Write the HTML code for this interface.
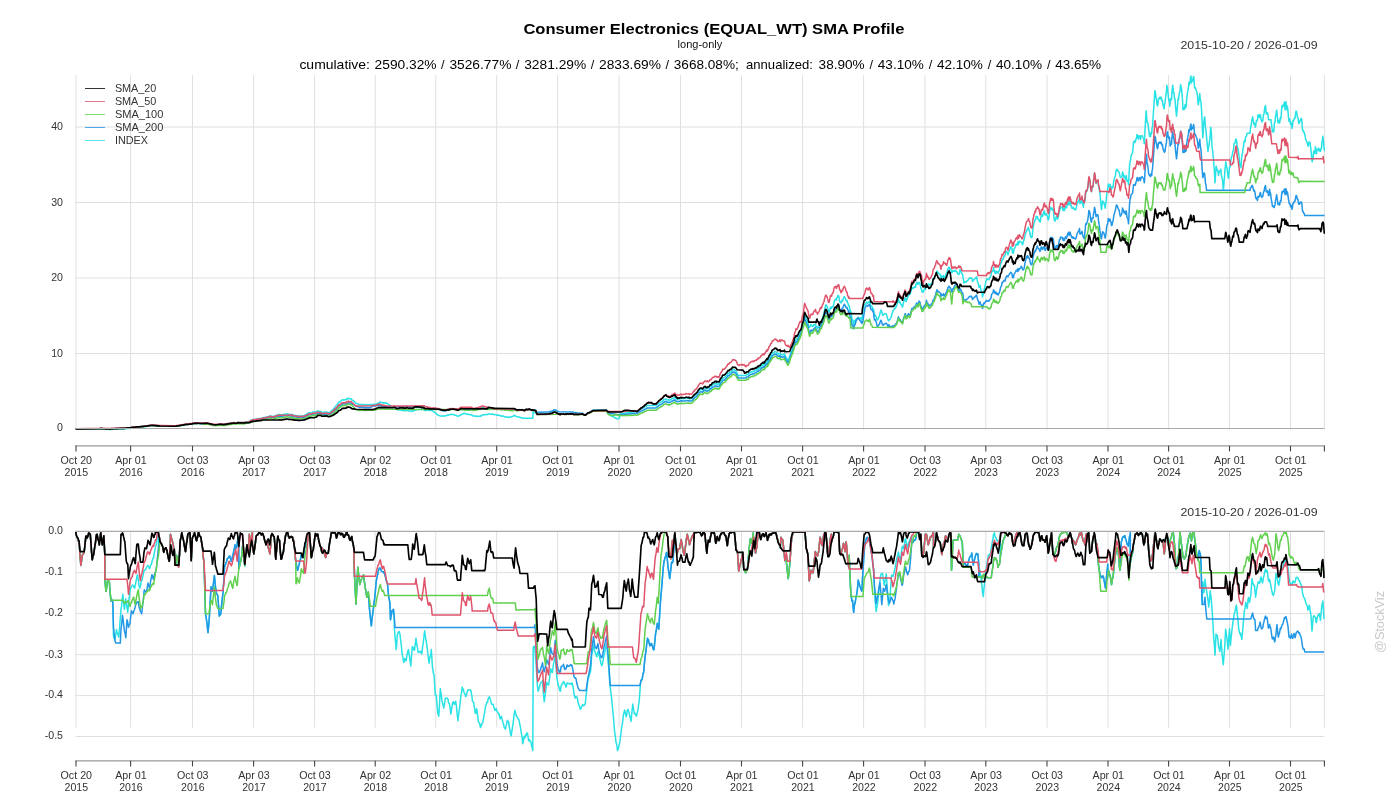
<!DOCTYPE html><html><head><meta charset="utf-8"><title>SMA Profile</title><style>html,body{margin:0;padding:0;background:#fff}svg{display:block;will-change:transform}text{font-family:"Liberation Sans",sans-serif}</style></head><body>
<svg width="1400" height="800" viewBox="0 0 1400 800">
<rect width="1400" height="800" fill="#fff"/>
<g stroke="#dfdfdf" stroke-width="1" fill="none">
<line x1="76.0" y1="75.2" x2="76.0" y2="429.6"/>
<line x1="130.6" y1="75.2" x2="130.6" y2="429.6"/>
<line x1="192.5" y1="75.2" x2="192.5" y2="429.6"/>
<line x1="253.6" y1="75.2" x2="253.6" y2="429.6"/>
<line x1="314.6" y1="75.2" x2="314.6" y2="429.6"/>
<line x1="375.2" y1="75.2" x2="375.2" y2="429.6"/>
<line x1="435.8" y1="75.2" x2="435.8" y2="429.6"/>
<line x1="496.7" y1="75.2" x2="496.7" y2="429.6"/>
<line x1="557.6" y1="75.2" x2="557.6" y2="429.6"/>
<line x1="619.0" y1="75.2" x2="619.0" y2="429.6"/>
<line x1="680.5" y1="75.2" x2="680.5" y2="429.6"/>
<line x1="741.5" y1="75.2" x2="741.5" y2="429.6"/>
<line x1="802.6" y1="75.2" x2="802.6" y2="429.6"/>
<line x1="863.6" y1="75.2" x2="863.6" y2="429.6"/>
<line x1="925.0" y1="75.2" x2="925.0" y2="429.6"/>
<line x1="985.8" y1="75.2" x2="985.8" y2="429.6"/>
<line x1="1047.0" y1="75.2" x2="1047.0" y2="429.6"/>
<line x1="1108.0" y1="75.2" x2="1108.0" y2="429.6"/>
<line x1="1168.6" y1="75.2" x2="1168.6" y2="429.6"/>
<line x1="1229.5" y1="75.2" x2="1229.5" y2="429.6"/>
<line x1="1290.5" y1="75.2" x2="1290.5" y2="429.6"/>
<line x1="1324.4" y1="75.2" x2="1324.4" y2="429.6"/>
<line x1="75.6" y1="127.0" x2="1324.4" y2="127.0"/>
<line x1="75.6" y1="202.5" x2="1324.4" y2="202.5"/>
<line x1="75.6" y1="278.0" x2="1324.4" y2="278.0"/>
<line x1="75.6" y1="353.5" x2="1324.4" y2="353.5"/>
</g>
<g stroke="#dfdfdf" stroke-width="1" fill="none">
<line x1="76.0" y1="531.5" x2="76.0" y2="727.6"/>
<line x1="130.6" y1="531.5" x2="130.6" y2="727.6"/>
<line x1="192.5" y1="531.5" x2="192.5" y2="727.6"/>
<line x1="253.6" y1="531.5" x2="253.6" y2="727.6"/>
<line x1="314.6" y1="531.5" x2="314.6" y2="727.6"/>
<line x1="375.2" y1="531.5" x2="375.2" y2="727.6"/>
<line x1="435.8" y1="531.5" x2="435.8" y2="727.6"/>
<line x1="496.7" y1="531.5" x2="496.7" y2="727.6"/>
<line x1="557.6" y1="531.5" x2="557.6" y2="727.6"/>
<line x1="619.0" y1="531.5" x2="619.0" y2="727.6"/>
<line x1="680.5" y1="531.5" x2="680.5" y2="727.6"/>
<line x1="741.5" y1="531.5" x2="741.5" y2="727.6"/>
<line x1="802.6" y1="531.5" x2="802.6" y2="727.6"/>
<line x1="863.6" y1="531.5" x2="863.6" y2="727.6"/>
<line x1="925.0" y1="531.5" x2="925.0" y2="727.6"/>
<line x1="985.8" y1="531.5" x2="985.8" y2="727.6"/>
<line x1="1047.0" y1="531.5" x2="1047.0" y2="727.6"/>
<line x1="1108.0" y1="531.5" x2="1108.0" y2="727.6"/>
<line x1="1168.6" y1="531.5" x2="1168.6" y2="727.6"/>
<line x1="1229.5" y1="531.5" x2="1229.5" y2="727.6"/>
<line x1="1290.5" y1="531.5" x2="1290.5" y2="727.6"/>
<line x1="1324.4" y1="531.5" x2="1324.4" y2="727.6"/>
<line x1="75.6" y1="572.6" x2="1324.4" y2="572.6"/>
<line x1="75.6" y1="613.6" x2="1324.4" y2="613.6"/>
<line x1="75.6" y1="654.7" x2="1324.4" y2="654.7"/>
<line x1="75.6" y1="695.6" x2="1324.4" y2="695.6"/>
<line x1="75.6" y1="736.5" x2="1324.4" y2="736.5"/>
</g>
<line x1="75.1" y1="445.8" x2="1324.9" y2="445.8" stroke="#999999" stroke-width="1.3"/>
<g stroke="#444444" stroke-width="1.1">
<line x1="76.0" y1="445.8" x2="76.0" y2="451.4"/>
<line x1="130.6" y1="445.8" x2="130.6" y2="451.4"/>
<line x1="192.5" y1="445.8" x2="192.5" y2="451.4"/>
<line x1="253.6" y1="445.8" x2="253.6" y2="451.4"/>
<line x1="314.6" y1="445.8" x2="314.6" y2="451.4"/>
<line x1="375.2" y1="445.8" x2="375.2" y2="451.4"/>
<line x1="435.8" y1="445.8" x2="435.8" y2="451.4"/>
<line x1="496.7" y1="445.8" x2="496.7" y2="451.4"/>
<line x1="557.6" y1="445.8" x2="557.6" y2="451.4"/>
<line x1="619.0" y1="445.8" x2="619.0" y2="451.4"/>
<line x1="680.5" y1="445.8" x2="680.5" y2="451.4"/>
<line x1="741.5" y1="445.8" x2="741.5" y2="451.4"/>
<line x1="802.6" y1="445.8" x2="802.6" y2="451.4"/>
<line x1="863.6" y1="445.8" x2="863.6" y2="451.4"/>
<line x1="925.0" y1="445.8" x2="925.0" y2="451.4"/>
<line x1="985.8" y1="445.8" x2="985.8" y2="451.4"/>
<line x1="1047.0" y1="445.8" x2="1047.0" y2="451.4"/>
<line x1="1108.0" y1="445.8" x2="1108.0" y2="451.4"/>
<line x1="1168.6" y1="445.8" x2="1168.6" y2="451.4"/>
<line x1="1229.5" y1="445.8" x2="1229.5" y2="451.4"/>
<line x1="1290.5" y1="445.8" x2="1290.5" y2="451.4"/>
<line x1="1324.4" y1="445.8" x2="1324.4" y2="451.4"/>
</g>
<g font-size="10.6" fill="#333333" text-anchor="middle">
<text x="76.3" y="464.2" textLength="31.5" lengthAdjust="spacingAndGlyphs">Oct 20</text>
<text x="76.3" y="475.8" textLength="23.5" lengthAdjust="spacingAndGlyphs">2015</text>
<text x="130.9" y="464.2" textLength="31.5" lengthAdjust="spacingAndGlyphs">Apr 01</text>
<text x="130.9" y="475.8" textLength="23.5" lengthAdjust="spacingAndGlyphs">2016</text>
<text x="192.8" y="464.2" textLength="31.5" lengthAdjust="spacingAndGlyphs">Oct 03</text>
<text x="192.8" y="475.8" textLength="23.5" lengthAdjust="spacingAndGlyphs">2016</text>
<text x="253.9" y="464.2" textLength="31.5" lengthAdjust="spacingAndGlyphs">Apr 03</text>
<text x="253.9" y="475.8" textLength="23.5" lengthAdjust="spacingAndGlyphs">2017</text>
<text x="314.9" y="464.2" textLength="31.5" lengthAdjust="spacingAndGlyphs">Oct 03</text>
<text x="314.9" y="475.8" textLength="23.5" lengthAdjust="spacingAndGlyphs">2017</text>
<text x="375.5" y="464.2" textLength="31.5" lengthAdjust="spacingAndGlyphs">Apr 02</text>
<text x="375.5" y="475.8" textLength="23.5" lengthAdjust="spacingAndGlyphs">2018</text>
<text x="436.1" y="464.2" textLength="31.5" lengthAdjust="spacingAndGlyphs">Oct 01</text>
<text x="436.1" y="475.8" textLength="23.5" lengthAdjust="spacingAndGlyphs">2018</text>
<text x="497.0" y="464.2" textLength="31.5" lengthAdjust="spacingAndGlyphs">Apr 01</text>
<text x="497.0" y="475.8" textLength="23.5" lengthAdjust="spacingAndGlyphs">2019</text>
<text x="557.9" y="464.2" textLength="31.5" lengthAdjust="spacingAndGlyphs">Oct 01</text>
<text x="557.9" y="475.8" textLength="23.5" lengthAdjust="spacingAndGlyphs">2019</text>
<text x="619.3" y="464.2" textLength="31.5" lengthAdjust="spacingAndGlyphs">Apr 01</text>
<text x="619.3" y="475.8" textLength="23.5" lengthAdjust="spacingAndGlyphs">2020</text>
<text x="680.8" y="464.2" textLength="31.5" lengthAdjust="spacingAndGlyphs">Oct 01</text>
<text x="680.8" y="475.8" textLength="23.5" lengthAdjust="spacingAndGlyphs">2020</text>
<text x="741.8" y="464.2" textLength="31.5" lengthAdjust="spacingAndGlyphs">Apr 01</text>
<text x="741.8" y="475.8" textLength="23.5" lengthAdjust="spacingAndGlyphs">2021</text>
<text x="802.9" y="464.2" textLength="31.5" lengthAdjust="spacingAndGlyphs">Oct 01</text>
<text x="802.9" y="475.8" textLength="23.5" lengthAdjust="spacingAndGlyphs">2021</text>
<text x="863.9" y="464.2" textLength="31.5" lengthAdjust="spacingAndGlyphs">Apr 01</text>
<text x="863.9" y="475.8" textLength="23.5" lengthAdjust="spacingAndGlyphs">2022</text>
<text x="925.3" y="464.2" textLength="31.5" lengthAdjust="spacingAndGlyphs">Oct 03</text>
<text x="925.3" y="475.8" textLength="23.5" lengthAdjust="spacingAndGlyphs">2022</text>
<text x="986.1" y="464.2" textLength="31.5" lengthAdjust="spacingAndGlyphs">Apr 03</text>
<text x="986.1" y="475.8" textLength="23.5" lengthAdjust="spacingAndGlyphs">2023</text>
<text x="1047.3" y="464.2" textLength="31.5" lengthAdjust="spacingAndGlyphs">Oct 03</text>
<text x="1047.3" y="475.8" textLength="23.5" lengthAdjust="spacingAndGlyphs">2023</text>
<text x="1108.3" y="464.2" textLength="31.5" lengthAdjust="spacingAndGlyphs">Apr 01</text>
<text x="1108.3" y="475.8" textLength="23.5" lengthAdjust="spacingAndGlyphs">2024</text>
<text x="1168.9" y="464.2" textLength="31.5" lengthAdjust="spacingAndGlyphs">Oct 01</text>
<text x="1168.9" y="475.8" textLength="23.5" lengthAdjust="spacingAndGlyphs">2024</text>
<text x="1229.8" y="464.2" textLength="31.5" lengthAdjust="spacingAndGlyphs">Apr 01</text>
<text x="1229.8" y="475.8" textLength="23.5" lengthAdjust="spacingAndGlyphs">2025</text>
<text x="1290.8" y="464.2" textLength="31.5" lengthAdjust="spacingAndGlyphs">Oct 01</text>
<text x="1290.8" y="475.8" textLength="23.5" lengthAdjust="spacingAndGlyphs">2025</text>
</g>
<line x1="75.1" y1="760.8" x2="1324.9" y2="760.8" stroke="#999999" stroke-width="1.3"/>
<g stroke="#444444" stroke-width="1.1">
<line x1="76.0" y1="760.8" x2="76.0" y2="766.4"/>
<line x1="130.6" y1="760.8" x2="130.6" y2="766.4"/>
<line x1="192.5" y1="760.8" x2="192.5" y2="766.4"/>
<line x1="253.6" y1="760.8" x2="253.6" y2="766.4"/>
<line x1="314.6" y1="760.8" x2="314.6" y2="766.4"/>
<line x1="375.2" y1="760.8" x2="375.2" y2="766.4"/>
<line x1="435.8" y1="760.8" x2="435.8" y2="766.4"/>
<line x1="496.7" y1="760.8" x2="496.7" y2="766.4"/>
<line x1="557.6" y1="760.8" x2="557.6" y2="766.4"/>
<line x1="619.0" y1="760.8" x2="619.0" y2="766.4"/>
<line x1="680.5" y1="760.8" x2="680.5" y2="766.4"/>
<line x1="741.5" y1="760.8" x2="741.5" y2="766.4"/>
<line x1="802.6" y1="760.8" x2="802.6" y2="766.4"/>
<line x1="863.6" y1="760.8" x2="863.6" y2="766.4"/>
<line x1="925.0" y1="760.8" x2="925.0" y2="766.4"/>
<line x1="985.8" y1="760.8" x2="985.8" y2="766.4"/>
<line x1="1047.0" y1="760.8" x2="1047.0" y2="766.4"/>
<line x1="1108.0" y1="760.8" x2="1108.0" y2="766.4"/>
<line x1="1168.6" y1="760.8" x2="1168.6" y2="766.4"/>
<line x1="1229.5" y1="760.8" x2="1229.5" y2="766.4"/>
<line x1="1290.5" y1="760.8" x2="1290.5" y2="766.4"/>
<line x1="1324.4" y1="760.8" x2="1324.4" y2="766.4"/>
</g>
<g font-size="10.6" fill="#333333" text-anchor="middle">
<text x="76.3" y="779.2" textLength="31.5" lengthAdjust="spacingAndGlyphs">Oct 20</text>
<text x="76.3" y="790.8" textLength="23.5" lengthAdjust="spacingAndGlyphs">2015</text>
<text x="130.9" y="779.2" textLength="31.5" lengthAdjust="spacingAndGlyphs">Apr 01</text>
<text x="130.9" y="790.8" textLength="23.5" lengthAdjust="spacingAndGlyphs">2016</text>
<text x="192.8" y="779.2" textLength="31.5" lengthAdjust="spacingAndGlyphs">Oct 03</text>
<text x="192.8" y="790.8" textLength="23.5" lengthAdjust="spacingAndGlyphs">2016</text>
<text x="253.9" y="779.2" textLength="31.5" lengthAdjust="spacingAndGlyphs">Apr 03</text>
<text x="253.9" y="790.8" textLength="23.5" lengthAdjust="spacingAndGlyphs">2017</text>
<text x="314.9" y="779.2" textLength="31.5" lengthAdjust="spacingAndGlyphs">Oct 03</text>
<text x="314.9" y="790.8" textLength="23.5" lengthAdjust="spacingAndGlyphs">2017</text>
<text x="375.5" y="779.2" textLength="31.5" lengthAdjust="spacingAndGlyphs">Apr 02</text>
<text x="375.5" y="790.8" textLength="23.5" lengthAdjust="spacingAndGlyphs">2018</text>
<text x="436.1" y="779.2" textLength="31.5" lengthAdjust="spacingAndGlyphs">Oct 01</text>
<text x="436.1" y="790.8" textLength="23.5" lengthAdjust="spacingAndGlyphs">2018</text>
<text x="497.0" y="779.2" textLength="31.5" lengthAdjust="spacingAndGlyphs">Apr 01</text>
<text x="497.0" y="790.8" textLength="23.5" lengthAdjust="spacingAndGlyphs">2019</text>
<text x="557.9" y="779.2" textLength="31.5" lengthAdjust="spacingAndGlyphs">Oct 01</text>
<text x="557.9" y="790.8" textLength="23.5" lengthAdjust="spacingAndGlyphs">2019</text>
<text x="619.3" y="779.2" textLength="31.5" lengthAdjust="spacingAndGlyphs">Apr 01</text>
<text x="619.3" y="790.8" textLength="23.5" lengthAdjust="spacingAndGlyphs">2020</text>
<text x="680.8" y="779.2" textLength="31.5" lengthAdjust="spacingAndGlyphs">Oct 01</text>
<text x="680.8" y="790.8" textLength="23.5" lengthAdjust="spacingAndGlyphs">2020</text>
<text x="741.8" y="779.2" textLength="31.5" lengthAdjust="spacingAndGlyphs">Apr 01</text>
<text x="741.8" y="790.8" textLength="23.5" lengthAdjust="spacingAndGlyphs">2021</text>
<text x="802.9" y="779.2" textLength="31.5" lengthAdjust="spacingAndGlyphs">Oct 01</text>
<text x="802.9" y="790.8" textLength="23.5" lengthAdjust="spacingAndGlyphs">2021</text>
<text x="863.9" y="779.2" textLength="31.5" lengthAdjust="spacingAndGlyphs">Apr 01</text>
<text x="863.9" y="790.8" textLength="23.5" lengthAdjust="spacingAndGlyphs">2022</text>
<text x="925.3" y="779.2" textLength="31.5" lengthAdjust="spacingAndGlyphs">Oct 03</text>
<text x="925.3" y="790.8" textLength="23.5" lengthAdjust="spacingAndGlyphs">2022</text>
<text x="986.1" y="779.2" textLength="31.5" lengthAdjust="spacingAndGlyphs">Apr 03</text>
<text x="986.1" y="790.8" textLength="23.5" lengthAdjust="spacingAndGlyphs">2023</text>
<text x="1047.3" y="779.2" textLength="31.5" lengthAdjust="spacingAndGlyphs">Oct 03</text>
<text x="1047.3" y="790.8" textLength="23.5" lengthAdjust="spacingAndGlyphs">2023</text>
<text x="1108.3" y="779.2" textLength="31.5" lengthAdjust="spacingAndGlyphs">Apr 01</text>
<text x="1108.3" y="790.8" textLength="23.5" lengthAdjust="spacingAndGlyphs">2024</text>
<text x="1168.9" y="779.2" textLength="31.5" lengthAdjust="spacingAndGlyphs">Oct 01</text>
<text x="1168.9" y="790.8" textLength="23.5" lengthAdjust="spacingAndGlyphs">2024</text>
<text x="1229.8" y="779.2" textLength="31.5" lengthAdjust="spacingAndGlyphs">Apr 01</text>
<text x="1229.8" y="790.8" textLength="23.5" lengthAdjust="spacingAndGlyphs">2025</text>
<text x="1290.8" y="779.2" textLength="31.5" lengthAdjust="spacingAndGlyphs">Oct 01</text>
<text x="1290.8" y="790.8" textLength="23.5" lengthAdjust="spacingAndGlyphs">2025</text>
</g>
<g font-size="10.6" fill="#333333" text-anchor="end">
<text x="63" y="130.0">40</text>
<text x="63" y="205.5">30</text>
<text x="63" y="281.0">20</text>
<text x="63" y="356.5">10</text>
<text x="63" y="430.9">0</text>
<text x="63" y="534.3">0.0</text>
<text x="63" y="575.4">-0.1</text>
<text x="63" y="616.4">-0.2</text>
<text x="63" y="657.5">-0.3</text>
<text x="63" y="698.4">-0.4</text>
<text x="63" y="739.3">-0.5</text>
</g>
<defs><clipPath id="ct"><rect x="75.0" y="74.5" width="1250.0" height="360.0"/></clipPath><clipPath id="cb"><rect x="75.0" y="530.8" width="1250.0" height="225.0"/></clipPath></defs>
<g clip-path="url(#ct)" fill="none" stroke-linejoin="round" stroke-linecap="butt">
<path d="M75.7 428.9L100.0 428.6L100.5 428.5L101.0 428.6L101.5 428.7L102.0 428.6L102.5 428.7L103.0 428.7L103.5 428.7L104.0 428.7L104.5 428.7L105.0 428.8L105.5 428.8L106.0 428.9L106.5 428.9L107.0 428.9L107.5 428.8L108.0 428.8L108.5 429.4L109.0 429.4L109.5 429.4L110.0 429.5L110.5 429.4L111.0 429.5L111.5 429.3L112.0 429.3L112.5 429.3L113.0 429.3L113.5 429.3L114.0 429.3L114.5 429.2L115.0 429.2L115.5 429.2L116.0 429.2L116.5 429.2L117.0 429.2L117.5 429.1L118.0 429.1L118.5 429.0L119.0 429.1L119.5 429.1L120.0 429.0L120.5 429.0L121.0 429.0L121.5 429.0L122.0 429.0L122.5 428.9L123.0 428.9L123.5 428.9L124.0 428.9L124.5 428.9L125.0 428.8L125.5 428.7L126.0 428.7L126.5 428.6L127.0 428.6L127.5 428.4L128.0 428.4L128.5 428.3L129.0 428.4L129.5 428.5L130.0 428.5L130.5 428.3L130.7 428.2L131.0 428.2L131.5 428.1L132.0 428.0L132.5 427.8L133.0 427.8L133.5 427.7L134.0 427.7L134.5 427.7L135.0 427.7L135.5 427.6L136.0 427.5L136.5 427.4L137.0 427.3L137.5 427.3L138.0 427.4L138.5 427.4L139.0 427.4L139.5 427.3L140.0 427.2L140.5 427.2L141.0 427.1L141.5 427.1L142.0 427.2L142.5 427.0L143.0 427.0L143.5 427.0L144.0 426.8L144.5 426.8L145.0 426.8L145.5 426.8L146.0 426.1L146.5 426.1L147.0 426.0L147.5 425.9L148.0 425.8L148.5 425.8L149.0 425.6L149.5 425.7L150.0 425.6L150.5 425.5L151.0 425.5L151.5 425.5L152.0 425.4L152.5 425.4L153.0 425.4L153.5 425.6L154.0 425.5L154.5 425.5L155.0 425.6L155.5 425.6L156.0 425.8L156.5 425.8L157.0 425.6L157.5 425.8L158.0 425.8L158.5 425.8L159.0 425.9L159.5 425.9L160.0 426.0L175.0 426.2L175.5 426.2L176.0 426.2L176.5 426.1L177.0 426.0L177.5 426.0L178.0 425.8L178.5 425.8L179.0 425.7L179.5 425.7L180.0 425.4L180.5 425.4L181.0 425.4L181.5 425.3L182.0 425.2L182.5 425.1L183.0 425.0L183.5 424.9L184.0 424.8L184.5 424.8L185.0 424.6L185.5 424.5L186.0 424.5L186.5 424.4L187.0 424.5L187.5 424.5L188.0 424.4L188.5 424.3L189.0 424.2L189.5 424.1L190.0 424.1L190.5 424.0L191.0 424.1L191.5 424.0L192.0 423.9L192.5 423.6L193.0 423.6L193.5 423.6L194.0 423.4L194.5 423.3L195.0 423.3L195.5 423.3L196.0 423.5L196.5 423.4L197.0 423.2L197.5 423.4L198.0 423.3L198.5 423.2L198.6 423.2L199.0 423.2L199.5 423.4L200.0 423.5L200.5 423.5L201.0 423.4L201.5 423.5L202.0 423.5L202.5 423.5L203.0 423.5L203.5 423.5L204.0 423.3L204.5 423.4L205.0 423.3L205.5 423.4L206.0 423.3L206.5 423.3L207.0 423.2L207.5 423.4L208.0 423.4L208.5 423.6L209.0 423.7L209.5 423.8L210.0 423.8L210.5 424.0L211.0 424.1L211.5 424.2L212.0 424.3L212.5 424.6L212.9 424.6L213.0 424.6L213.5 424.7L214.0 424.7L214.5 424.7L215.0 424.8L215.5 424.9L216.0 424.7L216.5 424.7L217.0 424.7L217.5 424.7L218.0 424.6L218.5 424.5L219.0 424.5L219.5 424.3L220.0 424.5L220.5 424.4L221.0 424.5L221.5 424.4L222.0 424.4L222.5 424.5L223.0 424.6L223.5 424.5L224.0 424.7L224.5 424.5L225.0 424.4L225.5 423.9L226.0 423.7L226.5 423.8L227.0 423.6L227.5 423.5L228.0 423.5L228.5 423.4L229.0 423.3L229.5 423.2L230.0 423.2L230.5 423.1L231.0 423.0L231.5 422.9L232.0 422.9L232.5 422.7L233.0 422.7L233.5 422.5L234.0 422.5L234.5 422.7L235.0 422.7L235.5 422.7L236.0 422.8L236.5 422.7L237.0 422.6L237.5 422.3L238.0 422.3L238.5 422.4L239.0 422.4L239.5 422.5L240.0 422.4L240.5 422.4L241.0 422.5L241.4 422.4L241.5 422.4L242.0 422.4L242.5 422.5L243.0 422.5L243.5 422.6L244.0 422.4L244.5 422.4L245.0 422.4L245.5 422.2L246.0 422.3L246.5 422.1L247.0 422.1L247.5 422.3L248.0 422.2L248.5 422.1L249.0 422.0L249.5 422.0L250.0 420.8L250.5 420.5L251.0 420.3L251.5 420.1L252.0 419.8L252.5 419.7L253.0 419.4L253.5 419.4L254.0 419.3L254.5 419.4L255.0 419.4L255.5 419.3L256.0 419.1L256.5 418.9L257.0 418.9L257.5 418.9L258.0 418.8L258.5 418.6L259.0 418.6L259.5 418.5L260.0 418.5L260.5 418.5L261.0 418.4L261.5 418.4L262.0 418.0L262.5 417.8L262.9 417.8L263.0 417.8L263.5 417.7L264.0 417.5L264.5 417.6L265.0 417.5L265.5 417.2L266.0 417.2L266.5 417.0L267.0 417.1L267.5 416.9L268.0 417.0L268.5 416.7L269.0 416.4L269.5 416.1L270.0 416.1L270.5 415.9L271.0 415.9L271.5 416.2L272.0 416.4L272.5 416.5L273.0 416.3L273.5 416.4L274.0 416.4L274.5 416.2L275.0 415.7L275.5 415.9L276.0 415.4L276.5 415.4L277.0 415.1L277.5 415.2L278.0 414.7L278.5 414.9L278.6 414.8L279.0 414.7L279.5 414.4L280.0 414.7L280.5 414.8L281.0 414.8L281.5 415.0L282.0 414.9L282.5 414.6L283.0 414.4L283.5 414.5L284.0 414.1L284.5 414.4L285.0 414.3L285.5 414.3L286.0 414.1L286.5 413.9L287.0 413.6L287.5 414.0L288.0 414.1L288.5 414.3L288.6 414.3L289.0 414.2L289.5 414.4L290.0 414.4L290.5 414.4L291.0 414.5L291.5 414.6L292.0 414.7L292.5 414.5L293.0 415.0L293.5 415.1L294.0 415.4L294.5 415.4L295.0 415.4L295.5 415.5L296.0 415.5L296.5 415.8L297.0 415.7L297.5 415.7L298.0 415.9L298.5 415.9L299.0 415.9L299.5 415.9L300.0 416.0L300.5 416.2L301.0 416.0L301.5 415.9L302.0 415.9L302.5 416.0L303.0 415.7L303.5 415.7L304.0 415.7L304.3 415.8L304.5 415.7L305.0 415.1L305.5 415.1L306.0 414.7L306.5 414.3L307.0 414.0L307.5 413.7L308.0 413.4L308.5 412.9L308.6 412.8L309.0 412.6L309.5 412.8L310.0 412.8L310.5 412.7L311.0 412.9L311.5 412.9L312.0 412.7L312.5 412.1L313.0 412.1L313.5 412.0L314.0 412.1L314.5 411.7L315.0 411.7L315.5 411.8L316.0 411.8L316.5 411.7L317.0 411.2L317.1 411.1L317.5 410.9L318.0 411.0L318.5 411.3L319.0 411.3L319.5 411.4L320.0 411.3L320.5 411.4L321.0 411.4L321.5 412.1L322.0 412.3L322.5 412.4L323.0 412.4L323.5 412.3L324.0 412.1L324.5 412.1L325.0 412.1L325.5 412.1L326.0 412.1L326.5 411.9L327.0 412.1L327.5 412.4L328.0 412.6L328.5 412.8L328.6 412.8L329.0 412.5L329.5 412.2L330.0 412.0L330.5 411.7L331.0 411.3L331.5 410.7L332.0 410.2L332.5 409.8L333.0 409.5L333.5 408.9L334.0 408.2L334.5 407.7L335.0 406.9L335.5 406.2L335.7 406.0L336.0 405.9L336.5 405.7L337.0 405.1L337.5 404.2L338.0 403.5L338.5 402.6L339.0 402.1L339.5 402.1L340.0 401.6L340.5 401.5L341.0 401.0L341.4 400.3L341.5 400.2L342.0 400.0L342.5 399.7L343.0 399.8L343.5 400.1L344.0 399.9L344.5 399.9L345.0 399.7L345.5 399.6L346.0 399.9L346.5 399.1L347.0 398.6L347.5 399.0L348.0 398.7L348.5 398.1L349.0 398.6L349.5 398.8L350.0 398.9L350.5 399.0L351.0 398.7L351.4 398.9L351.5 399.1L352.0 399.9L352.5 400.5L353.0 400.4L353.5 400.9L354.0 401.4L354.5 401.9L355.0 402.6L355.5 402.9L355.7 403.2L356.0 403.3L356.5 403.3L357.0 403.7L357.5 403.7L358.0 403.9L358.5 404.1L359.0 404.6L359.5 404.6L360.0 404.7L360.5 404.6L361.0 404.3L361.5 404.6L362.0 404.4L362.5 404.6L363.0 404.8L363.5 404.4L364.0 404.8L364.5 404.9L365.0 404.8L365.5 405.0L366.0 404.6L366.5 404.6L367.0 404.5L367.5 404.9L368.0 404.9L368.5 405.0L369.0 404.8L369.5 404.4L370.0 404.5L370.5 404.8L371.0 405.0L371.5 404.9L372.0 404.4L372.5 404.6L372.9 404.6L373.0 404.5L373.5 404.4L374.0 404.3L374.5 404.5L375.0 404.5L375.5 404.3L376.0 404.0L376.5 403.9L377.0 403.6L377.5 403.6L378.0 403.3L378.5 403.3L379.0 402.7L379.5 402.3L380.0 402.0L380.5 402.1L381.0 402.4L381.5 402.7L382.0 402.6L382.5 402.7L383.0 402.5L383.5 403.0L384.0 403.3L384.5 403.0L385.0 403.0L385.5 402.8L386.0 402.9L386.5 403.2L387.0 403.2L387.1 403.2L387.5 403.5L388.0 404.0L388.5 404.4L389.0 404.5L389.5 405.2L390.0 405.4L390.5 406.0L391.0 406.1L391.4 406.7L391.5 406.8L392.0 406.8L392.5 406.9L393.0 407.2L393.5 407.2L394.0 407.5L394.5 407.4L395.0 407.7L395.5 408.1L396.0 408.6L396.5 409.4L397.0 409.7L397.5 409.7L398.0 409.5L398.5 409.6L399.0 410.0L399.5 409.9L400.0 409.5L400.5 410.0L401.0 410.2L401.4 410.3L401.5 410.3L402.0 410.6L402.5 410.2L403.0 410.4L403.5 410.4L404.0 410.8L404.5 410.7L405.0 410.6L405.5 410.6L406.0 410.8L406.5 410.3L407.0 410.4L407.5 410.4L408.0 410.7L408.5 411.0L409.0 411.1L409.5 410.9L410.0 410.9L410.5 410.9L411.0 410.9L411.4 411.0L411.5 411.0L412.0 411.4L412.5 411.2L413.0 410.9L413.5 411.0L414.0 410.3L414.5 410.4L415.0 410.1L415.5 410.0L416.0 409.7L416.5 410.1L417.0 409.8L417.5 409.6L418.0 409.6L418.5 409.4L419.0 409.5L419.5 409.4L420.0 409.5L420.5 409.4L421.0 409.4L421.4 409.6L421.5 409.7L422.0 409.4L422.5 409.2L423.0 409.6L423.5 409.7L424.0 409.8L424.5 409.9L425.0 410.5L425.5 410.5L426.0 410.4L426.5 410.4L427.0 410.2L427.5 410.1L428.0 410.2L428.5 410.4L429.0 410.5L429.5 409.9L430.0 410.0L430.5 410.5L431.0 410.5L431.4 410.3L431.5 410.3L432.0 410.6L432.5 410.8L433.0 411.1L433.5 411.8L434.0 411.8L434.5 412.1L435.0 412.4L435.5 412.9L436.0 413.3L436.5 413.9L437.0 414.3L437.5 414.6L438.0 415.1L438.5 415.2L438.6 415.3L439.0 415.4L439.5 415.7L440.0 415.9L440.5 416.0L441.0 416.0L441.5 415.9L442.0 416.2L442.5 416.1L443.0 416.1L443.5 416.0L444.0 416.0L444.5 416.1L445.0 416.1L445.5 415.8L446.0 415.6L446.5 415.6L447.0 415.4L447.5 415.2L448.0 415.0L448.5 415.2L449.0 414.9L449.5 414.6L450.0 414.3L450.5 414.6L451.0 414.5L451.5 414.4L452.0 414.6L452.5 414.5L453.0 414.6L453.5 414.6L454.0 414.8L454.5 415.1L455.0 415.2L455.5 415.3L456.0 415.5L456.5 415.5L457.0 416.0L457.5 416.0L458.0 416.2L458.5 416.0L458.6 416.0L459.0 415.8L459.5 415.7L460.0 415.2L460.5 414.9L461.0 414.6L461.5 414.7L462.0 414.4L462.5 414.2L463.0 413.8L463.5 413.5L464.0 413.3L464.3 413.2L464.5 413.3L465.0 413.4L465.5 414.0L466.0 414.0L466.5 414.0L467.0 414.0L467.5 414.3L468.0 414.3L468.5 414.5L469.0 414.5L469.5 414.6L470.0 414.7L470.5 414.8L471.0 414.8L471.5 414.9L472.0 414.9L472.5 415.7L473.0 415.8L473.5 415.9L474.0 416.2L474.5 416.0L475.0 415.9L475.5 416.0L476.0 416.4L476.5 416.1L477.0 416.3L477.5 416.2L478.0 416.2L478.5 416.4L479.0 416.3L479.5 416.2L480.0 416.3L480.5 416.2L481.0 415.6L481.5 415.7L482.0 415.2L482.5 415.0L483.0 414.9L483.5 414.9L484.0 414.7L484.5 414.9L485.0 414.7L485.5 414.4L486.0 414.6L486.5 414.7L487.0 414.5L487.5 414.6L488.0 414.2L488.5 414.0L489.0 414.0L489.3 414.0L489.5 414.1L490.0 414.1L490.5 414.1L491.0 414.2L491.5 414.2L492.0 414.1L492.5 414.1L493.0 414.2L493.5 414.5L494.0 414.5L494.5 414.4L495.0 414.6L495.5 414.8L496.0 414.8L496.5 415.1L497.0 415.2L497.5 415.2L498.0 415.1L498.5 415.2L499.0 415.1L499.5 415.4L500.0 415.6L500.5 415.9L501.0 415.8L501.5 416.0L502.0 416.2L502.5 416.1L503.0 416.1L503.5 416.1L504.0 416.5L504.5 416.7L505.0 416.8L505.5 416.9L506.0 416.9L506.5 417.1L507.0 417.0L507.5 416.9L508.0 417.2L508.5 417.3L508.6 417.4L509.0 417.5L509.5 417.3L510.0 417.0L510.5 417.1L511.0 417.0L511.5 416.7L512.0 416.5L512.5 416.4L513.0 416.3L513.5 415.9L514.0 415.4L514.3 415.3L514.5 415.4L515.0 415.6L515.5 416.1L516.0 416.3L516.5 416.6L517.0 416.7L517.5 416.9L518.0 416.9L518.5 417.1L519.0 417.1L519.5 417.1L520.0 417.4L520.5 417.5L521.0 417.7L521.5 417.7L522.0 417.7L522.5 418.0L522.9 418.3L532.9 418.3L533.1 411.0L533.5 411.4L534.0 411.7L534.5 412.3L535.0 412.7L535.5 413.2L536.0 413.4L536.5 413.9L537.0 414.2L537.1 414.3L537.5 414.3L538.0 414.4L538.5 414.4L539.0 414.4L539.5 414.4L540.0 414.2L540.5 414.2L541.0 414.1L541.5 414.0L542.0 414.1L542.5 413.9L543.0 414.2L543.5 414.4L544.0 414.4L544.5 414.2L545.0 414.3L545.5 414.4L546.0 414.4L546.5 414.4L547.0 414.3L547.5 414.2L548.0 413.9L548.5 413.8L548.6 413.8L549.0 413.8L549.5 413.7L550.0 413.3L550.5 413.2L551.0 413.3L551.5 413.1L552.0 413.1L552.5 412.8L553.0 412.4L553.5 412.0L554.0 412.0L554.3 411.8L554.5 411.8L555.0 411.8L555.5 412.1L556.0 412.3L556.5 412.5L557.0 412.8L557.5 413.2L558.0 413.4L558.5 413.8L558.6 413.8L559.0 413.7L559.5 414.2L560.0 414.2L560.5 414.3L561.0 413.7L561.5 413.9L562.0 413.9L562.5 413.9L563.0 413.9L563.5 413.7L564.0 414.0L564.5 414.1L565.0 414.0L565.5 413.8L566.0 414.1L566.5 414.0L567.0 413.6L567.5 413.7L568.0 413.9L568.5 413.9L569.0 413.9L569.5 413.8L570.0 413.7L570.5 413.6L571.0 413.7L571.5 413.9L572.0 413.6L572.5 413.7L573.0 413.8L573.5 414.1L574.0 414.5L574.5 414.4L575.0 414.4L575.5 414.1L576.0 414.1L576.5 414.3L577.0 414.4L577.5 414.3L578.0 414.5L578.5 414.4L579.0 414.3L579.5 414.2L580.0 414.1L580.5 414.2L581.0 414.2L581.5 414.0L582.0 414.1L582.5 413.9L583.0 414.3L583.5 414.6L584.0 414.9L584.5 414.9L585.0 415.1L585.5 415.0L585.7 414.9L586.0 414.5L586.5 414.2L587.0 413.6L587.5 413.3L588.0 412.9L588.5 412.8L589.0 412.7L589.5 412.3L590.0 412.1L590.5 412.0L591.0 411.7L591.5 411.2L592.0 410.9L592.5 410.8L592.9 410.3L606.4 409.9L606.5 410.0L607.0 410.9L607.5 411.7L608.0 412.9L608.5 413.2L608.6 413.4L609.0 413.7L609.5 414.4L610.0 414.7L610.5 415.1L611.0 415.7L611.5 416.0L612.0 416.2L612.5 416.6L613.0 416.7L613.5 416.9L614.0 417.0L614.5 417.4L615.0 417.9L615.5 417.9L616.0 418.3L616.5 418.5L617.0 418.8L617.1 418.9L617.5 418.9L618.0 418.8L618.5 418.6L619.0 418.2L619.5 418.1L620.0 414.0L620.5 413.8L621.0 413.8L621.5 413.5L622.0 413.6L622.5 413.7L623.0 413.6L623.5 413.3L624.0 413.4L624.5 413.2L625.0 413.3L625.5 413.3L626.0 413.1L626.5 413.0L627.0 412.6L627.5 412.7L628.0 412.9L628.5 412.7L629.0 412.5L629.5 412.5L630.0 412.3L630.5 412.4L631.0 412.4L631.5 412.3L632.0 412.0L632.5 412.0L633.0 412.1L633.5 412.0L634.0 411.8L634.5 411.6L635.0 411.4L635.5 411.5L636.0 411.5L636.5 411.6L637.0 411.4L637.3 411.3L637.5 411.1L638.0 411.0L638.5 410.5L639.0 410.2L639.5 409.8L640.0 409.7L640.5 409.3L641.0 408.8L641.5 408.8L642.0 408.7L642.5 408.3L643.0 407.9L643.5 408.0L644.0 407.5L644.5 407.0L645.0 406.6L645.5 406.5L646.0 406.4L646.5 406.0L647.0 405.5L656.0 405.5L656.5 405.2L657.0 404.7L657.5 404.3L658.0 404.0L658.5 403.5L659.0 403.1L659.5 402.9L660.0 402.5L660.5 402.2L661.0 401.9L661.5 401.8L662.0 401.4L662.5 401.2L663.0 400.6L663.5 400.2L664.0 399.5L664.5 399.6L665.0 399.3L665.5 399.1L665.8 398.8L666.0 398.9L666.5 399.1L667.0 399.8L667.5 399.9L668.0 400.1L668.5 399.8L669.0 400.0L669.5 400.3L670.0 399.9L670.5 399.8L671.0 399.5L671.5 399.1L672.0 398.7L672.5 398.8L673.0 398.3L673.5 397.9L674.0 398.0L674.5 397.6L674.8 397.3L675.0 397.4L675.5 398.3L676.0 398.7L676.5 398.6L677.0 399.2L677.5 399.4L677.8 399.2L678.0 398.9L678.5 399.0L679.0 399.0L679.5 399.0L680.0 398.6L680.5 398.6L681.0 398.3L681.5 398.8L682.0 398.4L682.5 398.6L683.0 398.6L683.5 398.7L684.0 398.6L684.5 398.6L685.0 398.6L685.5 398.3L686.0 398.1L686.5 398.1L687.0 398.2L687.5 398.4L688.0 398.3L688.5 398.5L689.0 398.1L689.5 398.7L690.0 398.7L690.5 398.5L691.0 398.5L691.5 398.4L692.0 398.3L692.5 397.7L693.0 397.0L693.5 396.6L694.0 395.8L694.5 395.8L695.0 394.9L695.5 394.7L696.0 394.5L696.5 393.9L697.0 393.5L697.5 392.7L698.0 392.0L698.5 391.2L699.0 390.6L699.5 390.1L700.0 389.5L700.5 389.5L701.0 389.2L701.5 389.4L702.0 389.5L702.5 389.9L703.0 389.4L703.5 388.9L704.0 388.1L704.5 387.9L704.8 387.5L705.0 387.5L705.5 388.0L706.0 388.5L706.5 388.6L707.0 389.0L707.5 388.3L708.0 388.5L708.5 388.3L709.0 388.0L709.5 387.4L710.0 386.5L710.5 386.4L711.0 386.6L711.5 386.2L712.0 385.2L712.5 384.7L713.0 384.5L713.5 384.6L714.0 384.2L714.5 383.8L715.0 383.4L715.5 383.7L716.0 383.4L716.5 384.2L717.0 383.8L717.5 383.9L718.0 384.3L718.5 384.0L719.0 384.3L719.5 383.8L719.8 383.0L720.0 382.3L720.5 381.7L721.0 380.7L721.5 380.5L722.0 379.7L722.5 378.4L723.0 377.9L723.5 377.9L724.0 377.9L724.5 377.6L725.0 377.0L725.5 376.7L726.0 375.9L726.5 375.5L727.0 374.8L727.5 374.2L728.0 373.3L728.5 373.1L729.0 373.3L729.5 372.9L730.0 372.2L730.5 371.8L731.0 371.8L731.5 371.4L732.0 370.5L732.5 369.6L733.0 369.8L733.5 369.8L734.0 369.5L734.5 370.1L735.0 370.3L735.5 370.5L736.0 371.3L736.5 371.9L737.0 373.2L737.5 374.3L738.0 374.9L738.5 375.5L746.0 375.5L746.5 374.6L747.0 374.5L747.5 374.5L748.0 374.6L748.5 374.1L749.0 373.2L749.5 372.8L750.0 372.7L750.5 372.1L751.0 372.0L751.5 371.8L752.0 371.8L752.5 371.4L753.0 371.8L753.5 371.1L754.0 371.1L754.5 371.2L755.0 370.5L755.5 370.5L756.0 370.1L756.5 370.2L757.0 369.5L757.5 368.8L758.0 368.5L758.5 368.9L759.0 368.0L759.5 367.7L760.0 367.7L760.5 366.9L761.0 366.2L761.5 365.7L762.0 365.3L762.5 365.3L763.0 364.4L763.5 364.3L764.0 365.0L764.5 364.7L765.0 363.3L765.5 363.0L766.0 361.9L766.5 361.9L767.0 360.9L767.5 361.8L768.0 360.3L768.5 360.0L769.0 358.3L769.5 357.7L770.0 357.5L770.5 356.1L771.0 355.5L771.5 355.3L772.0 353.9L772.5 353.2L773.0 353.0L773.5 352.6L774.0 352.4L774.5 351.9L775.0 351.4L775.3 351.5L775.5 351.8L776.0 351.8L776.5 352.1L777.0 353.1L777.5 352.9L778.0 353.9L778.5 353.8L779.0 353.8L779.5 353.6L780.0 353.1L780.5 355.0L781.0 354.3L781.5 354.6L782.0 354.8L782.5 354.6L783.0 354.8L783.5 354.5L784.0 354.3L784.5 353.8L785.0 355.3L785.5 356.7L786.0 357.3L786.5 357.9L787.0 358.9L787.5 360.3L788.0 360.5L788.5 359.5L789.0 358.7L789.5 356.9L790.0 355.8L790.3 354.5L790.5 353.7L791.0 352.3L791.5 351.5L792.0 349.8L792.5 349.0L793.0 346.7L793.5 345.7L794.0 344.0L794.5 341.2L795.0 341.0L795.5 340.3L796.0 339.0L796.5 339.7L797.0 339.6L797.5 338.6L798.0 337.9L798.5 336.6L799.0 335.3L799.5 334.4L800.0 333.5L800.5 331.7L801.0 331.0L801.5 329.1L802.0 327.0L802.5 324.7L803.0 323.9L803.5 322.4L804.0 318.2L804.5 315.2L804.7 314.3L805.0 315.6L805.5 317.1L806.0 317.9L806.5 319.8L807.0 320.4L807.5 321.7L808.0 322.9L808.5 325.9L808.8 327.3L809.0 327.3L809.5 327.1L810.0 326.8L810.5 325.6L811.0 324.6L811.5 325.5L812.0 325.8L812.5 326.4L813.0 326.4L813.5 324.8L814.0 325.2L814.5 324.7L815.0 324.7L815.5 324.3L816.0 326.6L816.5 326.4L817.0 326.9L817.5 328.4L818.0 327.1L818.5 326.4L819.0 327.7L819.3 328.1L819.5 327.4L820.0 325.2L820.5 323.3L821.0 323.5L821.5 322.6L822.0 320.0L822.5 318.4L823.0 317.1L823.5 314.9L824.0 313.4L824.5 310.4L825.0 307.9L825.5 306.0L826.0 304.8L826.5 306.0L827.0 305.9L827.5 308.0L828.0 309.2L828.3 310.8L828.5 311.3L829.0 312.1L829.5 311.0L830.0 309.0L830.5 306.9L831.0 307.3L831.5 308.4L832.0 307.1L832.5 306.4L833.0 306.7L833.5 305.5L834.0 302.3L834.5 300.7L835.0 299.9L835.5 299.2L836.0 299.9L836.5 300.0L837.0 297.5L837.5 297.3L838.0 295.5L838.5 295.6L839.0 297.0L839.5 300.8L840.0 301.6L840.3 302.6L840.5 302.6L841.0 302.9L841.5 301.5L842.0 300.4L842.5 301.1L843.0 299.5L843.5 298.1L844.0 297.0L844.5 296.7L845.0 297.9L845.5 298.8L846.0 300.3L846.5 300.9L847.0 300.4L847.5 302.7L848.0 303.3L848.5 305.6L849.0 305.2L849.3 306.3L849.5 307.8L850.0 310.0L850.5 310.7L851.0 312.4L851.5 315.3L852.0 319.4L852.5 319.2L853.0 321.5L853.5 324.0L853.8 324.3L854.0 323.3L854.5 320.6L855.0 321.8L855.5 321.2L856.0 318.9L856.5 319.1L857.0 318.5L857.5 318.3L858.0 317.3L858.5 317.5L859.0 318.2L859.5 318.1L860.0 318.4L860.5 318.1L861.0 319.2L861.5 317.8L862.0 319.8L862.5 313.9L863.0 311.5L863.5 308.4L864.0 306.1L864.3 304.8L864.5 304.9L865.0 304.7L865.5 303.9L866.0 303.2L866.5 302.1L867.0 302.6L867.5 303.2L868.0 302.4L868.5 302.8L868.8 301.8L869.0 301.7L869.5 301.4L870.0 302.9L870.5 304.5L871.0 306.5L871.5 306.4L872.0 306.4L872.5 307.8L873.0 309.3L873.5 309.0L874.0 314.4L874.5 316.5L875.0 315.2L875.5 315.3L876.0 316.9L876.5 317.3L877.0 319.8L877.5 320.0L878.0 319.2L878.5 318.1L879.0 316.6L879.5 315.9L880.0 313.1L880.5 311.4L881.0 310.1L881.5 310.8L882.0 313.1L882.5 314.4L883.0 315.3L883.5 315.1L884.0 314.2L884.5 314.1L885.0 313.5L885.5 313.8L886.0 313.8L886.5 314.4L887.0 316.1L887.5 318.4L888.0 319.8L888.5 320.9L889.0 319.8L889.5 319.8L890.0 319.4L890.5 318.0L891.0 317.5L891.5 316.4L892.0 313.5L892.5 312.7L893.0 310.4L893.5 310.1L894.0 309.7L894.5 308.4L895.0 308.7L895.5 307.2L896.0 306.8L896.5 306.4L897.0 304.3L897.5 302.8L898.0 300.3L898.5 298.7L899.0 301.4L899.5 302.4L900.0 301.9L900.5 303.7L901.0 304.4L901.5 304.8L901.8 305.6L902.0 305.8L902.5 307.2L903.0 305.1L903.5 302.2L904.0 301.1L904.5 299.8L905.0 297.8L905.5 298.1L906.0 301.6L906.5 300.6L907.0 299.3L907.5 297.2L908.0 296.5L908.5 294.1L909.0 294.9L909.5 294.5L910.0 294.3L910.5 293.1L911.0 290.9L911.5 289.1L912.0 287.4L912.5 288.4L913.0 288.1L913.5 288.2L914.0 287.4L914.5 286.8L915.0 287.3L915.5 287.3L916.0 284.5L916.5 282.7L917.0 282.3L917.5 284.1L918.0 284.4L918.3 283.1L918.5 283.0L919.0 282.3L919.5 282.7L920.0 284.1L920.5 286.3L921.0 288.9L921.5 289.2L922.0 292.1L922.5 291.2L923.0 292.3L923.5 291.4L924.0 289.3L924.5 289.4L925.0 288.8L925.5 289.4L926.0 286.9L926.5 284.3L927.0 286.8L927.5 284.5L928.0 284.8L928.5 284.0L929.0 285.2L929.5 285.1L930.0 284.4L930.5 285.0L931.0 284.2L931.5 283.1L932.0 283.0L932.5 282.3L933.0 278.7L933.5 278.1L934.0 278.1L934.5 277.3L935.0 275.7L935.5 275.6L936.0 273.5L936.5 272.5L937.0 271.1L937.5 271.7L938.0 273.4L938.5 273.0L939.0 273.4L939.5 274.0L940.0 274.2L940.5 275.4L940.8 277.8L941.0 278.6L941.5 275.8L942.0 276.8L942.5 276.8L943.0 277.4L943.5 275.4L944.0 277.4L944.5 278.0L945.0 276.8L945.5 276.0L946.0 274.0L946.5 273.8L946.8 272.6L947.0 271.8L947.5 270.5L948.0 268.4L948.5 268.3L949.0 267.0L949.5 269.0L950.0 269.0L950.2 268.8L950.5 269.2L951.0 269.9L951.5 271.9L952.0 272.6L952.5 271.3L953.0 270.6L953.5 271.3L954.0 271.5L954.5 270.7L955.0 270.2L955.5 271.1L956.0 270.9L956.5 271.8L957.0 271.7L957.5 273.2L958.0 274.0L958.5 274.6L959.0 274.5L959.5 273.2L960.0 269.7L960.5 270.0L961.0 270.9L961.5 272.4L962.0 274.0L962.5 274.3L962.8 274.8L963.0 276.9L963.5 280.2L963.9 283.2L964.0 282.9L964.5 282.0L965.0 281.8L965.5 282.1L966.0 282.2L966.5 281.5L967.0 280.8L967.5 280.9L967.9 280.4L968.0 280.2L968.5 279.4L969.0 278.8L969.5 278.0L970.0 277.9L970.5 278.0L971.0 278.3L971.2 277.6L971.5 278.3L972.0 279.0L972.5 281.6L972.9 280.9L973.0 280.7L973.5 280.0L974.0 279.8L974.5 278.9L975.0 278.8L975.5 278.3L976.0 277.3L976.5 276.8L976.9 278.1L977.0 279.0L977.5 281.9L978.0 282.9L978.5 284.8L979.0 287.4L979.5 287.1L979.7 286.6L980.0 285.3L980.5 288.2L981.0 290.0L981.5 292.5L982.0 292.6L982.5 296.9L983.0 294.9L983.3 294.4L983.5 292.3L984.0 289.4L984.5 288.8L985.0 285.7L985.5 283.8L986.0 280.9L986.4 279.8L986.5 279.9L987.0 278.9L987.5 279.5L988.0 279.3L988.5 279.2L989.0 279.6L989.5 277.8L990.0 277.5L990.5 276.4L991.0 275.3L991.5 272.3L992.0 271.4L992.5 270.9L993.0 271.0L993.5 267.6L993.8 269.1L994.0 271.1L994.5 270.7L995.0 273.2L995.5 273.0L996.0 271.0L996.5 273.1L997.0 271.8L997.5 272.5L998.0 273.1L998.3 273.1L998.5 271.3L999.0 271.2L999.5 269.7L1000.0 267.6L1000.5 263.9L1001.0 263.2L1001.1 262.9L1001.5 262.7L1002.0 259.1L1002.5 259.9L1003.0 259.1L1003.3 259.0L1003.5 258.5L1004.0 256.3L1004.5 255.9L1005.0 255.9L1005.5 252.6L1005.6 252.2L1006.0 251.7L1006.5 251.4L1007.0 252.0L1007.5 253.5L1007.8 254.5L1008.0 254.8L1008.5 252.8L1009.0 251.7L1009.5 249.9L1010.0 248.9L1010.5 248.0L1010.6 247.2L1011.0 246.8L1011.5 247.9L1012.0 249.1L1012.5 253.0L1012.9 251.7L1013.0 250.9L1013.5 253.0L1014.0 249.2L1014.5 248.3L1015.0 247.5L1015.5 246.2L1016.0 244.5L1016.3 244.9L1016.5 245.0L1017.0 243.5L1017.5 245.1L1018.0 241.5L1018.5 244.4L1019.0 242.7L1019.5 241.0L1019.6 241.0L1020.0 241.8L1020.5 242.0L1021.0 241.9L1021.5 242.2L1022.0 243.3L1022.5 244.9L1023.0 243.2L1023.5 240.8L1024.0 240.0L1024.5 238.2L1025.0 235.4L1025.5 233.8L1026.0 232.4L1026.4 231.4L1026.5 231.0L1027.0 229.9L1027.5 229.4L1028.0 228.3L1028.5 227.4L1029.0 229.7L1029.5 231.3L1030.0 233.2L1030.3 235.8L1030.5 236.2L1031.0 237.3L1031.5 237.7L1032.0 237.4L1032.5 233.2L1033.0 227.9L1033.5 226.0L1034.0 222.9L1034.5 222.2L1035.0 219.4L1035.5 219.8L1036.0 217.2L1036.3 216.3L1036.5 216.8L1037.0 217.7L1037.5 216.6L1038.0 219.1L1038.5 219.8L1039.0 219.6L1039.5 221.1L1040.0 222.3L1040.5 220.2L1041.0 216.4L1041.5 214.9L1042.0 215.4L1042.5 216.4L1043.0 214.9L1043.5 212.1L1044.0 211.6L1044.5 210.9L1045.0 215.0L1045.3 214.8L1045.5 215.0L1046.0 213.7L1046.5 214.1L1047.0 215.3L1047.5 216.5L1048.0 219.3L1048.3 220.1L1048.5 219.8L1049.0 217.4L1049.5 211.7L1050.0 210.1L1050.5 207.2L1051.0 209.5L1051.5 208.3L1052.0 208.1L1052.5 210.1L1053.0 209.2L1053.5 211.3L1054.0 217.7L1054.3 220.1L1054.5 220.3L1055.0 221.1L1055.5 219.9L1056.0 217.4L1056.5 216.3L1057.0 216.5L1057.5 219.2L1058.0 217.7L1058.5 216.2L1059.0 213.0L1059.5 209.9L1060.0 209.9L1060.5 207.0L1061.0 207.3L1061.5 207.5L1062.0 208.1L1062.5 207.2L1063.0 210.4L1063.5 208.5L1064.0 210.7L1064.5 210.3L1065.0 207.8L1065.5 206.2L1066.0 206.4L1066.5 207.9L1067.0 205.8L1067.5 203.0L1068.0 203.0L1068.5 201.2L1069.0 205.1L1069.5 202.1L1070.0 201.3L1070.5 203.1L1071.0 205.6L1071.5 206.8L1072.0 208.3L1072.5 208.3L1073.0 207.2L1073.5 208.9L1074.0 208.5L1074.5 208.8L1075.0 209.9L1075.5 209.8L1076.0 209.3L1076.5 206.7L1077.0 204.3L1077.5 203.0L1078.0 202.3L1078.3 201.3L1078.5 201.0L1079.0 200.0L1079.5 197.4L1080.0 203.7L1080.5 202.8L1081.0 201.7L1081.5 202.4L1082.0 199.8L1082.5 203.8L1083.0 205.1L1083.5 207.3L1084.0 201.9L1084.5 200.7L1085.0 201.3L1085.9 191.1L1086.0 191.1L1086.5 191.8L1087.0 190.4L1087.5 189.1L1088.0 186.3L1088.5 181.6L1088.8 178.1L1089.0 177.5L1089.5 179.2L1090.0 181.4L1090.5 187.4L1091.0 190.5L1091.5 191.8L1092.0 186.8L1092.5 187.3L1093.0 187.0L1093.5 181.6L1094.0 178.9L1094.5 173.6L1095.0 175.4L1095.5 179.7L1096.0 183.5L1096.3 183.0L1096.5 181.7L1097.0 181.1L1097.5 181.2L1097.8 181.1L1098.0 180.7L1098.5 185.8L1099.0 188.0L1099.5 190.3L1100.0 193.8L1100.5 199.5L1101.0 205.7L1101.5 209.6L1102.0 205.6L1102.5 201.1L1103.0 201.3L1103.5 201.6L1104.0 203.0L1104.5 205.1L1105.0 207.4L1105.3 208.1L1105.5 206.0L1106.0 202.7L1106.5 196.5L1107.0 192.0L1107.5 191.4L1108.0 186.2L1108.3 184.1L1108.5 185.1L1109.0 186.6L1109.5 186.7L1110.0 184.3L1110.5 186.3L1111.0 186.6L1111.5 189.1L1112.0 187.3L1112.5 186.9L1112.8 187.8L1113.0 187.4L1113.5 183.1L1114.0 179.9L1114.5 178.4L1115.0 176.7L1115.5 175.1L1116.0 170.9L1116.5 169.8L1117.0 169.3L1117.5 170.0L1118.0 171.3L1118.5 171.7L1119.0 171.9L1119.5 173.7L1120.0 176.4L1120.3 177.3L1120.5 177.3L1121.0 177.6L1121.5 177.2L1122.0 176.4L1122.5 172.1L1123.0 173.4L1123.5 175.2L1124.0 177.5L1124.5 176.0L1125.0 177.0L1125.5 179.5L1126.0 175.9L1126.3 175.8L1126.5 177.2L1127.0 181.2L1127.5 181.4L1128.0 180.7L1128.5 184.8L1129.0 176.1L1129.5 166.2L1130.0 161.8L1130.5 160.6L1131.0 155.7L1131.5 155.0L1132.0 153.8L1132.5 153.1L1133.0 148.1L1133.5 142.0L1134.0 141.8L1134.5 140.8L1135.0 142.5L1135.5 141.5L1136.0 138.9L1136.5 138.2L1137.0 134.4L1137.5 135.5L1138.0 138.1L1138.2 138.6L1138.5 139.2L1139.0 135.7L1139.5 136.1L1140.0 135.8L1140.5 139.4L1141.0 136.3L1141.5 136.0L1142.0 135.6L1142.5 136.1L1143.0 137.6L1143.5 138.3L1144.0 140.6L1144.2 143.8L1144.5 142.2L1145.0 130.1L1145.5 121.5L1146.0 113.0L1146.2 110.8L1146.5 114.8L1147.0 122.1L1147.5 122.3L1147.7 122.8L1148.0 123.9L1148.5 128.5L1149.0 131.7L1149.5 136.3L1150.0 136.3L1150.5 136.6L1151.0 132.6L1151.5 134.0L1151.8 133.3L1152.0 128.6L1152.5 127.1L1153.0 119.3L1153.5 111.0L1154.0 104.6L1154.5 96.3L1154.8 91.3L1155.0 90.6L1155.5 93.0L1156.0 97.8L1156.5 99.6L1157.0 104.2L1157.5 106.0L1157.8 104.8L1158.0 103.2L1158.5 98.8L1159.0 99.0L1159.5 97.5L1160.0 97.3L1160.5 98.7L1161.0 97.1L1161.5 98.6L1162.0 101.1L1162.3 100.3L1162.5 101.1L1163.0 105.1L1163.5 106.3L1164.0 108.4L1164.2 108.6L1164.5 104.4L1165.0 102.9L1165.5 98.1L1166.0 94.0L1166.5 90.5L1166.8 85.3L1167.0 86.7L1167.5 87.5L1168.0 93.1L1168.5 97.9L1169.0 101.1L1169.5 101.3L1169.8 106.3L1170.0 104.4L1170.5 98.7L1171.0 99.3L1171.5 99.7L1172.0 91.6L1172.5 86.6L1172.8 85.3L1173.0 88.7L1173.5 92.6L1174.0 92.5L1174.5 98.6L1175.0 98.6L1175.5 106.7L1176.0 111.3L1176.5 116.1L1177.0 111.5L1177.5 105.2L1178.0 98.7L1178.5 99.9L1179.0 95.1L1179.5 92.5L1180.0 91.7L1180.5 85.3L1180.7 84.5L1181.0 87.4L1181.5 87.7L1182.0 94.6L1182.5 99.5L1183.0 109.8L1183.5 109.7L1183.7 109.3L1184.0 107.4L1184.5 109.3L1185.0 104.8L1185.5 107.7L1186.0 107.2L1186.3 104.8L1186.5 100.9L1187.0 96.1L1187.5 92.4L1188.0 90.2L1188.5 86.8L1189.0 82.2L1189.5 84.8L1190.0 81.6L1190.5 77.5L1190.8 76.3L1191.0 76.0L1191.5 82.9L1192.0 79.3L1192.5 80.4L1193.0 80.9L1193.5 76.4L1193.8 77.0L1194.0 79.0L1194.5 87.8L1195.0 88.0L1195.5 87.8L1196.0 89.8L1196.5 91.4L1197.0 92.9L1197.5 96.1L1198.0 102.7L1198.3 104.8L1198.5 104.1L1199.0 100.0L1199.5 96.4L1199.8 93.6L1200.0 96.4L1200.5 100.5L1201.0 101.9L1201.5 109.1L1202.0 119.8L1202.8 137.8L1203.0 135.8L1203.5 126.6L1204.0 121.4L1204.5 117.2L1204.7 116.8L1205.0 120.3L1205.5 127.9L1206.0 130.0L1206.5 136.3L1207.0 141.5L1207.5 147.1L1208.0 151.3L1208.5 147.7L1209.0 145.1L1209.5 141.1L1210.0 137.7L1210.5 130.7L1210.7 127.3L1211.0 129.1L1211.5 135.2L1212.0 146.6L1212.5 149.8L1213.0 154.9L1213.3 157.3L1213.5 160.1L1214.0 166.2L1214.5 172.8L1215.0 182.1L1215.1 182.8L1215.5 175.5L1216.0 167.3L1216.3 166.3L1216.5 169.2L1217.0 169.0L1217.5 171.1L1218.0 170.6L1218.5 175.3L1219.0 171.9L1219.5 171.9L1220.0 170.4L1220.5 170.5L1220.8 169.3L1221.0 170.9L1221.5 176.8L1222.0 177.3L1222.5 179.8L1223.0 185.7L1223.3 190.3L1223.5 188.8L1224.0 182.7L1224.5 176.6L1225.0 169.0L1225.5 165.5L1225.7 161.8L1226.0 162.6L1226.5 166.9L1227.0 167.9L1227.5 172.3L1228.0 175.7L1228.3 178.3L1228.5 178.0L1229.0 172.3L1229.5 167.3L1230.0 167.4L1230.5 163.3L1231.0 158.8L1231.5 157.3L1232.0 155.9L1232.5 153.3L1233.0 151.0L1233.5 149.8L1234.0 144.0L1234.5 143.2L1235.0 143.1L1235.5 140.1L1236.0 139.0L1236.5 140.1L1237.0 144.9L1237.5 148.6L1238.0 148.4L1238.5 152.3L1239.0 155.8L1239.5 162.0L1240.0 166.0L1240.5 165.6L1241.0 167.8L1241.5 159.1L1242.0 154.3L1242.5 153.6L1243.0 148.8L1243.5 146.3L1244.0 142.4L1244.5 140.5L1244.8 140.8L1245.0 141.9L1245.5 137.1L1246.0 136.4L1246.5 136.2L1247.0 133.3L1250.0 133.3L1250.5 128.1L1251.0 126.0L1251.5 122.5L1252.0 118.9L1252.5 118.4L1252.7 116.8L1253.0 119.2L1253.5 122.5L1254.0 124.2L1254.5 123.2L1255.0 125.2L1255.3 127.3L1255.5 126.8L1256.0 123.3L1256.5 120.4L1257.0 121.0L1257.5 119.8L1258.0 114.8L1258.5 116.2L1259.0 115.3L1259.5 117.5L1260.0 114.5L1260.5 115.3L1261.0 119.5L1261.5 120.3L1262.0 122.0L1262.5 120.4L1262.8 120.6L1263.0 118.9L1263.5 114.7L1264.0 113.8L1264.5 109.5L1265.0 106.7L1265.5 105.4L1265.8 108.6L1266.0 112.5L1266.5 114.1L1267.0 114.0L1267.5 112.8L1268.0 115.5L1268.5 119.5L1268.8 119.8L1271.0 119.8L1271.5 124.2L1272.0 127.8L1272.5 132.0L1273.0 131.1L1273.5 131.0L1273.7 131.8L1274.0 129.2L1274.5 122.5L1275.0 122.3L1275.5 116.5L1276.0 114.5L1276.5 110.8L1276.7 110.1L1277.0 112.9L1277.5 118.0L1278.0 122.7L1278.5 121.3L1279.0 120.2L1279.5 123.1L1280.0 120.8L1280.5 117.2L1281.0 118.5L1281.5 110.8L1282.0 105.5L1282.5 107.4L1283.0 106.2L1283.5 104.3L1284.0 104.0L1284.5 101.9L1285.0 109.7L1285.5 108.5L1286.0 101.8L1286.5 105.1L1287.0 110.0L1287.5 106.5L1287.8 109.3L1288.0 111.7L1288.5 117.4L1289.0 121.3L1289.5 118.8L1290.0 120.4L1290.5 124.3L1291.0 123.0L1291.3 122.8L1291.5 123.3L1292.0 128.4L1292.5 125.6L1293.0 120.3L1293.5 120.7L1294.0 119.4L1294.3 118.3L1294.5 118.6L1295.0 118.1L1295.5 114.6L1296.0 111.2L1296.5 111.5L1297.0 114.3L1297.3 116.1L1297.5 117.4L1298.0 117.5L1298.5 122.5L1299.0 123.6L1299.5 122.6L1300.0 120.6L1300.3 119.8L1300.5 120.8L1301.0 118.7L1301.5 118.4L1302.0 122.1L1302.5 130.3L1303.0 130.0L1303.5 132.2L1304.0 131.8L1304.5 133.4L1304.8 134.8L1305.0 134.7L1305.5 138.6L1306.0 140.3L1306.5 140.8L1307.0 142.3L1307.5 143.4L1307.8 145.3L1308.0 146.2L1308.5 144.9L1309.0 141.9L1309.5 143.2L1310.0 142.3L1310.5 146.2L1311.0 150.5L1311.5 155.3L1312.0 161.0L1312.3 161.8L1312.5 159.6L1313.0 159.2L1313.5 152.6L1313.8 151.3L1314.0 151.1L1314.5 153.6L1315.0 150.4L1315.5 146.8L1316.0 153.2L1316.5 153.7L1317.0 149.6L1317.5 149.2L1318.0 149.6L1318.3 148.3L1318.5 148.2L1319.0 150.8L1319.5 150.9L1320.0 149.0L1320.5 151.3L1321.0 148.8L1321.5 148.0L1322.0 141.2L1322.5 139.9L1322.8 136.3L1323.0 137.4L1323.5 142.2L1324.0 148.2L1324.5 150.3L1324.6 151.3" stroke="#28E2E5" stroke-width="1.50"/>
<path d="M75.7 428.9L100.0 428.6L100.5 428.5L101.0 428.6L101.5 428.7L102.0 428.6L102.5 428.7L103.0 428.7L103.5 428.7L104.0 428.7L104.5 428.7L105.0 428.8L105.5 428.8L106.0 428.9L106.5 428.9L107.0 428.9L107.5 428.8L108.0 428.8L108.5 428.8L109.0 428.9L109.5 428.9L110.0 428.9L110.5 428.9L111.0 428.9L111.5 428.7L112.0 428.8L112.5 428.8L113.0 428.8L113.5 428.7L114.0 428.7L114.5 428.7L115.0 428.6L115.5 428.6L116.0 428.6L116.5 428.6L117.0 428.7L117.5 428.6L118.0 428.6L118.5 428.5L119.0 428.5L119.5 428.5L120.0 428.4L120.5 428.5L121.0 428.4L121.5 428.5L122.0 428.4L122.5 428.4L123.0 428.3L123.5 428.3L124.0 428.3L124.5 428.4L125.0 428.2L125.5 428.2L126.0 428.1L126.5 428.0L127.0 428.0L127.5 427.9L128.0 427.8L128.5 427.8L129.0 427.8L129.5 427.9L130.0 428.0L130.5 427.7L130.7 427.7L131.0 427.6L131.5 427.5L132.0 427.4L132.5 427.3L133.0 427.2L133.5 427.2L134.0 427.2L134.5 427.2L135.0 427.2L135.5 427.1L136.0 426.9L136.5 426.9L137.0 426.8L137.5 426.8L138.0 426.8L138.5 426.8L139.0 426.8L139.5 426.8L140.0 426.7L140.5 426.7L141.0 426.5L141.5 426.5L142.0 426.6L142.5 426.5L143.0 426.5L143.5 426.4L144.0 426.2L144.5 426.2L145.0 426.3L145.5 426.2L146.0 426.1L146.5 426.1L147.0 426.0L147.5 425.9L148.0 425.8L148.5 425.8L149.0 425.6L149.5 425.7L150.0 425.6L150.5 425.5L151.0 425.5L151.5 425.5L152.0 425.4L152.5 425.4L153.0 425.4L153.5 425.6L154.0 425.5L154.5 425.5L155.0 425.6L155.5 425.6L156.0 425.8L156.5 425.8L157.0 425.6L157.5 425.8L158.0 425.8L158.5 425.8L159.0 425.9L159.5 425.9L160.0 426.0L175.0 426.2L175.5 426.2L176.0 426.2L176.5 426.1L177.0 426.0L177.5 426.0L178.0 425.8L178.5 425.8L179.0 425.7L179.5 425.7L180.0 425.4L180.5 425.4L181.0 425.4L181.5 425.3L182.0 425.2L182.5 425.1L183.0 425.0L183.5 424.9L184.0 424.8L184.5 424.8L185.0 424.6L185.5 424.5L186.0 424.5L186.5 424.4L187.0 424.5L187.5 424.5L188.0 424.4L188.5 424.3L189.0 424.2L189.5 424.1L190.0 424.1L190.5 424.0L191.0 424.1L191.5 424.0L192.0 423.9L192.5 423.6L193.0 423.6L193.5 423.6L194.0 423.4L194.5 423.3L195.0 423.3L195.5 423.3L196.0 423.5L196.5 423.4L197.0 423.2L197.5 423.4L198.0 423.3L198.5 423.2L198.6 423.2L199.0 423.2L199.5 423.4L200.0 423.5L200.5 423.7L201.0 423.6L201.5 423.7L202.0 423.7L202.5 423.7L203.0 423.7L203.5 423.7L204.0 423.5L204.5 423.6L205.0 423.5L205.5 423.6L206.0 423.5L206.5 423.5L207.0 423.4L207.5 423.6L208.0 423.6L208.5 423.8L209.0 423.9L209.5 424.0L210.0 424.0L210.5 424.2L211.0 424.3L211.5 424.4L212.0 424.5L212.5 424.8L212.9 424.8L213.0 424.8L213.5 424.9L214.0 424.9L214.5 424.9L215.0 424.9L215.5 425.1L216.0 424.9L216.5 424.9L217.0 424.9L217.5 424.9L218.0 424.8L218.5 424.7L219.0 424.7L219.5 424.5L220.0 424.7L220.5 424.6L221.0 424.7L221.5 424.6L222.0 424.6L222.5 424.7L223.0 424.8L223.5 424.7L224.0 424.9L224.5 424.7L225.0 424.6L225.5 424.6L226.0 424.4L226.5 424.5L227.0 424.3L227.5 424.2L228.0 424.2L228.5 424.1L229.0 424.0L229.5 423.9L230.0 423.9L230.5 423.8L231.0 423.7L231.5 423.6L232.0 423.6L232.5 423.4L233.0 423.4L233.5 423.2L234.0 423.2L234.5 423.4L235.0 423.4L235.5 423.4L236.0 423.5L236.5 423.4L237.0 423.3L237.5 423.0L238.0 423.0L238.5 423.1L239.0 423.1L239.5 423.2L240.0 423.1L240.5 423.1L241.0 423.2L241.4 423.1L241.5 423.1L242.0 423.1L242.5 423.2L243.0 423.2L243.5 423.3L244.0 423.1L244.5 423.1L245.0 423.1L245.5 422.9L246.0 423.0L246.5 422.8L247.0 422.8L247.5 423.0L248.0 422.9L248.5 422.8L249.0 422.7L249.5 422.7L250.0 421.3L250.5 421.0L251.0 420.8L251.5 420.6L252.0 420.4L252.5 420.3L253.0 420.1L253.5 420.1L254.0 420.0L254.5 420.1L255.0 420.0L255.5 419.9L256.0 419.7L256.5 419.6L257.0 419.5L257.5 419.6L258.0 419.5L258.5 419.4L259.0 419.3L259.5 419.2L260.0 419.2L260.5 419.2L261.0 419.2L261.5 419.1L262.0 418.8L262.5 418.6L262.9 418.6L263.0 418.6L263.5 418.5L264.0 418.3L264.5 418.4L265.0 418.4L265.5 418.2L266.0 418.2L266.5 418.0L267.0 418.1L267.5 417.9L268.0 418.0L268.5 417.7L269.0 417.5L269.5 417.2L270.0 417.2L270.5 417.1L271.0 417.0L271.5 417.4L272.0 417.6L272.5 417.7L273.0 417.6L273.5 417.7L274.0 417.6L274.5 417.5L275.0 417.0L275.5 417.2L276.0 416.8L276.5 416.8L277.0 416.6L277.5 416.7L278.0 416.2L278.5 416.4L278.6 416.3L279.0 416.2L279.5 416.0L280.0 416.2L280.5 416.3L281.0 416.3L281.5 416.4L282.0 416.4L282.5 416.1L283.0 415.9L283.5 416.0L284.0 415.6L284.5 415.9L285.0 415.8L285.5 415.8L286.0 415.6L286.5 415.4L287.0 415.2L287.5 415.5L288.0 415.6L288.5 415.8L288.6 415.8L289.0 415.7L289.5 415.9L290.0 415.9L290.5 415.9L291.0 416.0L291.5 416.1L292.0 416.2L292.5 416.0L293.0 416.5L293.5 416.6L294.0 416.8L294.5 416.9L295.0 416.9L295.5 416.9L296.0 416.9L296.5 417.3L297.0 417.2L297.5 417.1L298.0 417.3L298.5 417.3L299.0 417.4L299.5 417.4L300.0 417.5L300.5 417.6L301.0 417.5L301.5 417.4L302.0 417.4L302.5 417.5L303.0 417.2L303.5 417.2L304.0 417.2L304.3 417.3L304.5 417.2L305.0 416.7L305.5 416.7L306.0 416.4L306.5 416.0L307.0 415.8L307.5 415.6L308.0 415.3L308.5 414.9L308.6 414.8L309.0 414.7L309.5 414.8L310.0 414.8L310.5 414.7L311.0 414.9L311.5 414.9L312.0 414.7L312.5 414.2L313.0 414.1L313.5 414.1L314.0 414.2L314.5 413.8L315.0 413.8L315.5 413.9L316.0 413.9L316.5 413.8L317.0 413.4L317.1 413.3L317.5 413.1L318.0 413.2L318.5 413.5L319.0 413.4L319.5 413.5L320.0 413.5L320.5 413.6L321.0 413.6L321.5 414.2L322.0 414.4L322.5 414.5L323.0 414.4L323.5 414.4L324.0 414.2L324.5 414.2L325.0 414.2L325.5 414.2L326.0 414.1L326.5 414.0L327.0 414.2L327.5 414.4L328.0 414.7L328.5 414.8L328.6 414.8L329.0 414.6L329.5 414.4L330.0 414.2L330.5 414.0L331.0 413.7L331.5 413.2L332.0 412.7L332.5 412.5L333.0 412.2L333.5 411.7L334.0 411.1L334.5 410.7L335.0 410.0L335.5 409.4L335.7 409.3L336.0 409.2L336.5 409.0L337.0 408.5L337.5 407.7L338.0 407.1L338.5 406.3L339.0 405.9L339.5 405.9L340.0 405.5L340.5 405.4L341.0 404.9L341.4 404.3L341.5 404.2L342.0 404.0L342.5 403.8L343.0 403.8L343.5 404.1L344.0 404.0L344.5 404.0L345.0 403.8L345.5 403.7L346.0 404.0L346.5 403.3L347.0 402.9L347.5 403.2L348.0 402.9L348.5 402.5L349.0 402.9L349.5 403.1L350.0 403.2L350.5 403.3L351.0 403.0L351.4 403.2L351.5 403.4L352.0 403.9L352.5 404.4L353.0 404.2L353.5 404.5L354.0 404.8L354.5 405.2L355.0 405.6L355.5 405.8L355.7 406.0L356.0 406.1L356.5 406.1L357.0 406.5L357.5 406.5L358.0 406.7L358.5 406.9L359.0 407.3L359.5 407.3L360.0 407.4L360.5 407.3L361.0 407.1L361.5 407.4L362.0 407.2L362.5 407.3L363.0 407.5L363.5 407.2L364.0 407.6L364.5 407.7L365.0 407.6L365.5 407.8L366.0 407.5L366.5 407.4L367.0 407.3L367.5 407.7L368.0 407.7L368.5 407.9L369.0 407.7L369.5 407.3L370.0 407.4L370.5 407.4L371.0 407.3L371.5 406.9L372.0 406.3L372.5 406.2L373.0 405.9L373.5 405.9L374.0 405.9L374.5 406.1L375.0 406.1L375.5 406.0L376.0 405.8L376.5 405.7L377.0 405.6L377.5 405.6L378.0 405.4L378.5 405.4L378.6 405.3L379.0 405.1L379.5 405.1L380.0 405.2L380.5 405.3L381.0 405.6L381.5 405.9L382.0 405.8L382.5 405.9L383.0 405.8L383.5 406.4L384.0 406.7L384.5 406.4L385.0 406.4L385.5 406.3L386.0 406.5L386.5 406.8L387.0 406.8L387.1 406.8L415.7 406.8L416.0 406.7L416.5 407.2L417.0 407.0L417.5 406.9L418.0 406.9L418.5 406.9L419.0 407.1L419.5 407.1L420.0 407.2L420.5 407.2L421.0 407.4L421.5 407.7L422.0 407.5L422.5 407.2L423.0 407.7L423.5 407.9L424.0 407.9L424.5 408.0L425.0 408.7L425.5 408.8L426.0 408.7L426.5 408.7L427.0 408.5L427.5 408.4L428.0 408.6L428.5 408.8L429.0 408.9L429.5 408.3L430.0 408.4L430.5 409.0L431.0 409.0L431.4 408.8L431.5 408.7L432.0 408.7L432.5 408.6L433.0 408.6L433.5 408.9L434.0 408.6L434.5 408.6L435.0 408.5L435.5 408.7L436.0 408.8L436.5 409.1L437.0 409.2L437.5 409.1L438.0 409.3L438.5 409.1L439.0 409.3L439.5 409.8L440.0 410.0L440.5 410.3L441.0 410.3L441.5 410.3L442.0 410.7L442.5 410.6L443.0 410.7L443.5 410.6L444.0 410.7L444.5 410.9L445.0 410.9L445.5 410.7L446.0 410.4L446.5 410.6L447.0 410.3L447.5 410.1L448.0 409.9L448.5 410.3L449.0 409.9L449.5 409.6L450.0 409.3L450.5 409.5L451.0 409.3L451.5 409.0L452.0 409.1L452.5 408.9L453.0 408.8L453.5 408.6L454.0 408.8L454.5 409.0L455.0 408.9L455.5 409.0L456.0 409.1L456.5 408.9L457.0 409.4L457.5 409.3L458.0 409.3L458.5 408.9L459.0 409.0L459.5 409.2L460.0 409.0L460.5 409.0L461.0 408.9L461.5 409.4L462.0 409.4L462.5 409.5L463.0 409.4L463.5 409.4L464.0 409.5L464.5 409.7L465.0 409.7L465.5 410.2L466.0 410.1L466.5 409.9L467.0 409.8L467.5 410.0L468.0 409.8L468.5 409.9L469.0 409.7L469.5 409.7L470.0 409.6L470.5 409.6L471.0 409.5L471.5 409.4L472.0 409.4L472.5 410.1L473.0 410.1L473.5 410.1L474.0 410.2L474.5 409.9L475.0 409.6L475.5 409.5L476.0 409.9L476.5 409.3L477.0 409.5L477.5 409.2L478.0 409.0L478.5 409.1L479.0 408.8L479.5 408.5L480.0 408.5L480.5 408.6L481.0 407.9L481.5 408.3L482.0 407.9L482.5 407.8L483.0 407.8L483.5 408.1L484.0 408.0L484.5 408.4L485.0 408.3L485.5 408.1L486.0 408.5L486.5 408.8L487.0 408.8L487.5 409.2L488.0 408.8L488.5 408.7L489.0 408.9L489.5 409.1L490.0 409.0L490.5 408.9L491.0 408.9L491.5 408.9L492.0 408.6L492.5 408.5L493.0 408.5L493.5 408.9L494.0 408.8L494.5 408.5L495.0 408.8L495.5 408.8L496.0 408.8L496.5 409.1L497.0 409.2L497.5 409.0L498.0 408.8L498.5 408.9L499.0 408.6L499.5 408.9L500.0 409.1L500.5 409.4L501.0 409.2L501.5 409.3L502.0 409.4L502.5 409.3L503.0 409.2L503.5 409.1L504.0 409.5L504.5 409.7L505.0 409.7L505.5 409.7L506.0 409.6L506.5 409.8L507.0 409.6L507.5 409.4L508.0 409.7L508.5 409.7L509.0 410.2L509.5 410.1L510.0 409.9L510.5 410.2L511.0 410.3L511.5 410.2L512.0 410.2L512.5 410.3L513.0 410.3L513.5 410.0L514.0 409.6L514.5 409.6L515.0 409.6L515.5 410.1L516.0 410.2L516.5 410.3L517.0 410.2L517.5 410.2L518.0 410.1L518.5 410.1L519.0 409.8L519.5 409.6L520.0 409.8L535.7 410.1L536.0 410.5L536.5 411.4L537.0 412.2L537.1 412.3L548.6 411.9L549.0 411.9L549.5 411.8L550.0 411.4L550.5 411.3L551.0 411.4L551.5 411.3L552.0 411.3L552.5 410.9L553.0 410.5L553.5 410.1L554.0 410.1L554.3 409.9L554.5 409.9L555.0 409.8L555.5 410.2L556.0 410.3L556.5 410.4L557.0 410.8L557.5 411.1L558.0 411.3L558.5 411.7L558.6 411.7L573.0 411.9L573.5 412.2L574.0 412.7L574.5 412.7L575.0 412.7L575.5 412.5L576.0 412.5L576.5 412.8L577.0 413.0L577.5 412.9L578.0 413.2L578.5 413.2L579.0 413.1L579.5 413.1L580.0 413.1L580.5 413.2L581.0 413.3L581.5 413.1L582.0 413.3L582.5 413.2L583.0 413.6L583.5 414.0L584.0 414.4L584.5 414.4L585.0 414.8L585.5 414.7L585.7 414.6L586.0 414.3L586.5 414.0L587.0 413.4L587.5 413.1L588.0 412.8L588.5 412.7L589.0 412.6L589.5 412.3L590.0 412.1L590.5 412.1L591.0 411.9L591.5 411.3L592.0 411.1L592.5 411.0L592.9 410.6L606.4 410.3L606.5 410.4L607.0 411.1L607.5 411.7L608.0 412.7L608.5 412.9L608.6 413.0L620.0 414.9L620.5 414.7L621.0 414.7L621.5 414.4L622.0 414.6L622.5 414.7L623.0 414.6L623.5 414.3L624.0 414.5L624.5 414.3L625.0 414.5L625.5 414.5L626.0 414.3L626.5 414.3L627.0 413.9L627.5 414.0L628.0 414.3L628.5 414.1L629.0 413.9L629.5 413.9L630.0 413.8L630.5 413.9L631.0 413.9L631.5 413.9L632.0 413.6L632.5 413.7L633.0 413.8L633.5 413.7L634.0 413.5L634.5 413.4L635.0 413.2L635.5 413.3L636.0 413.3L636.5 413.5L637.0 413.3L637.3 413.2L637.5 413.0L638.0 412.9L638.5 412.5L639.0 412.2L639.5 411.8L640.0 411.8L640.5 411.4L641.0 410.9L641.5 411.0L642.0 410.9L642.5 410.5L643.0 410.1L643.5 410.3L644.0 409.9L644.5 409.4L645.0 409.0L645.5 408.9L646.0 408.8L646.5 408.4L647.0 407.9L656.0 407.9L656.5 407.6L657.0 407.1L657.5 406.7L658.0 406.4L658.5 405.9L659.0 405.5L659.5 405.3L660.0 404.9L660.5 404.6L661.0 404.3L661.5 404.2L662.0 403.8L662.5 403.6L663.0 403.0L663.5 402.6L664.0 401.9L664.5 402.0L665.0 401.7L665.5 401.5L665.8 401.2L666.0 401.3L666.5 401.6L667.0 402.2L667.5 402.3L668.0 402.5L668.5 402.2L669.0 402.4L669.5 402.7L670.0 402.3L670.5 402.2L671.0 401.9L671.5 401.5L672.0 401.1L672.5 401.2L673.0 400.7L673.5 400.3L674.0 400.4L674.5 400.0L674.8 399.7L675.0 399.8L675.5 400.7L676.0 401.1L676.5 401.0L677.0 401.6L677.5 401.8L677.8 401.6L678.0 401.3L678.5 401.4L679.0 401.4L679.5 401.4L680.0 401.1L680.5 401.0L681.0 400.7L681.5 401.2L682.0 400.8L682.5 401.0L683.0 401.0L683.5 401.1L684.0 401.0L684.5 401.0L685.0 401.0L685.5 400.7L686.0 400.5L686.5 400.5L687.0 400.6L687.5 400.8L688.0 400.7L688.5 400.9L689.0 400.5L689.5 401.1L690.0 401.1L690.5 400.9L691.0 400.9L691.5 400.8L692.0 400.7L692.5 400.1L693.0 399.4L693.5 399.1L694.0 398.2L694.5 398.2L695.0 397.3L695.5 397.1L696.0 396.9L696.5 396.3L697.0 395.9L697.5 395.1L698.0 394.4L698.5 393.6L699.0 393.1L699.5 392.5L700.0 391.9L700.5 391.9L701.0 391.6L701.5 391.8L702.0 391.9L702.5 392.3L703.0 391.8L703.5 391.3L704.0 390.5L704.5 390.3L704.8 389.9L705.0 389.9L705.5 390.4L706.0 390.9L706.5 391.0L707.0 391.4L707.5 390.7L708.0 390.9L708.5 390.7L709.0 390.4L709.5 389.8L710.0 388.9L710.5 388.8L711.0 389.0L711.5 388.6L712.0 387.6L712.5 387.1L713.0 386.9L713.5 387.0L714.0 386.6L714.5 386.2L715.0 385.8L715.5 386.1L716.0 385.8L716.5 386.6L717.0 386.2L717.5 386.3L718.0 386.7L718.5 386.4L719.0 386.7L719.5 386.2L719.8 385.4L720.0 384.7L720.5 384.1L721.0 383.1L721.5 382.9L722.0 382.1L722.5 380.8L723.0 380.3L723.5 380.3L724.0 380.3L724.5 380.0L725.0 379.4L725.5 379.1L726.0 378.3L726.5 377.9L727.0 377.2L727.5 376.6L728.0 375.7L728.5 375.5L729.0 375.7L729.5 375.3L730.0 374.6L730.5 374.2L731.0 374.2L731.5 373.8L732.0 372.9L732.5 372.0L733.0 372.2L733.5 372.2L734.0 371.9L734.5 372.5L735.0 372.7L735.5 372.9L736.0 373.7L736.5 374.4L737.0 375.6L737.5 376.7L738.0 377.4L738.5 377.9L746.0 377.9L746.5 377.0L747.0 376.9L747.5 376.9L748.0 377.0L748.5 376.6L749.0 375.6L749.5 375.2L750.0 375.1L750.5 374.5L751.0 374.4L751.5 374.2L752.0 374.2L752.5 373.8L753.0 374.2L753.5 373.6L754.0 373.6L754.5 373.6L755.0 372.9L755.5 372.9L756.0 372.5L756.5 372.6L757.0 371.9L757.5 371.2L758.0 370.9L758.5 371.3L759.0 370.4L759.5 370.1L760.0 370.1L760.5 369.3L761.0 368.6L761.5 368.1L762.0 367.7L762.5 367.7L763.0 366.8L763.5 366.7L764.0 367.4L764.5 367.1L765.0 365.7L765.5 365.4L766.0 364.3L766.5 364.3L767.0 363.3L767.5 364.2L768.0 362.7L768.5 362.4L769.0 360.7L769.5 360.1L770.0 359.9L770.5 358.5L771.0 357.9L771.5 357.7L772.0 356.3L772.5 355.6L773.0 355.4L773.5 355.0L774.0 354.8L774.5 354.3L775.0 353.9L775.3 353.9L775.5 354.2L776.0 354.2L776.5 354.5L777.0 355.5L777.5 355.3L778.0 356.4L778.5 356.2L779.0 356.2L779.5 356.0L780.0 355.5L780.5 357.4L781.0 356.7L781.5 357.0L782.0 357.2L782.5 357.0L783.0 357.2L783.5 356.9L784.0 356.7L784.5 356.2L785.0 357.7L785.5 359.1L786.0 359.7L786.5 360.3L787.0 361.3L787.5 362.7L788.0 362.9L788.5 361.9L789.0 361.1L789.5 359.3L790.0 358.2L790.3 356.9L790.5 356.1L791.0 354.7L791.5 353.9L792.0 352.2L792.5 351.4L793.0 349.1L793.5 348.1L794.0 346.4L794.5 343.7L795.0 343.4L795.5 342.7L796.0 341.4L796.5 342.1L797.0 342.0L797.5 341.0L798.0 340.3L798.5 339.0L799.0 337.7L799.5 336.8L800.0 335.9L800.5 334.1L801.0 333.4L801.5 331.5L802.0 329.4L802.5 327.1L803.0 326.3L803.5 324.8L804.0 321.7L804.5 319.1L804.7 318.3L805.0 319.5L805.5 320.9L806.0 321.6L806.5 323.4L807.0 324.0L807.5 325.1L808.0 326.2L808.5 329.0L809.0 331.2L809.5 333.3L810.0 332.7L810.5 331.2L811.0 330.0L811.5 330.7L812.0 330.6L812.5 331.0L813.0 330.7L813.5 328.9L814.0 329.0L814.5 328.2L815.0 328.0L815.5 327.3L816.0 329.8L816.5 329.9L817.0 330.7L817.5 332.4L818.0 331.4L818.5 331.1L819.0 330.4L819.5 329.1L820.0 327.3L820.5 325.9L821.0 326.5L821.5 325.9L822.0 323.9L822.5 322.7L823.0 321.8L823.5 320.1L824.0 319.0L824.5 316.5L825.0 314.5L825.5 313.1L826.0 312.3L826.5 313.5L827.0 313.5L827.5 315.5L828.0 316.7L828.3 318.3L828.5 318.8L829.0 319.7L829.5 318.7L830.0 317.0L830.5 315.2L831.0 315.7L831.5 316.8L832.0 315.7L832.5 315.2L833.0 315.5L833.5 314.6L834.0 311.7L834.5 310.3L835.0 309.7L835.5 309.2L836.0 309.9L836.5 310.2L837.0 307.9L837.5 307.8L838.0 306.3L838.5 305.9L839.0 306.8L839.5 309.8L840.0 310.2L840.3 310.8L840.5 310.8L841.0 310.9L841.5 309.6L842.0 308.4L842.5 309.0L843.0 307.4L843.5 306.0L844.0 304.9L844.5 304.4L845.0 305.5L845.5 306.3L846.0 307.6L846.5 308.0L847.0 307.3L847.5 309.4L848.0 309.8L848.5 311.9L849.0 311.4L849.3 312.3L849.5 313.8L850.0 316.2L850.5 317.2L851.0 319.0L851.5 322.1L852.0 325.6L852.5 325.0L853.0 326.8L853.5 328.8L853.8 328.8L854.0 327.6L854.5 324.3L855.0 324.8L855.5 323.6L856.0 320.7L856.5 320.4L857.0 319.1L857.5 318.3L858.0 317.8L858.5 318.3L859.0 319.4L859.5 319.8L860.0 320.6L860.5 320.7L861.0 322.2L861.5 321.2L862.0 323.6L862.5 321.4L862.8 322.1L863.0 320.9L863.5 317.2L864.0 314.2L864.5 311.3L865.0 307.8L865.5 307.1L866.0 306.3L866.5 305.2L867.0 305.7L867.5 306.2L868.0 305.4L868.5 305.8L868.8 304.8L869.0 304.7L869.5 304.5L870.0 306.0L870.5 307.6L871.0 309.6L871.5 309.5L872.0 309.6L872.5 311.0L873.0 312.0L873.3 311.6L873.5 311.7L874.0 317.4L874.5 320.0L875.0 319.3L875.5 319.9L876.0 321.9L876.5 322.9L877.0 325.8L877.5 326.4L878.0 326.1L878.5 325.5L879.0 324.5L879.5 324.3L880.0 322.2L880.5 321.0L881.0 320.2L881.5 321.3L882.0 323.4L882.5 324.5L883.0 325.2L883.5 325.0L884.0 324.2L884.5 324.1L885.0 323.4L885.5 323.7L886.0 323.6L886.5 323.3L887.0 324.2L887.5 325.6L888.0 326.1L888.5 326.3L889.0 324.6L889.5 325.8L890.0 326.6L890.5 326.6L891.0 327.3L891.5 327.5L892.0 326.1L892.5 326.5L893.0 325.6L893.5 326.6L894.0 326.3L894.5 325.2L895.0 325.5L895.5 324.2L896.0 323.8L896.5 323.6L897.0 321.7L897.5 320.5L898.0 318.3L898.5 316.8L899.0 319.0L899.5 319.8L900.0 319.3L900.5 320.7L901.0 321.2L901.5 321.5L901.8 322.1L902.0 322.1L902.5 323.2L903.0 321.1L903.5 318.3L904.0 317.1L904.5 315.8L905.0 313.8L905.5 313.8L906.0 317.4L906.5 317.0L907.0 316.5L907.5 315.2L908.0 315.0L908.5 313.6L909.0 314.8L909.5 315.0L910.0 315.3L910.5 314.0L911.0 311.8L911.5 309.9L912.0 308.3L912.5 308.8L913.0 308.2L913.5 308.0L914.0 307.1L914.5 306.3L915.0 306.9L915.5 307.0L916.0 304.7L916.5 303.2L917.0 303.0L917.5 304.6L918.0 305.0L918.5 303.2L919.0 301.1L919.5 301.4L920.0 302.5L920.5 304.4L921.0 306.6L921.5 306.8L922.0 309.3L922.5 308.3L923.0 309.0L923.5 308.0L924.0 305.9L924.5 305.8L925.0 305.0L925.5 305.3L926.0 302.8L926.5 300.3L927.0 303.5L927.5 302.7L928.0 304.0L928.5 304.4L928.8 305.6L929.0 306.0L929.5 305.8L930.0 305.2L930.5 305.5L931.0 304.7L931.5 303.7L932.0 303.5L932.5 302.8L933.0 300.3L933.3 300.3L933.5 299.9L934.0 299.3L934.5 298.1L935.0 296.1L935.5 295.4L936.0 293.0L936.5 291.6L937.0 289.8L937.5 290.4L938.0 291.9L938.5 291.5L939.0 291.9L939.5 292.4L940.0 292.6L940.5 293.7L940.8 295.8L941.0 296.5L941.5 294.1L942.0 295.0L942.5 294.9L943.0 295.5L943.5 293.7L944.0 295.5L944.5 296.1L945.0 294.9L945.5 294.3L946.0 292.6L946.5 292.3L946.8 291.3L947.0 290.6L947.5 289.4L948.0 287.5L948.5 287.3L949.0 286.1L949.5 287.8L950.0 287.8L950.2 287.6L950.5 288.1L951.0 289.1L951.5 291.1L952.0 292.1L952.5 290.1L953.0 288.6L953.5 288.5L954.0 287.8L954.5 286.2L955.0 284.9L955.5 284.9L956.0 283.9L956.5 283.9L957.0 284.6L957.5 286.7L958.0 288.3L958.5 289.9L959.0 290.9L959.5 290.8L960.0 288.8L960.5 289.1L961.0 289.9L961.5 291.2L962.0 292.7L962.5 292.9L962.8 293.3L963.0 295.3L963.5 298.4L963.9 301.2L964.0 300.9L964.5 300.1L965.0 299.8L965.5 300.1L966.0 300.2L966.5 299.5L967.0 298.9L967.5 298.9L967.9 298.4L968.0 298.2L968.5 297.5L969.0 297.1L969.5 296.4L970.0 296.3L970.5 296.5L971.0 296.8L971.2 296.1L971.5 296.7L972.0 297.3L972.5 299.5L972.9 298.9L973.0 298.7L973.5 298.0L974.0 297.8L974.5 297.0L975.0 296.9L975.5 296.4L976.0 295.5L976.5 295.0L976.9 296.1L977.0 296.9L977.5 299.4L978.0 300.3L978.5 301.9L979.0 304.2L979.5 303.9L979.7 303.4L980.0 301.8L980.5 303.7L981.0 304.6L981.5 306.1L982.0 305.4L982.5 308.5L983.0 306.0L983.3 305.1L983.5 303.8L984.0 302.7L984.5 303.6L985.0 302.2L985.5 302.0L986.0 300.9L986.4 301.2L986.5 301.3L987.0 300.4L987.5 301.1L988.0 300.9L988.5 300.9L989.0 301.3L989.5 299.8L990.0 299.6L990.5 298.8L991.0 297.8L991.5 295.0L992.0 293.9L992.5 293.2L993.0 293.0L993.5 289.8L994.0 292.1L994.3 291.1L994.5 291.0L995.0 293.4L995.5 293.5L996.0 292.1L996.5 294.2L997.0 293.2L997.5 294.1L998.0 294.9L998.3 295.0L998.5 293.5L999.0 293.4L999.5 292.2L1000.0 290.5L1000.5 287.4L1001.0 286.8L1001.1 286.6L1001.5 286.0L1002.0 282.6L1002.5 282.9L1003.0 281.8L1003.5 281.4L1004.0 280.2L1004.5 280.5L1005.0 281.1L1005.5 278.9L1005.6 278.7L1006.0 277.4L1006.5 276.2L1007.0 275.8L1007.5 276.2L1007.8 276.4L1008.0 276.8L1008.5 275.5L1009.0 275.0L1009.5 273.9L1010.0 273.4L1010.5 273.1L1010.6 272.5L1011.0 272.2L1011.5 273.2L1012.0 274.2L1012.5 277.6L1012.9 276.4L1013.0 275.8L1013.5 277.6L1014.0 274.4L1014.5 273.6L1015.0 272.9L1015.5 271.8L1016.0 270.4L1016.3 270.8L1016.5 271.0L1017.0 269.9L1017.5 271.4L1018.0 268.4L1018.5 271.1L1019.0 269.8L1019.5 268.6L1020.0 268.6L1020.5 267.8L1021.0 266.7L1021.3 266.3L1021.5 266.5L1022.0 267.7L1022.5 269.6L1023.0 269.9L1023.5 269.5L1023.6 269.7L1024.0 268.5L1024.5 266.2L1025.0 262.9L1025.5 260.8L1026.0 258.8L1026.5 256.9L1027.0 256.1L1027.5 255.6L1028.0 258.0L1028.5 256.7L1029.0 258.2L1029.5 259.2L1030.0 260.3L1030.3 262.9L1030.5 263.2L1031.0 264.4L1031.5 264.8L1032.0 264.7L1032.5 261.3L1033.0 257.0L1033.5 255.5L1034.0 253.0L1034.3 252.8L1034.5 252.8L1035.0 250.6L1035.5 251.4L1036.0 249.6L1036.5 248.4L1037.0 247.1L1037.1 246.6L1037.5 245.9L1038.0 248.2L1038.5 248.9L1039.0 248.8L1039.5 250.2L1039.9 251.1L1040.0 251.4L1040.5 250.1L1041.0 247.5L1041.5 246.8L1042.0 247.9L1042.5 249.4L1043.0 248.7L1043.5 247.0L1044.0 247.1L1044.4 247.2L1044.5 247.1L1045.0 250.5L1045.5 250.1L1046.0 248.2L1046.5 247.7L1047.0 248.0L1047.5 248.2L1048.0 249.8L1048.3 250.1L1048.5 249.7L1049.0 247.3L1049.5 242.1L1050.0 240.3L1050.5 237.6L1051.0 239.2L1051.5 237.8L1052.0 237.3L1052.5 239.1L1053.0 238.4L1053.5 240.1L1054.0 245.7L1054.3 247.8L1054.5 248.1L1055.0 249.0L1055.5 248.2L1056.0 246.2L1056.5 245.6L1057.0 245.7L1057.5 248.0L1058.0 246.6L1058.5 245.3L1059.0 242.4L1059.5 239.7L1060.0 239.6L1060.5 237.1L1061.0 237.3L1061.5 237.5L1062.0 238.1L1062.5 237.3L1063.0 240.2L1063.5 238.5L1064.0 240.6L1064.5 240.2L1065.0 238.1L1065.5 236.8L1066.0 237.0L1066.5 238.4L1067.0 236.6L1067.5 234.0L1068.0 233.9L1068.5 232.3L1069.0 235.6L1069.5 232.9L1070.0 232.1L1070.5 233.6L1071.0 235.7L1071.5 236.7L1072.0 237.9L1072.5 237.9L1073.0 236.8L1073.5 238.2L1074.0 237.9L1074.5 238.1L1075.0 239.0L1075.5 238.9L1076.0 238.4L1076.5 236.1L1077.0 234.0L1077.5 232.9L1078.0 232.2L1078.3 231.3L1078.5 231.1L1079.0 230.5L1079.5 228.4L1080.0 234.1L1080.5 233.6L1081.0 232.8L1081.5 233.4L1082.0 231.3L1082.5 234.7L1083.0 235.8L1083.5 237.6L1084.0 237.0L1084.3 238.8L1084.5 236.3L1085.0 232.3L1085.5 225.5L1085.8 223.8L1086.0 223.6L1086.5 224.1L1087.0 222.6L1087.5 221.2L1088.0 218.6L1088.5 214.3L1088.8 211.1L1089.0 210.5L1089.5 211.7L1090.0 213.4L1090.5 218.4L1091.0 220.8L1091.5 222.2L1092.0 218.0L1092.5 218.6L1093.0 218.5L1093.5 214.0L1094.0 211.8L1094.5 207.3L1095.0 209.1L1095.5 213.1L1096.0 216.6L1096.3 216.3L1096.5 215.2L1097.0 214.8L1097.5 214.9L1097.8 214.8L1098.0 215.1L1098.5 220.7L1099.0 223.8L1099.5 227.0L1100.0 231.3L1100.5 234.3L1101.0 237.6L1101.5 238.8L1102.0 235.5L1102.5 231.8L1103.0 232.1L1103.5 232.4L1104.0 233.6L1104.5 235.4L1105.0 237.5L1105.3 238.1L1105.5 236.3L1106.0 233.7L1106.5 228.6L1107.0 224.9L1107.5 224.6L1108.0 220.3L1108.3 218.6L1108.5 219.5L1109.0 220.9L1109.5 221.0L1110.0 219.0L1110.5 220.8L1111.0 222.2L1111.5 225.6L1112.0 225.3L1112.5 222.5L1113.0 221.5L1113.5 217.7L1114.0 214.7L1114.5 213.2L1115.0 211.6L1115.5 210.0L1116.0 206.2L1116.5 205.1L1117.0 205.2L1117.5 206.5L1118.0 208.2L1118.5 209.2L1119.0 210.0L1119.5 212.2L1120.0 215.1L1120.3 216.3L1120.5 216.0L1121.0 215.3L1121.5 214.2L1122.0 212.7L1122.5 208.1L1123.0 209.2L1123.5 210.7L1124.0 212.7L1124.5 211.3L1125.0 212.2L1125.5 214.3L1126.0 211.2L1126.3 211.1L1126.5 212.7L1127.0 217.3L1127.5 218.5L1128.0 219.1L1128.5 223.8L1129.0 214.8L1129.5 204.7L1130.0 199.3L1130.5 198.6L1131.0 194.8L1131.5 194.5L1132.0 193.8L1132.5 193.5L1133.0 189.5L1133.5 184.7L1134.0 184.8L1134.5 184.3L1135.0 185.5L1135.5 184.4L1136.0 182.0L1136.5 181.1L1137.0 177.6L1137.5 178.2L1138.0 180.3L1138.2 180.6L1138.5 181.0L1139.0 177.9L1139.5 178.1L1140.0 177.6L1140.5 180.6L1141.0 177.8L1141.5 177.4L1142.0 176.8L1142.5 177.0L1143.0 178.0L1143.5 178.4L1144.0 180.2L1144.2 182.8L1144.5 181.7L1145.0 171.9L1145.5 165.1L1146.0 158.3L1146.5 154.3L1147.0 162.4L1147.5 164.4L1148.0 167.3L1148.5 172.5L1148.8 174.6L1149.0 174.4L1149.5 175.3L1150.0 175.8L1150.5 176.7L1151.0 173.8L1151.5 175.6L1151.8 175.3L1152.0 171.1L1152.5 169.4L1153.0 162.4L1153.5 154.9L1154.0 149.0L1154.5 141.6L1154.8 137.1L1155.0 136.3L1155.5 138.2L1156.0 142.2L1156.5 143.6L1157.0 147.4L1157.5 148.7L1157.8 147.6L1158.0 146.3L1158.5 142.7L1159.0 143.2L1159.5 142.2L1160.0 142.3L1160.5 143.5L1161.0 142.0L1161.5 143.2L1162.0 145.3L1162.3 144.6L1162.5 145.2L1163.0 148.8L1163.5 149.8L1164.0 151.6L1164.5 152.1L1165.0 151.3L1165.5 147.7L1166.0 144.6L1166.5 142.0L1167.0 133.8L1167.1 132.6L1167.5 131.7L1168.0 134.9L1168.5 137.5L1169.0 138.7L1169.5 137.2L1170.0 143.9L1170.2 146.1L1170.5 143.2L1171.0 143.8L1171.5 144.3L1172.0 137.2L1172.5 132.9L1172.8 131.8L1173.0 134.8L1173.5 138.3L1174.0 138.2L1174.5 143.5L1175.0 143.5L1175.5 150.7L1176.0 154.7L1176.5 158.8L1177.0 154.8L1177.5 149.3L1178.0 143.6L1178.5 144.6L1179.0 140.4L1179.5 138.1L1180.0 137.3L1180.5 131.7L1180.7 131.1L1181.0 133.5L1181.5 133.7L1182.0 139.5L1182.5 143.8L1183.0 152.6L1183.5 152.4L1183.7 152.1L1184.0 150.5L1184.5 152.3L1185.0 148.6L1185.5 151.3L1186.0 151.0L1186.3 149.1L1186.5 145.7L1187.0 141.5L1187.5 138.3L1188.0 136.4L1188.5 133.4L1189.0 129.5L1189.5 131.7L1190.0 129.0L1190.5 125.4L1190.8 124.3L1191.0 124.1L1191.5 130.0L1192.0 127.0L1192.5 127.9L1193.0 128.3L1193.5 124.5L1193.8 125.1L1194.0 126.8L1194.5 134.5L1195.0 134.7L1195.5 134.6L1196.0 136.3L1196.5 137.5L1197.0 138.6L1197.5 141.1L1198.0 146.6L1198.3 148.3L1198.5 147.8L1199.0 144.5L1199.5 141.6L1199.8 139.3L1200.0 142.5L1200.5 147.5L1201.0 150.2L1201.3 154.3L1201.5 157.4L1202.0 166.8L1202.5 174.1L1202.8 177.6L1203.0 177.6L1203.5 173.6L1204.0 173.0L1204.5 173.3L1204.7 174.6L1205.0 177.4L1205.5 183.5L1206.0 185.0L1206.5 190.3L1250.0 190.3L1250.5 187.7L1251.0 187.7L1251.5 186.5L1252.0 185.3L1252.5 186.6L1252.7 186.1L1253.0 187.8L1253.5 190.2L1254.0 191.3L1254.5 190.3L1255.0 192.6L1255.5 196.4L1256.0 198.6L1256.5 197.8L1257.0 199.6L1257.5 200.5L1258.0 196.3L1258.5 197.1L1259.0 196.3L1259.5 196.8L1260.0 193.2L1260.5 192.6L1261.0 195.7L1261.5 196.2L1262.0 197.5L1262.5 196.2L1262.8 196.3L1263.0 195.1L1263.5 192.0L1264.0 191.6L1264.5 188.4L1265.0 186.4L1265.5 185.6L1265.8 188.1L1266.0 191.0L1266.5 192.0L1267.0 191.8L1267.5 190.7L1268.0 192.6L1268.5 195.5L1268.8 195.6L1269.0 195.5L1269.5 189.3L1270.0 191.7L1270.5 193.2L1271.0 197.1L1271.5 200.5L1272.0 203.3L1272.5 206.6L1273.0 206.1L1273.5 206.1L1274.0 207.5L1274.3 207.6L1274.5 205.8L1275.0 205.3L1275.5 200.6L1276.0 198.7L1276.5 195.6L1276.7 194.8L1277.0 197.0L1277.5 201.0L1278.0 204.7L1278.5 203.8L1279.0 203.0L1279.5 205.0L1280.0 203.2L1280.5 200.4L1281.0 201.3L1281.5 195.6L1282.0 191.6L1282.5 193.0L1283.0 192.1L1283.5 190.7L1284.0 190.5L1284.5 188.9L1285.0 194.7L1285.5 193.8L1286.0 188.8L1286.5 191.1L1287.0 194.7L1287.5 192.0L1287.8 194.1L1288.0 195.8L1288.5 199.7L1289.0 202.0L1289.3 203.8L1289.5 203.1L1290.0 204.0L1290.5 206.7L1291.0 205.6L1291.3 205.3L1291.5 205.6L1292.0 209.3L1292.5 207.2L1293.0 203.2L1293.5 203.4L1294.0 202.4L1294.3 201.6L1294.5 201.7L1295.0 201.1L1295.5 198.3L1296.0 195.6L1296.5 195.6L1297.0 197.5L1297.5 199.5L1298.0 199.6L1298.5 203.2L1299.0 204.4L1299.5 203.9L1300.0 202.7L1300.3 202.3L1300.5 203.1L1301.0 201.9L1301.5 201.9L1302.0 205.0L1302.5 211.3L1303.0 211.3L1303.5 213.0L1304.0 213.0L1304.5 214.4L1304.8 215.5L1324.6 215.5" stroke="#2297E6" stroke-width="1.50"/>
<path d="M75.7 429.0L100.0 428.7L100.5 428.6L101.0 428.7L101.5 428.8L102.0 428.7L102.5 428.8L103.0 428.8L103.5 428.8L104.0 428.8L104.5 428.8L105.0 428.9L105.5 428.9L106.0 429.0L106.5 429.0L107.0 429.0L107.5 428.9L108.0 428.9L108.5 428.9L109.0 429.0L109.5 429.0L110.0 429.0L110.5 429.0L111.0 429.0L111.5 428.8L112.0 428.9L112.5 428.9L113.0 428.9L113.5 428.8L114.0 428.8L114.5 428.8L115.0 428.7L115.5 428.7L116.0 428.7L116.5 428.7L117.0 428.8L117.5 428.7L118.0 428.7L118.5 428.6L119.0 428.6L119.5 428.6L120.0 428.5L120.5 428.6L121.0 428.5L121.5 428.6L122.0 428.5L122.5 428.5L123.0 428.4L123.5 428.4L124.0 428.4L124.5 428.5L125.0 428.3L125.5 428.3L126.0 428.2L126.5 428.1L127.0 428.1L127.5 428.0L128.0 427.9L128.5 427.9L129.0 427.9L129.5 428.0L130.0 428.1L130.5 427.8L130.7 427.8L131.0 427.7L131.5 427.6L132.0 427.5L132.5 427.4L133.0 427.3L133.5 427.3L134.0 427.3L134.5 427.3L135.0 427.3L135.5 427.2L136.0 427.0L136.5 427.0L137.0 426.9L137.5 426.9L138.0 426.9L138.5 426.9L139.0 426.9L139.5 426.9L140.0 426.8L140.5 426.8L141.0 426.6L141.5 426.6L142.0 426.7L142.5 426.6L143.0 426.6L143.5 426.5L144.0 426.3L144.5 426.3L145.0 426.4L145.5 426.4L146.0 426.2L146.5 426.2L147.0 426.1L147.5 426.0L148.0 425.9L148.5 425.9L149.0 425.7L149.5 425.8L150.0 425.7L150.5 425.6L151.0 425.6L151.5 425.6L152.0 425.5L152.5 425.5L153.0 425.5L153.5 425.7L154.0 425.6L154.5 425.6L155.0 425.7L155.5 425.7L156.0 425.9L156.5 425.9L157.0 425.7L157.5 425.9L158.0 425.9L158.5 425.9L159.0 426.1L159.5 426.0L160.0 426.1L175.0 426.3L175.5 426.3L176.0 426.3L176.5 426.2L177.0 426.1L177.5 426.1L178.0 425.9L178.5 425.9L179.0 425.8L179.5 425.8L180.0 425.5L180.5 425.5L181.0 425.5L181.5 425.4L182.0 425.3L182.5 425.2L183.0 425.1L183.5 425.0L184.0 424.9L184.5 424.9L185.0 424.7L185.5 424.6L186.0 424.6L186.5 424.5L187.0 424.6L187.5 424.6L188.0 424.5L188.5 424.4L189.0 424.3L189.5 424.2L190.0 424.2L190.5 424.1L191.0 424.2L191.5 424.1L192.0 424.0L192.5 423.7L193.0 423.7L193.5 423.7L194.0 423.5L194.5 423.4L195.0 423.4L195.5 423.4L196.0 423.6L196.5 423.5L197.0 423.3L197.5 423.5L198.0 423.4L198.5 423.3L198.6 423.3L199.0 423.4L199.5 423.5L200.0 423.6L200.5 423.6L201.0 423.5L201.5 423.6L202.0 423.6L202.5 423.6L203.0 423.6L203.5 424.4L204.0 424.2L204.5 424.3L205.0 424.2L205.5 424.3L206.0 424.2L206.5 424.2L207.0 424.1L207.5 424.3L208.0 424.3L208.5 424.4L209.0 424.6L209.5 424.7L210.0 424.7L210.5 424.9L211.0 425.0L211.5 425.1L212.0 425.2L212.5 425.5L212.9 425.5L213.0 425.5L213.5 425.6L214.0 425.6L214.5 425.6L215.0 425.6L215.5 425.8L216.0 425.6L216.5 425.6L217.0 425.6L217.5 425.6L218.0 425.5L218.5 425.4L219.0 425.4L219.5 425.2L220.0 425.4L220.5 425.3L221.0 425.4L221.5 425.3L222.0 425.3L222.5 425.4L223.0 425.5L223.5 425.4L224.0 425.6L224.5 425.4L225.0 425.3L225.5 425.3L226.0 425.1L226.5 425.2L227.0 425.0L227.5 424.9L228.0 424.9L228.5 424.8L229.0 424.7L229.5 424.6L230.0 424.6L230.5 424.4L231.0 424.4L231.5 424.3L232.0 424.3L232.5 424.1L233.0 424.1L233.5 423.9L234.0 423.9L234.5 424.1L235.0 424.1L235.5 424.1L236.0 424.2L236.5 424.1L237.0 424.0L237.5 423.7L238.0 423.7L238.5 423.8L239.0 423.8L239.5 423.9L240.0 423.8L240.5 423.8L241.0 423.9L241.4 423.8L241.5 423.8L242.0 423.8L242.5 423.9L243.0 423.9L243.5 424.0L244.0 423.8L244.5 423.8L245.0 423.8L245.5 423.6L246.0 422.9L246.5 422.7L247.0 422.7L247.5 422.9L248.0 422.8L248.5 422.7L249.0 422.6L249.5 422.6L250.0 422.8L250.5 422.5L251.0 422.3L251.5 422.1L252.0 421.9L252.5 421.8L253.0 421.5L253.5 421.5L254.0 421.4L254.5 421.5L255.0 421.4L255.5 421.3L256.0 421.1L256.5 421.0L257.0 420.9L257.5 420.9L258.0 420.8L258.5 420.7L259.0 420.6L259.5 420.5L260.0 420.5L260.5 420.5L261.0 420.4L261.5 420.3L262.0 420.0L262.5 419.8L262.9 419.8L263.0 419.8L263.5 419.7L264.0 419.6L264.5 419.6L265.0 419.6L265.5 419.4L266.0 419.4L266.5 419.2L267.0 419.3L267.5 419.2L268.0 419.3L268.5 419.0L269.0 418.8L269.5 418.6L270.0 418.6L270.5 418.5L271.0 418.4L271.5 418.7L272.0 419.0L272.5 419.1L273.0 418.9L273.5 419.0L274.0 419.0L274.5 418.9L275.0 418.4L275.5 418.6L276.0 418.2L276.5 418.3L277.0 418.0L277.5 418.1L278.0 417.7L278.5 417.8L278.6 417.8L279.0 417.7L279.5 417.5L280.0 417.7L280.5 417.8L281.0 417.8L281.5 417.9L282.0 417.8L282.5 417.6L283.0 417.4L283.5 417.5L284.0 417.2L284.5 417.4L285.0 417.3L285.5 417.3L286.0 417.2L286.5 416.9L287.0 416.7L287.5 417.0L288.0 417.1L288.5 417.3L288.6 417.3L289.0 417.2L289.5 417.4L290.0 417.4L290.5 417.4L291.0 417.5L291.5 417.6L292.0 417.7L292.5 417.5L293.0 418.0L293.5 418.0L294.0 418.3L294.5 418.4L295.0 418.3L295.5 418.4L296.0 418.4L296.5 418.7L297.0 418.6L297.5 418.6L298.0 418.8L298.5 418.8L299.0 418.8L299.5 418.9L300.0 418.9L300.5 419.1L301.0 419.0L301.5 418.9L302.0 418.9L302.5 418.9L303.0 418.7L303.5 418.7L304.0 418.7L304.3 418.8L304.5 418.7L305.0 418.2L305.5 418.2L306.0 417.9L306.5 417.5L307.0 417.3L307.5 417.1L308.0 416.8L308.5 416.4L308.6 416.3L309.0 416.2L309.5 416.3L310.0 416.3L310.5 416.2L311.0 416.4L311.5 416.4L312.0 416.2L312.5 415.7L313.0 415.6L313.5 415.6L314.0 415.6L314.5 415.3L315.0 415.3L315.5 415.4L316.0 415.4L316.5 415.3L317.0 414.9L317.1 414.8L317.5 414.6L318.0 414.7L318.5 415.0L319.0 414.9L319.5 415.0L320.0 415.0L320.5 415.1L321.0 415.1L321.5 415.7L322.0 415.9L322.5 415.9L323.0 415.9L323.5 415.9L324.0 415.7L324.5 415.7L325.0 415.7L325.5 415.7L326.0 415.7L326.5 415.5L327.0 415.7L327.5 415.9L328.0 416.2L328.5 416.3L328.6 416.3L329.0 416.1L329.5 415.9L330.0 415.8L330.5 415.6L331.0 415.3L331.5 414.9L332.0 414.4L332.5 414.2L333.0 414.0L333.5 413.5L334.0 413.0L334.5 412.6L335.0 411.9L335.5 411.4L335.7 411.3L336.0 411.2L336.5 410.9L337.0 410.4L337.5 409.6L338.0 409.0L338.5 408.2L339.0 407.7L339.5 407.7L340.0 407.2L340.5 407.1L341.0 406.6L341.4 406.0L341.5 405.9L342.0 405.7L342.5 405.5L343.0 405.5L343.5 405.8L344.0 405.6L344.5 405.6L345.0 405.4L345.5 405.3L346.0 405.6L346.5 404.9L347.0 404.4L347.5 404.8L348.0 404.5L348.5 404.0L349.0 404.4L349.5 404.6L350.0 404.7L350.5 404.7L351.0 404.4L351.4 404.6L351.5 404.8L352.0 405.6L352.5 406.3L353.0 406.4L353.5 407.0L354.0 407.5L354.5 408.2L355.0 408.9L355.5 409.3L355.7 409.6L356.0 409.7L356.5 409.6L357.0 409.9L357.5 409.9L358.0 410.1L358.5 410.2L359.0 410.5L359.5 410.5L360.0 410.5L360.5 410.4L361.0 410.2L361.5 410.4L362.0 410.2L362.5 410.3L363.0 410.4L363.5 410.1L364.0 410.4L364.5 410.5L365.0 410.4L365.5 410.5L366.0 410.2L366.5 410.1L367.0 410.0L367.5 410.3L368.0 410.3L368.5 410.3L369.0 410.2L369.5 409.8L370.0 409.8L370.5 410.1L371.0 410.2L371.5 410.0L372.0 409.7L372.5 409.8L373.0 409.8L373.5 409.9L374.0 410.1L374.3 410.3L374.5 410.3L375.0 410.3L375.5 410.1L376.0 409.8L376.5 409.7L377.0 409.4L377.5 409.3L378.0 409.1L378.5 409.0L378.6 408.9L392.9 409.3L450.0 409.6L450.5 409.8L451.0 409.6L451.5 409.3L452.0 409.4L452.5 409.2L453.0 409.1L453.5 408.9L454.0 409.1L454.5 409.3L455.0 409.3L455.5 409.3L456.0 409.4L456.5 409.2L457.0 409.7L457.5 409.6L458.0 409.6L458.5 409.3L459.0 409.4L459.5 409.6L460.0 409.4L460.5 409.4L461.0 409.3L461.5 409.8L462.0 409.7L462.5 409.9L463.0 409.7L463.5 409.8L464.0 409.9L464.5 410.0L465.0 410.0L465.5 410.6L466.0 410.4L466.5 410.2L467.0 410.1L467.5 410.3L468.0 410.2L468.5 410.2L469.0 410.1L469.5 410.1L470.0 410.0L470.5 410.0L471.0 409.9L471.5 409.8L472.0 409.7L472.5 410.4L473.0 410.4L473.5 410.4L474.0 410.6L474.5 410.2L475.0 409.9L475.5 409.9L476.0 410.3L476.5 409.7L477.0 409.9L477.5 409.6L478.0 409.4L478.5 409.5L479.0 409.2L479.5 408.9L480.0 408.9L480.5 409.0L481.0 408.4L481.5 408.7L482.0 408.3L482.5 408.2L483.0 408.2L483.5 408.5L484.0 408.4L484.5 408.8L485.0 408.7L485.5 408.6L486.0 408.9L486.5 409.2L487.0 409.2L487.5 409.6L488.0 409.2L488.5 409.1L489.0 409.3L489.5 409.5L490.0 409.4L490.5 409.3L491.0 409.3L491.5 409.3L492.0 409.1L492.5 408.9L493.0 409.0L493.5 409.3L494.0 409.2L494.5 408.9L495.0 409.2L495.5 409.3L496.0 409.2L496.5 409.6L497.0 409.6L497.5 409.5L498.0 409.3L498.5 409.4L499.0 409.0L499.5 409.3L500.0 409.5L500.5 409.8L501.0 409.6L501.5 409.8L502.0 409.9L502.5 409.7L503.0 409.6L503.5 409.5L504.0 409.9L504.5 410.1L505.0 410.1L505.5 410.2L506.0 410.1L506.5 410.2L507.0 410.0L507.5 409.8L508.0 410.2L508.5 410.2L509.0 410.6L509.5 410.5L510.0 410.4L510.5 410.7L511.0 410.8L511.5 410.7L512.0 410.7L512.5 410.8L513.0 410.8L513.5 410.5L514.0 410.1L514.5 410.1L515.0 410.1L515.5 410.6L516.0 410.6L516.5 410.8L517.0 410.7L517.5 410.7L518.0 410.6L518.5 410.6L519.0 410.3L519.5 410.1L520.0 410.3L520.5 410.2L521.0 410.3L521.5 410.2L522.0 409.9L522.5 410.2L523.0 410.5L523.5 410.5L524.0 410.4L524.5 410.9L525.0 410.6L525.5 409.9L526.0 409.8L526.5 409.5L527.0 409.6L527.5 409.9L528.0 409.7L528.5 409.6L529.0 409.3L529.5 409.3L530.0 409.6L530.5 409.9L531.0 410.0L531.5 410.5L532.0 410.3L532.5 410.2L533.0 410.3L533.5 410.5L534.0 410.4L534.5 410.7L535.0 410.8L535.5 410.9L535.7 410.9L536.0 411.6L536.5 413.1L537.0 414.3L537.1 414.6L558.6 414.3L559.0 414.2L559.5 414.6L560.0 414.7L560.5 414.8L561.0 414.2L561.5 414.3L562.0 414.3L562.5 414.3L563.0 414.4L563.5 414.2L564.0 414.4L564.5 414.5L565.0 414.4L565.5 414.3L566.0 414.5L566.5 414.4L567.0 414.1L567.5 414.2L568.0 414.3L568.5 414.4L569.0 414.3L569.5 414.2L570.0 414.2L570.5 414.0L571.0 414.2L571.5 414.3L572.0 414.0L572.5 414.1L573.0 414.2L573.5 414.5L574.0 414.8L574.5 414.8L575.0 414.7L575.5 414.5L576.0 414.4L576.5 414.7L577.0 414.8L577.5 414.7L578.0 414.8L578.5 414.8L579.0 414.6L579.5 414.6L580.0 414.5L580.5 414.5L581.0 414.6L581.5 414.3L582.0 414.4L582.5 414.3L583.0 414.6L583.5 414.9L584.0 415.2L584.5 415.2L585.0 415.4L585.5 415.3L585.7 415.2L586.0 414.9L586.5 414.6L587.0 414.1L587.5 413.8L588.0 413.4L588.5 413.4L589.0 413.3L589.5 413.0L590.0 412.8L590.5 412.7L591.0 412.5L591.5 412.0L592.0 411.8L592.5 411.7L592.9 411.3L606.4 411.3L606.5 411.4L607.0 412.2L607.5 413.0L608.0 414.1L608.5 414.5L608.6 414.6L609.0 414.7L609.5 415.0L610.0 415.1L610.5 415.2L611.0 415.4L611.5 415.4L612.0 415.4L612.5 415.5L613.0 415.3L613.5 415.2L614.0 414.9L614.5 415.0L615.0 415.2L615.5 414.9L616.0 414.9L616.5 414.8L617.0 414.8L617.5 415.1L618.0 415.4L618.5 415.4L619.0 415.3L619.5 415.5L620.0 415.7L620.5 415.6L621.0 415.6L621.5 415.3L622.0 415.6L622.5 415.7L623.0 415.7L623.5 415.4L624.0 415.6L624.5 415.5L625.0 415.6L625.5 415.7L626.0 415.5L626.5 415.5L627.0 415.2L627.5 415.3L628.0 415.6L628.5 415.5L629.0 415.3L629.5 415.4L630.0 415.2L630.5 415.4L631.0 415.4L631.5 415.4L632.0 415.2L632.5 415.3L633.0 415.4L633.5 415.4L634.0 415.2L634.5 415.1L635.0 415.0L635.5 415.1L636.0 415.2L636.5 415.3L637.0 415.2L637.3 415.1L637.5 415.0L638.0 414.9L638.5 414.4L639.0 414.2L639.5 413.9L640.0 413.9L640.5 413.5L641.0 413.1L641.5 413.1L642.0 413.1L642.5 412.8L643.0 412.4L643.5 412.6L644.0 412.2L644.5 411.7L645.0 411.4L645.5 411.3L646.0 411.2L646.5 410.8L647.0 410.3L656.0 410.3L656.5 410.0L657.0 409.5L657.5 409.1L658.0 408.8L658.5 408.3L659.0 407.9L659.5 407.7L660.0 407.3L660.5 407.0L661.0 406.7L661.5 406.6L662.0 406.2L662.5 406.0L663.0 405.4L663.5 405.0L664.0 404.3L664.5 404.4L665.0 404.1L665.5 403.9L665.8 403.6L666.0 403.7L666.5 403.9L667.0 404.6L667.5 404.7L668.0 404.9L668.5 404.6L669.0 404.8L669.5 405.1L670.0 404.7L670.5 404.6L671.0 404.3L671.5 403.9L672.0 403.5L672.5 403.6L673.0 403.1L673.5 402.7L674.0 402.8L674.5 402.4L674.8 402.1L675.0 402.2L675.5 403.1L676.0 403.5L676.5 403.4L677.0 404.0L677.5 404.2L677.8 404.0L678.0 403.7L678.5 403.8L679.0 403.8L679.5 403.8L680.0 403.4L680.5 403.4L681.0 403.1L681.5 403.6L682.0 403.2L682.5 403.4L683.0 403.4L683.5 403.5L684.0 403.4L684.5 403.4L685.0 403.4L685.5 403.1L686.0 402.9L686.5 402.9L687.0 403.0L687.5 403.2L688.0 403.1L688.5 403.3L689.0 402.9L689.5 403.5L690.0 403.5L690.5 403.3L691.0 403.3L691.5 403.2L692.0 403.1L692.5 402.5L693.0 401.8L693.5 401.4L694.0 400.6L694.5 400.6L695.0 399.7L695.5 399.5L696.0 399.3L696.5 398.7L697.0 398.3L697.5 397.5L698.0 396.8L698.5 396.0L699.0 395.4L699.5 394.9L700.0 394.3L700.5 394.3L701.0 394.0L701.5 394.2L702.0 394.3L702.5 394.7L703.0 394.2L703.5 393.7L704.0 392.9L704.5 392.7L704.8 392.3L705.0 392.3L705.5 392.8L706.0 393.3L706.5 393.4L707.0 393.8L707.5 393.1L708.0 393.3L708.5 393.1L709.0 392.8L709.5 392.2L710.0 391.3L710.5 391.2L711.0 391.4L711.5 391.0L712.0 390.0L712.5 389.5L713.0 389.3L713.5 389.4L714.0 389.0L714.5 388.6L715.0 388.2L715.5 388.5L716.0 388.2L716.5 389.0L717.0 388.6L717.5 388.7L718.0 389.1L718.5 388.8L719.0 389.1L719.5 388.6L719.8 387.8L720.0 387.1L720.5 386.5L721.0 385.5L721.5 385.3L722.0 384.5L722.5 383.2L723.0 382.7L723.5 382.7L724.0 382.7L724.5 382.4L725.0 381.8L725.5 381.5L726.0 380.7L726.5 380.3L727.0 379.6L727.5 379.0L728.0 378.1L728.5 377.9L729.0 378.1L729.5 377.7L730.0 377.0L730.5 376.6L731.0 376.6L731.5 376.2L732.0 375.3L732.5 374.4L733.0 374.6L733.5 374.6L734.0 374.3L734.5 374.9L735.0 375.1L735.5 375.3L736.0 376.1L736.5 376.8L737.0 378.0L737.5 379.1L738.0 379.8L738.5 380.3L746.0 380.3L746.5 379.4L747.0 379.3L747.5 379.3L748.0 379.4L748.5 378.9L749.0 378.0L749.5 377.6L750.0 377.5L750.5 376.9L751.0 376.8L751.5 376.6L752.0 376.6L752.5 376.2L753.0 376.6L753.5 375.9L754.0 375.9L754.5 376.0L755.0 375.3L755.5 375.3L756.0 374.9L756.5 375.0L757.0 374.3L757.5 373.6L758.0 373.3L758.5 373.7L759.0 372.8L759.5 372.5L760.0 372.5L760.5 371.7L761.0 371.0L761.5 370.5L762.0 370.1L762.5 370.1L763.0 369.2L763.5 369.1L764.0 369.8L764.5 369.5L765.0 368.1L765.5 367.8L766.0 366.7L766.5 366.7L767.0 365.7L767.5 366.6L768.0 365.1L768.5 364.8L769.0 363.1L769.5 362.5L770.0 362.3L770.5 360.9L771.0 360.3L771.5 360.1L772.0 358.7L772.5 358.0L773.0 357.8L773.5 357.4L774.0 357.2L774.5 356.7L775.0 356.2L775.3 356.3L775.5 356.6L776.0 356.6L776.5 356.9L777.0 357.9L777.5 357.7L778.0 358.8L778.5 358.6L779.0 358.6L779.5 358.4L780.0 357.9L780.5 359.8L781.0 359.1L781.5 359.4L782.0 359.6L782.5 359.4L783.0 359.6L783.5 359.3L784.0 359.1L784.5 358.6L785.0 360.1L785.5 361.5L786.0 362.1L786.5 362.7L787.0 363.7L787.5 365.1L788.0 365.3L788.5 364.3L789.0 363.5L789.5 361.7L790.0 360.6L790.3 359.3L790.5 358.5L791.0 357.1L791.5 356.3L792.0 354.6L792.5 353.8L793.0 351.5L793.5 350.5L794.0 348.8L794.5 346.1L795.0 345.8L795.5 345.1L796.0 343.8L796.5 344.5L797.0 344.4L797.5 343.4L798.0 342.7L798.5 341.4L799.0 340.1L799.5 339.2L800.0 338.3L800.5 336.5L801.0 335.8L801.5 333.9L802.0 331.8L802.5 329.5L803.0 328.7L803.5 327.2L803.8 324.8L804.7 322.1L805.0 323.3L805.5 324.5L806.0 325.2L806.5 326.9L807.0 327.4L807.5 328.5L808.0 329.5L808.5 332.2L809.0 334.4L809.5 336.3L810.0 335.6L810.5 334.0L811.0 332.7L811.5 333.2L812.0 333.0L812.5 333.2L813.0 332.8L813.5 330.9L814.0 330.9L814.5 330.0L815.0 329.6L815.5 328.8L816.0 331.4L816.5 331.6L817.0 332.5L817.5 334.3L818.0 333.5L818.5 333.3L819.0 332.6L819.5 331.4L820.0 329.7L820.5 328.3L821.0 328.9L821.5 328.4L822.0 326.4L822.5 325.3L823.0 324.4L823.5 322.8L824.0 321.7L824.5 319.4L825.0 317.4L825.5 316.0L826.0 315.3L826.5 316.7L827.0 316.9L827.5 319.1L828.0 320.4L828.3 322.1L828.5 322.6L829.0 323.3L829.5 322.2L830.0 320.4L830.5 318.5L831.0 318.8L831.5 319.8L832.0 318.6L832.5 318.0L833.0 318.2L833.5 317.1L834.0 314.1L834.5 312.6L835.0 311.9L835.5 311.3L836.0 311.9L836.5 312.0L837.0 309.7L837.5 309.4L838.0 307.8L838.5 307.8L839.0 308.9L839.5 312.3L840.0 313.0L840.3 313.8L840.5 314.0L841.0 314.7L841.5 313.9L842.0 313.4L842.5 314.5L843.0 313.6L843.5 312.8L844.0 312.3L844.5 312.5L845.0 314.0L845.5 315.4L846.0 316.0L846.5 315.8L847.0 314.6L847.5 316.2L848.0 316.4L848.5 318.0L849.0 317.2L849.5 318.5L850.0 318.3L850.8 328.1L862.8 328.1L863.0 327.6L863.5 325.6L864.0 324.2L864.5 323.1L865.0 321.3L865.5 320.9L866.0 320.5L866.5 319.8L867.0 320.4L867.5 321.2L868.0 320.8L868.5 321.4L869.0 320.2L869.5 319.1L870.0 320.8L870.5 322.7L871.0 324.8L871.5 325.2L872.0 325.6L872.5 327.3L893.5 327.6L894.0 327.3L894.5 326.3L895.0 326.6L895.5 325.4L896.0 325.1L896.5 324.9L897.0 323.1L897.5 321.9L898.0 319.8L898.5 318.2L899.0 320.3L899.5 321.0L900.0 320.4L900.5 321.7L901.0 322.1L901.5 322.2L901.8 322.8L902.0 322.9L902.5 324.0L903.0 322.0L903.5 319.4L904.0 318.3L904.5 317.1L905.0 315.2L905.5 315.3L906.0 318.9L906.5 318.7L907.0 318.2L907.5 317.0L908.0 317.0L908.5 315.6L909.0 316.9L909.5 317.2L910.0 317.6L910.5 316.2L911.0 314.0L911.5 312.0L912.0 310.3L912.5 310.7L913.0 310.0L913.5 309.7L914.0 308.7L914.5 307.8L915.0 308.4L915.5 308.6L916.0 306.4L916.5 305.0L917.0 304.9L917.5 306.6L918.0 307.0L918.5 305.3L919.0 303.3L919.5 303.6L920.0 304.8L920.5 306.7L921.0 308.9L921.5 309.1L922.0 311.6L922.5 310.6L923.0 311.3L923.5 310.2L924.0 308.2L924.5 308.1L925.0 307.2L925.5 307.6L926.0 305.1L926.5 302.6L927.0 305.8L927.5 304.9L928.0 306.2L928.5 306.6L928.8 307.8L929.0 308.2L929.5 308.0L930.0 307.4L930.5 307.7L931.0 306.9L931.5 305.9L932.0 305.8L932.5 305.1L933.0 302.6L933.3 302.6L933.5 302.2L934.0 301.8L934.5 300.6L935.0 298.7L935.5 298.1L936.0 295.8L936.5 294.5L937.0 292.8L937.5 293.6L938.0 295.2L938.5 295.1L939.0 295.7L939.5 296.4L940.0 296.8L940.5 298.1L940.8 300.3L941.0 300.9L941.5 298.4L942.0 299.2L942.5 299.0L943.0 299.4L943.5 297.6L944.0 299.2L944.5 299.5L945.0 298.3L945.5 297.5L946.0 295.7L946.5 295.4L946.8 294.3L947.0 293.7L947.5 292.6L948.0 290.8L948.5 290.7L949.0 289.6L949.5 291.4L950.0 291.5L950.2 291.3L950.5 293.6L951.0 297.6L951.5 302.5L951.7 304.1L952.0 301.8L952.5 296.0L952.8 292.8L953.0 292.2L953.5 291.9L954.0 291.1L954.5 289.4L955.0 288.1L955.5 287.9L956.0 286.8L956.5 286.7L957.0 287.3L957.5 289.3L958.0 290.7L958.5 291.9L959.0 292.5L959.5 292.1L960.0 292.2L960.5 292.4L961.0 293.0L961.5 294.2L962.0 295.5L962.2 295.6L962.8 303.4L963.0 303.6L963.5 302.1L964.0 300.6L964.5 300.3L965.0 300.6L965.5 301.5L966.0 302.1L966.5 302.0L967.0 301.9L967.5 302.4L968.0 302.4L968.5 302.3L969.0 302.4L969.5 302.3L970.0 302.8L970.5 303.5L971.0 304.3L971.2 304.0L971.8 306.8L987.0 306.8L987.5 307.8L988.0 308.0L988.5 308.4L989.0 309.2L989.5 308.1L990.0 308.4L990.5 307.9L991.0 307.4L991.5 304.6L992.0 303.4L992.5 302.6L993.0 302.3L993.5 299.1L994.0 301.1L994.3 300.1L994.5 300.0L995.0 302.2L995.5 302.3L996.0 300.9L996.5 302.8L997.0 301.9L997.5 302.7L998.0 303.4L998.3 303.4L998.5 302.2L999.0 302.3L999.5 301.3L1000.0 299.9L1000.5 297.2L1001.0 296.9L1001.1 296.7L1001.5 296.2L1002.0 292.9L1002.5 293.1L1003.0 292.1L1003.5 291.6L1004.0 290.4L1004.5 290.6L1005.0 291.1L1005.5 289.0L1005.6 288.8L1006.0 287.7L1006.5 286.7L1007.0 286.4L1007.5 286.9L1007.8 287.1L1008.0 287.4L1008.5 286.1L1009.0 285.4L1009.5 284.3L1010.0 283.7L1010.5 283.2L1010.6 282.6L1011.0 282.5L1011.5 283.6L1012.0 284.7L1012.5 288.0L1012.9 287.1L1013.0 286.5L1013.5 288.2L1014.0 285.1L1014.5 284.3L1015.0 283.6L1015.5 282.6L1016.0 281.2L1016.3 281.5L1016.5 281.6L1017.0 280.6L1017.5 282.0L1018.0 279.2L1018.5 281.7L1019.0 280.4L1019.5 279.2L1020.0 279.2L1020.5 278.4L1021.0 277.4L1021.3 277.0L1021.5 277.3L1022.0 278.6L1022.5 280.5L1023.0 280.9L1023.5 280.8L1023.6 280.9L1024.0 279.7L1024.5 277.3L1025.0 274.1L1025.5 271.9L1026.0 269.8L1026.5 267.9L1027.0 266.9L1027.5 266.3L1028.0 268.6L1028.5 267.5L1029.0 269.0L1029.5 270.0L1030.0 271.1L1030.3 273.6L1030.5 273.8L1031.0 274.8L1031.5 275.1L1032.0 274.8L1032.5 271.4L1033.0 267.2L1033.5 265.7L1034.0 263.2L1034.3 262.9L1034.5 262.9L1035.0 260.9L1035.5 261.7L1036.0 260.0L1036.5 258.9L1037.0 257.8L1037.1 257.3L1037.5 256.7L1038.0 258.9L1038.5 259.6L1039.0 259.5L1039.5 260.9L1039.9 261.8L1040.0 262.1L1040.5 260.7L1041.0 258.2L1041.5 257.5L1042.0 258.4L1042.5 259.7L1043.0 259.0L1043.5 257.3L1044.0 257.3L1044.4 257.3L1044.5 257.2L1045.0 260.6L1045.5 260.4L1046.0 258.8L1046.5 258.5L1047.0 258.9L1047.5 259.3L1048.0 261.0L1048.3 261.3L1048.5 261.0L1049.0 258.9L1049.5 254.1L1050.0 252.5L1050.5 250.0L1051.0 251.6L1051.5 250.5L1052.0 250.1L1052.5 251.7L1053.0 251.0L1053.5 252.7L1054.0 257.9L1054.3 259.8L1054.5 260.0L1055.0 260.7L1055.5 259.7L1056.0 257.7L1056.5 256.8L1057.0 257.1L1057.5 259.4L1058.0 258.4L1058.5 257.3L1059.0 254.8L1059.5 252.5L1060.0 252.6L1060.5 250.4L1061.0 250.8L1061.5 251.0L1062.0 251.4L1062.5 250.6L1063.0 253.3L1063.5 251.6L1064.0 253.5L1064.5 253.1L1065.0 251.0L1065.5 249.7L1066.0 249.8L1066.5 251.1L1067.0 249.3L1067.5 246.9L1068.0 246.7L1068.5 245.1L1069.0 248.2L1069.5 245.6L1070.0 244.8L1070.5 246.5L1071.0 248.7L1071.5 249.9L1072.0 251.3L1072.5 251.5L1073.0 250.8L1073.5 252.4L1073.8 252.3L1074.0 251.7L1074.5 250.7L1075.0 251.5L1075.5 251.4L1076.0 250.9L1076.5 248.7L1077.0 246.7L1077.5 245.6L1078.0 244.9L1078.3 244.1L1078.5 243.9L1079.0 243.3L1079.5 241.4L1080.0 246.8L1080.5 246.3L1081.0 245.5L1081.5 246.1L1082.0 244.1L1082.5 247.2L1083.0 248.2L1083.5 249.8L1084.0 249.2L1084.3 250.8L1084.5 248.4L1085.0 244.6L1085.5 238.2L1085.8 236.6L1086.0 236.3L1086.5 236.6L1087.0 235.1L1087.5 233.7L1088.0 231.1L1088.5 226.9L1088.8 223.8L1089.0 223.2L1089.5 224.1L1090.0 225.5L1090.5 230.0L1091.0 232.1L1091.5 233.5L1092.0 229.8L1092.5 230.6L1093.0 230.7L1093.5 226.7L1094.0 224.8L1094.5 220.8L1095.0 222.3L1095.5 225.7L1096.0 228.8L1096.3 228.3L1096.5 227.2L1097.0 226.8L1097.5 226.9L1097.8 226.8L1098.0 227.0L1098.5 232.2L1099.0 235.0L1099.5 237.9L1100.0 241.8L1100.8 252.3L1106.0 252.3L1106.5 248.4L1107.0 245.6L1107.5 245.6L1108.0 245.8L1108.5 247.1L1109.0 247.8L1109.5 247.5L1110.0 245.2L1110.5 246.3L1111.0 247.0L1111.5 249.4L1112.0 248.6L1112.5 246.2L1113.0 245.5L1113.5 242.2L1114.0 239.8L1114.5 238.6L1115.0 237.4L1115.5 236.1L1116.0 232.9L1116.5 232.1L1117.0 232.1L1117.5 233.1L1118.0 234.5L1118.5 235.3L1119.0 235.8L1119.5 237.6L1120.0 240.1L1120.3 241.1L1120.5 240.6L1121.0 239.7L1121.5 238.3L1122.0 236.6L1122.5 232.1L1123.0 233.1L1123.5 234.5L1124.0 236.3L1124.5 235.2L1125.0 236.0L1125.5 237.9L1126.0 235.2L1126.3 235.1L1126.5 236.3L1127.0 239.7L1127.5 240.1L1128.0 239.8L1128.5 243.3L1129.0 238.3L1129.5 232.4L1130.0 230.8L1130.5 230.0L1131.0 226.4L1131.5 225.9L1132.0 225.1L1132.5 224.7L1133.0 221.0L1133.5 216.6L1134.0 216.5L1134.5 215.8L1135.0 216.9L1135.5 216.0L1136.0 213.9L1136.5 213.1L1137.0 210.1L1137.5 210.7L1138.0 212.6L1138.2 212.8L1138.5 213.3L1139.0 210.7L1139.5 211.0L1140.0 210.7L1140.5 213.4L1141.0 211.1L1141.5 210.9L1142.0 210.6L1142.5 210.9L1143.0 212.0L1143.5 212.5L1144.0 214.2L1144.2 216.6L1144.5 215.7L1145.0 207.4L1145.5 201.6L1146.0 195.9L1146.5 192.6L1147.0 199.1L1147.5 200.5L1148.0 202.6L1148.5 206.7L1148.8 208.3L1149.0 208.3L1149.5 209.1L1150.0 209.7L1150.5 210.6L1151.0 208.3L1151.5 210.0L1151.8 209.8L1152.0 206.2L1152.5 204.9L1153.0 199.0L1153.5 192.6L1154.0 187.7L1154.5 181.4L1154.8 177.6L1155.0 177.0L1155.5 178.7L1156.0 182.3L1156.5 183.6L1157.0 187.0L1157.5 188.2L1157.8 187.3L1158.0 186.2L1158.5 183.1L1159.0 183.6L1159.5 182.7L1160.0 182.8L1160.5 183.9L1161.0 182.7L1161.5 183.8L1162.0 185.7L1162.3 185.1L1162.5 185.5L1163.0 188.3L1163.5 188.9L1164.0 190.2L1164.5 190.3L1165.0 189.7L1165.5 186.6L1166.0 184.0L1166.5 181.9L1167.0 174.9L1167.1 173.8L1167.5 173.5L1168.0 176.8L1168.5 179.6L1169.0 181.1L1169.5 180.4L1170.0 186.7L1170.2 188.8L1170.5 186.1L1171.0 186.0L1171.5 185.9L1172.0 179.3L1172.5 175.0L1172.8 173.8L1173.0 176.3L1173.5 179.2L1174.0 179.0L1174.5 183.5L1175.0 183.4L1175.5 189.5L1176.0 192.9L1176.5 196.3L1177.0 192.8L1177.5 188.1L1178.0 183.1L1178.5 184.0L1179.0 180.4L1179.5 178.4L1180.0 177.7L1180.5 172.9L1180.7 172.3L1181.0 174.5L1181.5 174.7L1182.0 179.9L1182.5 183.6L1183.0 191.4L1183.5 191.3L1183.7 191.1L1184.0 189.7L1184.5 191.1L1185.0 187.9L1185.5 190.1L1186.0 189.8L1186.3 188.1L1186.5 185.1L1187.0 181.5L1187.5 178.8L1188.0 177.1L1188.5 174.5L1189.0 171.1L1189.5 173.0L1190.0 170.6L1190.5 167.5L1190.8 166.6L1191.0 166.4L1191.5 171.5L1192.0 168.8L1192.5 169.6L1193.0 169.9L1193.5 166.6L1193.8 167.1L1194.0 168.7L1194.5 175.7L1195.0 176.2L1195.5 176.4L1196.0 178.3L1196.5 178.5L1197.0 178.7L1197.5 180.1L1198.0 184.0L1198.3 185.1L1198.5 185.7L1199.0 185.2L1199.5 185.0L1199.8 184.3L1200.1 192.6L1244.8 192.6L1245.5 187.3L1246.0 186.3L1246.5 185.7L1247.0 182.8L1250.0 182.8L1250.5 178.5L1251.0 176.8L1251.5 173.9L1252.0 171.0L1252.5 170.6L1252.7 169.3L1253.0 171.5L1253.5 174.8L1254.0 176.7L1254.5 176.3L1255.0 178.5L1255.5 182.0L1255.7 182.8L1256.0 181.3L1256.5 178.8L1257.0 179.3L1257.5 178.7L1258.0 172.7L1258.3 172.3L1258.5 172.4L1259.0 170.6L1259.5 171.6L1260.0 168.1L1260.5 167.8L1261.0 171.3L1261.5 172.0L1262.0 173.4L1262.5 172.2L1262.8 172.3L1263.0 170.9L1263.5 167.3L1264.0 166.6L1264.5 163.0L1265.0 160.6L1265.5 159.4L1265.8 162.1L1266.0 165.4L1266.5 166.6L1267.0 166.4L1267.5 165.2L1268.0 167.4L1268.5 170.7L1268.8 170.8L1269.0 170.8L1269.5 164.1L1270.0 166.8L1270.5 168.6L1271.0 173.1L1271.5 176.6L1272.0 179.3L1272.5 182.6L1273.0 181.8L1273.5 181.5L1273.7 182.1L1274.0 179.8L1274.5 174.1L1275.0 173.9L1275.5 168.9L1276.0 167.1L1276.5 164.0L1276.7 163.3L1277.0 165.8L1277.5 170.4L1278.0 174.7L1278.5 173.8L1279.0 172.8L1279.5 175.0L1280.0 172.9L1280.5 169.7L1281.0 170.6L1281.5 164.1L1282.0 159.6L1282.5 161.1L1283.0 160.1L1283.5 158.4L1284.0 158.2L1284.5 156.3L1285.0 162.8L1285.5 161.8L1286.0 156.1L1286.5 158.7L1287.0 162.7L1287.5 159.5L1287.8 161.8L1288.0 164.0L1288.5 169.3L1289.0 173.1L1289.5 170.6L1290.0 171.5L1290.5 174.4L1291.0 172.9L1291.5 172.2L1292.0 174.6L1292.5 174.7L1293.0 172.9L1293.5 175.6L1294.0 177.0L1294.3 177.6L1297.3 177.6L1297.5 178.5L1298.0 178.3L1298.5 182.0L1299.0 182.6L1299.5 181.3L1324.6 181.6" stroke="#61D04F" stroke-width="1.50"/>
<path d="M75.7 428.8L100.0 428.2L100.5 428.0L101.0 428.2L101.5 428.2L102.0 428.2L102.5 428.2L103.0 428.3L103.5 428.3L104.0 428.2L104.5 428.2L105.0 428.3L105.5 428.4L106.0 428.4L106.5 428.5L107.0 428.4L107.5 428.4L108.0 428.3L108.5 428.4L109.0 428.4L109.5 428.4L110.0 428.5L110.5 428.4L111.0 428.5L111.5 428.3L112.0 428.3L112.5 428.3L113.0 428.3L113.5 428.3L114.0 428.3L114.5 428.2L115.0 428.2L115.5 428.2L116.0 428.2L116.5 428.2L117.0 428.2L117.5 428.1L118.0 428.1L118.5 428.0L119.0 428.1L119.5 428.1L120.0 428.0L120.5 428.0L121.0 428.0L121.5 428.0L122.0 428.0L122.5 427.9L123.0 427.9L123.5 427.9L124.0 427.9L124.5 427.9L125.0 428.1L125.5 428.1L126.0 428.0L126.5 427.9L127.0 427.9L127.5 427.8L128.0 427.7L128.5 427.7L129.0 427.7L129.5 427.8L130.0 427.9L130.5 427.6L130.7 427.6L131.0 427.5L131.5 427.4L132.0 427.3L132.5 427.2L133.0 427.1L133.5 427.1L134.0 427.1L134.5 427.1L135.0 427.1L135.5 426.9L136.0 426.8L136.5 426.8L137.0 426.7L137.5 426.7L138.0 426.7L138.5 426.7L139.0 426.7L139.5 426.7L140.0 426.6L140.5 426.6L141.0 426.4L141.5 426.4L142.0 426.5L142.5 426.4L143.0 426.4L143.5 426.3L144.0 426.1L144.5 426.1L145.0 426.2L145.5 426.1L146.0 426.0L146.5 426.0L147.0 425.9L147.5 425.8L148.0 425.7L148.5 425.6L149.0 425.5L149.5 425.6L150.0 425.5L150.5 425.1L151.0 425.0L151.5 425.0L152.0 424.9L152.5 425.0L153.0 425.0L153.5 425.1L154.0 425.1L154.5 425.0L155.0 425.1L155.5 425.1L156.0 425.3L156.5 425.4L157.0 425.2L157.5 425.3L158.0 425.3L158.5 425.4L159.0 425.5L159.5 425.4L160.0 425.6L175.0 425.8L175.5 425.8L176.0 425.8L176.5 425.6L177.0 425.5L177.5 425.5L178.0 425.3L178.5 425.4L179.0 425.3L179.5 425.2L180.0 425.0L180.5 424.9L181.0 425.0L181.5 424.8L182.0 424.7L182.5 424.7L183.0 424.5L183.5 424.4L184.0 424.4L184.5 424.3L185.0 424.2L185.5 424.0L186.0 424.0L186.5 423.9L187.0 424.1L187.5 424.0L188.0 423.9L188.5 423.8L189.0 423.8L189.5 423.6L190.0 423.7L190.5 423.6L191.0 423.7L191.5 423.6L192.0 423.5L192.5 423.2L193.0 423.1L193.5 423.1L194.0 423.0L194.5 422.9L195.0 422.9L195.5 422.9L196.0 423.0L196.5 423.0L197.0 422.7L197.5 422.9L198.0 422.9L198.5 422.8L198.6 422.8L199.0 422.8L199.5 423.0L200.0 423.1L200.5 423.1L201.0 422.9L201.5 423.0L202.0 423.0L202.5 423.0L203.0 423.0L203.5 423.1L204.0 422.9L204.5 422.9L205.0 422.9L205.5 423.0L206.0 422.9L206.5 422.8L207.0 422.8L207.5 423.0L208.0 423.0L208.5 423.1L209.0 423.3L209.5 423.4L210.0 423.4L210.5 423.5L211.0 423.7L211.5 423.8L212.0 423.9L212.5 424.1L212.9 424.2L213.0 424.1L213.5 424.2L214.0 424.3L214.5 424.2L215.0 424.3L215.5 424.4L216.0 424.2L216.5 424.3L217.0 424.2L217.5 424.2L218.0 424.2L218.5 424.0L219.0 424.0L219.5 423.9L220.0 424.0L220.5 424.0L221.0 424.1L221.5 423.9L222.0 424.0L222.5 424.0L223.0 424.2L223.5 424.1L224.0 424.3L224.5 424.1L225.0 424.0L225.5 423.9L226.0 423.8L226.5 423.8L227.0 423.6L227.5 423.6L228.0 423.5L228.5 423.5L229.0 423.4L229.5 423.2L230.0 423.2L230.5 423.1L231.0 423.1L231.5 423.0L232.0 423.0L232.5 422.8L233.0 422.8L233.5 422.6L234.0 422.6L234.5 422.8L235.0 422.8L235.5 422.8L236.0 422.9L236.5 422.7L237.0 422.7L237.5 422.4L238.0 422.3L238.5 422.5L239.0 422.5L239.5 422.5L240.0 422.5L240.5 422.5L241.0 422.5L241.4 422.5L241.5 422.5L242.0 422.4L242.5 422.5L243.0 422.6L243.5 422.6L244.0 422.5L244.5 422.5L245.0 422.5L245.5 422.2L246.0 422.3L246.5 422.2L247.0 422.2L247.5 422.3L248.0 422.2L248.5 422.2L249.0 422.1L249.5 422.0L250.0 421.0L250.5 420.7L251.0 420.5L251.5 420.3L252.0 420.1L252.5 419.9L253.0 419.7L253.5 419.7L254.0 419.6L254.5 419.7L255.0 419.7L255.5 419.6L256.0 419.4L256.5 419.2L257.0 419.2L257.5 419.2L258.0 419.1L258.5 419.0L259.0 419.0L259.5 418.8L260.0 418.9L260.5 418.9L261.0 418.8L261.5 418.7L262.0 418.4L262.5 418.2L262.9 418.2L263.0 418.2L263.5 418.1L264.0 417.9L264.5 418.0L265.0 417.9L265.5 417.7L266.0 417.6L266.5 417.4L267.0 417.5L267.5 417.3L268.0 417.4L268.5 417.1L269.0 416.8L269.5 416.5L270.0 416.6L270.5 416.4L271.0 416.3L271.5 416.6L272.0 416.9L272.5 417.0L273.0 416.8L273.5 416.9L274.0 416.8L274.5 416.7L275.0 416.2L275.5 416.3L276.0 415.9L276.5 415.9L277.0 415.6L277.5 415.7L278.0 415.2L278.5 415.4L278.6 415.3L288.6 414.9L289.0 414.8L289.5 414.9L290.0 414.9L290.5 415.0L291.0 415.1L291.5 415.2L292.0 415.3L292.5 415.1L293.0 415.6L293.5 415.6L294.0 415.9L294.5 416.0L295.0 415.9L295.5 416.0L296.0 416.0L296.5 416.4L297.0 416.3L297.5 416.2L298.0 416.4L298.5 416.4L299.0 416.4L299.5 416.5L300.0 416.6L300.5 416.7L301.0 416.5L301.5 416.4L302.0 416.4L302.5 416.5L303.0 416.2L303.5 416.2L304.0 416.2L304.3 416.3L304.5 416.2L305.0 415.7L305.5 415.8L306.0 415.4L306.5 415.1L307.0 414.9L307.5 414.7L308.0 414.4L308.5 414.0L308.6 413.9L309.0 413.8L309.5 413.9L310.0 413.9L310.5 413.9L311.0 414.1L311.5 414.0L312.0 413.8L312.5 413.3L313.0 413.2L313.5 413.2L314.0 413.3L314.5 412.9L315.0 412.9L315.5 413.1L316.0 413.1L316.5 413.0L317.0 412.5L317.1 412.4L317.5 412.2L318.0 412.3L318.5 412.6L319.0 412.5L319.5 412.6L320.0 412.6L320.5 412.7L321.0 412.7L321.5 413.3L322.0 413.5L322.5 413.6L323.0 413.5L323.5 413.5L324.0 413.3L324.5 413.3L325.0 413.2L325.5 413.3L326.0 413.2L326.5 413.1L327.0 413.3L327.5 413.5L328.0 413.8L328.5 413.9L328.6 413.9L329.0 413.7L329.5 413.5L330.0 413.3L330.5 413.1L331.0 412.8L331.5 412.2L332.0 411.8L332.5 411.5L333.0 411.3L333.5 410.7L334.0 410.1L334.5 409.6L335.0 408.9L335.5 408.3L335.7 408.2L336.0 408.1L336.5 407.9L337.0 407.4L337.5 406.6L338.0 406.0L338.5 405.2L339.0 404.8L339.5 404.8L340.0 404.4L340.5 404.3L341.0 403.8L341.4 403.2L341.5 403.1L342.0 402.9L342.5 402.6L343.0 402.7L343.5 403.0L344.0 402.8L344.5 402.8L345.0 402.5L345.5 402.5L346.0 402.8L346.5 402.0L347.0 401.5L347.5 401.9L348.0 401.6L348.5 401.1L349.0 401.4L349.5 401.7L350.0 401.8L350.5 401.8L351.0 401.5L351.4 401.7L351.5 401.9L352.0 402.6L352.5 403.3L353.0 403.2L353.5 403.7L354.0 404.2L354.5 404.7L355.0 405.4L355.5 405.7L355.7 406.0L372.9 405.7L373.0 405.6L373.5 405.5L374.0 405.4L374.5 405.6L375.0 405.6L375.5 405.4L376.0 405.1L376.5 405.0L377.0 404.8L377.5 404.7L378.0 404.5L378.5 404.4L378.6 404.3L379.0 404.1L379.5 404.1L380.0 404.2L380.5 404.4L381.0 404.7L381.5 405.0L382.0 404.9L382.5 405.0L383.0 404.9L383.5 405.5L384.0 405.8L384.5 405.5L385.0 405.6L385.5 405.5L386.0 405.7L386.5 405.9L387.0 406.0L387.1 406.0L415.7 406.0L424.3 405.7L424.5 405.8L425.0 406.6L425.5 406.8L426.0 406.8L426.5 407.0L427.0 406.9L427.5 406.9L428.0 407.1L428.5 407.5L429.0 407.8L429.5 407.3L430.0 407.5L430.5 408.2L431.0 408.3L431.4 408.2L431.5 408.1L432.0 408.1L432.5 407.9L433.0 407.9L433.5 408.3L434.0 407.9L434.5 407.9L435.0 407.8L435.5 408.1L436.0 408.2L436.5 408.4L437.0 408.6L437.5 408.5L438.0 408.7L438.5 408.4L439.0 408.7L439.5 409.2L440.0 409.4L440.5 409.7L441.0 409.7L441.5 409.7L442.0 410.1L442.5 410.0L443.0 410.0L443.5 410.0L444.0 410.1L444.5 410.2L445.0 410.3L445.5 410.0L446.0 409.8L446.5 409.9L447.0 409.6L447.5 409.4L448.0 409.2L448.5 409.6L449.0 409.2L449.5 408.9L450.0 408.6L458.6 409.0L459.0 408.8L459.5 408.6L460.0 408.0L460.5 407.7L461.0 407.2L461.4 407.3L472.0 407.3L472.5 408.3L473.0 408.6L473.5 408.6L474.0 408.7L474.5 408.3L475.0 408.1L475.5 408.0L476.0 408.4L476.5 407.8L477.0 407.9L477.5 407.6L478.0 407.4L478.5 407.5L479.0 407.2L479.5 406.9L480.0 406.9L480.5 406.9L481.0 406.3L481.5 406.6L482.0 406.2L482.5 406.1L483.0 406.1L483.5 406.4L484.0 406.3L484.5 406.8L485.0 406.6L485.5 406.5L486.0 406.9L486.5 407.2L487.0 407.1L487.5 407.6L488.0 407.2L488.5 407.1L489.0 407.3L489.3 407.4L489.5 407.5L490.0 407.7L490.5 407.7L491.0 407.9L491.5 408.0L492.0 407.9L492.5 408.0L493.0 408.2L493.5 408.7L494.0 408.8L494.3 408.7L514.3 409.0L514.5 409.0L515.0 409.2L515.5 409.7L516.0 409.9L516.5 410.2L517.0 410.1L517.5 410.2L518.0 410.2L518.5 410.3L519.0 410.1L519.5 410.1L520.0 410.3L520.5 410.2L521.0 410.3L521.5 410.2L522.0 409.9L522.5 410.2L523.0 410.5L523.5 410.5L524.0 410.4L524.5 410.9L525.0 410.6L525.5 409.9L526.0 409.8L526.5 409.5L527.0 409.6L527.5 409.9L528.0 409.7L528.5 409.6L529.0 409.3L529.5 409.3L530.0 409.6L530.5 409.9L531.0 410.0L531.5 410.5L532.0 410.3L532.5 410.2L533.0 410.3L533.5 410.5L534.0 410.4L534.5 410.7L535.0 410.8L535.5 410.9L535.7 410.9L536.0 411.6L536.5 413.1L537.0 414.3L537.1 414.6L548.6 414.3L549.0 414.3L549.5 414.2L550.0 413.8L550.5 413.7L551.0 413.8L551.5 413.6L552.0 413.6L552.5 413.3L553.0 412.9L553.5 412.5L554.0 412.5L554.3 412.3L554.5 412.3L555.0 412.3L555.5 412.6L556.0 412.8L556.5 413.0L557.0 413.3L557.5 413.7L558.0 413.9L558.5 414.3L558.6 414.3L559.0 414.2L559.5 414.6L560.0 414.7L560.5 414.8L561.0 414.2L561.5 414.3L562.0 414.3L562.5 414.3L563.0 414.3L563.5 414.2L564.0 414.4L564.5 414.4L565.0 414.4L565.5 414.2L566.0 414.4L566.5 414.3L567.0 414.0L567.5 414.1L568.0 414.2L568.5 414.2L569.0 414.2L569.5 414.1L570.0 414.0L570.5 413.9L571.0 414.0L571.5 414.1L572.0 413.9L572.5 414.0L573.0 414.1L573.5 414.3L574.0 414.7L574.5 414.6L575.0 414.6L575.5 414.3L576.0 414.2L576.5 414.5L577.0 414.6L577.5 414.4L578.0 414.6L578.5 414.5L579.0 414.4L579.5 414.3L580.0 414.2L580.5 414.2L581.0 414.3L581.5 414.1L582.0 414.2L582.5 414.0L583.0 414.3L583.5 414.7L584.0 414.9L584.5 414.9L585.0 415.2L585.5 415.0L585.7 414.9L586.0 414.6L586.5 414.3L587.0 413.7L587.5 413.4L588.0 413.0L588.5 413.0L589.0 412.9L589.5 412.6L590.0 412.4L590.5 412.3L591.0 412.1L591.5 411.6L592.0 411.3L592.5 411.2L592.9 410.8L606.4 410.6L606.5 410.6L607.0 410.9L607.5 411.1L608.0 411.7L608.5 411.5L608.6 411.5L624.3 411.5L624.5 411.4L625.0 411.4L625.5 411.3L626.0 411.0L626.5 410.9L627.0 410.3L627.5 410.3L628.0 410.7L628.5 410.6L629.0 410.5L629.5 410.6L630.0 410.6L630.5 410.7L631.0 410.9L631.5 410.9L632.0 410.8L632.5 410.9L633.0 411.1L633.5 411.1L634.0 411.0L634.5 411.0L635.0 410.9L635.5 411.1L636.0 411.2L636.5 411.5L637.0 411.3L637.3 411.3L637.5 411.1L638.0 410.9L638.5 410.2L639.0 409.9L639.5 409.3L640.0 409.2L640.5 408.6L641.0 407.9L641.5 407.9L642.0 407.7L642.5 407.2L643.0 406.7L643.5 406.7L644.0 406.2L644.5 405.4L645.0 405.0L645.5 404.7L646.0 404.5L646.5 403.9L647.0 403.1L647.5 403.1L648.0 403.1L648.5 402.4L649.0 402.7L649.5 402.6L650.0 402.7L650.5 402.8L651.0 402.5L651.5 402.6L652.0 403.2L652.5 403.5L653.0 403.8L653.5 404.1L654.0 403.9L654.5 404.0L655.0 403.8L655.5 403.7L656.0 404.0L656.5 403.6L657.0 402.9L657.5 402.3L658.0 401.9L658.5 401.2L659.0 400.7L659.5 400.4L660.0 400.0L660.5 399.5L661.0 399.1L661.5 398.9L662.0 398.4L662.5 398.1L663.0 397.3L663.5 396.8L664.0 395.9L664.5 395.9L665.0 395.4L665.5 395.2L665.8 394.8L666.0 394.9L666.5 395.3L667.0 396.1L667.5 396.3L668.0 396.5L668.5 396.1L669.0 396.5L669.5 396.8L670.0 396.2L670.5 396.2L671.0 395.9L671.5 395.3L672.0 394.8L672.5 395.0L673.0 394.3L673.5 393.8L674.0 393.9L674.5 393.4L674.8 393.1L675.0 393.2L675.5 394.4L676.0 394.7L676.5 394.6L677.0 395.4L677.5 395.6L677.8 395.3L678.0 394.9L678.5 395.0L679.0 395.1L679.5 395.0L680.0 394.6L680.5 394.5L681.0 394.0L681.5 394.7L682.0 394.2L682.5 394.4L683.0 394.4L683.5 394.5L684.0 394.4L684.5 394.3L685.0 394.3L685.5 394.0L686.0 393.6L686.5 393.7L687.0 393.9L687.5 394.1L688.0 393.9L688.5 394.1L689.0 393.6L689.5 394.4L690.0 394.4L690.5 394.0L691.0 394.0L691.5 394.0L692.0 393.8L692.5 393.1L693.0 392.2L693.5 391.8L694.0 390.8L694.5 390.9L695.0 389.7L695.5 389.6L696.0 389.2L696.5 388.6L697.0 388.2L697.5 387.1L698.0 386.3L698.5 385.3L699.0 384.7L699.5 384.0L700.0 383.3L700.5 383.3L701.0 383.0L701.5 383.3L702.0 383.4L702.5 383.9L703.0 383.4L703.5 382.7L704.0 381.8L704.5 381.6L704.8 381.1L705.0 380.9L705.5 381.2L706.0 381.5L706.5 381.2L707.0 381.4L707.5 380.9L708.0 381.6L708.5 381.8L709.0 381.4L709.5 380.7L710.0 379.7L710.5 379.6L711.0 379.8L711.5 379.3L712.0 378.2L712.5 377.6L713.0 377.3L713.5 377.5L714.0 377.1L714.5 376.6L715.0 376.2L715.5 376.5L716.0 376.2L716.5 377.2L717.0 376.7L717.5 376.7L718.0 377.4L718.5 376.9L719.0 377.3L719.5 376.3L720.0 374.2L720.5 373.5L721.0 372.4L721.5 372.2L722.0 371.2L722.5 369.6L723.0 369.1L723.5 369.2L724.0 369.2L724.5 369.0L725.0 368.3L725.5 368.0L726.0 367.0L726.5 366.6L727.0 365.7L727.5 365.0L728.0 363.9L728.5 363.6L729.0 364.0L729.5 363.5L730.0 362.7L730.5 362.3L731.0 362.3L731.5 361.7L732.0 360.8L732.5 359.7L733.0 359.9L733.5 359.9L734.0 359.6L734.5 360.1L735.0 360.2L735.5 360.2L736.0 361.0L736.5 361.7L737.0 363.0L737.5 364.3L738.0 364.8L738.5 365.3L739.0 365.4L739.5 364.9L740.0 364.6L740.5 364.8L741.0 364.4L741.5 364.8L742.0 364.6L742.5 365.1L743.0 364.6L743.5 364.8L744.0 364.6L744.5 365.6L745.0 365.3L745.5 366.2L746.0 366.8L746.5 365.6L747.0 365.5L747.5 365.4L748.0 365.5L748.5 364.9L749.0 363.7L749.5 363.1L750.0 362.9L750.5 362.1L751.0 362.0L751.5 361.6L752.0 361.6L752.5 361.2L753.0 361.7L753.5 361.0L754.0 361.1L754.5 361.2L755.0 360.4L755.5 360.4L756.0 360.0L756.5 360.3L757.0 359.4L757.5 358.7L758.0 358.3L758.5 358.9L759.0 357.9L759.5 357.5L760.0 357.6L760.5 356.7L761.0 355.9L761.5 355.4L762.0 354.9L762.5 355.0L763.0 354.0L763.5 353.8L764.0 354.8L764.5 354.5L765.0 352.8L765.5 352.4L766.0 351.1L766.5 351.1L767.0 349.9L767.5 351.0L768.0 349.2L768.5 348.8L769.0 346.8L769.5 346.1L770.0 345.8L770.5 344.2L771.0 343.5L771.5 343.3L772.0 341.6L772.5 340.8L773.0 340.7L773.5 340.3L774.0 340.0L774.5 339.5L775.0 339.0L775.3 339.1L775.5 339.4L776.0 339.3L776.5 339.6L777.0 340.8L777.5 340.4L778.0 341.6L778.5 341.4L779.0 341.3L779.5 340.6L780.0 339.6L780.5 341.6L781.0 340.2L781.5 340.2L782.0 340.1L782.5 340.2L783.0 340.9L783.5 341.0L784.0 341.1L784.5 341.0L785.0 343.2L785.5 344.8L786.0 345.2L786.5 345.8L787.0 345.8L787.5 346.3L788.0 345.3L788.5 346.0L789.0 346.9L789.5 346.6L790.0 347.1L790.3 346.6L790.5 345.8L791.0 344.5L791.5 344.0L792.0 342.4L792.5 341.9L793.0 339.5L793.5 338.8L794.0 337.1L794.5 333.4L795.0 332.4L795.5 330.9L796.0 328.8L796.5 329.5L797.0 329.3L797.5 328.0L798.0 327.2L798.5 325.5L799.0 323.8L799.5 322.7L800.0 321.6L800.5 321.4L801.0 322.3L801.3 322.1L801.5 321.2L802.0 318.4L802.5 315.6L803.0 314.4L803.5 312.4L804.0 307.5L804.5 304.3L804.7 303.3L805.0 304.6L805.5 305.9L806.0 306.5L806.5 308.3L807.0 308.8L807.5 309.9L808.0 310.9L808.5 313.9L809.0 316.2L809.5 318.3L810.0 317.4L810.5 315.6L811.0 314.0L811.5 314.6L812.0 314.4L812.5 314.6L813.0 314.1L813.5 311.8L814.0 311.8L814.5 310.7L815.0 310.3L815.5 309.3L816.0 312.0L816.5 311.9L817.0 312.5L817.5 314.3L818.0 313.0L818.5 312.3L819.0 311.7L819.5 310.5L820.0 308.8L820.5 307.4L821.0 308.4L821.5 308.1L822.0 306.0L822.5 305.0L823.0 304.2L823.5 302.6L824.0 301.6L824.5 299.1L825.0 297.1L825.5 295.7L826.0 295.1L826.5 296.5L827.0 296.4L827.5 298.7L828.0 300.0L828.3 301.8L828.5 302.2L829.0 302.5L829.5 300.8L830.0 298.3L830.5 295.7L831.0 295.6L831.5 296.2L832.0 294.4L832.5 293.2L833.0 293.0L833.5 291.3L834.0 288.2L834.5 287.0L835.0 286.6L835.5 286.4L836.0 287.8L836.5 288.4L837.0 286.2L837.5 286.4L838.0 285.0L838.5 284.7L839.0 285.7L839.5 289.4L840.0 289.8L840.5 291.2L841.0 292.8L841.5 291.4L842.0 290.2L842.5 290.9L843.0 289.3L843.5 287.8L844.0 286.6L844.5 286.3L845.0 287.6L845.5 288.6L846.0 290.8L846.5 292.0L847.0 292.0L847.5 295.1L847.8 295.8L848.0 295.9L848.5 297.9L849.0 297.1L849.5 298.6L850.0 298.5L862.8 298.5L863.0 298.0L863.5 296.1L864.0 295.0L864.5 294.1L865.0 292.5L865.5 290.4L865.8 289.1L866.0 288.9L866.5 288.0L867.0 288.7L867.5 289.7L868.0 289.0L868.5 289.7L869.0 288.2L869.2 287.6L869.5 287.5L870.0 289.3L870.5 291.1L871.0 293.4L871.5 293.4L872.0 293.6L872.5 295.2L873.0 296.5L873.5 295.7L874.0 301.5L892.0 301.8L892.5 302.1L893.0 300.7L893.5 301.7L894.0 302.3L894.5 302.0L895.0 303.3L895.5 301.6L896.0 301.0L896.5 300.5L897.0 298.0L897.5 296.4L898.0 293.6L898.5 291.8L899.0 294.6L899.5 295.5L900.0 294.9L900.5 296.7L901.0 297.3L901.5 296.9L902.0 297.5L902.5 299.2L903.0 297.1L903.5 294.2L904.0 293.2L904.5 292.1L905.0 290.1L905.5 290.6L906.0 295.2L906.5 295.1L907.0 294.7L907.5 293.4L908.0 293.6L908.5 292.1L909.0 291.8L909.5 290.2L910.0 288.9L910.5 287.5L911.0 285.1L911.5 283.1L912.0 281.2L912.5 282.1L913.0 281.6L913.5 281.2L914.0 280.0L914.5 278.9L915.0 279.3L915.5 279.1L916.0 276.1L916.5 274.1L917.0 273.6L917.5 275.3L918.0 275.5L918.3 274.1L918.5 273.6L919.0 271.9L919.5 271.4L920.0 271.9L920.5 273.3L921.0 275.2L921.3 274.8L921.5 275.3L922.0 279.4L922.5 281.4L922.8 283.8L923.0 284.1L923.5 282.8L924.0 280.3L924.5 280.1L925.0 279.1L925.5 279.4L926.0 276.4L926.5 273.3L927.0 277.0L927.5 275.8L928.0 277.3L928.5 277.6L928.8 279.0L929.0 279.3L929.5 279.0L930.0 278.0L930.5 278.2L931.0 277.0L931.5 275.6L932.0 275.2L932.5 274.1L933.0 270.0L933.5 269.0L934.0 268.7L934.5 267.6L935.0 265.6L935.5 265.2L936.0 262.6L936.5 261.3L936.7 260.6L937.0 261.2L937.5 261.9L938.0 263.7L938.5 263.4L939.0 263.9L939.5 264.6L940.0 264.9L940.5 266.3L940.8 268.8L941.0 269.3L941.5 265.5L942.0 265.8L942.5 264.9L943.0 264.7L943.5 261.7L944.0 263.0L944.5 262.8L945.0 263.2L945.5 264.1L946.0 263.8L946.5 265.3L946.8 265.1L947.0 264.1L947.5 262.4L948.0 259.7L948.5 259.2L949.0 257.4L949.5 259.1L950.0 258.7L950.2 258.3L950.5 260.0L951.0 262.8L951.5 266.9L951.7 268.1L952.0 268.8L952.5 267.6L953.0 266.9L953.5 267.7L954.0 268.0L954.5 267.2L955.0 266.8L955.5 267.9L956.0 267.7L956.5 268.8L957.0 267.5L957.5 267.7L958.0 267.3L958.5 266.6L958.8 265.8L959.0 266.7L959.5 267.6L960.0 266.3L960.5 266.6L961.0 267.5L961.5 269.0L962.0 270.7L962.2 270.8L977.4 271.0L978.0 275.5L986.4 275.5L986.5 275.6L987.0 273.8L987.5 273.7L988.0 272.7L988.1 272.5L988.5 272.8L989.0 273.8L989.5 272.4L990.0 272.7L990.5 272.1L991.0 271.4L991.5 267.9L992.0 266.6L992.5 265.7L993.0 265.4L993.5 261.6L993.8 262.9L994.0 265.0L994.5 264.5L995.0 267.1L995.5 266.9L996.0 264.8L996.5 267.0L997.0 265.6L997.5 266.3L998.0 267.0L998.3 266.9L998.5 265.2L999.0 265.3L999.5 264.0L1000.0 262.1L1000.5 258.6L1001.0 258.2L1001.1 257.9L1001.5 257.7L1002.0 254.2L1002.5 255.2L1003.0 254.5L1003.3 254.5L1003.5 254.1L1004.0 252.0L1004.5 251.8L1005.0 251.9L1005.5 248.6L1005.6 248.3L1006.0 247.7L1006.5 247.2L1007.0 247.6L1007.5 249.1L1007.8 250.0L1008.0 250.2L1008.5 247.7L1009.0 246.2L1009.5 244.1L1010.0 242.6L1010.5 241.4L1010.6 240.4L1011.0 240.1L1011.5 241.4L1012.0 242.7L1012.3 245.5L1012.5 246.3L1013.0 243.0L1013.5 245.5L1014.0 241.8L1014.5 241.2L1015.0 240.7L1015.5 239.6L1016.0 238.2L1016.3 238.7L1016.5 238.8L1017.0 237.3L1017.5 239.0L1018.0 235.2L1018.5 238.2L1019.0 236.5L1019.5 234.9L1019.6 234.8L1020.0 235.9L1020.5 236.5L1021.0 236.8L1021.5 237.6L1021.9 238.7L1022.0 238.6L1022.5 238.7L1023.0 236.9L1023.5 234.3L1024.0 233.4L1024.5 231.5L1024.7 230.3L1025.0 228.1L1025.5 225.8L1026.0 223.7L1026.5 221.9L1027.0 221.1L1027.5 220.9L1028.0 220.1L1028.5 218.6L1029.0 220.3L1029.5 221.5L1030.0 222.9L1030.3 225.3L1030.5 225.8L1031.0 227.4L1031.5 228.1L1032.0 228.1L1032.5 224.0L1033.0 218.8L1033.5 217.2L1034.0 214.2L1034.5 213.9L1035.0 211.2L1035.5 212.0L1036.0 209.6L1036.3 208.8L1036.5 208.9L1037.0 208.8L1037.5 206.7L1038.0 208.3L1038.5 208.1L1039.0 209.2L1039.5 212.1L1040.0 214.8L1040.5 214.4L1040.8 213.3L1041.0 211.3L1041.5 209.4L1042.0 209.6L1042.5 210.2L1043.0 208.3L1043.5 205.1L1044.0 204.1L1044.5 203.1L1045.0 206.9L1045.3 206.6L1045.5 206.9L1046.0 205.7L1046.5 206.3L1047.0 207.8L1047.5 209.3L1048.0 212.4L1048.3 213.3L1048.5 212.9L1049.0 210.1L1049.5 203.8L1050.0 201.8L1050.5 198.5L1051.0 200.5L1051.5 198.9L1052.0 198.3L1052.5 200.3L1053.0 199.3L1053.5 201.3L1054.0 207.9L1054.3 210.3L1054.5 211.3L1055.0 213.8L1055.5 214.3L1056.0 213.4L1056.5 214.1L1057.0 214.1L1057.5 216.7L1058.0 215.0L1058.5 213.3L1059.0 209.9L1059.5 206.7L1060.0 206.5L1060.5 203.4L1061.0 203.6L1061.5 203.8L1062.0 204.4L1062.5 203.4L1063.0 206.7L1063.5 204.7L1064.0 207.0L1064.5 206.6L1065.0 204.1L1065.5 202.5L1066.0 202.6L1066.5 204.2L1067.0 202.1L1067.5 199.1L1068.0 199.0L1068.5 197.0L1069.0 200.9L1069.5 197.8L1070.0 196.8L1070.5 198.6L1071.0 201.0L1071.5 202.1L1072.0 203.5L1072.5 203.5L1073.0 202.2L1073.5 203.8L1074.0 203.4L1074.5 203.6L1075.0 204.6L1075.5 204.4L1076.0 203.9L1076.5 201.1L1077.0 198.6L1077.5 197.2L1078.0 196.4L1078.3 195.3L1078.5 195.3L1079.0 194.9L1079.5 192.9L1080.0 200.0L1080.5 199.8L1081.0 198.5L1081.5 198.9L1082.0 196.1L1082.5 199.6L1083.0 200.4L1083.5 202.1L1084.0 200.9L1084.3 202.8L1084.5 200.6L1085.0 197.8L1085.5 191.8L1085.8 190.8L1086.0 190.7L1086.5 191.4L1087.0 189.8L1087.5 188.5L1088.0 185.7L1088.5 180.9L1088.8 177.3L1089.0 176.8L1089.5 178.5L1090.0 180.8L1090.5 186.9L1091.0 190.1L1091.5 191.4L1092.0 186.3L1092.5 186.7L1093.0 186.4L1093.5 181.0L1094.0 178.2L1094.5 172.8L1095.0 174.7L1095.5 179.1L1096.0 183.0L1096.3 182.6L1096.5 181.2L1097.0 180.5L1097.5 180.5L1097.8 180.3L1098.0 179.8L1098.5 184.6L1099.0 186.5L1099.5 188.4L1100.0 191.6L1108.3 191.6L1108.5 192.0L1109.0 192.4L1109.5 191.3L1110.0 187.8L1110.5 188.6L1111.0 190.7L1111.5 195.1L1112.0 195.3L1112.5 195.2L1113.0 197.1L1113.5 196.1L1114.0 192.5L1114.5 190.4L1115.0 188.2L1115.5 186.0L1116.0 181.3L1116.5 179.6L1117.0 179.6L1117.5 180.8L1118.0 182.6L1118.5 183.5L1119.0 184.2L1119.5 186.5L1120.0 189.6L1120.3 190.8L1120.5 189.8L1121.0 187.4L1121.5 184.5L1121.8 182.6L1122.0 182.4L1122.5 178.4L1123.0 179.4L1123.5 180.7L1124.0 182.6L1124.5 180.7L1124.8 181.1L1125.0 182.8L1125.5 188.5L1126.0 188.4L1126.5 191.5L1127.0 195.3L1127.5 195.2L1128.0 194.5L1128.5 198.3L1129.0 192.5L1129.5 185.8L1130.0 184.3L1130.5 183.5L1131.0 179.4L1131.5 179.0L1132.0 178.2L1132.5 177.8L1133.0 173.6L1133.5 168.3L1134.0 168.5L1134.5 167.8L1135.0 169.1L1135.5 168.0L1136.0 165.4L1136.5 164.5L1137.0 160.8L1137.5 161.6L1138.0 163.8L1138.2 164.1L1138.5 164.7L1139.0 161.6L1139.5 162.0L1140.0 161.8L1140.5 165.1L1141.0 162.4L1141.5 162.2L1142.0 161.8L1142.5 162.3L1143.0 163.6L1143.5 164.3L1144.0 166.4L1144.2 169.3L1144.5 168.2L1145.0 157.9L1145.5 150.6L1146.0 143.5L1146.5 139.3L1147.0 147.1L1147.5 148.5L1148.0 150.7L1148.5 155.5L1148.8 157.3L1149.0 157.5L1149.5 159.0L1150.0 160.2L1150.5 161.7L1151.0 159.3L1151.5 161.8L1151.8 161.8L1152.0 157.4L1152.5 155.6L1153.0 148.1L1153.5 140.2L1154.0 134.0L1154.5 126.1L1154.8 121.3L1155.0 120.5L1155.5 122.4L1156.0 126.5L1156.5 127.8L1157.0 131.7L1157.5 133.1L1157.8 131.8L1158.0 130.5L1158.5 126.8L1159.0 127.4L1159.5 126.3L1160.0 126.6L1160.5 127.7L1161.0 126.2L1161.5 127.4L1162.0 129.6L1162.3 128.8L1162.5 129.5L1163.0 133.1L1163.5 134.1L1164.0 136.0L1164.5 136.3L1165.0 135.6L1165.5 131.8L1166.0 128.6L1166.5 126.0L1167.0 117.3L1167.1 116.1L1167.5 115.0L1168.0 118.3L1168.5 120.9L1169.0 122.0L1169.5 120.4L1170.0 127.3L1170.2 129.6L1170.5 127.7L1171.0 130.2L1171.5 132.5L1172.0 127.1L1172.5 124.5L1172.8 124.3L1173.0 127.2L1173.5 130.3L1174.0 129.7L1174.5 134.7L1175.0 134.2L1175.5 141.1L1175.8 143.1L1178.8 143.1L1179.0 141.0L1179.5 138.8L1180.0 138.1L1180.5 132.5L1180.7 131.8L1181.0 133.7L1181.5 132.9L1182.0 137.8L1182.5 141.0L1183.0 148.9L1183.3 148.3L1183.5 147.6L1184.0 145.6L1184.5 148.2L1185.0 145.2L1185.5 148.6L1186.0 149.1L1186.5 146.0L1187.0 145.9L1187.5 146.6L1187.8 147.6L1188.0 146.6L1188.5 143.4L1189.0 139.2L1189.5 141.2L1190.0 138.3L1190.5 134.5L1190.8 133.3L1191.0 133.1L1191.5 138.9L1192.0 135.9L1192.5 136.8L1193.0 137.2L1193.5 133.5L1193.8 134.1L1194.0 136.2L1194.5 144.4L1195.0 145.5L1195.5 146.3L1196.0 148.8L1196.5 150.5L1196.8 151.3L1199.3 151.3L1199.5 153.3L1200.0 157.5L1200.5 159.9L1229.8 159.9L1230.5 164.8L1232.0 164.8L1232.5 163.5L1233.0 162.4L1233.5 162.9L1234.0 155.8L1234.5 153.9L1235.0 152.5L1235.5 148.5L1236.0 146.2L1236.2 146.1L1236.5 148.2L1237.0 154.2L1237.5 158.6L1238.0 159.3L1238.5 163.9L1238.8 166.3L1239.0 167.4L1239.5 172.4L1240.0 175.3L1240.5 174.1L1241.0 175.5L1241.5 172.4L1241.8 173.1L1242.0 171.2L1242.5 170.9L1243.0 166.7L1243.5 164.7L1244.0 161.2L1244.5 159.8L1245.0 160.8L1245.5 155.1L1246.0 155.0L1246.5 155.6L1247.0 153.5L1247.5 153.2L1248.0 147.8L1248.5 148.3L1249.0 148.9L1249.5 149.8L1250.0 151.3L1250.5 146.1L1251.0 143.8L1251.5 140.2L1252.0 136.5L1252.5 135.7L1252.7 134.1L1253.0 136.5L1253.5 140.0L1254.0 142.0L1254.5 141.4L1255.0 143.7L1255.5 147.5L1255.7 148.3L1256.0 146.4L1256.5 143.3L1257.0 143.6L1257.5 142.6L1258.0 135.4L1258.3 134.8L1258.5 135.1L1259.0 133.6L1259.5 135.2L1260.0 131.6L1260.5 131.8L1261.0 135.4L1261.5 135.7L1262.0 136.8L1262.5 134.9L1262.8 134.8L1263.0 133.4L1263.5 129.8L1264.0 129.4L1264.5 125.7L1265.0 123.4L1265.5 122.5L1265.8 125.8L1266.0 129.5L1266.5 130.7L1267.0 130.3L1267.5 128.8L1268.0 131.2L1268.5 134.7L1268.8 134.8L1269.0 134.7L1269.5 126.8L1270.0 129.7L1270.5 131.5L1271.0 136.3L1271.8 143.8L1276.3 143.8L1276.5 144.4L1277.0 147.8L1277.5 150.8L1278.0 153.5L1278.5 150.6L1279.0 150.1L1279.5 153.2L1280.0 151.6L1280.5 148.9L1280.8 149.8L1281.0 150.3L1281.5 143.7L1282.0 139.1L1282.5 141.2L1283.0 140.5L1283.5 139.3L1284.0 139.5L1284.5 138.0L1285.0 145.4L1285.5 144.8L1286.0 139.3L1286.5 142.0L1287.0 146.2L1287.5 142.9L1287.8 145.3L1288.7 157.3L1297.3 157.6L1297.5 158.1L1298.0 156.5L1298.5 159.2L1298.8 158.8L1322.8 158.8L1323.2 156.6L1324.0 163.3" stroke="#DF536B" stroke-width="1.50"/>
<path d="M75.7 428.9L100.0 428.6L100.5 428.5L101.0 428.6L101.5 428.7L102.0 428.6L102.5 428.7L103.0 428.7L103.5 428.7L104.0 428.7L104.5 428.7L105.0 428.8L105.5 428.8L106.0 428.9L106.5 428.9L107.0 428.9L107.5 428.8L108.0 428.8L108.5 428.8L109.0 428.9L109.5 428.9L110.0 428.9L110.5 428.9L111.0 428.9L111.5 428.7L112.0 428.8L112.5 428.8L113.0 428.8L113.5 428.7L114.0 428.7L114.5 428.7L115.0 428.6L115.5 428.6L116.0 428.6L116.5 428.6L117.0 428.7L117.5 428.6L118.0 428.6L118.5 428.5L119.0 428.5L119.5 428.5L120.0 428.4L120.5 428.5L121.0 428.4L121.5 428.5L122.0 428.4L122.5 428.4L123.0 428.3L123.5 428.3L124.0 428.3L124.5 428.4L125.0 428.2L125.5 428.2L126.0 428.1L126.5 428.0L127.0 428.0L127.5 427.9L128.0 427.8L128.5 427.8L129.0 427.8L129.5 427.9L130.0 428.0L130.5 427.7L130.7 427.7L131.0 427.6L131.5 427.5L132.0 427.4L132.5 427.3L133.0 427.2L133.5 427.2L134.0 427.2L134.5 427.2L135.0 427.2L135.5 427.1L136.0 426.9L136.5 426.9L137.0 426.8L137.5 426.8L138.0 426.8L138.5 426.8L139.0 426.8L139.5 426.8L140.0 426.7L140.5 426.7L141.0 426.5L141.5 426.5L142.0 426.6L142.5 426.5L143.0 426.5L143.5 426.4L144.0 426.2L144.5 426.2L145.0 426.3L145.5 426.2L146.0 426.1L146.5 426.1L147.0 426.0L147.5 425.9L148.0 425.8L148.5 425.8L149.0 425.6L149.5 425.7L150.0 425.6L150.5 425.5L151.0 425.5L151.5 425.5L152.0 425.4L152.5 425.4L153.0 425.4L153.5 425.6L154.0 425.5L154.5 425.5L155.0 425.6L155.5 425.6L156.0 425.8L156.5 425.8L157.0 425.6L157.5 425.8L158.0 425.8L158.5 425.8L159.0 425.9L159.5 425.9L160.0 426.0L175.0 426.2L175.5 426.2L176.0 426.2L176.5 426.1L177.0 426.0L177.5 426.0L178.0 425.8L178.5 425.8L179.0 425.7L179.5 425.7L180.0 425.4L180.5 425.4L181.0 425.4L181.5 425.3L182.0 425.2L182.5 425.1L183.0 425.0L183.5 424.9L184.0 424.8L184.5 424.8L185.0 424.6L185.5 424.5L186.0 424.5L186.5 424.4L187.0 424.5L187.5 424.5L188.0 424.4L188.5 424.3L189.0 424.2L189.5 424.1L190.0 424.1L190.5 424.0L191.0 424.1L191.5 424.0L192.0 423.9L192.5 423.6L193.0 423.6L193.5 423.6L194.0 423.4L194.5 423.3L195.0 423.3L195.5 423.3L196.0 423.5L196.5 423.4L197.0 423.2L197.5 423.4L198.0 423.3L198.5 423.2L198.6 423.2L199.0 423.2L199.5 423.4L200.0 423.5L200.5 423.5L201.0 423.4L201.5 423.5L202.0 423.5L202.5 423.5L203.0 423.5L203.5 423.5L204.0 423.3L204.5 423.4L205.0 423.3L205.5 423.4L206.0 423.3L206.5 423.3L207.0 423.2L207.5 423.4L208.0 423.4L208.5 423.6L209.0 423.7L209.5 423.8L210.0 423.8L210.5 424.0L211.0 424.1L211.5 424.2L212.0 424.3L212.5 424.6L212.9 424.6L213.0 424.6L213.5 424.7L214.0 424.7L214.5 424.7L215.0 424.8L215.5 424.9L216.0 424.7L216.5 424.7L217.0 424.7L217.5 424.7L218.0 424.6L218.5 424.5L219.0 424.5L219.5 424.3L220.0 424.5L220.5 424.4L221.0 424.5L221.5 424.4L222.0 424.4L222.5 424.5L223.0 424.6L223.5 424.5L224.0 424.7L224.5 424.5L225.0 424.4L225.5 424.4L226.0 424.2L226.5 424.3L227.0 424.1L227.5 424.0L228.0 424.0L228.5 423.9L229.0 423.8L229.5 423.7L230.0 423.7L230.5 423.6L231.0 423.5L231.5 423.4L232.0 423.4L232.5 423.2L233.0 423.2L233.5 423.0L234.0 423.0L234.5 423.2L235.0 423.2L235.5 423.2L236.0 423.3L236.5 423.2L237.0 423.1L237.5 422.8L238.0 422.8L238.5 422.9L239.0 422.9L239.5 423.0L240.0 422.9L240.5 422.9L241.0 423.0L241.4 422.9L241.5 422.9L242.0 422.9L242.5 423.0L243.0 423.0L243.5 423.1L244.0 422.9L244.5 422.9L245.0 422.9L245.5 422.7L246.0 422.8L246.5 422.6L247.0 422.6L247.5 422.8L248.0 422.7L248.5 422.6L249.0 422.5L249.5 422.5L250.0 422.4L250.5 422.1L251.0 422.0L251.5 421.8L252.0 421.6L252.5 421.5L253.0 421.3L253.5 421.3L254.0 421.2L254.5 421.3L255.0 421.2L255.5 421.2L256.0 421.0L256.5 420.9L257.0 420.8L257.5 420.9L258.0 420.8L258.5 420.7L259.0 420.7L259.5 420.5L260.0 420.6L260.5 420.6L261.0 420.5L261.5 420.5L262.0 420.2L262.5 420.0L262.9 420.0L278.6 420.0L279.0 419.9L279.5 419.7L280.0 419.9L280.5 420.0L281.0 419.9L281.5 420.1L282.0 420.0L282.5 419.7L283.0 419.6L283.5 419.7L284.0 419.3L284.5 419.5L285.0 419.4L285.5 419.4L286.0 419.3L286.5 419.1L287.0 418.8L287.1 418.9L287.5 419.2L288.0 419.2L288.5 419.4L289.0 419.3L289.5 419.4L290.0 419.4L290.5 419.4L291.0 419.5L291.5 419.6L292.0 419.6L292.5 419.4L293.0 419.8L293.5 419.8L294.0 420.0L294.5 420.1L295.0 420.0L295.5 420.1L296.0 420.1L296.5 420.3L297.0 420.2L297.5 420.1L298.0 420.3L298.5 420.3L299.0 420.3L299.5 420.3L300.0 420.4L300.5 420.4L301.0 420.3L301.5 420.2L302.0 420.2L302.5 420.2L303.0 420.0L303.5 420.0L304.0 419.9L304.3 420.0L304.5 419.9L305.0 419.6L305.5 419.6L306.0 419.3L306.5 419.1L307.0 418.9L307.5 418.8L308.0 418.6L308.5 418.2L309.0 417.9L309.5 417.9L310.0 417.7L314.3 417.7L314.5 417.5L315.0 417.4L315.5 417.3L316.0 417.2L316.5 416.9L317.0 416.4L317.5 415.8L318.0 415.5L318.5 415.4L318.6 415.3L319.0 415.3L319.5 415.3L320.0 415.3L320.5 415.4L321.0 415.5L321.5 416.0L322.0 416.2L322.5 416.3L323.0 416.2L323.5 416.2L324.0 416.0L324.5 416.1L325.0 416.0L325.5 416.1L326.0 416.0L326.5 415.9L327.0 416.1L327.5 416.3L328.0 416.6L328.5 416.7L328.6 416.7L329.0 416.6L329.5 416.5L330.0 416.5L330.5 416.4L331.0 416.2L331.5 415.9L332.0 415.6L332.5 415.5L333.0 415.4L333.5 415.0L334.0 414.7L334.5 414.4L335.0 413.9L335.5 413.5L335.7 413.4L336.0 413.3L336.5 413.2L337.0 412.7L337.5 412.1L338.0 411.6L338.5 410.9L339.0 410.5L339.5 410.5L340.0 410.2L340.5 410.1L341.0 409.7L341.5 409.1L342.0 408.8L342.5 408.3L342.9 408.2L343.0 408.2L343.5 408.5L344.0 408.3L344.5 408.3L345.0 408.1L345.5 408.0L346.0 408.3L346.5 407.6L347.0 407.2L347.5 407.5L348.0 407.2L348.5 406.8L349.0 407.2L349.5 407.3L350.0 407.4L350.5 407.8L351.0 407.9L351.5 408.5L352.0 408.8L352.5 409.0L353.0 408.7L353.5 408.8L354.0 408.8L354.5 409.0L355.0 409.2L355.5 409.2L355.7 409.3L372.9 409.6L373.0 409.5L373.5 409.3L374.0 409.2L374.5 409.2L375.0 409.1L375.5 408.9L376.0 408.5L376.5 408.4L377.0 408.1L377.5 407.9L378.0 407.7L378.5 407.5L378.6 407.4L392.9 407.7L393.0 407.7L393.5 407.6L394.0 407.7L394.5 407.3L395.0 407.5L395.5 407.7L396.0 408.1L396.5 408.7L397.0 408.8L397.5 408.6L398.0 408.2L398.5 408.2L399.0 408.4L399.5 408.1L400.0 407.6L400.5 407.9L401.0 407.9L401.5 407.8L402.0 408.2L402.5 407.7L403.0 407.8L403.5 407.9L404.0 408.3L404.5 408.1L405.0 408.1L405.5 408.0L406.0 408.2L406.5 407.6L407.0 407.6L407.5 407.7L408.0 407.9L408.5 408.3L409.0 408.4L409.5 408.1L410.0 408.2L410.5 408.1L411.0 408.0L411.5 408.2L412.0 408.6L412.5 408.4L413.0 408.0L413.5 408.1L414.0 407.2L414.5 407.4L415.0 407.0L415.5 406.8L415.7 406.7L416.0 406.6L416.5 407.1L417.0 406.9L417.5 406.8L418.0 406.9L418.5 406.8L419.0 407.0L419.5 407.0L420.0 407.2L420.5 407.1L421.0 407.3L421.5 407.7L422.0 407.4L422.5 407.2L423.0 407.7L423.5 407.9L424.0 407.9L424.5 408.1L425.0 408.7L425.5 408.8L426.0 408.7L426.5 408.8L427.0 408.6L427.5 408.4L428.0 408.6L428.5 408.9L428.6 408.9L440.0 409.3L440.5 409.6L441.0 409.6L441.5 409.7L442.0 410.1L442.5 410.1L443.0 410.1L443.5 410.1L444.0 410.2L444.5 410.4L445.0 410.5L445.5 410.3L446.0 410.1L446.5 410.2L447.0 410.0L447.5 409.9L448.0 409.7L448.5 410.1L449.0 409.8L449.5 409.5L450.0 409.2L450.5 409.5L451.0 409.3L451.5 409.2L452.0 409.2L452.5 409.1L453.0 409.1L453.5 409.0L454.0 409.2L454.5 409.5L455.0 409.5L455.5 409.6L456.0 409.8L456.5 409.7L457.0 410.2L457.5 410.2L458.0 410.3L458.5 410.0L458.6 410.0L459.0 409.8L459.5 409.7L460.0 409.2L460.5 408.9L461.0 408.4L461.4 408.6L485.7 408.9L486.0 408.9L486.5 409.0L487.0 408.6L487.5 408.7L488.0 408.0L488.5 407.6L489.0 407.5L489.3 407.4L489.5 407.5L490.0 407.6L490.5 407.6L491.0 407.7L491.5 407.9L492.0 407.7L492.5 407.7L493.0 407.9L493.5 408.4L494.0 408.4L494.3 408.3L514.3 408.6L514.5 408.7L515.0 408.8L515.5 409.3L516.0 409.5L516.5 409.8L517.0 409.8L517.5 409.9L518.0 409.9L518.5 410.0L519.0 409.8L519.5 409.7L520.0 410.0L520.5 409.9L521.0 410.0L521.5 409.9L522.0 409.6L522.5 409.9L523.0 410.2L523.5 410.2L524.0 410.1L524.5 410.6L525.0 410.3L525.5 409.6L526.0 409.5L526.5 409.2L527.0 409.3L527.5 409.6L528.0 409.4L528.5 409.3L529.0 409.0L529.5 409.0L530.0 409.3L530.5 409.5L531.0 409.7L531.5 410.2L532.0 409.9L532.5 409.9L533.0 410.0L533.5 410.2L534.0 410.1L534.5 410.4L535.0 410.4L535.5 410.6L535.7 410.6L536.0 411.3L536.5 412.8L537.0 414.0L537.1 414.3L548.6 414.0L549.0 414.0L549.5 413.9L550.0 413.5L550.5 413.4L551.0 413.5L551.5 413.3L552.0 413.3L552.5 413.0L553.0 412.6L553.5 412.2L554.0 412.2L554.3 412.0L554.5 412.0L555.0 412.0L555.5 412.3L556.0 412.5L556.5 412.7L557.0 413.0L557.5 413.4L558.0 413.6L558.5 414.0L558.6 414.0L559.0 413.9L559.5 414.4L560.0 414.4L560.5 414.5L561.0 413.9L561.5 414.0L562.0 414.0L562.5 414.0L563.0 414.1L563.5 413.9L564.0 414.1L564.5 414.2L565.0 414.1L565.5 414.0L566.0 414.2L566.5 414.1L567.0 413.8L567.5 413.9L568.0 414.0L568.5 414.1L569.0 414.0L569.5 413.9L570.0 413.9L570.5 413.7L571.0 413.8L571.5 414.0L572.0 413.7L572.5 413.8L573.0 413.9L573.5 414.2L574.0 414.5L574.5 414.5L575.0 414.4L575.5 414.2L576.0 414.1L576.5 414.4L577.0 414.5L577.5 414.3L578.0 414.5L578.5 414.4L579.0 414.3L579.5 414.3L580.0 414.2L580.5 414.2L581.0 414.3L581.5 414.0L582.0 414.1L582.5 413.9L583.0 414.3L583.5 414.6L584.0 414.9L584.5 414.9L585.0 415.2L585.5 415.0L585.7 414.9L586.0 414.6L586.5 414.3L587.0 413.7L587.5 413.3L588.0 413.0L588.5 412.9L589.0 412.8L589.5 412.5L590.0 412.2L590.5 412.2L591.0 411.9L591.5 411.4L592.0 411.1L592.5 411.1L592.9 410.6L606.4 410.3L606.5 410.3L607.0 410.8L607.5 411.2L608.0 412.0L608.5 411.9L608.6 412.0L621.4 412.0L621.5 411.9L622.0 411.8L622.5 411.6L623.0 411.3L623.5 410.7L624.0 410.6L624.3 410.3L627.5 410.3L628.0 410.7L628.5 410.6L629.0 410.5L629.5 410.6L630.0 410.6L630.5 410.7L631.0 410.9L631.5 410.9L632.0 410.8L632.5 410.9L633.0 411.1L633.5 411.1L634.0 411.0L634.5 411.0L635.0 410.9L635.5 411.1L636.0 411.2L636.5 411.5L637.0 411.3L637.3 411.3L637.5 411.1L638.0 410.9L638.5 410.2L639.0 409.9L639.5 409.3L640.0 409.2L640.5 408.6L641.0 407.9L641.5 407.9L642.0 407.7L642.5 407.2L643.0 406.7L643.5 406.7L644.0 406.2L644.5 405.4L645.0 405.0L645.5 404.7L646.0 404.5L646.5 403.9L647.0 403.1L647.5 403.1L648.0 403.1L648.5 402.4L649.0 402.7L649.5 402.6L650.0 402.7L650.5 402.8L651.0 402.5L651.5 402.6L652.0 403.2L652.5 403.5L653.0 403.8L653.5 404.1L654.0 403.9L654.5 404.0L655.0 403.8L655.5 403.7L656.0 404.0L656.5 403.6L657.0 402.9L657.5 402.3L658.0 401.9L658.5 401.2L659.0 400.7L659.5 400.4L660.0 400.0L660.5 399.5L661.0 399.1L661.5 398.9L662.0 398.4L662.5 398.1L663.0 397.3L663.5 396.8L664.0 395.9L664.5 395.9L665.0 395.4L665.5 395.2L665.8 394.8L666.0 395.0L666.5 395.4L667.0 396.3L667.5 396.6L668.0 396.9L668.5 396.7L669.0 397.1L669.5 397.5L670.0 397.1L670.5 397.1L671.0 396.8L671.5 396.4L672.0 396.0L672.5 396.3L673.0 395.7L673.5 395.3L674.0 395.5L674.5 395.1L674.8 394.8L675.0 394.9L675.5 396.3L676.0 396.9L676.5 397.0L677.0 398.0L677.5 398.5L677.8 398.3L678.0 397.9L678.5 398.0L679.0 398.1L679.5 398.1L680.0 397.7L680.5 397.7L681.0 397.3L681.5 397.9L682.0 397.4L682.5 397.7L683.0 397.7L683.5 397.8L684.0 397.7L684.5 397.7L685.0 397.7L685.5 397.4L686.0 397.1L686.5 397.2L687.0 397.3L687.5 397.5L688.0 397.5L688.5 397.7L689.0 397.2L689.5 397.9L690.0 397.9L690.5 397.7L691.0 397.7L691.5 397.7L692.0 397.5L692.5 396.9L693.0 396.1L693.5 395.7L694.0 394.8L694.5 394.9L695.0 393.9L695.5 393.7L696.0 393.4L696.5 392.8L697.0 392.5L697.5 391.6L698.0 390.8L698.5 389.9L699.0 389.4L699.5 388.8L700.0 388.2L700.5 388.2L701.0 387.9L701.5 388.2L702.0 388.3L702.5 388.8L703.0 388.3L703.5 387.7L704.0 386.9L704.5 386.8L704.8 386.3L705.0 386.3L705.5 386.8L706.0 387.4L706.5 387.4L707.0 387.8L707.5 386.9L708.0 387.2L708.5 387.0L709.0 386.6L709.5 385.9L710.0 385.0L710.5 384.8L711.0 385.0L711.5 384.5L712.0 383.4L712.5 382.8L713.0 382.6L713.5 382.7L714.0 382.3L714.5 381.8L715.0 381.3L715.5 381.6L716.0 381.2L716.5 382.1L717.0 381.5L717.5 381.5L718.0 382.0L718.5 381.6L719.0 381.9L719.5 381.3L719.8 380.3L720.0 379.5L720.5 378.9L721.0 377.9L721.5 377.7L722.0 376.8L722.5 375.4L723.0 375.0L723.5 375.1L724.0 375.1L724.5 374.9L725.0 374.3L725.5 374.1L726.0 373.2L726.5 372.9L727.0 372.1L727.5 371.5L728.0 370.5L728.5 370.3L729.0 370.7L729.5 370.3L730.0 369.6L730.5 369.2L731.0 369.3L731.5 368.8L732.0 368.0L732.5 367.0L733.0 367.3L733.5 367.4L734.0 367.1L734.5 367.5L735.0 367.5L735.5 367.4L736.0 368.1L736.5 368.6L737.0 369.8L743.0 370.1L743.5 371.0L744.0 371.6L744.5 373.1L745.0 372.5L745.5 372.9L746.0 373.0L746.5 372.0L747.0 371.9L747.5 371.9L748.0 372.1L748.5 371.6L749.0 370.6L749.5 370.2L750.0 370.0L750.5 369.3L751.0 369.3L751.5 369.0L752.0 369.1L752.5 368.7L753.0 369.2L753.5 368.6L754.0 368.6L754.5 368.8L755.0 368.1L755.5 368.1L756.0 367.7L756.5 367.9L757.0 367.2L757.5 366.5L758.0 366.2L758.5 366.7L759.0 365.8L759.5 365.5L760.0 365.6L760.5 364.8L761.0 364.1L761.5 363.6L762.0 363.2L762.5 363.2L763.0 362.3L763.5 362.2L764.0 363.1L764.5 362.8L765.0 361.2L765.5 360.9L766.0 359.7L766.5 359.7L767.0 358.6L767.5 359.5L768.0 357.9L768.5 357.5L769.0 355.7L769.5 355.1L770.0 354.8L770.5 353.3L771.0 352.6L771.5 352.3L772.0 350.8L772.5 350.0L773.0 349.8L773.5 349.4L774.0 349.1L774.5 348.5L775.0 348.1L775.3 348.1L775.5 348.4L776.0 348.3L776.5 348.6L777.0 349.7L777.5 349.4L778.0 350.6L778.5 350.4L779.0 350.3L779.5 350.1L780.0 349.5L780.5 351.6L781.0 350.8L781.5 351.1L782.0 351.4L782.5 351.0L783.0 351.3L783.5 351.0L784.0 350.7L784.5 350.2L785.0 351.8L789.5 351.5L790.0 350.9L790.5 349.1L791.0 347.9L791.5 347.4L792.0 345.9L792.5 345.5L793.0 343.4L793.5 342.7L794.0 341.2L794.5 337.8L795.0 337.6L795.5 336.9L796.0 335.6L796.5 336.5L797.0 336.5L797.5 335.4L798.0 334.8L798.5 333.4L799.0 332.1L799.5 331.2L800.0 330.3L800.5 330.3L801.0 329.5L801.5 327.5L802.0 325.2L802.5 322.7L803.0 321.9L803.5 320.3L804.0 315.9L804.5 313.1L804.7 312.3L805.0 313.4L805.5 314.4L806.0 314.8L806.5 316.4L807.0 316.6L807.5 317.5L808.0 318.3L808.5 320.9L808.8 322.1L815.5 322.1L816.0 322.6L816.5 320.5L817.0 319.1L817.5 321.7L818.0 321.4L818.5 321.7L819.0 324.0L819.3 325.1L819.5 324.6L820.0 323.0L820.5 321.6L821.0 322.4L821.5 322.0L822.0 320.0L822.5 319.0L823.0 318.2L823.5 316.6L824.0 315.6L824.5 313.2L825.0 311.3L825.5 309.9L826.0 309.3L826.5 310.7L827.0 310.8L827.5 313.0L828.0 314.4L828.3 316.1L828.5 316.7L829.0 317.6L829.5 316.6L830.0 314.8L830.5 313.0L831.0 313.5L831.5 314.6L832.0 313.6L832.5 313.1L833.0 313.4L833.5 312.4L834.0 309.5L834.5 308.1L835.0 307.4L835.5 307.0L836.0 307.8L836.5 308.0L837.0 305.8L837.5 305.7L838.0 304.1L838.5 304.5L839.0 306.2L839.5 310.1L840.0 310.0L840.5 310.7L841.0 311.6L841.5 311.0L842.0 310.6L842.5 311.9L843.0 311.1L843.5 310.5L844.0 310.1L844.5 310.5L845.0 312.2L845.5 313.8L846.0 314.6L846.5 314.6L847.0 313.5L862.0 313.8L862.5 308.1L863.0 306.1L863.5 303.4L864.0 301.4L864.3 300.3L864.5 300.5L865.0 300.2L865.5 299.4L866.0 298.6L866.5 297.6L867.0 298.1L867.5 298.7L868.0 297.9L868.5 298.3L868.8 297.3L869.0 297.2L869.5 296.9L870.0 298.5L870.5 300.2L871.0 302.2L871.5 302.1L872.0 302.1L872.5 303.6L883.0 303.6L883.5 303.4L884.0 302.6L884.5 302.5L885.0 301.8L885.5 302.2L886.0 302.2L886.5 302.5L887.0 304.1L887.5 306.3L893.5 306.3L894.0 305.8L894.5 304.5L895.0 304.7L895.5 303.2L896.0 302.7L896.5 302.3L897.0 300.0L897.5 298.4L898.0 295.8L898.5 293.8L899.0 296.3L899.5 297.0L900.0 296.2L900.5 297.7L901.0 298.1L901.5 297.8L902.0 298.4L902.5 300.2L903.0 298.2L903.5 295.4L904.0 294.5L904.5 293.4L905.0 291.6L905.5 292.1L906.0 296.3L906.5 296.0L907.0 295.3L907.5 293.8L908.0 293.7L908.5 292.0L909.0 293.4L909.3 293.6L909.5 292.9L910.0 291.4L910.5 289.9L911.0 287.3L911.5 285.1L912.0 283.1L912.5 283.8L913.0 283.1L913.5 282.7L914.0 281.4L914.5 280.2L915.0 280.6L915.5 280.3L916.0 277.3L916.5 275.2L917.0 274.7L917.5 276.3L918.0 277.6L918.5 276.3L919.0 274.5L919.5 273.8L920.0 274.3L920.5 275.6L921.0 279.5L921.5 281.1L922.0 285.3L922.5 285.1L923.0 286.9L923.5 286.7L924.0 285.3L924.5 286.2L925.0 286.2L925.5 287.6L926.0 285.7L926.5 283.8L927.0 287.1L927.5 285.8L928.0 287.0L928.5 287.1L928.8 288.3L929.0 288.6L929.5 288.3L930.0 287.4L930.5 287.6L931.0 286.5L931.5 285.2L932.0 284.8L932.5 283.8L933.0 280.0L933.5 279.1L934.0 278.9L934.5 277.9L935.0 276.0L935.5 275.7L936.0 273.3L936.3 272.6L936.5 273.3L937.0 274.5L937.5 275.6L938.0 277.6L938.5 277.7L939.0 278.4L939.5 279.4L940.0 280.1L940.5 279.4L941.0 281.3L941.5 278.7L942.0 279.8L942.5 279.8L943.0 280.5L943.5 278.6L944.0 280.6L944.5 281.3L945.0 280.1L945.5 279.4L946.0 277.6L946.5 277.4L946.8 276.3L947.0 275.6L947.5 274.3L948.0 272.2L948.5 272.1L949.0 270.8L949.5 272.8L950.0 272.8L950.2 272.6L950.5 275.0L951.0 279.2L951.3 282.3L951.5 283.1L952.0 284.1L952.5 282.9L953.0 282.3L953.5 283.0L954.0 283.2L954.5 282.5L955.0 282.1L955.5 283.0L956.0 282.9L956.5 283.8L957.0 284.1L957.5 285.8L958.0 286.9L958.5 287.8L959.0 288.0L959.5 287.2L960.0 284.3L960.5 284.3L961.0 284.8L961.5 285.9L961.7 286.3L970.7 286.3L971.0 287.8L971.5 288.6L972.0 288.7L972.5 290.5L973.0 289.3L973.5 289.7L974.0 290.6L974.5 290.8L974.6 291.1L975.0 291.2L975.5 291.0L976.0 290.4L976.5 290.2L977.0 292.1L977.5 293.0L978.0 292.2L984.2 292.2L984.5 292.6L985.0 290.9L985.5 290.3L986.0 288.8L986.5 288.9L987.0 287.0L987.5 286.7L987.6 286.6L988.0 286.7L988.5 287.1L989.0 287.9L989.5 286.6L990.0 286.8L990.5 286.1L991.0 285.4L991.5 282.2L992.0 281.0L992.5 280.1L993.0 279.9L993.5 276.3L994.0 278.7L994.3 277.6L994.5 277.5L995.0 280.0L995.5 280.0L996.0 278.2L996.5 280.4L997.0 279.3L997.5 280.2L998.0 280.9L998.3 280.9L998.5 279.4L999.0 279.6L999.5 278.5L1000.0 276.8L1000.5 273.6L1001.0 273.3L1001.1 273.1L1001.5 272.4L1002.0 268.7L1002.5 269.0L1003.0 267.7L1003.5 267.2L1004.0 265.8L1004.5 266.1L1005.0 266.7L1005.5 264.2L1005.6 264.1L1006.0 262.8L1006.5 261.5L1007.0 261.0L1007.5 261.5L1007.8 261.8L1008.0 262.2L1008.5 260.6L1009.0 259.9L1009.5 258.6L1010.0 257.9L1010.5 257.4L1010.6 256.7L1011.0 256.4L1011.5 257.6L1012.0 258.8L1012.3 261.2L1012.5 262.4L1013.0 260.7L1013.5 264.1L1014.0 262.0L1014.5 262.7L1015.0 263.4L1015.1 263.5L1015.5 261.9L1016.0 259.5L1016.5 259.3L1017.0 257.6L1017.5 258.7L1018.0 255.1L1018.5 257.3L1019.0 256.5L1019.5 255.9L1020.0 256.5L1020.5 256.2L1021.0 255.7L1021.3 255.6L1021.5 256.0L1022.0 257.6L1022.5 259.9L1023.0 260.5L1023.5 260.4L1023.6 260.7L1024.0 259.6L1024.5 257.4L1025.0 254.2L1025.5 252.2L1026.0 250.3L1026.5 248.7L1027.0 248.0L1027.5 247.7L1028.0 250.2L1028.5 248.8L1029.0 250.3L1029.5 251.2L1030.0 252.4L1030.3 255.1L1030.5 255.3L1031.0 256.6L1031.5 257.2L1032.0 257.1L1032.5 253.6L1033.0 249.1L1033.5 247.7L1034.0 245.1L1034.3 244.9L1034.5 245.0L1035.0 243.0L1035.5 244.1L1036.0 242.4L1036.5 241.4L1037.0 240.3L1037.1 239.9L1037.5 238.8L1038.0 240.9L1038.5 241.2L1038.8 241.0L1039.0 241.3L1039.5 243.4L1039.9 244.9L1040.0 245.2L1040.5 243.8L1041.0 241.0L1041.5 240.8L1042.0 242.4L1042.5 244.3L1043.0 244.1L1043.5 242.8L1044.0 243.4L1044.4 243.8L1044.5 243.5L1045.0 246.0L1045.5 244.7L1046.0 241.8L1046.1 241.6L1046.5 242.4L1047.0 244.2L1047.5 245.9L1048.0 249.0L1048.3 250.1L1048.5 249.8L1049.0 247.6L1049.5 242.6L1050.0 241.0L1050.5 238.5L1051.0 240.3L1051.5 239.1L1052.0 238.8L1052.5 243.0L1053.0 244.7L1053.5 249.3L1058.0 249.3L1058.5 248.8L1059.0 246.8L1059.5 244.9L1060.0 245.5L1060.5 243.8L1061.0 244.8L1061.5 245.0L1062.0 245.5L1062.5 244.6L1063.0 247.4L1063.5 245.7L1064.0 247.6L1064.5 247.2L1065.0 245.1L1065.5 243.7L1066.0 243.8L1066.5 245.1L1067.0 243.3L1067.5 241.0L1068.0 241.0L1068.5 239.5L1069.0 242.8L1069.5 240.3L1070.0 239.6L1070.5 241.4L1071.0 243.7L1071.5 245.0L1072.0 246.5L1072.5 246.8L1073.0 246.1L1073.5 247.8L1073.8 247.8L1074.0 247.8L1074.5 248.0L1075.0 250.1L1075.5 251.2L1076.0 252.0L1076.5 251.0L1077.0 250.3L1077.5 250.4L1078.0 251.0L1078.3 250.8L1078.5 250.4L1079.0 249.1L1079.5 246.6L1080.0 251.2L1080.5 250.0L1081.0 249.7L1081.5 250.7L1082.0 249.3L1082.5 252.2L1083.0 253.1L1083.5 254.6L1084.0 249.1L1084.5 246.8L1085.0 246.3L1085.5 243.2L1085.8 243.3L1086.0 243.4L1086.5 244.5L1087.0 243.8L1087.5 243.2L1088.0 241.6L1088.5 238.3L1088.8 235.8L1089.0 235.2L1089.5 236.2L1090.0 237.7L1090.5 242.0L1091.0 244.1L1091.5 245.4L1092.0 241.7L1092.5 242.4L1093.0 242.4L1093.5 238.5L1094.0 236.7L1094.5 232.8L1095.0 234.3L1095.5 237.7L1096.0 240.7L1096.3 240.3L1096.5 239.2L1097.0 238.4L1097.5 238.1L1098.0 237.6L1098.5 241.7L1099.0 243.5L1099.3 244.5L1107.5 244.5L1108.0 242.9L1108.5 242.3L1109.0 241.1L1109.5 241.6L1110.0 240.3L1110.5 242.3L1111.0 244.5L1111.5 248.3L1111.7 248.6L1112.0 246.7L1112.5 244.3L1113.0 243.7L1113.5 240.5L1114.0 238.1L1114.5 237.1L1115.0 235.8L1115.5 235.1L1116.0 232.2L1116.5 231.9L1117.0 230.2L1117.3 229.8L1117.5 230.4L1118.0 232.2L1118.5 233.3L1119.0 234.2L1119.5 236.3L1120.0 239.1L1120.3 240.3L1120.5 240.4L1121.0 240.7L1121.5 240.6L1122.0 240.2L1122.5 237.0L1123.0 237.7L1123.5 238.7L1124.0 240.1L1124.5 238.6L1124.8 238.8L1125.0 239.7L1125.5 243.0L1126.0 241.8L1126.5 243.0L1127.0 244.8L1127.5 243.6L1127.8 242.6L1128.0 243.5L1128.5 249.2L1128.8 252.3L1129.0 250.8L1129.5 245.5L1130.0 244.3L1130.5 243.4L1131.0 240.0L1131.5 239.5L1132.0 238.6L1132.2 238.3L1132.5 238.1L1133.0 234.5L1133.5 230.2L1134.0 230.1L1134.5 229.3L1135.0 230.3L1135.5 229.4L1136.0 227.4L1136.5 226.7L1137.0 223.8L1137.5 224.4L1138.0 226.1L1138.2 226.3L1138.5 226.8L1139.0 224.3L1139.5 224.5L1140.0 224.3L1140.5 226.8L1141.0 224.7L1141.5 224.4L1142.0 224.1L1142.5 224.5L1143.0 225.6L1143.5 226.1L1144.0 227.8L1144.2 230.1L1144.5 229.6L1145.0 222.4L1145.5 217.7L1146.0 213.0L1146.5 210.6L1147.0 217.2L1147.5 219.1L1148.0 221.6L1148.5 226.1L1148.8 227.8L1149.0 227.9L1149.5 228.8L1150.0 229.6L1150.3 230.1L1152.5 230.1L1153.0 226.4L1153.5 222.2L1154.0 219.3L1154.5 215.2L1155.0 210.1L1155.2 209.1L1155.5 209.9L1156.0 213.0L1156.5 214.1L1157.0 217.1L1157.5 218.2L1157.8 217.3L1158.0 216.3L1158.5 213.5L1159.0 213.7L1159.5 212.8L1160.0 212.8L1160.5 213.8L1161.0 212.8L1161.5 213.9L1162.0 215.6L1162.3 215.1L1162.5 214.6L1163.0 215.3L1163.5 214.1L1164.0 213.4L1164.5 211.7L1165.0 213.7L1165.3 213.6L1165.5 213.4L1166.0 213.6L1166.5 214.3L1167.0 210.5L1167.2 208.3L1167.5 207.8L1168.0 210.0L1168.5 211.8L1168.7 212.1L1169.0 213.2L1169.5 213.1L1170.0 219.0L1170.2 221.1L1170.5 219.9L1171.0 221.9L1171.5 223.9L1172.0 220.3L1172.5 218.8L1172.8 218.8L1173.0 221.1L1173.5 223.9L1174.0 224.1L1174.3 226.3L1178.8 226.3L1179.0 224.7L1179.5 222.9L1180.0 222.2L1180.5 217.9L1180.7 217.3L1181.0 218.8L1181.5 218.5L1182.0 222.3L1182.5 224.9L1182.8 228.6L1187.0 228.6L1187.5 226.2L1188.0 224.6L1188.5 222.3L1189.0 219.3L1189.5 220.8L1190.0 218.6L1190.5 215.9L1190.8 215.1L1191.0 215.4L1191.5 220.6L1192.0 219.4L1192.3 220.3L1192.5 220.2L1193.0 219.6L1193.5 215.9L1193.8 215.8L1194.0 216.9L1194.5 222.0L1195.0 221.8L1195.3 221.5L1209.5 221.5L1210.3 228.6L1211.0 230.1L1211.8 238.6L1224.8 238.6L1225.7 232.3L1226.0 232.9L1226.5 236.2L1227.0 237.0L1227.5 240.4L1227.8 242.1L1228.0 241.3L1228.5 240.2L1229.0 235.3L1229.5 237.0L1230.0 242.4L1230.5 245.1L1230.8 246.1L1231.0 244.6L1231.5 242.5L1232.0 240.5L1232.5 237.6L1232.8 236.1L1233.0 236.0L1233.5 237.0L1234.0 232.5L1234.5 231.7L1235.0 231.4L1235.5 229.1L1236.0 228.1L1236.5 228.6L1237.0 232.1L1237.5 234.7L1238.0 234.7L1238.5 237.5L1239.0 240.0L1239.2 242.1L1243.3 242.1L1243.5 241.2L1244.0 238.1L1244.5 236.5L1245.0 236.7L1245.2 234.6L1245.5 234.4L1246.0 236.8L1246.3 238.3L1246.5 238.2L1247.0 236.2L1247.5 235.4L1248.0 231.0L1248.5 230.8L1249.0 231.0L1249.5 231.5L1250.0 232.3L1250.5 228.5L1251.0 226.8L1251.5 224.1L1252.0 221.4L1252.5 220.8L1252.7 219.6L1253.0 221.1L1253.5 223.2L1254.0 224.1L1254.5 223.3L1255.0 225.5L1255.5 228.8L1256.0 230.8L1256.5 230.2L1257.0 231.8L1257.5 232.7L1258.0 229.1L1258.5 229.9L1259.0 229.2L1259.5 230.5L1259.8 229.3L1260.0 227.6L1260.5 226.2L1260.8 226.3L1261.0 227.3L1261.5 227.7L1262.0 228.6L1262.5 226.2L1263.0 224.9L1263.5 223.4L1264.0 224.0L1264.5 222.4L1265.0 221.8L1266.5 221.8L1267.0 223.5L1267.5 224.6L1267.7 226.3L1276.7 226.3L1277.0 224.8L1277.5 228.2L1278.0 231.7L1278.5 231.1L1278.8 232.3L1279.0 231.7L1279.5 232.5L1280.0 229.9L1280.5 226.5L1280.8 226.3L1281.0 226.7L1281.5 222.1L1282.0 218.8L1282.5 220.5L1283.0 220.2L1283.5 219.5L1284.0 219.8L1284.5 218.9L1285.0 224.4L1285.5 224.1L1286.0 220.3L1286.5 222.2L1287.0 225.1L1287.5 222.5L1288.0 224.9L1288.3 225.6L1297.3 225.9L1298.0 225.1L1298.5 228.6L1299.0 229.8L1299.5 229.7L1300.0 228.8L1300.3 228.6L1319.0 228.6L1319.5 229.1L1320.0 228.4L1320.5 230.5L1320.8 231.6L1321.0 230.8L1321.5 229.6L1322.0 224.1L1322.5 222.6L1323.0 222.1L1323.5 223.3L1324.3 233.8" stroke="#000000" stroke-width="1.65"/>
</g>
<g clip-path="url(#cb)" fill="none" stroke-linejoin="round" stroke-linecap="butt">
<path d="M75.7 531.9L76.0 533.4L76.5 535.7L77.0 536.9L77.5 538.0L78.0 538.3L78.2 538.8L78.5 541.2L79.0 542.4L79.5 548.1L79.8 551.6L80.0 555.8L80.5 561.2L80.8 565.5L81.0 564.2L81.5 561.1L82.0 557.3L82.3 555.3L82.5 554.8L83.0 554.3L83.5 553.7L84.0 552.5L84.2 551.6L84.2 551.6L84.5 549.0L85.0 544.5L85.5 539.8L85.8 536.5L86.0 536.1L86.5 536.1L87.0 537.5L87.2 538.0L87.5 537.1L88.0 536.0L88.5 533.6L88.8 532.8L89.0 533.3L89.5 534.0L90.0 533.8L90.3 534.3L90.5 537.4L91.0 543.4L91.5 551.1L92.0 557.2L92.2 559.8L92.5 558.8L93.0 555.7L93.5 555.1L94.0 552.3L94.5 548.4L95.0 545.1L95.5 542.4L96.0 537.8L96.5 534.7L97.0 534.3L97.5 536.5L98.0 539.6L98.5 540.4L99.0 543.1L99.3 544.8L99.5 543.0L100.0 539.5L100.5 534.0L100.8 532.8L101.0 535.3L101.5 539.6L102.0 542.8L102.3 544.8L102.5 543.4L103.0 541.1L103.5 538.0L103.8 535.8L104.0 539.5L104.5 548.4L104.8 554.5L104.8 579.3L105.0 581.2L105.5 586.5L106.0 591.3L106.5 588.3L107.0 584.8L107.5 580.8L108.0 579.7L108.5 581.0L109.0 581.7L109.3 581.6L109.5 583.7L110.0 590.5L110.5 596.1L110.8 600.3L110.8 600.3L110.8 600.3L111.0 601.0L111.5 599.1L112.0 600.7L112.5 601.3L112.8 601.8L112.8 601.8L113.5 636.3L114.0 638.0L114.5 638.8L115.0 639.3L115.5 636.3L116.0 633.0L116.5 629.6L117.0 632.2L117.5 633.2L118.0 634.8L118.5 635.5L118.8 637.1L119.0 634.7L119.5 628.8L120.0 621.3L120.5 616.2L121.0 609.3L121.5 606.6L122.0 601.8L122.5 597.2L122.8 594.3L123.0 595.9L123.5 601.0L124.0 605.8L124.3 609.3L124.5 608.6L125.0 603.9L125.5 600.8L125.8 598.8L126.0 600.3L126.5 603.7L127.0 607.8L127.5 610.6L127.8 612.3L128.0 609.3L128.5 604.2L129.0 599.2L129.5 595.6L130.0 591.3L130.5 588.6L131.0 587.5L131.5 586.7L132.0 585.9L132.3 585.3L132.5 585.1L133.0 585.4L133.5 586.0L134.0 587.2L134.5 588.3L135.0 586.6L135.5 583.9L136.0 581.1L136.5 578.8L137.0 576.5L137.5 574.8L138.0 578.1L138.5 581.3L139.0 584.9L139.5 587.6L139.8 588.3L140.0 586.8L140.5 585.9L141.0 582.4L141.5 580.9L142.0 580.3L142.5 577.5L143.0 575.9L143.5 573.3L144.0 570.6L144.5 570.3L145.0 570.3L145.5 569.8L146.0 568.3L146.5 567.5L147.0 566.5L147.3 565.8L147.5 566.0L148.0 565.6L148.5 566.8L149.0 566.9L149.5 568.8L150.0 567.7L150.5 565.5L151.0 564.6L151.5 563.9L151.8 562.8L152.0 561.3L152.5 560.0L153.0 557.9L153.5 558.0L154.0 555.3L154.5 551.8L155.0 549.7L155.5 546.5L156.0 545.5L156.5 542.7L157.0 537.3L157.5 536.5L158.0 534.6L158.5 532.8L158.5 546.3L159.0 545.1L159.5 541.4L160.0 540.3L160.0 541.8L160.5 542.2L161.0 543.5L161.5 543.8L162.0 545.3L162.3 545.6L162.5 546.2L163.0 548.4L163.5 551.1L163.8 552.3L164.0 551.7L164.5 549.2L165.0 548.8L165.5 547.9L166.0 547.8L166.5 549.6L167.0 550.8L167.5 553.8L168.0 556.1L168.5 558.8L169.0 560.5L169.3 561.3L169.5 558.7L169.8 556.1L170.5 534.3L171.0 536.6L171.5 538.5L172.0 540.3L172.5 541.8L173.0 543.8L173.5 546.3L173.5 551.7L174.0 550.3L174.3 549.3L175.0 565.1L175.8 565.1L176.5 555.3L177.0 557.3L177.5 560.3L178.0 561.3L178.5 563.9L179.0 565.0L179.2 565.8L179.2 558.2L179.5 554.2L180.0 544.6L180.3 540.3L180.5 539.2L181.0 537.7L181.5 534.6L181.8 532.8L182.0 533.7L182.5 536.5L183.0 538.4L183.5 540.4L184.0 543.3L184.5 546.6L185.0 549.0L185.5 551.6L186.0 548.2L186.5 543.1L187.0 541.3L187.5 536.9L187.8 534.3L188.0 534.0L188.5 533.8L189.0 533.6L189.5 531.9L190.0 533.5L190.5 543.7L191.0 555.8L191.2 560.6L191.5 555.3L192.0 545.3L192.3 538.8L192.5 537.5L193.0 536.4L193.5 535.9L194.0 534.2L194.5 532.8L195.0 534.6L195.5 536.3L196.0 539.2L196.5 540.7L196.8 540.3L197.0 538.1L197.5 537.7L198.0 534.7L198.3 532.8L198.5 531.9L199.0 533.5L199.5 535.5L200.0 536.5L200.5 536.5L201.0 538.1L201.5 541.7L202.0 544.8L202.0 544.8L202.0 544.8L202.5 549.0L203.0 553.6L203.5 558.9L204.0 561.3L204.0 561.4L204.0 561.3L204.5 579.5L205.0 596.4L205.5 613.8L205.5 613.8L205.5 613.8L206.0 616.5L206.5 620.0L207.0 623.0L207.5 628.8L208.0 632.6L208.5 627.2L209.0 622.1L209.5 615.3L210.0 605.6L210.5 596.6L211.0 586.8L211.5 587.8L212.0 589.0L212.5 591.3L213.0 586.5L213.5 582.9L214.0 578.9L214.3 575.6L214.5 576.9L215.0 581.7L215.5 587.1L216.0 590.0L216.3 592.8L216.5 593.5L217.0 593.9L217.5 595.2L217.8 595.8L218.0 598.9L218.5 604.8L219.0 612.5L219.3 616.1L219.5 615.1L220.0 615.2L220.5 613.9L220.8 613.8L221.0 612.2L221.5 605.9L222.0 601.4L222.5 597.0L223.0 592.8L223.5 584.8L224.0 578.2L224.5 567.3L225.0 565.8L225.5 564.6L226.0 562.7L226.5 562.1L227.0 559.5L227.5 558.3L228.0 558.3L228.5 557.7L229.0 557.1L229.5 555.9L229.8 556.1L230.0 557.1L230.5 558.3L231.0 560.5L231.3 561.3L231.5 560.4L232.0 559.6L232.5 556.5L233.0 555.1L233.5 552.3L234.0 549.5L234.5 548.1L235.0 544.8L235.5 546.0L236.0 548.0L236.5 547.8L237.0 545.7L237.5 541.1L238.0 539.0L238.5 538.2L238.8 537.3L238.8 568.8L239.0 568.0L239.5 566.2L240.0 563.6L240.5 561.5L241.0 560.0L241.5 557.0L241.8 555.3L242.5 546.3L243.0 550.8L243.5 555.6L244.0 558.7L244.5 563.3L244.8 565.8L244.8 564.3L245.0 562.7L245.5 556.8L246.0 553.7L246.5 548.7L247.0 544.8L247.5 548.6L248.0 550.7L248.5 553.3L248.5 553.4L249.3 534.3L249.5 535.6L250.0 538.7L250.5 541.4L250.8 543.3L251.0 541.9L251.5 538.5L252.0 534.6L252.3 532.8L252.3 544.1L252.5 545.3L253.0 547.8L253.5 551.8L253.8 553.8L254.0 552.2L254.5 549.4L255.0 545.7L255.5 541.8L256.1 536.5L256.5 535.6L257.0 535.0L257.5 535.0L258.0 534.3L258.5 533.2L259.1 532.8L260.0 532.8L260.5 533.7L261.0 534.2L261.5 534.9L262.0 533.8L262.5 533.3L263.0 534.3L263.5 535.8L264.0 537.1L264.5 539.8L265.0 541.6L265.5 542.7L266.0 544.8L266.5 542.6L267.0 542.4L267.5 540.2L267.5 540.2L268.2 547.8L268.5 548.5L269.0 550.3L269.5 552.0L269.8 553.8L270.0 552.0L270.5 547.3L270.8 544.8L270.8 537.4L271.0 536.0L271.5 534.9L272.0 533.5L272.5 534.8L273.0 534.7L273.5 536.2L274.0 536.5L274.2 536.5L274.5 540.5L275.0 546.4L275.5 556.1L275.8 559.1L276.0 555.3L276.5 550.6L277.0 544.0L277.5 539.6L277.7 536.5L278.0 536.2L278.5 539.3L279.0 540.0L279.5 540.3L280.0 547.5L280.5 553.5L281.0 559.1L281.5 559.0L282.0 557.3L282.5 554.6L283.0 552.6L283.3 552.3L283.5 551.0L284.0 545.3L284.5 543.3L285.0 539.3L285.5 535.8L286.0 534.6L286.5 533.0L287.0 531.9L287.5 532.8L287.8 532.8L288.0 533.6L288.5 536.4L289.0 537.0L289.3 538.0L289.5 538.1L290.0 537.3L290.5 536.9L291.0 536.6L291.5 536.5L292.0 537.5L292.5 537.1L293.0 540.4L293.5 541.4L293.8 542.5L293.8 540.3L294.0 543.4L294.5 548.8L295.0 553.5L295.5 558.9L295.7 561.0L296.0 561.3L296.5 565.8L297.0 568.0L297.5 570.3L298.0 569.3L298.5 566.9L299.0 564.8L299.3 563.6L299.5 562.8L300.0 560.9L300.5 559.3L301.0 556.2L301.3 554.6L301.5 554.7L302.0 555.7L302.5 557.0L303.0 556.5L303.5 557.6L304.0 552.6L304.5 548.5L305.0 543.3L305.5 543.7L306.0 542.0L306.5 540.3L306.5 547.8L307.0 544.7L307.5 540.9L308.0 537.3L308.0 537.3L308.5 532.8L309.0 531.9L309.5 532.8L310.0 539.5L310.5 545.8L311.0 553.5L311.3 557.6L311.5 557.1L312.0 555.0L312.5 551.3L313.0 550.0L313.3 549.3L313.5 547.6L314.0 544.7L314.5 539.5L315.0 536.3L315.5 533.5L316.0 535.0L316.5 535.9L317.0 535.0L317.5 534.0L317.8 534.3L318.0 535.5L318.5 539.2L319.0 541.0L319.5 543.5L320.0 545.6L320.5 546.7L321.0 547.3L321.5 551.0L321.5 551.0L322.3 547.8L322.5 548.8L323.0 550.2L323.5 551.6L324.0 552.1L324.5 553.9L325.0 555.2L325.5 557.0L325.7 557.6L326.0 556.5L326.5 554.3L327.0 553.7L327.5 553.3L328.0 552.9L328.3 552.3L328.3 553.1L328.5 551.0L329.0 547.1L329.5 543.7L329.8 541.8L330.0 540.6L330.5 538.0L331.0 535.0L331.3 532.8L335.0 532.8L335.5 533.5L336.0 535.7L336.5 538.0L337.0 536.9L337.5 534.5L338.0 532.8L338.5 531.9L339.0 531.9L339.5 533.1L340.0 533.3L340.5 534.6L341.0 534.7L341.5 533.4L341.8 533.5L342.0 533.8L342.5 533.7L343.0 534.9L343.5 536.9L344.0 537.3L344.5 536.8L345.0 535.2L345.5 534.3L346.0 534.6L346.3 532.8L346.5 531.9L347.0 531.9L347.5 534.8L348.0 535.2L348.5 535.0L349.0 537.3L349.5 539.0L350.0 540.3L350.5 539.5L351.0 537.5L351.5 537.4L351.8 536.5L352.0 538.0L352.5 541.8L353.0 543.0L353.5 546.2L353.8 547.8L353.8 547.8L353.8 547.8L354.5 576.3L354.5 576.3L354.5 576.3L355.3 591.3L356.0 604.1L356.5 593.7L357.0 584.4L357.5 573.8L357.8 567.3L358.0 568.9L358.5 573.4L359.0 578.6L359.5 582.5L359.8 584.6L360.0 583.9L360.5 582.2L361.0 579.7L361.5 579.4L362.0 577.1L362.5 576.9L363.0 576.9L363.5 574.8L364.0 579.2L364.5 582.6L365.0 585.3L365.5 589.3L366.0 591.7L366.5 595.2L366.8 597.3L367.0 596.4L367.5 595.5L368.0 593.3L368.3 592.1L368.3 592.1L368.5 594.9L369.0 602.2L369.5 609.3L370.0 613.4L370.5 618.7L371.0 623.4L371.3 625.8L371.5 624.3L372.0 618.8L372.5 615.3L373.0 611.2L373.3 609.3L373.5 607.3L374.0 603.0L374.5 599.6L374.8 597.3L375.0 595.2L375.5 589.8L376.0 583.7L376.3 580.8L376.5 579.8L377.0 577.2L377.5 575.2L378.0 572.6L378.5 570.3L379.0 569.0L379.5 568.2L380.0 568.0L380.3 568.1L380.5 568.4L381.0 569.9L381.5 571.3L382.0 571.4L382.3 571.8L383.8 571.8L384.0 573.1L384.5 573.6L385.0 575.5L385.5 576.8L386.0 579.3L386.5 581.3L387.0 582.6L387.5 583.8L388.0 589.5L388.5 595.3L388.7 597.3L389.0 597.8L389.5 601.1L389.8 601.8L390.5 619.8L391.0 616.0L391.5 614.3L392.0 610.8L392.5 610.3L393.0 610.3L393.5 609.3L394.0 615.4L394.3 617.9L394.3 627.0L395.0 636.8L395.5 641.4L396.0 646.9L396.2 649.6L396.5 646.6L397.0 639.4L397.2 635.3L397.5 634.7L398.0 632.6L398.5 632.0L399.0 632.2L399.2 631.5L399.5 632.9L400.0 634.3L400.5 639.0L401.0 642.8L401.5 646.8L402.0 652.8L402.5 655.6L403.0 658.2L403.5 660.7L403.7 662.3L404.0 662.2L404.5 659.7L404.8 658.6L405.0 658.8L405.5 659.4L406.0 660.8L406.3 660.1L406.5 657.7L407.0 655.0L407.5 652.7L408.0 650.8L408.5 649.6L409.0 653.8L409.5 656.6L410.0 660.6L410.5 664.0L410.8 666.1L411.0 662.7L411.5 656.3L412.0 650.6L412.3 646.6L412.5 647.0L413.0 647.5L413.5 649.4L414.0 648.0L414.5 650.3L415.0 645.9L415.5 642.6L416.0 638.3L416.5 643.3L417.0 645.3L417.5 647.9L418.0 651.1L418.3 652.6L418.5 652.2L419.0 652.4L419.5 651.7L420.0 651.8L420.5 651.1L421.0 652.1L421.5 653.8L422.0 653.3L422.5 647.4L423.0 644.7L423.5 640.6L424.0 636.0L424.5 631.7L424.7 630.8L425.0 634.0L425.5 637.2L426.0 639.8L426.5 642.8L427.0 646.4L427.5 650.4L427.7 652.6L428.0 654.8L428.5 659.0L429.0 662.8L429.2 663.1L429.5 659.7L430.0 656.8L430.5 655.7L431.0 652.3L431.3 649.6L431.5 652.2L432.0 660.4L432.5 668.3L433.0 670.3L433.5 673.8L434.0 674.3L434.5 682.5L435.0 690.5L435.2 694.6L435.5 695.0L436.0 694.8L436.3 695.3L436.5 698.6L437.0 704.7L437.5 710.0L437.8 713.3L438.0 714.4L438.5 714.8L438.8 716.3L439.0 712.7L439.5 704.2L440.0 694.5L440.3 688.6L440.5 690.2L441.0 693.4L441.5 696.7L441.8 699.8L442.0 701.1L442.5 702.8L443.0 705.0L443.5 706.8L443.8 708.1L444.0 706.7L444.5 704.0L445.0 700.7L445.3 698.3L447.5 698.3L448.0 699.3L448.5 702.9L449.0 703.3L449.3 703.6L449.5 704.4L450.0 707.2L450.5 712.0L450.8 714.1L451.0 712.9L451.5 709.3L452.0 706.8L452.5 703.5L452.8 702.1L453.0 702.3L453.5 702.0L454.0 703.3L454.3 704.3L454.5 704.3L455.0 702.8L455.5 701.7L455.8 701.3L456.0 703.4L456.5 706.8L457.0 712.9L457.5 716.7L458.0 720.8L458.5 715.3L459.0 711.6L459.5 708.5L460.0 703.5L460.3 701.3L460.5 699.4L461.0 694.9L461.5 693.0L462.0 688.6L462.2 687.1L462.5 688.1L463.0 688.8L463.5 690.5L464.0 692.3L464.5 693.4L465.0 693.8L465.5 696.5L466.0 696.2L466.3 696.1L466.5 694.9L467.0 692.4L467.5 691.4L467.8 690.1L470.8 690.1L471.0 691.2L471.5 693.8L472.0 696.5L472.3 699.8L472.5 701.5L473.0 701.9L473.5 702.2L473.8 702.8L474.0 705.1L474.5 707.9L475.0 711.1L475.3 713.3L475.5 712.6L476.0 713.0L476.5 709.2L476.8 708.8L477.0 711.2L477.5 714.5L478.0 718.1L478.3 720.8L478.5 722.0L479.0 722.6L479.5 723.4L480.0 725.3L480.5 727.6L481.0 724.6L481.5 725.6L482.0 723.4L482.5 722.5L482.8 722.3L483.0 720.9L483.5 718.7L484.0 715.0L484.3 714.1L484.5 713.5L485.0 710.2L485.5 706.6L486.0 705.2L486.5 703.6L487.0 702.0L487.5 702.5L488.0 699.7L488.5 697.9L489.0 697.4L489.5 696.8L490.0 698.4L490.5 699.9L491.0 701.9L491.5 703.9L491.8 704.3L493.3 704.3L493.5 705.9L494.0 707.7L494.5 708.5L494.8 710.3L495.0 710.4L495.5 709.7L496.0 708.6L496.3 708.8L496.5 710.0L497.0 711.4L497.5 712.1L498.0 712.4L498.5 714.1L499.0 713.8L499.5 716.3L500.0 718.6L500.5 718.8L501.0 716.8L501.5 716.3L502.0 719.0L502.5 720.6L503.0 722.6L503.3 723.8L503.5 723.9L504.0 726.4L504.5 727.9L505.0 728.6L505.3 729.1L505.5 728.3L506.0 726.1L506.5 724.8L507.0 722.1L507.2 720.8L507.5 720.3L508.0 721.6L508.5 721.5L508.7 722.3L509.0 725.0L509.5 727.6L510.0 730.1L510.5 734.3L511.3 735.8L511.5 734.0L512.0 730.4L512.5 727.3L512.8 725.3L513.0 724.1L513.5 720.1L514.0 715.5L514.5 712.9L515.0 710.3L515.5 713.1L516.0 714.5L516.5 716.3L517.0 716.7L517.5 717.9L518.0 718.5L518.5 719.4L518.8 719.3L520.0 725.1L520.5 727.9L521.0 731.7L521.5 734.1L522.0 736.8L522.5 741.7L522.7 743.8L523.0 743.0L523.5 739.8L524.0 736.5L524.2 736.3L524.5 738.2L525.0 737.7L525.5 735.1L526.0 735.6L526.5 733.3L527.0 732.9L527.5 733.3L528.0 736.6L528.5 739.9L528.7 740.8L529.0 739.8L529.5 739.6L530.0 741.0L530.5 741.7L531.0 742.1L531.2 743.1L531.5 745.4L532.0 747.0L532.5 749.2L532.8 750.6L533.2 647.0L533.5 647.3L534.0 646.2L534.5 646.5L534.7 646.3L535.0 650.2L535.5 657.3L536.0 663.1L536.2 665.8L536.5 671.0L537.0 679.0L537.2 683.1L538.0 691.3L538.5 689.8L539.0 688.6L539.5 687.1L540.0 684.6L540.3 683.8L540.5 683.7L541.0 682.7L541.5 682.0L542.0 682.1L542.5 680.8L543.0 687.6L543.5 694.1L544.0 699.3L544.3 701.8L544.5 699.8L545.0 696.2L545.5 692.6L546.0 688.3L546.5 684.3L546.7 682.3L547.0 683.0L547.5 684.2L548.0 684.2L548.5 685.3L549.0 682.4L549.5 678.8L550.0 673.9L550.5 670.1L550.8 668.8L551.0 669.9L551.5 670.9L552.0 672.6L552.3 672.6L552.5 670.9L553.0 667.5L553.5 663.7L553.8 662.8L554.0 662.1L554.5 659.5L555.0 656.0L555.3 655.3L555.5 659.1L556.0 666.0L556.5 673.0L556.8 677.1L557.0 678.4L557.5 681.5L558.0 683.7L558.3 685.3L558.5 686.2L559.0 686.6L559.5 689.7L560.0 690.7L560.2 691.3L560.5 690.8L561.0 686.0L561.5 685.4L562.0 683.8L562.5 683.4L563.0 683.1L563.5 681.6L564.0 682.3L564.3 682.3L564.5 683.3L565.0 684.4L565.5 685.4L565.8 686.8L566.0 687.0L566.5 685.7L567.0 683.2L567.5 683.0L568.0 683.1L568.5 683.6L569.0 683.8L569.5 683.8L570.0 683.9L570.3 683.8L570.5 683.4L571.0 683.9L571.5 684.5L572.0 682.9L572.2 683.1L572.5 684.4L573.0 686.7L573.5 689.8L573.7 691.3L574.0 693.8L574.5 695.7L575.0 697.7L575.2 698.1L575.5 697.0L576.0 696.4L576.5 697.2L577.0 697.3L577.5 698.8L578.0 702.2L578.5 704.1L579.0 705.2L579.5 706.7L580.0 708.1L580.3 709.3L580.5 709.1L581.0 708.7L581.5 706.6L582.0 706.4L582.3 705.6L582.5 704.6L583.0 705.2L583.5 705.6L584.0 705.7L584.5 704.4L585.0 704.4L585.3 703.3L585.5 701.3L586.0 696.1L586.5 692.6L586.8 689.8L587.0 687.4L587.5 683.4L588.0 679.2L588.3 677.8L588.5 677.4L589.0 676.4L589.5 674.3L590.0 672.8L590.5 671.8L591.0 665.9L591.5 658.1L591.7 655.3L592.0 653.8L592.5 652.0L593.0 647.8L593.5 644.8L594.0 647.2L594.5 649.9L595.0 652.3L595.5 653.5L596.0 654.3L596.5 656.4L596.8 656.8L597.0 655.6L597.5 653.5L598.0 651.4L598.3 651.5L598.5 652.9L599.0 655.0L599.5 656.9L599.8 658.3L600.0 659.1L600.5 660.8L601.0 663.8L601.5 664.6L601.8 665.8L602.0 665.3L602.5 664.0L603.0 660.9L603.5 658.3L604.0 654.7L604.5 653.1L604.8 652.3L605.0 651.1L605.5 647.9L606.0 646.3L606.5 643.9L606.7 643.3L607.0 647.0L607.5 653.4L608.0 661.3L608.5 665.8L609.0 671.6L609.5 679.1L610.0 685.3L610.5 689.1L611.0 693.8L611.5 697.3L612.0 702.2L612.5 708.0L613.0 712.3L613.5 718.5L614.0 724.0L614.2 727.3L614.5 730.1L615.0 735.0L615.5 737.9L616.0 742.3L616.5 744.1L617.0 746.5L617.5 750.6L618.0 749.9L618.5 748.1L619.0 745.3L619.5 743.2L620.0 740.9L620.5 736.3L621.0 733.4L621.5 728.2L622.0 725.8L622.5 722.8L623.0 719.0L623.5 713.8L624.0 713.0L624.5 710.5L624.7 710.1L625.0 711.8L625.5 714.2L626.0 715.7L626.2 716.8L626.5 715.7L627.0 711.7L627.5 710.1L628.0 709.3L628.5 711.0L629.0 712.6L629.5 715.3L630.0 716.5L630.5 718.9L631.0 721.3L631.5 716.9L632.0 711.0L632.5 706.6L632.8 704.1L633.0 705.6L633.5 708.9L634.0 711.8L634.3 713.8L634.5 713.8L635.0 713.4L635.5 714.6L636.0 715.4L636.3 716.1L636.5 715.8L637.0 713.5L637.5 711.4L637.8 710.8L638.0 709.7L638.5 705.5L639.0 702.5L639.3 700.3L639.5 696.8L640.0 690.7L640.3 685.3L640.3 684.0L640.5 683.1L641.0 680.2L641.2 680.1L641.5 680.1L642.0 679.6L642.3 678.6L642.5 677.1L643.0 673.8L643.5 673.0L643.8 671.1L644.0 668.7L644.5 662.6L645.0 657.6L645.3 655.3L645.5 653.9L646.0 650.8L646.5 646.2L646.8 643.3L647.5 638.3L648.0 640.2L648.5 639.8L649.0 642.7L649.5 644.4L649.8 645.8L650.0 645.7L650.5 645.3L651.0 643.6L651.5 643.6L652.0 645.1L652.5 646.4L653.0 648.1L653.5 649.7L654.0 649.6L654.5 644.9L655.0 639.6L655.5 634.4L655.8 632.3L656.0 631.6L656.5 628.8L657.0 625.1L657.3 623.3L657.5 624.2L658.0 626.7L658.5 628.2L658.8 629.3L659.0 625.4L659.5 617.3L660.0 608.8L660.3 603.8L660.5 601.2L661.0 594.9L661.5 589.6L661.8 585.8L663.3 567.3L663.5 565.8L664.0 561.3L664.5 559.9L664.8 558.3L665.0 557.6L665.5 556.7L666.0 554.8L666.5 552.6L666.7 552.3L667.0 556.3L667.5 561.5L668.0 566.6L668.5 570.3L669.0 573.7L669.5 577.3L669.7 578.6L670.0 575.7L670.5 572.1L671.0 567.8L671.5 562.8L672.0 561.8L672.5 562.8L673.0 561.3L673.5 553.9L674.0 548.0L674.5 540.3L674.5 536.1L674.8 532.8L675.0 534.1L675.5 540.6L676.0 544.8L676.5 550.3L676.8 554.4L677.5 552.3L678.0 549.1L678.5 549.1L679.0 549.0L679.5 548.7L679.8 547.8L680.0 546.0L680.5 543.4L681.0 539.8L681.3 539.5L681.5 542.0L682.0 543.6L682.5 547.7L682.8 549.3L683.0 550.2L683.5 552.7L684.0 554.3L684.3 555.3L684.5 553.6L685.0 550.3L685.5 546.0L686.0 541.8L686.5 538.7L687.0 535.7L687.3 534.3L687.5 535.6L688.0 537.3L688.5 540.0L689.0 540.6L689.5 544.8L690.0 543.5L690.5 541.2L691.0 539.8L691.5 538.3L691.8 537.3L692.0 536.8L692.5 536.0L693.0 534.5L693.5 534.5L694.0 532.8L694.0 539.0L694.3 532.8L700.0 531.9L700.5 533.6L701.0 534.1L701.5 535.8L702.0 534.9L702.5 534.9L703.0 531.9L703.5 531.9L704.0 531.9L704.5 533.7L704.8 533.5L705.0 535.0L705.5 540.4L706.0 546.0L706.5 550.2L706.8 553.1L707.0 551.2L707.5 545.6L708.0 542.5L708.3 540.3L708.5 540.9L709.0 541.9L709.5 542.0L709.8 541.8L710.0 539.6L710.5 536.8L711.0 534.7L711.3 532.8L714.3 532.8L714.5 534.2L715.0 537.1L715.5 541.6L715.8 543.3L716.0 541.9L716.5 541.3L717.0 537.8L717.3 536.5L717.5 537.1L718.0 539.2L718.5 539.4L718.8 540.3L719.0 540.5L719.5 539.2L720.0 535.8L720.5 535.1L721.0 533.5L721.5 534.0L722.0 533.0L722.5 531.9L723.0 531.9L723.5 531.9L724.0 532.8L724.5 534.5L725.0 535.3L725.5 536.0L725.8 535.8L726.0 536.8L726.5 540.5L727.0 543.5L727.3 545.6L727.5 544.3L728.0 540.0L728.5 537.1L729.0 535.3L729.3 533.5L729.5 533.4L730.0 531.9L730.5 531.9L731.0 532.9L731.5 531.9L734.5 532.8L735.0 537.9L735.5 543.2L736.0 550.1L736.5 550.1L736.8 550.8L737.5 552.3L738.0 559.8L738.5 567.4L738.7 571.1L739.0 570.0L739.5 567.2L740.0 564.8L740.5 563.2L741.0 560.6L741.3 559.8L741.5 558.9L742.0 555.9L742.5 554.3L742.8 552.3L742.8 552.3L743.0 555.9L743.5 564.4L743.8 569.6L744.3 569.6L745.0 571.8L745.5 572.4L746.0 572.5L746.5 570.5L747.0 570.4L747.3 570.3L747.5 567.9L748.0 562.7L748.5 556.4L748.8 552.3L749.0 549.9L749.5 545.5L750.0 541.5L750.3 538.8L750.5 539.1L751.0 540.9L751.5 542.2L751.8 543.3L752.0 541.9L752.5 537.8L753.0 535.3L753.3 532.8L753.3 540.0L753.5 538.4L753.7 537.3L754.0 539.9L754.5 544.8L755.0 548.2L755.5 553.1L756.0 550.4L756.5 548.5L757.0 544.8L757.5 540.2L758.0 536.0L758.5 532.8L758.5 531.9L759.3 531.9L759.5 533.6L760.0 536.8L760.5 538.5L760.8 539.5L761.0 538.6L761.5 536.7L762.0 534.8L762.3 534.3L762.5 534.6L763.0 533.7L763.5 534.1L764.0 536.1L764.5 536.5L765.0 534.6L765.5 534.4L766.0 532.8L766.5 535.3L767.0 536.3L767.5 540.3L768.0 538.1L768.5 537.6L769.0 534.9L769.3 534.3L769.5 534.3L770.0 535.1L770.5 534.0L771.0 534.1L771.5 534.7L772.0 533.5L772.5 533.0L773.0 533.2L773.5 533.0L774.0 533.1L774.5 532.8L775.0 531.9L775.5 533.2L775.8 532.8L776.0 533.4L776.5 535.2L777.0 538.2L777.3 538.8L777.5 539.2L778.0 542.0L778.5 543.0L779.0 544.3L779.5 544.8L780.0 544.7L780.3 546.7L781.0 537.3L781.5 538.3L782.0 539.4L782.5 539.6L782.8 540.3L783.0 542.1L783.5 546.9L784.0 551.8L784.5 556.2L784.8 560.6L785.0 560.0L785.5 557.8L785.5 557.6L786.3 561.3L786.5 563.0L787.0 567.5L787.5 572.7L788.0 576.0L788.2 578.6L788.5 576.3L789.0 572.2L789.5 566.5L790.0 561.3L790.0 561.3L790.5 554.1L791.0 547.0L791.5 540.3L792.0 537.0L792.5 534.7L792.7 531.9L792.7 531.9L805.0 531.9L805.5 538.5L806.0 544.4L806.2 547.8L806.5 549.3L807.0 550.7L807.3 552.0L807.7 553.8L808.0 557.9L808.5 567.5L809.0 576.6L809.2 580.8L809.5 579.6L810.0 577.0L810.5 573.6L811.0 570.3L811.5 571.3L812.0 571.8L812.5 572.6L813.0 572.7L813.3 571.8L813.5 569.0L814.0 564.5L814.5 559.0L815.0 554.1L815.2 551.6L815.5 552.0L816.0 554.6L816.5 554.5L817.0 555.3L817.5 556.0L818.0 553.8L818.5 552.3L819.0 548.2L819.5 543.3L820.0 537.3L820.5 538.4L821.0 541.8L821.5 544.0L822.0 544.6L822.3 545.6L822.5 544.1L823.0 540.7L823.5 536.5L823.8 534.3L824.0 534.4L824.5 533.3L824.9 532.8L824.9 532.8L825.0 531.9L825.5 531.9L826.0 533.5L826.5 539.5L827.0 544.8L827.5 552.2L827.5 552.8L827.9 555.3L828.0 554.4L828.5 552.7L829.0 550.5L829.4 547.8L829.5 546.7L830.0 542.2L830.5 537.7L831.0 535.4L831.3 534.3L831.3 543.0L831.5 541.8L832.0 539.7L832.5 538.2L833.0 537.4L833.5 535.4L833.8 533.5L834.0 531.9L834.5 531.9L835.0 531.9L835.5 531.9L836.0 531.9L838.7 532.8L839.0 538.3L839.5 549.5L839.8 553.8L840.0 553.7L840.5 554.2L840.5 554.2L841.2 553.1L841.5 551.8L842.0 549.4L842.5 548.6L843.0 545.9L843.5 543.3L844.0 545.1L844.5 547.7L845.0 551.6L845.5 548.0L846.0 543.8L846.2 541.8L846.5 545.3L847.0 550.1L847.5 557.5L847.7 559.8L848.0 561.4L848.5 565.7L848.8 566.7L849.2 555.3L849.5 563.7L850.0 576.4L850.3 582.3L851.0 596.5L851.0 596.6L851.5 597.8L852.0 601.2L852.5 600.3L853.0 605.4L853.5 610.9L853.7 612.3L854.0 609.5L854.5 604.5L855.0 603.4L855.5 600.3L856.0 596.5L856.5 595.2L856.7 594.3L857.0 592.0L857.5 588.3L858.0 582.2L858.2 580.1L858.5 581.1L859.0 583.3L859.5 584.8L860.0 586.8L860.5 587.6L861.0 589.8L861.5 589.4L861.8 591.3L862.0 589.0L862.5 578.1L863.0 570.3L863.5 562.5L864.0 555.2L864.5 548.1L864.8 543.3L865.0 542.9L865.5 541.4L866.0 539.8L866.5 538.1L867.0 537.6L867.5 537.3L868.0 538.1L868.5 540.0L869.0 540.2L869.3 540.3L870.2 544.8L870.5 546.9L871.0 550.9L871.5 553.0L872.0 555.3L872.5 560.4L873.0 565.4L873.5 568.8L874.0 579.3L874.3 583.3L875.0 600.3L875.5 604.3L876.0 609.7L876.2 611.6L876.5 609.0L877.0 606.5L877.5 603.7L878.0 599.9L878.3 597.3L878.5 595.6L879.0 590.7L879.5 586.6L880.0 580.5L880.3 577.8L880.5 576.5L881.0 574.2L881.5 573.8L882.0 574.1L882.5 573.3L883.0 577.4L883.5 580.7L884.0 583.3L884.3 585.3L884.5 584.2L885.0 580.8L885.5 578.3L886.0 575.4L886.3 574.1L886.5 577.0L887.0 584.2L887.5 592.0L888.0 598.9L888.5 605.6L889.0 600.9L889.5 599.3L890.0 597.3L890.5 590.0L891.0 583.2L891.5 575.6L892.0 575.0L892.5 576.3L893.0 576.3L893.5 574.8L894.0 573.0L894.5 570.3L895.0 568.6L895.5 565.2L896.0 562.8L896.5 560.5L896.8 558.3L897.0 557.4L897.5 556.1L898.0 553.8L898.3 552.3L898.5 552.1L899.0 555.5L899.5 557.3L900.0 557.9L900.5 560.6L901.0 556.4L901.5 551.9L902.0 548.1L902.3 546.3L902.5 547.7L903.0 548.4L903.5 548.6L904.0 546.0L904.5 543.3L905.0 539.9L905.5 538.5L905.8 538.8L906.0 541.5L906.5 543.6L907.0 545.6L907.5 546.8L907.7 547.8L908.0 546.6L908.5 543.1L909.0 542.2L909.5 540.3L910.0 539.6L910.5 539.0L911.0 537.5L911.5 536.3L911.8 535.8L911.8 543.3L912.0 542.5L912.5 542.8L913.0 542.1L913.5 541.7L914.0 540.7L914.5 539.8L915.0 540.0L915.5 539.8L916.0 537.4L916.3 536.5L916.3 534.3L918.5 531.9L919.0 534.7L919.5 537.8L919.7 539.5L920.0 537.8L920.5 535.4L920.8 534.3L921.0 539.4L921.5 548.8L921.5 549.3L921.8 556.1L922.0 556.1L922.5 554.8L923.0 554.9L923.5 553.6L923.8 552.3L924.0 548.9L924.5 543.3L925.0 537.1L925.3 534.3L925.5 535.3L926.0 534.8L926.5 534.3L926.8 535.8L927.0 538.2L927.5 539.8L928.0 543.3L928.3 544.8L928.5 543.6L929.0 542.5L929.5 540.5L930.0 538.0L930.2 537.3L930.5 537.4L931.0 536.8L931.5 535.8L932.0 535.7L932.5 535.0L933.0 532.8L933.5 532.8L933.5 547.8L934.0 547.4L934.5 546.4L935.0 544.8L935.5 541.7L936.0 537.0L936.5 532.8L937.0 534.8L937.5 536.8L938.0 539.5L938.3 540.3L938.5 540.4L939.0 541.1L939.5 541.9L939.5 542.0L940.3 543.3L940.5 544.8L941.0 550.0L941.5 552.0L941.8 554.6L942.0 553.6L942.5 550.7L943.0 548.3L943.5 543.9L943.7 543.3L944.0 543.0L944.5 541.5L945.0 538.6L945.5 535.8L946.0 536.3L946.5 538.0L947.0 538.4L947.5 539.3L947.8 539.5L948.0 538.2L948.5 536.4L949.0 533.8L949.5 533.6L949.7 532.8L949.7 532.8L950.0 532.8L950.8 534.3L951.5 570.3L952.0 561.8L952.5 551.1L953.0 540.3L957.5 540.3L958.0 538.1L958.5 535.7L958.7 534.3L959.0 535.3L959.5 536.3L960.0 535.7L960.5 537.3L961.0 538.5L961.5 540.2L962.0 542.0L962.3 542.5L962.8 555.0L963.2 565.1L963.5 564.4L964.0 563.2L964.5 563.1L965.0 563.6L965.5 564.4L966.0 565.2L966.5 565.3L967.0 565.4L967.3 565.8L967.5 565.2L968.0 563.3L968.5 561.3L969.0 559.6L969.5 557.6L970.0 556.9L970.5 556.4L971.0 556.0L971.5 554.3L971.8 553.1L972.0 554.7L972.5 559.9L973.0 562.7L973.3 565.1L973.5 564.1L974.0 562.1L974.5 559.6L975.0 557.7L975.5 555.3L976.0 554.3L976.5 553.5L977.0 554.4L977.5 554.5L977.8 553.8L978.0 555.6L978.5 560.5L978.8 564.3L978.8 577.1L979.3 577.1L980.0 570.3L980.5 574.4L981.0 578.0L981.5 582.3L982.0 585.7L982.5 592.6L983.0 594.6L983.3 596.6L983.5 594.1L984.0 588.2L984.5 583.9L985.0 577.8L985.3 574.8L985.5 573.5L986.0 569.5L986.5 566.8L986.8 564.3L987.0 562.7L987.5 560.2L988.0 557.1L988.3 555.3L988.5 555.3L989.0 555.6L989.5 554.2L990.0 554.0L990.5 553.1L991.0 550.4L991.5 546.2L992.0 543.3L992.5 540.8L992.8 539.5L993.0 538.8L993.5 534.4L994.0 534.6L994.3 532.8L994.5 533.2L995.0 536.3L995.5 537.5L996.0 537.4L996.5 540.3L997.0 539.8L997.5 540.7L998.0 541.5L998.5 541.8L998.8 543.3L999.0 542.3L999.5 539.1L1000.0 535.5L1000.3 532.8L1000.3 557.7L1000.5 555.6L1001.0 552.3L1001.5 550.2L1002.0 545.8L1002.5 544.2L1003.0 541.5L1003.3 540.3L1003.5 539.8L1004.0 538.0L1004.5 537.4L1005.0 537.0L1005.2 535.8L1005.5 534.7L1006.0 533.4L1006.3 532.8L1006.3 533.6L1006.5 533.8L1007.0 535.0L1007.5 535.4L1008.0 535.8L1008.5 534.4L1009.0 533.5L1009.3 532.8L1009.5 532.9L1010.0 533.5L1010.5 534.2L1011.0 533.7L1011.5 534.3L1012.0 537.2L1012.3 540.1L1013.0 544.0L1013.5 544.4L1014.0 541.2L1014.5 539.7L1015.0 538.3L1015.3 537.3L1015.5 536.5L1016.0 534.4L1016.5 533.8L1016.8 532.8L1016.8 537.3L1017.0 536.6L1017.5 536.8L1018.0 533.8L1018.5 534.8L1019.0 532.8L1020.0 532.8L1020.5 535.8L1021.0 538.7L1021.5 541.9L1021.8 544.0L1022.0 544.3L1022.5 545.5L1023.0 545.6L1023.5 545.2L1023.8 545.6L1024.0 544.0L1024.5 540.4L1025.0 536.1L1025.2 534.3L1025.5 534.0L1026.0 533.5L1026.5 533.1L1027.0 533.3L1027.2 533.5L1027.5 536.5L1028.0 541.1L1028.5 543.2L1028.7 544.8L1029.0 545.7L1029.5 546.8L1030.0 548.1L1030.2 549.3L1030.5 548.4L1031.0 547.1L1031.5 545.4L1032.0 543.3L1032.5 540.3L1033.0 536.7L1033.5 535.0L1034.0 533.7L1034.5 533.7L1035.0 531.9L1038.8 532.8L1039.0 533.9L1039.5 537.2L1040.0 540.3L1040.3 541.0L1040.5 540.1L1041.0 537.4L1041.5 536.0L1041.8 535.8L1042.0 536.8L1042.5 539.1L1043.0 540.1L1043.3 540.3L1043.5 539.9L1044.0 540.1L1044.5 540.4L1044.8 541.8L1045.0 542.2L1045.5 540.5L1046.0 538.0L1046.5 536.3L1046.7 535.8L1047.0 539.0L1047.5 544.4L1048.0 550.7L1048.2 553.1L1048.5 552.2L1049.0 549.7L1049.5 545.4L1050.0 543.3L1050.5 538.7L1051.0 536.7L1051.5 532.8L1052.0 540.8L1052.3 544.7L1053.0 554.5L1053.8 554.6L1054.0 554.6L1054.5 553.8L1055.0 553.2L1055.3 552.3L1055.5 551.6L1056.0 549.3L1056.5 547.8L1057.0 546.4L1057.5 546.3L1058.0 544.3L1058.5 542.3L1059.0 539.3L1059.5 536.5L1059.8 535.8L1060.0 535.7L1060.5 534.1L1061.0 534.2L1061.5 533.4L1062.0 532.8L1066.5 531.9L1067.0 533.6L1067.5 534.3L1068.0 536.5L1068.0 538.0L1068.5 536.1L1069.0 537.0L1069.5 534.5L1070.0 533.0L1070.3 532.8L1070.3 532.8L1070.5 533.8L1071.0 536.1L1071.5 537.8L1071.8 538.8L1072.0 540.6L1072.5 543.5L1072.5 543.6L1073.3 540.3L1073.5 541.0L1074.0 541.3L1074.5 541.9L1075.0 543.6L1075.5 544.8L1076.0 544.0L1076.5 542.1L1077.0 540.3L1077.5 539.2L1078.0 538.4L1078.5 537.0L1079.0 535.5L1079.3 534.3L1079.5 533.2L1080.0 535.3L1080.5 533.9L1081.0 532.9L1081.5 532.8L1082.0 534.9L1082.5 538.3L1083.0 540.3L1083.5 541.3L1084.0 541.0L1084.5 542.9L1084.8 544.8L1085.0 543.4L1085.5 537.8L1086.0 534.3L1086.0 544.8L1086.5 541.9L1087.0 537.8L1087.5 533.5L1088.0 533.9L1088.5 533.4L1088.7 532.8L1089.0 537.6L1089.5 547.5L1089.8 553.1L1090.0 552.3L1090.5 552.6L1091.0 551.3L1091.5 551.3L1091.7 550.1L1092.0 546.3L1092.5 542.0L1092.8 539.5L1093.0 539.2L1093.5 536.2L1094.0 534.5L1094.3 532.8L1094.5 534.0L1095.0 536.5L1095.3 538.8L1095.5 541.0L1095.8 544.1L1096.5 543.3L1097.0 545.3L1097.3 546.6L1098.0 559.8L1098.5 564.8L1098.8 566.8L1099.2 570.3L1099.5 571.4L1100.0 573.9L1100.5 575.4L1101.0 577.0L1101.5 577.3L1101.8 577.8L1102.0 577.3L1102.5 575.9L1103.0 577.2L1103.3 576.3L1103.5 577.2L1104.0 579.8L1104.5 582.7L1105.0 585.7L1105.5 588.3L1106.0 583.6L1106.5 577.2L1106.7 574.8L1107.0 571.5L1107.5 567.6L1107.8 564.3L1107.8 576.3L1108.0 574.2L1108.5 570.3L1109.0 572.6L1109.5 574.2L1110.0 574.8L1110.5 577.6L1111.0 580.5L1111.5 584.6L1112.0 581.3L1112.5 578.6L1113.0 576.9L1113.3 574.8L1113.5 572.7L1114.0 567.2L1114.5 562.6L1115.0 557.8L1115.3 555.3L1115.5 554.6L1116.0 551.8L1116.5 550.6L1117.0 548.5L1117.2 547.8L1117.5 549.0L1118.0 551.3L1118.3 552.3L1118.5 554.9L1119.0 560.4L1119.5 566.7L1119.8 570.3L1120.0 569.2L1120.5 566.3L1120.5 566.1L1121.3 541.8L1121.5 541.3L1122.0 540.2L1122.5 537.4L1123.0 536.9L1123.5 536.5L1124.0 537.0L1124.5 535.8L1125.0 535.8L1125.5 538.9L1126.0 539.6L1126.5 541.7L1126.8 543.3L1127.0 544.1L1127.5 544.6L1128.0 544.8L1128.3 546.3L1128.5 545.1L1129.0 541.0L1129.5 536.6L1130.0 534.7L1130.3 532.8L1130.3 562.8L1130.5 561.9L1131.0 558.3L1131.5 556.5L1131.8 555.3L1132.0 554.6L1132.5 553.1L1133.0 549.9L1133.3 547.8L1133.3 545.3L1133.5 543.8L1133.7 543.3L1134.0 541.9L1134.5 539.1L1135.0 536.1L1135.2 534.3L1135.5 534.3L1136.0 533.7L1136.5 533.8L1137.0 532.8L1137.5 533.5L1138.0 534.8L1138.5 535.4L1139.0 534.1L1139.3 534.3L1139.5 534.0L1140.0 533.2L1140.5 533.9L1140.8 532.8L1141.0 531.9L1141.5 533.3L1142.0 533.9L1142.3 534.3L1142.5 535.7L1143.0 539.3L1143.5 542.6L1143.8 544.8L1144.0 543.7L1144.5 542.8L1145.0 538.7L1145.5 535.8L1146.0 532.8L1146.5 534.0L1147.0 535.5L1147.5 534.3L1148.0 540.3L1148.3 544.4L1148.7 550.8L1149.0 552.5L1149.5 556.1L1150.0 559.6L1150.2 561.3L1150.5 561.3L1151.0 559.7L1151.5 560.1L1151.7 559.8L1152.0 556.9L1152.5 554.6L1153.0 550.0L1153.2 547.8L1153.5 545.3L1154.0 541.3L1154.5 536.7L1154.7 534.3L1154.7 538.5L1155.0 535.5L1155.3 532.8L1155.5 533.9L1156.0 537.8L1156.5 540.7L1156.8 543.3L1157.0 544.5L1157.5 547.2L1158.0 548.6L1158.5 545.0L1159.0 543.0L1159.5 540.3L1159.8 538.8L1160.0 539.1L1160.5 540.1L1161.0 540.0L1161.5 541.0L1161.8 541.8L1162.0 541.9L1162.5 540.7L1162.5 540.7L1163.3 544.8L1163.5 546.6L1164.0 551.1L1164.3 553.8L1164.5 551.8L1165.0 547.6L1165.5 541.8L1165.5 539.0L1166.0 537.2L1166.5 535.5L1166.7 533.5L1167.0 535.1L1167.5 537.2L1168.0 541.0L1168.5 544.8L1169.0 548.3L1169.3 549.9L1170.0 541.8L1170.5 538.9L1171.0 538.0L1171.5 537.0L1171.8 534.3L1172.0 533.8L1172.5 533.1L1173.0 533.4L1173.3 532.8L1173.5 534.5L1174.0 538.4L1174.5 544.8L1175.0 550.7L1175.5 560.1L1176.0 568.8L1176.5 568.3L1177.0 567.4L1177.5 565.8L1178.0 559.7L1178.5 555.8L1179.0 549.3L1180.0 531.9L1180.5 536.3L1181.0 541.8L1181.2 543.3L1181.5 544.5L1182.0 548.9L1182.5 552.6L1182.6 554.1L1183.0 557.1L1183.5 557.7L1184.0 558.0L1184.2 558.9L1184.5 558.9L1185.0 556.6L1185.5 557.0L1185.8 556.5L1186.0 555.0L1186.5 550.4L1187.0 546.9L1187.2 545.7L1187.5 543.8L1188.0 541.3L1188.5 538.2L1188.6 537.3L1189.0 535.6L1189.5 535.8L1190.0 534.0L1190.2 533.1L1190.5 534.3L1191.0 536.9L1191.4 540.9L1191.5 540.7L1192.0 536.4L1192.5 533.7L1192.6 533.1L1193.0 533.5L1193.5 531.9L1194.0 533.0L1194.2 533.7L1194.5 537.8L1195.0 541.1L1195.4 543.3L1195.5 544.3L1196.0 548.8L1196.5 552.9L1196.8 555.3L1197.0 555.7L1197.5 557.3L1198.0 560.1L1198.0 560.1L1198.0 560.1L1198.5 556.6L1199.0 552.2L1199.2 550.5L1199.5 551.8L1200.0 553.4L1200.4 554.1L1201.0 563.7L1201.6 585.3L1202.2 604.4L1202.8 581.7L1203.0 583.8L1203.5 587.3L1204.0 592.5L1205.0 579.3L1205.5 584.0L1206.0 586.4L1206.2 587.7L1206.5 590.1L1207.0 593.3L1207.5 596.7L1207.6 597.3L1208.0 600.3L1208.5 604.2L1208.8 606.9L1209.0 605.0L1209.5 599.4L1210.0 594.1L1210.2 590.7L1210.5 593.0L1211.0 597.2L1211.5 602.1L1212.4 614.3L1212.5 615.8L1213.0 625.0L1213.5 633.9L1213.6 635.9L1214.0 640.7L1214.5 647.0L1215.0 655.1L1216.0 634.1L1216.5 636.1L1217.0 635.2L1217.2 635.3L1217.5 637.6L1218.0 640.5L1218.5 645.8L1218.7 646.7L1219.0 647.5L1219.5 650.1L1219.8 651.5L1220.0 649.9L1220.5 645.4L1221.0 639.5L1221.5 646.6L1222.0 652.0L1222.2 655.1L1223.2 664.7L1223.5 661.7L1224.0 655.8L1224.5 649.9L1224.7 647.9L1225.6 629.3L1226.0 631.4L1226.5 635.4L1227.0 638.3L1228.0 649.1L1228.5 643.5L1229.0 635.6L1229.5 628.7L1230.4 645.5L1230.5 644.6L1231.0 638.7L1231.5 634.2L1231.8 631.1L1232.0 630.0L1232.5 625.9L1233.0 621.8L1233.4 619.1L1233.5 619.0L1234.0 615.1L1234.5 613.4L1234.6 613.1L1235.0 611.7L1235.5 608.7L1236.0 606.5L1236.4 605.3L1236.5 606.1L1237.0 611.4L1237.5 616.0L1237.6 616.7L1238.0 620.1L1238.5 626.2L1238.8 629.9L1239.0 630.3L1239.5 632.6L1240.0 633.9L1240.5 633.3L1240.6 633.5L1241.0 636.1L1241.5 637.4L1241.8 639.5L1242.0 637.3L1242.5 632.7L1243.0 626.3L1243.5 620.8L1244.0 614.3L1244.2 611.9L1244.5 610.3L1245.0 608.6L1245.5 604.0L1245.8 602.3L1246.0 603.3L1246.5 605.9L1247.0 607.3L1247.2 608.3L1247.5 606.2L1248.0 600.3L1248.4 597.5L1248.5 598.1L1249.0 599.9L1249.5 601.8L1249.6 602.3L1250.0 599.9L1250.5 596.4L1250.8 595.1L1252.0 578.7L1252.5 581.6L1253.0 583.4L1253.2 584.1L1253.5 584.8L1254.0 585.6L1254.4 585.3L1254.5 585.9L1255.0 590.8L1255.5 596.2L1255.6 597.3L1256.0 594.2L1256.5 590.4L1257.0 587.8L1257.4 585.3L1257.5 585.3L1258.0 582.4L1258.5 582.0L1258.6 581.7L1259.0 581.9L1259.5 583.3L1259.8 582.9L1260.0 581.5L1260.5 578.8L1261.0 576.9L1261.5 578.9L1262.0 581.4L1262.5 582.6L1262.6 582.9L1263.0 580.5L1263.5 577.6L1264.0 575.7L1264.5 573.0L1265.0 570.7L1265.5 569.1L1266.0 571.5L1266.5 571.3L1267.0 570.3L1267.5 573.0L1268.0 577.2L1268.2 579.3L1268.5 580.5L1269.0 581.4L1269.5 579.3L1269.8 580.5L1270.0 581.6L1270.5 583.6L1271.0 586.5L1271.5 589.4L1272.0 591.6L1272.2 592.5L1272.5 594.2L1273.0 594.8L1273.4 595.5L1273.5 595.0L1274.0 593.4L1274.5 591.3L1274.6 591.3L1275.0 586.9L1275.5 579.5L1276.0 573.3L1276.5 574.8L1277.0 577.1L1277.2 578.1L1277.5 580.1L1278.0 583.5L1278.5 584.5L1278.7 585.3L1279.0 583.1L1279.5 581.3L1280.0 577.6L1280.2 575.7L1280.5 574.4L1281.0 573.9L1281.5 570.2L1282.0 567.3L1282.5 567.3L1283.0 566.2L1283.5 564.9L1284.0 562.9L1284.5 560.4L1285.0 561.3L1285.5 561.9L1286.0 560.5L1286.5 561.6L1286.6 561.9L1287.0 564.4L1287.5 564.5L1287.8 566.1L1288.6 573.3L1289.5 581.7L1290.0 582.5L1290.5 584.3L1291.0 584.1L1291.5 583.7L1292.0 584.8L1292.5 582.9L1292.8 581.1L1293.0 580.8L1293.5 582.0L1294.0 582.5L1294.5 582.9L1294.6 582.9L1295.0 582.2L1295.5 580.1L1295.8 578.7L1296.0 578.0L1296.5 577.3L1297.0 577.4L1297.5 577.7L1297.6 577.5L1298.0 577.8L1298.5 579.9L1299.0 580.6L1299.4 580.5L1299.5 580.8L1300.0 582.3L1300.5 584.0L1301.0 584.1L1301.5 585.8L1302.0 588.9L1302.2 590.7L1302.5 592.9L1303.0 594.5L1303.5 596.9L1303.6 597.3L1304.0 597.4L1304.5 598.3L1304.8 599.1L1305.0 599.4L1305.5 601.8L1306.0 603.3L1306.5 604.3L1307.0 605.7L1307.5 606.9L1307.8 610.1L1308.0 610.0L1308.5 608.2L1309.0 605.8L1309.4 605.3L1309.5 606.2L1310.0 609.5L1310.5 612.4L1310.8 614.3L1311.0 616.6L1311.5 623.5L1312.0 631.1L1313.0 619.1L1313.5 616.5L1314.0 615.7L1314.4 616.1L1314.5 616.5L1315.0 617.0L1315.5 617.3L1316.0 621.8L1316.2 622.7L1316.5 622.0L1317.0 618.7L1317.5 617.0L1318.0 615.5L1318.5 614.3L1319.0 614.2L1319.2 613.7L1319.5 615.2L1320.0 617.1L1320.4 620.3L1320.5 619.7L1321.0 614.0L1321.5 609.1L1321.6 607.1L1322.0 604.6L1322.5 603.3L1322.8 601.1L1323.0 603.2L1323.5 610.7L1324.0 619.1" stroke="#28E2E5" stroke-width="1.50"/>
<path d="M75.7 531.9L76.0 533.4L76.5 535.7L77.0 536.9L77.5 538.0L78.0 538.3L78.2 538.8L78.5 541.2L79.0 542.4L79.5 548.1L79.8 551.6L80.0 555.8L80.5 561.2L80.8 565.5L81.0 564.2L81.5 561.1L82.0 557.3L82.3 555.3L82.5 554.8L83.0 554.3L83.5 553.7L84.0 552.5L84.2 551.6L84.2 551.6L84.5 549.0L85.0 544.5L85.5 539.8L85.8 536.5L86.0 536.1L86.5 536.1L87.0 537.5L87.2 538.0L87.5 537.1L88.0 536.0L88.5 533.6L88.8 532.8L89.0 533.3L89.5 534.0L90.0 533.8L90.3 534.3L90.5 537.4L91.0 543.4L91.5 551.1L92.0 557.2L92.2 559.8L92.5 558.8L93.0 555.7L93.5 555.1L94.0 552.3L94.5 548.4L95.0 545.1L95.5 542.4L96.0 537.8L96.5 534.7L97.0 534.3L97.5 536.5L98.0 539.6L98.5 540.4L99.0 543.1L99.3 544.8L99.5 543.0L100.0 539.5L100.5 534.0L100.8 532.8L101.0 535.3L101.5 539.6L102.0 542.8L102.3 544.8L102.5 543.4L103.0 541.1L103.5 538.0L103.8 535.8L104.0 539.5L104.5 548.4L104.8 554.5L104.8 579.3L105.0 581.2L105.5 586.5L106.0 591.3L106.5 588.3L107.0 584.8L107.5 580.8L108.0 579.7L108.5 581.0L109.0 581.7L109.3 581.6L109.5 583.7L110.0 590.5L110.5 596.1L110.8 600.3L110.8 600.3L110.8 600.3L111.0 601.0L111.5 599.1L112.0 600.7L112.5 601.3L112.8 601.8L113.5 627.3L114.0 632.4L114.5 636.7L115.0 640.8L115.8 643.1L120.3 643.1L121.0 628.8L121.5 625.7L122.0 620.4L122.5 615.3L123.0 618.8L123.5 623.2L124.0 627.3L124.5 631.6L125.0 633.0L125.5 636.0L125.8 637.8L126.0 635.0L126.5 627.1L127.0 619.8L127.5 621.5L128.0 623.8L128.5 627.3L129.0 625.3L129.5 624.7L130.0 623.6L130.5 618.1L131.0 614.4L131.5 610.8L132.0 611.7L132.5 612.3L133.0 613.8L133.5 612.0L134.0 610.8L134.5 609.4L135.0 607.7L135.3 606.3L135.5 605.7L136.0 604.1L136.5 603.1L137.0 602.1L137.5 601.8L138.0 601.9L138.3 601.8L138.5 603.1L139.0 606.4L139.5 608.7L139.8 609.3L140.0 609.3L140.5 611.8L141.0 611.7L141.5 613.4L141.6 613.8L142.0 611.4L142.5 606.3L143.0 602.5L143.5 597.8L144.0 591.8L144.3 589.8L144.5 590.2L145.0 591.4L145.5 591.8L146.0 591.2L146.5 591.3L147.0 589.1L147.5 586.5L148.0 583.1L148.5 584.9L149.0 585.7L149.5 588.3L150.0 585.6L150.5 581.7L151.0 579.2L151.5 576.8L151.8 574.8L152.0 574.8L152.5 576.6L153.0 577.6L153.3 579.3L153.5 579.3L154.0 576.7L154.5 574.3L155.0 573.7L155.5 571.8L156.0 570.4L156.5 567.2L157.0 561.3L157.5 557.2L158.0 551.8L158.5 546.3L159.0 545.1L159.5 541.4L160.0 540.3L160.0 541.8L160.5 542.2L161.0 543.5L161.5 543.8L162.0 545.3L162.3 545.6L162.5 546.2L163.0 548.4L163.5 551.1L163.8 552.3L164.0 551.7L164.5 549.2L165.0 548.8L165.5 547.9L166.0 547.8L166.5 549.6L167.0 550.8L167.5 553.8L168.0 556.1L168.5 558.8L169.0 560.5L169.3 561.3L169.5 558.7L169.8 556.1L170.5 534.3L171.0 536.6L171.5 538.5L172.0 540.3L172.5 541.8L173.0 543.8L173.5 546.3L173.5 551.7L174.0 550.3L174.3 549.3L175.0 565.1L175.8 565.1L176.5 555.3L177.0 557.3L177.5 560.3L178.0 561.3L178.5 563.9L179.0 565.0L179.2 565.8L179.2 558.2L179.5 554.2L180.0 544.6L180.3 540.3L180.5 539.2L181.0 537.7L181.5 534.6L181.8 532.8L182.0 533.7L182.5 536.5L183.0 538.4L183.5 540.4L184.0 543.3L184.5 546.6L185.0 549.0L185.5 551.6L186.0 548.2L186.5 543.1L187.0 541.3L187.5 536.9L187.8 534.3L188.0 534.0L188.5 533.8L189.0 533.6L189.5 531.9L190.0 533.5L190.5 543.7L191.0 555.8L191.2 560.6L191.5 555.3L192.0 545.3L192.3 538.8L192.5 537.5L193.0 536.4L193.5 535.9L194.0 534.2L194.5 532.8L195.0 534.6L195.5 536.3L196.0 539.2L196.5 540.7L196.8 540.3L197.0 538.1L197.5 537.7L198.0 534.7L198.3 532.8L198.5 531.9L199.0 533.5L199.5 535.5L200.0 536.5L200.5 536.5L201.0 538.1L201.5 541.7L202.0 544.8L202.0 544.8L202.0 544.8L202.5 549.0L203.0 553.6L203.5 558.9L204.0 561.3L204.0 561.4L204.0 561.3L204.5 579.5L205.0 596.4L205.5 613.8L205.5 613.8L205.5 613.8L206.0 616.5L206.5 620.0L207.0 623.0L207.5 628.8L208.0 632.6L208.5 627.2L209.0 622.1L209.5 615.3L210.0 605.6L210.5 596.6L211.0 586.8L211.5 587.8L212.0 589.0L212.5 591.3L213.0 586.5L213.5 582.9L214.0 578.9L214.3 575.6L214.5 576.9L215.0 581.7L215.5 587.1L216.0 590.0L216.3 592.8L216.5 593.5L217.0 593.9L217.5 595.2L217.8 595.8L218.0 598.9L218.5 604.8L219.0 612.5L219.3 616.1L219.5 615.1L220.0 615.2L220.5 613.9L220.8 613.8L221.0 612.2L221.5 605.9L222.0 601.4L222.5 597.0L223.0 592.8L223.5 584.8L224.0 578.2L224.5 567.3L225.0 565.8L225.5 564.6L226.0 562.7L226.5 562.1L227.0 559.5L227.5 558.3L228.0 558.3L228.5 557.7L229.0 557.1L229.5 555.9L229.8 556.1L230.0 557.1L230.5 558.3L231.0 560.5L231.3 561.3L231.5 560.4L232.0 559.6L232.5 556.5L233.0 555.1L233.5 552.3L234.0 549.5L234.5 548.1L235.0 544.8L235.5 546.0L236.0 548.0L236.5 547.8L237.0 545.7L237.5 541.1L238.0 539.0L238.5 538.2L238.8 537.3L238.8 568.8L239.0 568.0L239.5 566.2L240.0 563.6L240.5 561.5L241.0 560.0L241.5 557.0L241.8 555.3L242.5 546.3L243.0 550.8L243.5 555.6L244.0 558.7L244.5 563.3L244.8 565.8L244.8 564.3L245.0 562.7L245.5 556.8L246.0 553.7L246.5 548.7L247.0 544.8L247.5 548.6L248.0 550.7L248.5 553.3L248.5 553.4L249.3 534.3L249.5 535.6L250.0 538.7L250.5 541.4L250.8 543.3L251.0 541.9L251.5 538.5L252.0 534.6L252.3 532.8L252.3 544.1L252.5 545.3L253.0 547.8L253.5 551.8L253.8 553.8L254.0 552.2L254.5 549.4L255.0 545.7L255.5 541.8L256.1 536.5L256.5 535.6L257.0 535.0L257.5 535.0L258.0 534.3L258.5 533.2L259.1 532.8L260.0 532.8L260.5 533.7L261.0 534.2L261.5 534.9L262.0 533.8L262.5 533.3L263.0 534.3L263.5 535.8L264.0 537.1L264.5 539.8L265.0 541.6L265.5 542.7L266.0 544.8L266.5 542.6L267.0 542.4L267.5 540.2L267.5 540.2L268.2 547.8L268.5 548.5L269.0 550.3L269.5 552.0L269.8 553.8L270.0 552.0L270.5 547.3L270.8 544.8L270.8 537.4L271.0 536.0L271.5 534.9L272.0 533.5L272.5 534.8L273.0 534.7L273.5 536.2L274.0 536.5L274.2 536.5L274.5 540.5L275.0 546.4L275.5 556.1L275.8 559.1L276.0 555.3L276.5 550.6L277.0 544.0L277.5 539.6L277.7 536.5L278.0 536.2L278.5 539.3L279.0 540.0L279.5 540.3L280.0 547.5L280.5 553.5L281.0 559.1L281.5 559.0L282.0 557.3L282.5 554.6L283.0 552.6L283.3 552.3L283.5 551.0L284.0 545.3L284.5 543.3L285.0 539.3L285.5 535.8L286.0 534.6L286.5 533.0L287.0 531.9L287.5 532.8L287.8 532.8L288.0 533.6L288.5 536.4L289.0 537.0L289.3 538.0L289.5 538.1L290.0 537.3L290.5 536.9L291.0 536.6L291.5 536.5L292.0 537.5L292.5 537.1L293.0 540.4L293.5 541.4L293.8 542.5L293.8 540.3L294.0 543.4L294.5 548.8L295.0 553.5L295.5 558.9L295.7 561.0L296.0 561.3L296.5 565.8L297.0 568.0L297.5 570.3L298.0 569.3L298.5 566.9L299.0 564.8L299.3 563.6L299.5 562.8L300.0 560.9L300.5 559.3L301.0 556.2L301.3 554.6L301.5 554.7L302.0 555.7L302.5 557.0L303.0 556.5L303.5 557.6L304.0 552.6L304.5 548.5L305.0 543.3L305.5 543.7L306.0 542.0L306.5 540.3L306.5 547.8L307.0 544.7L307.5 540.9L308.0 537.3L308.0 537.3L308.5 532.8L309.0 531.9L309.5 532.8L310.0 539.5L310.5 545.8L311.0 553.5L311.3 557.6L311.5 557.1L312.0 555.0L312.5 551.3L313.0 550.0L313.3 549.3L313.5 547.6L314.0 544.7L314.5 539.5L315.0 536.3L315.5 533.5L316.0 535.0L316.5 535.9L317.0 535.0L317.5 534.0L317.8 534.3L318.0 535.5L318.5 539.2L319.0 541.0L319.5 543.5L320.0 545.6L320.5 546.7L321.0 547.3L321.5 551.0L321.5 551.0L322.3 547.8L322.5 548.8L323.0 550.2L323.5 551.6L324.0 552.1L324.5 553.9L325.0 555.2L325.5 557.0L325.7 557.6L326.0 556.5L326.5 554.3L327.0 553.7L327.5 553.3L328.0 552.9L328.3 552.3L328.3 553.1L328.5 551.0L329.0 547.1L329.5 543.7L329.8 541.8L330.0 540.6L330.5 538.0L331.0 535.0L331.3 532.8L335.0 532.8L335.5 533.5L336.0 535.7L336.5 538.0L337.0 536.9L337.5 534.5L338.0 532.8L338.5 531.9L339.0 531.9L339.5 533.1L340.0 533.3L340.5 534.6L341.0 534.7L341.5 533.4L341.8 533.5L342.0 533.8L342.5 533.7L343.0 534.9L343.5 536.9L344.0 537.3L344.5 536.8L345.0 535.2L345.5 534.3L346.0 534.6L346.3 532.8L346.5 531.9L347.0 531.9L347.5 534.8L348.0 535.2L348.5 535.0L349.0 537.3L349.5 539.0L350.0 540.3L350.5 539.5L351.0 537.5L351.5 537.4L351.8 536.5L352.0 538.0L352.5 541.8L353.0 543.0L353.5 546.2L353.8 547.8L353.8 547.8L353.8 547.8L354.5 576.3L354.5 576.3L354.5 576.3L355.3 591.3L356.0 604.1L356.5 593.7L357.0 584.4L357.5 573.8L357.8 567.3L358.0 568.9L358.5 573.4L359.0 578.6L359.5 582.5L359.8 584.6L360.0 583.9L360.5 582.2L361.0 579.7L361.5 579.4L362.0 577.1L362.5 576.9L363.0 576.9L363.5 574.8L364.0 579.2L364.5 582.6L365.0 585.3L365.5 589.3L366.0 591.7L366.5 595.2L366.8 597.3L367.0 596.4L367.5 595.5L368.0 593.3L368.3 592.1L368.3 592.1L368.5 594.9L369.0 602.2L369.5 609.3L370.0 613.4L370.5 618.7L371.0 623.4L371.3 625.8L371.5 624.3L372.0 618.8L372.5 615.3L373.0 611.2L373.3 609.3L373.5 607.3L374.0 603.0L374.5 599.6L374.8 597.3L375.0 595.2L375.5 589.8L376.0 583.7L376.3 580.8L376.5 579.8L377.0 577.2L377.5 575.2L378.0 572.6L378.5 570.3L379.0 569.0L379.5 568.2L380.0 568.0L380.3 568.1L380.5 568.4L381.0 569.9L381.5 571.3L382.0 571.4L382.3 571.8L383.8 571.8L384.0 573.1L384.5 573.6L385.0 575.5L385.5 576.8L386.0 579.3L386.5 581.3L387.0 582.6L387.5 583.8L388.0 589.5L388.5 595.3L388.7 597.3L389.0 597.8L389.5 601.1L389.8 601.8L390.5 619.8L391.0 616.0L391.5 614.3L392.0 610.8L392.5 610.3L393.0 610.3L393.5 609.3L394.0 615.4L394.5 620.2L395.0 627.6L449.9 627.6L450.0 627.6L519.9 627.6L520.0 627.4L534.2 627.4L535.0 624.8L535.5 632.3L536.0 638.4L536.2 641.3L537.2 667.3L537.5 668.1L538.0 670.2L538.5 671.7L538.8 672.6L539.0 672.5L539.5 672.0L540.0 670.5L540.3 670.3L540.5 669.7L541.0 667.7L541.5 666.0L542.0 665.1L542.5 662.8L543.0 666.4L543.5 669.5L544.0 671.3L544.3 671.8L544.5 670.3L545.0 668.3L545.5 666.3L546.0 663.6L546.5 661.1L546.7 659.8L547.0 660.8L547.5 662.4L548.0 662.8L548.5 664.3L549.0 661.4L549.5 657.8L550.0 652.9L550.5 649.1L550.8 647.8L551.0 649.2L551.5 651.0L552.0 653.4L552.3 653.8L552.5 654.0L553.0 654.3L553.5 654.3L553.8 655.3L554.0 653.4L554.5 648.3L555.0 642.3L555.3 640.3L555.5 644.0L556.0 650.6L556.5 657.4L556.8 661.3L557.0 662.8L557.5 666.1L558.0 668.6L558.3 670.3L558.5 670.8L559.0 670.3L559.5 672.5L559.8 672.6L560.0 672.0L560.5 671.4L561.0 666.8L561.3 666.6L561.5 666.8L562.0 666.3L562.5 665.9L563.0 665.7L563.5 664.3L564.0 666.8L564.5 668.6L565.0 669.6L565.5 668.2L566.0 668.8L566.5 667.6L567.0 665.1L567.3 665.1L567.5 665.3L568.0 666.2L568.5 666.4L569.0 666.2L569.5 665.8L570.0 665.4L570.5 664.6L571.0 665.2L571.5 665.9L571.8 665.1L572.0 665.3L572.5 668.1L573.0 670.7L573.3 672.6L573.5 673.7L574.0 676.7L574.5 677.4L574.8 677.8L575.0 678.2L575.5 677.9L576.0 678.8L576.3 680.1L576.5 681.6L577.0 684.1L577.5 685.3L577.8 686.8L578.0 687.9L578.5 688.7L579.0 689.3L579.5 690.2L579.7 690.6L586.0 690.6L586.5 688.1L587.0 684.0L587.5 680.8L588.0 677.5L588.5 675.6L589.0 673.3L589.5 670.3L590.0 667.8L590.5 665.8L591.0 659.9L591.5 652.1L591.7 649.3L593.5 636.8L594.0 640.2L594.5 643.9L595.0 647.3L595.5 647.7L596.0 647.6L596.5 648.8L597.0 646.4L597.5 644.9L598.0 643.6L598.5 647.9L599.0 650.6L599.5 653.3L600.0 654.6L600.5 655.2L601.0 657.4L601.5 657.2L601.8 657.8L602.0 657.3L602.5 656.0L603.0 652.9L603.5 650.3L604.0 646.7L604.5 645.2L604.8 644.3L605.0 643.2L605.5 640.2L606.0 638.8L606.5 636.6L606.7 636.1L607.0 639.6L607.5 645.9L608.0 653.5L608.5 657.8L609.7 677.8L610.3 685.6L640.0 685.6L640.5 683.1L641.0 680.2L641.2 680.1L641.5 680.1L642.0 679.6L642.3 678.6L642.5 677.1L643.0 673.8L643.5 673.0L643.8 671.1L644.0 668.7L644.5 662.6L645.0 657.6L645.3 655.3L645.5 653.9L646.0 650.8L646.5 646.2L646.8 643.3L647.5 638.3L648.0 640.2L648.5 639.8L649.0 642.7L649.5 644.4L649.8 645.8L650.0 645.7L650.5 645.3L651.0 643.6L651.5 643.6L652.0 645.1L652.5 646.4L653.0 648.1L653.5 649.7L654.0 649.6L654.5 644.9L655.0 639.6L655.5 634.4L655.8 632.3L656.0 631.6L656.5 628.8L657.0 625.1L657.3 623.3L657.5 624.2L658.0 626.7L658.5 628.2L658.8 629.3L659.0 625.4L659.5 617.3L660.0 608.8L660.3 603.8L660.5 601.2L661.0 594.9L661.5 589.6L661.8 585.8L663.3 567.3L663.5 565.8L664.0 561.3L664.5 559.9L664.8 558.3L665.0 557.6L665.5 556.7L666.0 554.8L666.5 552.6L666.7 552.3L667.0 556.3L667.5 561.5L668.0 566.6L668.5 570.3L669.0 573.7L669.5 577.3L669.7 578.6L670.0 575.7L670.5 572.1L671.0 567.8L671.5 562.8L672.0 561.8L672.5 562.8L673.0 561.3L673.5 553.9L674.0 548.0L674.5 540.3L674.5 536.1L674.8 532.8L675.0 534.1L675.5 540.6L676.0 544.8L676.5 550.3L676.8 554.4L677.5 552.3L678.0 549.1L678.5 549.1L679.0 549.0L679.5 548.7L679.8 547.8L680.0 546.0L680.5 543.4L681.0 539.8L681.3 539.5L681.5 542.0L682.0 543.6L682.5 547.7L682.8 549.3L683.0 550.2L683.5 552.7L684.0 554.3L684.3 555.3L684.5 553.6L685.0 550.3L685.5 546.0L686.0 541.8L686.5 538.7L687.0 535.7L687.3 534.3L687.5 535.6L688.0 537.3L688.5 540.0L689.0 540.6L689.5 544.8L690.0 543.5L690.5 541.2L691.0 539.8L691.5 538.3L691.8 537.3L692.0 536.8L692.5 536.0L693.0 534.5L693.5 534.5L694.0 532.8L694.0 539.0L694.3 532.8L700.0 531.9L700.5 533.6L701.0 534.1L701.5 535.8L702.0 534.9L702.5 534.9L703.0 531.9L703.5 531.9L704.0 531.9L704.5 533.7L704.8 533.5L705.0 535.0L705.5 540.4L706.0 546.0L706.5 550.2L706.8 553.1L707.0 551.2L707.5 545.6L708.0 542.5L708.3 540.3L708.5 540.9L709.0 541.9L709.5 542.0L709.8 541.8L710.0 539.6L710.5 536.8L711.0 534.7L711.3 532.8L714.3 532.8L714.5 534.2L715.0 537.1L715.5 541.6L715.8 543.3L716.0 541.9L716.5 541.3L717.0 537.8L717.3 536.5L717.5 537.1L718.0 539.2L718.5 539.4L718.8 540.3L719.0 540.5L719.5 539.2L720.0 535.8L720.5 535.1L721.0 533.5L721.5 534.0L722.0 533.0L722.5 531.9L723.0 531.9L723.5 531.9L724.0 532.8L724.5 534.5L725.0 535.3L725.5 536.0L725.8 535.8L726.0 536.8L726.5 540.5L727.0 543.5L727.3 545.6L727.5 544.3L728.0 540.0L728.5 537.1L729.0 535.3L729.3 533.5L729.5 533.4L730.0 531.9L730.5 531.9L731.0 532.9L731.5 531.9L734.5 532.8L735.0 537.9L735.5 543.2L736.0 550.1L736.5 550.1L736.8 550.8L737.5 552.3L738.0 559.8L738.5 567.4L738.7 571.1L739.0 570.0L739.5 567.2L740.0 564.8L740.5 563.2L741.0 560.6L741.3 559.8L741.5 558.9L742.0 555.9L742.5 554.3L742.8 552.3L742.8 552.3L743.0 555.9L743.5 564.4L743.8 569.6L744.3 569.6L745.0 571.8L745.5 572.4L746.0 572.5L746.5 570.5L747.0 570.4L747.3 570.3L747.5 567.9L748.0 562.7L748.5 556.4L748.8 552.3L749.0 549.9L749.5 545.5L750.0 541.5L750.3 538.8L750.5 539.1L751.0 540.9L751.5 542.2L751.8 543.3L752.0 541.9L752.5 537.8L753.0 535.3L753.3 532.8L753.3 540.0L753.5 538.4L753.7 537.3L754.0 539.9L754.5 544.8L755.0 548.2L755.5 553.1L756.0 550.4L756.5 548.5L757.0 544.8L757.5 540.2L758.0 536.0L758.5 532.8L758.5 531.9L759.3 531.9L759.5 533.6L760.0 536.8L760.5 538.5L760.8 539.5L761.0 538.6L761.5 536.7L762.0 534.8L762.3 534.3L762.5 534.6L763.0 533.7L763.5 534.1L764.0 536.1L764.5 536.5L765.0 534.6L765.5 534.4L766.0 532.8L766.5 535.3L767.0 536.3L767.5 540.3L768.0 538.1L768.5 537.6L769.0 534.9L769.3 534.3L769.5 534.3L770.0 535.1L770.5 534.0L771.0 534.1L771.5 534.7L772.0 533.5L772.5 533.0L773.0 533.2L773.5 533.0L774.0 533.1L774.5 532.8L775.0 531.9L775.5 533.2L775.8 532.8L776.0 533.4L776.5 535.2L777.0 538.2L777.3 538.8L777.5 539.2L778.0 542.0L778.5 543.0L779.0 544.3L779.5 544.8L780.0 544.7L780.3 546.7L781.0 537.3L781.5 538.3L782.0 539.4L782.5 539.6L782.8 540.3L783.0 542.1L783.5 546.9L784.0 551.8L784.5 556.2L784.8 560.6L785.0 560.0L785.5 557.8L785.5 557.6L786.3 561.3L786.5 563.0L787.0 567.5L787.5 572.7L788.0 576.0L788.2 578.6L788.5 576.3L789.0 572.2L789.5 566.5L790.0 561.3L790.0 561.3L790.5 554.1L791.0 547.0L791.5 540.3L792.0 537.0L792.5 534.7L792.7 531.9L792.7 531.9L805.0 531.9L805.5 538.5L806.0 544.4L806.2 547.8L806.5 549.3L807.0 550.7L807.3 552.0L807.7 553.8L808.0 557.9L808.5 567.5L809.0 576.6L809.2 580.8L809.5 579.6L810.0 577.0L810.5 573.6L811.0 570.3L811.5 571.3L812.0 571.8L812.5 572.6L813.0 572.7L813.3 571.8L813.5 569.0L814.0 564.5L814.5 559.0L815.0 554.1L815.2 551.6L815.5 552.0L816.0 554.6L816.5 554.5L817.0 555.3L817.5 556.0L818.0 553.8L818.5 552.3L819.0 548.2L819.5 543.3L820.0 537.3L820.5 538.4L821.0 541.8L821.5 544.0L822.0 544.6L822.3 545.6L822.5 544.1L823.0 540.7L823.5 536.5L823.8 534.3L824.0 534.4L824.5 533.3L824.9 532.8L824.9 532.8L825.0 531.9L825.5 531.9L826.0 533.5L826.5 539.5L827.0 544.8L827.5 552.2L827.5 552.8L827.9 555.3L828.0 554.4L828.5 552.7L829.0 550.5L829.4 547.8L829.5 546.7L830.0 542.2L830.5 537.7L831.0 535.4L831.3 534.3L831.3 543.0L831.5 541.8L832.0 539.7L832.5 538.2L833.0 537.4L833.5 535.4L833.8 533.5L834.0 531.9L834.5 531.9L835.0 531.9L835.5 531.9L836.0 531.9L838.7 532.8L839.0 538.3L839.5 549.5L839.8 553.8L840.0 553.7L840.5 554.2L840.5 554.2L841.2 553.1L841.5 551.8L842.0 549.4L842.5 548.6L843.0 545.9L843.5 543.3L844.0 545.1L844.5 547.7L845.0 551.6L845.5 548.0L846.0 543.8L846.2 541.8L846.5 545.3L847.0 550.1L847.5 557.5L847.7 559.8L848.0 561.4L848.5 565.7L848.8 566.7L849.2 555.3L849.5 563.7L850.0 576.4L850.3 582.3L851.0 596.5L851.0 596.6L851.5 597.8L852.0 601.2L852.5 600.3L853.0 605.4L853.5 610.9L853.7 612.3L854.0 609.5L854.5 604.5L855.0 603.4L855.5 600.3L856.0 596.5L856.5 595.2L856.7 594.3L857.0 592.0L857.5 588.3L858.0 582.2L858.2 580.1L858.5 581.1L859.0 583.3L859.5 584.8L860.0 586.8L860.5 587.6L861.0 589.8L861.5 589.4L861.8 591.3L862.0 589.0L862.5 578.1L863.0 570.3L863.5 562.5L864.0 555.2L864.5 548.1L864.8 543.3L865.0 542.9L865.5 541.4L866.0 539.8L866.5 538.1L867.0 537.6L867.5 537.3L868.0 538.1L868.5 540.0L869.0 540.2L869.3 540.3L870.2 544.8L870.5 546.9L871.0 550.9L871.5 553.0L872.0 555.3L872.5 560.4L873.0 565.4L873.5 568.8L874.0 579.3L874.5 586.9L875.0 591.3L875.5 595.6L876.0 601.4L876.2 603.3L876.5 601.0L877.0 599.1L877.5 596.8L878.0 593.5L878.3 591.3L878.5 590.3L879.0 587.2L879.5 585.0L879.8 582.3L880.0 583.7L880.5 588.5L881.0 593.7L881.5 600.8L881.8 604.8L882.0 602.8L882.5 597.5L883.0 591.8L883.3 588.3L883.5 588.9L884.0 589.6L884.5 590.9L884.8 591.3L885.0 589.9L885.5 588.0L886.0 585.6L886.3 584.6L886.5 585.8L887.0 589.6L887.5 594.0L887.8 595.8L888.0 597.4L888.5 600.4L889.0 601.2L889.3 603.3L889.5 602.9L890.0 601.7L890.5 599.5L891.0 598.2L891.2 597.3L891.5 598.2L892.0 598.1L892.5 600.0L893.0 600.5L893.5 602.9L893.8 604.1L894.0 603.1L894.5 600.4L895.0 598.9L895.3 597.3L895.5 595.2L896.0 591.6L896.5 588.1L896.8 585.3L897.0 583.5L897.5 580.2L898.0 575.9L898.3 573.3L898.5 572.5L899.0 574.6L899.5 575.2L899.8 574.8L900.0 575.3L900.5 578.4L901.0 580.6L901.5 582.5L902.0 585.3L902.5 584.7L903.0 580.9L903.5 576.3L904.0 573.9L904.5 571.4L905.0 568.2L905.5 566.9L905.8 567.3L906.0 569.8L906.5 571.6L907.0 573.1L907.5 573.9L907.7 574.8L908.0 574.1L908.5 571.4L909.0 571.4L909.5 570.3L910.0 564.9L910.5 559.2L911.0 552.7L911.5 546.5L911.8 543.3L912.0 542.5L912.5 542.8L913.0 542.1L913.5 541.7L914.0 540.7L914.5 539.8L915.0 540.0L915.5 539.8L916.0 537.4L916.3 536.5L916.3 534.3L918.5 531.9L919.0 534.7L919.5 537.8L919.7 539.5L920.0 537.8L920.5 535.4L920.8 534.3L921.0 539.4L921.5 548.8L921.5 549.3L921.8 556.1L922.0 556.1L922.5 554.8L923.0 554.9L923.5 553.6L923.8 552.3L924.0 548.9L924.5 543.3L925.0 537.1L925.3 534.3L925.5 535.3L926.0 534.8L926.5 534.3L926.8 535.8L927.0 538.2L927.5 539.8L928.0 543.3L928.3 544.8L928.5 543.6L929.0 542.5L929.5 540.5L930.0 538.0L930.2 537.3L930.5 537.4L931.0 536.8L931.5 535.8L932.0 535.7L932.5 535.0L933.0 532.8L933.5 532.8L933.5 547.8L934.0 547.4L934.5 546.4L935.0 544.8L935.5 541.7L936.0 537.0L936.5 532.8L937.0 534.8L937.5 536.8L938.0 539.5L938.3 540.3L938.5 540.4L939.0 541.1L939.5 541.9L939.5 542.0L940.3 543.3L940.5 544.8L941.0 550.0L941.5 552.0L941.8 554.6L942.0 553.6L942.5 550.7L943.0 548.3L943.5 543.9L943.7 543.3L944.0 543.0L944.5 541.5L945.0 538.6L945.5 535.8L946.0 536.3L946.5 538.0L947.0 538.4L947.5 539.3L947.8 539.5L948.0 538.2L948.5 536.4L949.0 533.8L949.5 533.6L949.7 532.8L949.7 532.8L950.0 532.8L950.8 534.3L951.5 570.3L952.0 561.8L952.5 551.1L953.0 540.3L957.5 540.3L958.0 538.1L958.5 535.7L958.7 534.3L959.0 535.3L959.5 536.3L960.0 535.7L960.5 537.3L961.0 538.5L961.5 540.2L962.0 542.0L962.3 542.5L962.8 555.0L963.2 565.1L963.5 564.4L964.0 563.2L964.5 563.1L965.0 563.6L965.5 564.4L966.0 565.2L966.5 565.3L967.0 565.4L967.3 565.8L967.5 565.2L968.0 563.3L968.5 561.3L969.0 559.6L969.5 557.6L970.0 556.9L970.5 556.4L971.0 556.0L971.5 554.3L971.8 553.1L972.0 554.7L972.5 559.9L973.0 562.7L973.3 565.1L973.5 564.1L974.0 562.1L974.5 559.6L975.0 557.7L975.5 555.3L976.0 554.3L976.5 553.5L977.0 554.4L977.5 554.5L977.8 553.8L978.0 555.6L978.5 560.5L978.8 564.3L978.8 577.1L981.5 577.1L982.0 576.2L982.5 578.6L983.0 576.1L983.5 574.4L984.0 574.5L984.5 576.3L985.0 576.0L985.5 576.6L986.0 576.4L986.5 577.5L987.0 577.0L987.5 577.8L991.3 577.8L991.5 575.7L992.0 572.2L992.5 568.9L992.8 567.3L993.0 566.1L993.5 560.7L994.0 559.9L994.3 557.6L994.5 557.5L995.0 559.4L995.5 559.4L996.0 558.2L996.5 559.8L997.0 561.2L997.5 564.2L998.0 567.3L998.5 565.2L999.0 565.2L999.5 564.3L1000.0 560.7L1000.5 555.6L1001.0 552.3L1001.5 550.2L1002.0 545.8L1002.5 544.2L1003.0 541.5L1003.3 540.3L1003.5 539.8L1004.0 538.0L1004.5 537.4L1005.0 537.0L1005.2 535.8L1005.5 534.7L1006.0 533.4L1006.3 532.8L1006.3 533.6L1006.5 533.8L1007.0 535.0L1007.5 535.4L1008.0 535.8L1008.5 534.4L1009.0 533.5L1009.3 532.8L1009.5 532.9L1010.0 533.5L1010.5 534.2L1011.0 533.7L1011.5 534.3L1012.0 537.2L1012.3 540.1L1013.0 544.0L1013.5 544.4L1014.0 541.2L1014.5 539.7L1015.0 538.3L1015.3 537.3L1015.5 536.5L1016.0 534.4L1016.5 533.8L1016.8 532.8L1016.8 537.3L1017.0 536.6L1017.5 536.8L1018.0 533.8L1018.5 534.8L1019.0 532.8L1020.0 532.8L1020.5 535.8L1021.0 538.7L1021.5 541.9L1021.8 544.0L1022.0 544.3L1022.5 545.5L1023.0 545.6L1023.5 545.2L1023.8 545.6L1024.0 544.0L1024.5 540.4L1025.0 536.1L1025.2 534.3L1025.5 534.0L1026.0 533.5L1026.5 533.1L1027.0 533.3L1027.2 533.5L1027.5 536.5L1028.0 541.1L1028.5 543.2L1028.7 544.8L1029.0 545.7L1029.5 546.8L1030.0 548.1L1030.2 549.3L1030.5 548.4L1031.0 547.1L1031.5 545.4L1032.0 543.3L1032.5 540.3L1033.0 536.7L1033.5 535.0L1034.0 533.7L1034.5 533.7L1035.0 531.9L1038.8 532.8L1039.0 533.9L1039.5 537.2L1040.0 540.3L1040.3 541.0L1040.5 540.1L1041.0 537.4L1041.5 536.0L1041.8 535.8L1042.0 536.8L1042.5 539.1L1043.0 540.1L1043.3 540.3L1043.5 539.9L1044.0 540.1L1044.5 540.4L1044.8 541.8L1045.0 542.2L1045.5 540.5L1046.0 538.0L1046.5 536.3L1046.7 535.8L1047.0 539.0L1047.5 544.4L1048.0 550.7L1048.2 553.1L1048.5 552.2L1049.0 549.7L1049.5 545.4L1050.0 543.3L1050.5 538.7L1051.0 536.7L1051.5 532.8L1052.0 540.8L1052.3 544.7L1053.0 554.5L1053.8 554.6L1054.0 554.6L1054.5 553.8L1055.0 553.2L1055.3 552.3L1055.5 551.6L1056.0 549.3L1056.5 547.8L1057.0 546.4L1057.5 546.3L1058.0 544.3L1058.5 542.3L1059.0 539.3L1059.5 536.5L1059.8 535.8L1060.0 535.7L1060.5 534.1L1061.0 534.2L1061.5 533.4L1062.0 532.8L1066.5 531.9L1067.0 533.6L1067.5 534.3L1068.0 536.5L1068.0 538.0L1068.5 536.1L1069.0 537.0L1069.5 534.5L1070.0 533.0L1070.3 532.8L1070.3 532.8L1070.5 533.8L1071.0 536.1L1071.5 537.8L1071.8 538.8L1072.0 540.6L1072.5 543.5L1072.5 543.6L1073.3 540.3L1073.5 541.0L1074.0 541.3L1074.5 541.9L1075.0 543.6L1075.5 544.8L1076.0 544.0L1076.5 542.1L1077.0 540.3L1077.5 539.2L1078.0 538.4L1078.5 537.0L1079.0 535.5L1079.3 534.3L1079.5 533.2L1080.0 535.3L1080.5 533.9L1081.0 532.9L1081.5 532.8L1082.0 534.9L1082.5 538.3L1083.0 540.3L1083.5 541.3L1084.0 541.0L1084.5 542.9L1084.8 544.8L1085.0 543.4L1085.5 537.8L1086.0 534.3L1086.0 544.8L1086.5 541.9L1087.0 537.8L1087.5 533.5L1088.0 533.9L1088.5 533.4L1088.7 532.8L1089.0 537.6L1089.5 547.5L1089.8 553.1L1090.0 552.3L1090.5 552.6L1091.0 551.3L1091.5 551.3L1091.7 550.1L1092.0 546.3L1092.5 542.0L1092.8 539.5L1093.0 539.2L1093.5 536.2L1094.0 534.5L1094.3 532.8L1094.5 534.0L1095.0 536.5L1095.3 538.8L1095.5 541.0L1095.8 544.1L1096.5 543.3L1097.0 545.3L1097.3 546.6L1098.0 559.8L1098.5 564.8L1098.8 566.8L1099.2 570.3L1099.5 571.4L1100.0 573.9L1100.5 575.4L1101.0 577.0L1101.5 577.3L1101.8 577.8L1102.0 577.3L1102.5 575.9L1103.0 577.2L1103.3 576.3L1103.5 577.2L1104.0 579.8L1104.5 582.7L1105.0 585.7L1105.5 588.3L1106.0 583.6L1106.5 577.2L1106.7 574.8L1107.0 571.5L1107.5 567.6L1107.8 564.3L1107.8 576.3L1108.0 574.2L1108.5 570.3L1109.0 572.6L1109.5 574.2L1110.0 574.8L1110.5 577.6L1111.0 580.5L1111.5 584.6L1112.0 581.3L1112.5 578.6L1113.0 576.9L1113.3 574.8L1113.5 572.7L1114.0 567.2L1114.5 562.6L1115.0 557.8L1115.3 555.3L1115.5 554.6L1116.0 551.8L1116.5 550.6L1117.0 548.5L1117.2 547.8L1117.5 549.0L1118.0 551.3L1118.3 552.3L1118.5 554.9L1119.0 560.4L1119.5 566.7L1119.8 570.3L1120.0 569.2L1120.5 566.3L1120.5 566.1L1121.3 541.8L1121.5 541.3L1122.0 540.2L1122.5 537.4L1123.0 536.9L1123.5 536.5L1124.0 537.0L1124.5 535.8L1125.0 535.8L1125.5 538.9L1126.0 539.6L1126.5 541.7L1126.8 543.3L1127.0 544.1L1127.5 544.6L1128.0 544.8L1128.3 546.3L1128.5 545.1L1129.0 541.0L1129.5 536.6L1130.0 534.7L1130.3 532.8L1130.3 562.8L1130.5 561.9L1131.0 558.3L1131.5 556.5L1131.8 555.3L1132.0 554.6L1132.5 553.1L1133.0 549.9L1133.3 547.8L1133.3 545.3L1133.5 543.8L1133.7 543.3L1134.0 541.9L1134.5 539.1L1135.0 536.1L1135.2 534.3L1135.5 534.3L1136.0 533.7L1136.5 533.8L1137.0 532.8L1137.5 533.5L1138.0 534.8L1138.5 535.4L1139.0 534.1L1139.3 534.3L1139.5 534.0L1140.0 533.2L1140.5 533.9L1140.8 532.8L1141.0 531.9L1141.5 533.3L1142.0 533.9L1142.3 534.3L1142.5 535.7L1143.0 539.3L1143.5 542.6L1143.8 544.8L1144.0 543.7L1144.5 542.8L1145.0 538.7L1145.5 535.8L1146.0 532.8L1146.5 534.0L1147.0 535.5L1147.5 534.3L1148.0 540.3L1148.3 544.4L1148.7 550.8L1149.0 552.5L1149.5 556.1L1150.0 559.6L1150.2 561.3L1150.5 561.3L1151.0 559.7L1151.5 560.1L1151.7 559.8L1152.0 556.9L1152.5 554.6L1153.0 550.0L1153.2 547.8L1153.5 545.3L1154.0 541.3L1154.5 536.7L1154.7 534.3L1154.7 538.5L1155.0 535.5L1155.3 532.8L1155.5 533.9L1156.0 537.8L1156.5 540.7L1156.8 543.3L1157.0 544.5L1157.5 547.2L1158.0 548.6L1158.5 545.0L1159.0 543.0L1159.5 540.3L1159.8 538.8L1160.0 539.1L1160.5 540.1L1161.0 540.0L1161.5 541.0L1161.8 541.8L1162.0 541.9L1162.5 540.7L1162.5 540.7L1163.3 544.8L1163.5 546.6L1164.0 551.1L1164.3 553.8L1164.5 551.8L1165.0 547.6L1165.5 541.8L1165.5 539.0L1166.0 537.2L1166.5 535.5L1166.7 533.5L1167.0 535.1L1167.5 537.2L1168.0 541.0L1168.5 544.8L1169.0 548.3L1169.3 549.9L1170.0 541.8L1170.5 538.9L1171.0 538.0L1171.5 537.0L1171.8 534.3L1172.0 533.8L1172.5 533.1L1173.0 533.4L1173.3 532.8L1173.5 534.5L1174.0 538.4L1174.5 544.8L1175.0 550.7L1175.5 560.1L1176.0 568.8L1176.5 568.3L1177.0 567.4L1177.5 565.8L1178.0 559.7L1178.5 555.8L1179.0 549.3L1180.0 531.9L1180.5 536.3L1181.0 541.8L1181.2 543.3L1181.5 544.5L1182.0 548.9L1182.5 552.6L1182.6 554.1L1183.0 557.1L1183.5 557.7L1184.0 558.0L1184.2 558.9L1184.5 558.9L1185.0 556.6L1185.5 557.0L1185.8 556.5L1186.0 555.0L1186.5 550.4L1187.0 546.9L1187.2 545.7L1187.5 543.8L1188.0 541.3L1188.5 538.2L1188.6 537.3L1189.0 535.6L1189.5 535.8L1190.0 534.0L1190.2 533.1L1190.5 534.3L1191.0 536.9L1191.4 540.9L1191.5 540.7L1192.0 536.4L1192.5 533.7L1192.6 533.1L1193.0 533.5L1193.5 531.9L1194.0 533.0L1194.2 533.7L1194.5 537.8L1195.0 541.1L1195.4 543.3L1195.5 544.3L1196.0 548.8L1196.5 552.9L1196.8 555.3L1197.0 555.7L1197.5 557.3L1198.0 560.1L1198.0 560.1L1198.0 560.1L1198.5 556.6L1199.0 552.2L1199.2 550.5L1199.5 551.8L1200.0 553.4L1200.4 554.1L1201.0 563.7L1201.6 585.3L1202.2 604.5L1204.0 604.5L1205.0 597.3L1205.8 609.3L1206.7 618.3L1206.9 618.9L1250.8 618.9L1251.8 615.5L1252.6 612.9L1253.5 617.9L1254.0 619.1L1254.5 619.1L1255.0 620.3L1255.6 630.5L1257.4 630.5L1257.5 630.5L1258.0 627.9L1258.5 627.8L1258.6 627.5L1259.0 626.0L1259.5 625.3L1260.0 622.6L1260.2 622.1L1260.5 623.8L1261.0 627.2L1261.4 628.7L1261.5 628.7L1262.0 628.8L1262.5 627.8L1262.8 627.5L1263.0 626.5L1263.5 623.4L1264.0 621.5L1264.5 619.2L1265.0 617.3L1265.5 616.1L1266.0 618.5L1266.5 618.3L1267.0 617.3L1267.5 620.5L1268.0 625.2L1268.2 627.5L1268.5 628.1L1269.0 627.8L1269.5 624.6L1269.8 625.1L1270.0 626.0L1270.5 627.4L1271.0 629.9L1271.5 633.8L1272.0 637.0L1272.2 638.3L1272.5 638.9L1273.0 637.9L1273.5 637.1L1273.6 637.1L1274.6 641.9L1275.0 640.7L1275.5 637.1L1275.8 635.9L1276.0 633.9L1276.5 628.7L1277.0 624.5L1277.5 629.8L1278.0 634.9L1278.4 637.1L1278.5 636.5L1279.0 634.1L1279.5 633.1L1280.0 630.2L1280.2 628.7L1280.5 628.1L1281.0 628.9L1281.5 626.6L1282.0 625.1L1282.5 624.7L1283.0 623.2L1283.5 621.5L1284.0 619.7L1284.5 617.4L1285.0 618.5L1285.9 616.7L1286.0 616.6L1286.5 618.8L1287.0 621.5L1287.1 621.5L1288.0 626.3L1289.0 637.1L1289.5 636.2L1290.0 636.9L1290.4 638.3L1290.5 638.3L1291.0 636.1L1291.5 634.2L1291.6 634.1L1292.0 637.1L1292.5 638.2L1292.8 638.3L1293.0 637.1L1293.5 635.7L1294.0 633.5L1294.5 635.6L1295.0 637.4L1295.2 637.7L1295.5 636.2L1296.0 633.5L1296.4 632.3L1296.5 632.1L1297.0 631.8L1297.5 631.5L1297.6 631.1L1298.0 631.1L1298.5 632.9L1299.0 633.3L1299.4 632.9L1299.5 633.1L1300.0 634.4L1300.5 635.9L1300.6 635.9L1301.0 637.1L1301.5 639.4L1301.8 641.9L1302.0 642.7L1302.5 646.6L1303.0 648.5L1303.5 649.2L1304.0 648.9L1304.2 649.1L1304.8 651.9L1324.0 651.9" stroke="#2297E6" stroke-width="1.50"/>
<path d="M75.7 531.9L76.0 533.4L76.5 535.7L77.0 536.9L77.5 538.0L78.0 538.3L78.2 538.8L78.5 541.2L79.0 542.4L79.5 548.1L79.8 551.6L80.0 555.8L80.5 561.2L80.8 565.5L81.0 564.2L81.5 561.1L82.0 557.3L82.3 555.3L82.5 554.8L83.0 554.3L83.5 553.7L84.0 552.5L84.2 551.6L84.2 551.6L84.5 549.0L85.0 544.5L85.5 539.8L85.8 536.5L86.0 536.1L86.5 536.1L87.0 537.5L87.2 538.0L87.5 537.1L88.0 536.0L88.5 533.6L88.8 532.8L89.0 533.3L89.5 534.0L90.0 533.8L90.3 534.3L90.5 537.4L91.0 543.4L91.5 551.1L92.0 557.2L92.2 559.8L92.5 558.8L93.0 555.7L93.5 555.1L94.0 552.3L94.5 548.4L95.0 545.1L95.5 542.4L96.0 537.8L96.5 534.7L97.0 534.3L97.5 536.5L98.0 539.6L98.5 540.4L99.0 543.1L99.3 544.8L99.5 543.0L100.0 539.5L100.5 534.0L100.8 532.8L101.0 535.3L101.5 539.6L102.0 542.8L102.3 544.8L102.5 543.4L103.0 541.1L103.5 538.0L103.8 535.8L104.0 539.5L104.5 548.4L104.8 554.5L104.8 579.3L105.0 581.2L105.5 586.5L106.0 591.3L106.5 588.3L107.0 584.8L107.5 580.8L108.0 579.7L108.5 581.0L109.0 581.7L109.3 581.6L109.5 583.7L110.0 590.5L110.5 596.1L110.8 600.3L122.5 600.3L123.0 600.4L123.5 601.4L124.0 602.1L124.5 603.5L125.0 602.0L125.5 602.1L126.0 602.2L126.5 601.9L127.0 602.3L127.5 601.3L128.0 600.8L128.5 601.5L129.0 602.4L129.5 604.7L130.0 606.5L130.5 603.9L131.0 603.1L131.5 602.6L132.0 601.0L132.5 599.3L133.0 598.2L133.5 597.4L133.8 597.3L134.0 598.7L134.5 601.5L135.0 604.0L135.3 604.8L135.5 603.4L136.0 600.0L136.5 597.3L137.0 594.6L137.5 592.5L138.0 590.8L138.3 589.8L138.5 591.9L139.0 596.8L139.5 600.7L140.0 603.4L140.5 608.6L141.0 606.6L141.5 606.3L142.0 607.1L142.5 604.0L143.0 602.2L143.5 599.4L144.0 595.2L144.3 594.3L144.5 594.3L145.0 594.7L145.5 594.2L146.0 592.8L146.5 592.1L147.0 591.9L147.5 591.4L148.0 590.1L148.5 590.4L149.0 589.6L149.5 590.6L150.0 589.6L150.5 587.5L151.0 586.9L151.5 586.3L151.8 585.3L152.0 584.4L152.5 584.2L153.0 583.3L153.5 584.5L154.0 583.1L154.5 578.9L155.0 576.2L155.5 572.3L156.0 570.6L156.3 568.8L156.5 567.6L157.0 562.3L157.5 560.7L158.0 558.0L158.5 555.3L159.0 551.7L159.5 545.5L160.0 541.8L160.0 541.8L160.5 542.2L161.0 543.5L161.5 543.8L162.0 545.3L162.3 545.6L162.5 546.2L163.0 548.4L163.5 551.1L163.8 552.3L164.0 551.7L164.5 549.2L165.0 548.8L165.5 547.9L166.0 547.8L166.5 549.6L167.0 550.8L167.5 553.8L168.0 556.1L168.5 558.8L169.0 560.5L169.3 561.3L169.5 558.7L169.8 556.1L170.5 534.3L171.0 536.6L171.5 538.5L172.0 540.3L172.5 541.8L173.0 543.8L173.5 546.3L173.5 551.7L174.0 550.3L174.3 549.3L175.0 565.1L175.8 565.1L176.5 555.3L177.0 557.3L177.5 560.3L178.0 561.3L178.5 563.9L179.0 565.0L179.2 565.8L179.2 558.2L179.5 554.2L180.0 544.6L180.3 540.3L180.5 539.2L181.0 537.7L181.5 534.6L181.8 532.8L182.0 533.7L182.5 536.5L183.0 538.4L183.5 540.4L184.0 543.3L184.5 546.6L185.0 549.0L185.5 551.6L186.0 548.2L186.5 543.1L187.0 541.3L187.5 536.9L187.8 534.3L188.0 534.0L188.5 533.8L189.0 533.6L189.5 531.9L190.0 533.5L190.5 543.7L191.0 555.8L191.2 560.6L191.5 555.3L192.0 545.3L192.3 538.8L192.5 537.5L193.0 536.4L193.5 535.9L194.0 534.2L194.5 532.8L195.0 534.6L195.5 536.3L196.0 539.2L196.5 540.7L196.8 540.3L197.0 538.1L197.5 537.7L198.0 534.7L198.3 532.8L198.5 531.9L199.0 533.5L199.5 535.5L200.0 536.5L200.5 536.5L201.0 538.1L201.5 541.7L202.0 544.8L202.0 544.8L202.0 544.8L202.5 549.0L203.0 553.6L203.5 558.9L204.0 561.3L204.0 561.4L204.0 561.3L204.5 579.5L205.0 596.4L205.5 613.8L208.8 613.8L209.0 612.9L209.5 609.5L210.0 605.7L210.5 603.1L211.0 600.3L211.5 601.3L212.0 602.5L212.5 604.8L213.0 599.4L213.5 595.2L214.0 590.6L214.3 586.8L214.5 588.2L215.0 593.2L215.5 598.8L216.0 601.9L216.3 604.8L216.5 605.6L217.0 606.3L217.5 607.8L217.8 608.6L223.0 608.6L223.5 604.4L224.0 602.1L224.5 595.8L225.0 594.7L225.5 594.0L226.0 592.6L226.5 592.5L226.8 591.3L227.0 590.1L227.5 588.7L228.0 587.5L228.5 585.8L229.0 583.8L229.5 582.4L230.0 582.3L230.5 580.8L231.0 582.7L231.5 584.0L232.0 586.7L232.5 587.1L232.8 588.3L233.0 587.1L233.5 582.8L234.0 580.1L234.5 579.2L235.0 576.3L235.5 578.8L236.0 582.2L236.5 583.3L237.0 585.5L237.3 585.3L237.5 581.9L238.0 576.2L238.5 571.8L238.8 568.8L239.0 568.0L239.5 566.2L240.0 563.6L240.5 561.5L241.0 560.0L241.5 557.0L241.8 555.3L242.5 546.3L243.0 550.8L243.5 555.6L244.0 558.7L244.5 563.3L244.8 565.8L244.8 564.3L245.0 562.7L245.5 556.8L246.0 553.7L246.5 548.7L247.0 544.8L247.5 548.6L248.0 550.7L248.5 553.3L248.5 553.4L249.3 534.3L249.5 535.6L250.0 538.7L250.5 541.4L250.8 543.3L251.0 541.9L251.5 538.5L252.0 534.6L252.3 532.8L252.3 544.1L252.5 545.3L253.0 547.8L253.5 551.8L253.8 553.8L254.0 552.2L254.5 549.4L255.0 545.7L255.5 541.8L256.1 536.5L256.5 535.6L257.0 535.0L257.5 535.0L258.0 534.3L258.5 533.2L259.1 532.8L260.0 532.8L260.5 533.7L261.0 534.2L261.5 534.9L262.0 533.8L262.5 533.3L263.0 534.3L263.5 535.8L264.0 537.1L264.5 539.8L265.0 541.6L265.5 542.7L266.0 544.8L266.5 542.6L267.0 542.4L267.5 540.2L267.5 540.2L268.2 547.8L268.5 548.5L269.0 550.3L269.5 552.0L269.8 553.8L270.0 552.0L270.5 547.3L270.8 544.8L270.8 537.4L271.0 536.0L271.5 534.9L272.0 533.5L272.5 534.8L273.0 534.7L273.5 536.2L274.0 536.5L274.2 536.5L274.5 540.5L275.0 546.4L275.5 556.1L275.8 559.1L276.0 555.3L276.5 550.6L277.0 544.0L277.5 539.6L277.7 536.5L278.0 536.2L278.5 539.3L279.0 540.0L279.5 540.3L280.0 547.5L280.5 553.5L281.0 559.1L281.5 559.0L282.0 557.3L282.5 554.6L283.0 552.6L283.3 552.3L283.5 551.0L284.0 545.3L284.5 543.3L285.0 539.3L285.5 535.8L286.0 534.6L286.5 533.0L287.0 531.9L287.5 532.8L287.8 532.8L288.0 533.6L288.5 536.4L289.0 537.0L289.3 538.0L289.5 538.1L290.0 537.3L290.5 536.9L291.0 536.6L291.5 536.5L292.0 537.5L292.5 537.1L293.0 540.4L293.5 541.4L293.8 542.5L293.8 540.3L294.0 543.4L294.5 548.8L295.0 553.5L295.5 558.9L295.7 561.0L295.7 561.0L296.0 583.8L296.5 583.4L297.0 580.6L297.5 577.8L298.0 580.1L298.5 581.0L299.0 582.2L299.3 583.1L299.5 581.8L300.0 578.5L300.5 575.6L301.0 571.1L301.3 568.8L301.5 569.1L302.0 570.4L302.5 572.1L303.0 571.9L303.5 573.3L304.0 567.1L304.5 561.8L305.0 555.3L305.5 554.3L306.0 551.1L306.5 547.8L307.0 544.7L307.5 540.9L308.0 537.3L308.0 537.3L308.5 532.8L309.0 531.9L309.5 532.8L310.0 539.5L310.5 545.8L311.0 553.5L311.3 557.6L311.5 557.1L312.0 555.0L312.5 551.3L313.0 550.0L313.3 549.3L313.5 547.6L314.0 544.7L314.5 539.5L315.0 536.3L315.5 533.5L316.0 535.0L316.5 535.9L317.0 535.0L317.5 534.0L317.8 534.3L318.0 535.5L318.5 539.2L319.0 541.0L319.5 543.5L320.0 545.6L320.5 546.7L321.0 547.3L321.5 551.0L321.5 551.0L322.3 547.8L322.5 548.8L323.0 550.2L323.5 551.6L324.0 552.1L324.5 553.9L325.0 555.2L325.5 557.0L325.7 557.6L326.0 556.5L326.5 554.3L327.0 553.7L327.5 553.3L328.0 552.9L328.3 552.3L328.3 553.1L328.5 551.0L329.0 547.1L329.5 543.7L329.8 541.8L330.0 540.6L330.5 538.0L331.0 535.0L331.3 532.8L335.0 532.8L335.5 533.5L336.0 535.7L336.5 538.0L337.0 536.9L337.5 534.5L338.0 532.8L338.5 531.9L339.0 531.9L339.5 533.1L340.0 533.3L340.5 534.6L341.0 534.7L341.5 533.4L341.8 533.5L342.0 533.8L342.5 533.7L343.0 534.9L343.5 536.9L344.0 537.3L344.5 536.8L345.0 535.2L345.5 534.3L346.0 534.6L346.3 532.8L346.5 531.9L347.0 531.9L347.5 534.8L348.0 535.2L348.5 535.0L349.0 537.3L349.5 539.0L350.0 540.3L350.5 539.5L351.0 537.5L351.5 537.4L351.8 536.5L352.0 538.0L352.5 541.8L353.0 543.0L353.5 546.2L353.8 547.8L353.8 547.8L353.8 547.8L354.5 576.3L354.5 576.3L354.5 576.3L355.3 591.3L356.0 604.1L356.5 593.7L357.0 584.4L357.5 573.8L357.8 567.3L358.0 568.9L358.5 573.4L359.0 578.6L359.5 582.5L359.8 584.6L360.0 583.9L360.5 582.2L361.0 579.7L361.5 579.4L362.0 577.1L362.5 576.9L363.0 576.9L363.5 574.8L364.0 579.2L364.5 582.6L365.0 585.3L365.5 589.3L366.0 591.7L366.5 595.2L366.8 597.3L367.0 596.4L367.5 595.5L368.0 593.3L368.3 592.1L368.5 593.6L369.0 596.8L369.5 599.3L370.0 603.5L370.3 606.3L375.5 606.3L376.0 603.1L376.5 600.5L377.0 597.3L377.5 595.7L378.0 593.3L378.5 591.3L379.0 588.9L379.5 586.8L380.0 585.3L380.3 584.6L380.5 585.1L381.0 587.4L381.5 589.6L382.0 590.4L382.3 591.3L382.5 591.3L383.0 590.3L383.5 591.7L383.8 592.1L384.0 593.4L384.5 594.1L384.8 595.5L449.9 595.5L450.0 595.5L487.5 595.5L488.0 592.3L488.5 589.9L489.0 589.0L489.3 588.3L489.5 589.8L490.0 592.7L490.5 595.3L490.8 597.3L491.0 597.6L491.5 598.4L492.0 598.0L492.5 598.3L492.8 598.8L493.5 602.9L515.3 602.9L516.0 610.1L519.9 610.1L520.0 609.8L534.2 609.8L535.0 608.3L535.5 615.2L536.0 620.7L536.2 623.3L536.5 629.6L537.0 639.4L537.2 644.3L538.0 659.3L538.5 657.4L539.0 655.9L539.5 654.1L540.0 651.3L540.3 650.3L540.5 650.2L541.0 649.2L541.5 648.5L542.0 648.6L542.5 647.3L543.0 651.0L543.5 654.3L544.0 656.3L544.5 658.0L545.0 661.7L545.5 665.3L546.0 657.3L546.5 649.4L546.7 645.8L547.0 647.3L547.5 649.7L548.0 650.9L548.5 653.3L549.0 650.8L549.5 647.5L550.0 642.8L550.5 639.9L551.0 638.1L551.5 635.2L552.0 632.9L552.3 630.8L552.5 631.5L553.0 632.8L553.5 633.8L553.8 635.3L554.0 633.8L554.5 629.4L555.0 624.2L555.3 622.6L555.5 626.6L556.0 634.0L556.5 641.5L556.8 645.8L557.0 647.1L557.5 649.9L558.0 651.9L558.3 653.3L558.5 654.4L559.0 655.2L559.5 658.6L559.8 659.3L560.0 658.3L560.5 656.6L561.0 651.1L561.3 650.3L561.5 650.6L562.0 650.3L562.5 650.1L563.0 650.0L563.5 648.8L564.0 651.6L564.5 653.6L565.0 654.8L565.5 653.3L566.0 653.7L566.5 652.3L567.0 649.7L567.3 649.6L567.5 649.9L568.0 651.0L568.5 651.3L569.0 651.3L569.5 651.1L570.0 650.5L570.5 649.6L571.0 649.9L571.5 650.5L571.8 649.6L572.0 649.7L572.5 652.2L573.0 654.6L573.3 656.3L573.5 658.1L574.0 662.5L574.3 663.8L586.8 663.8L587.0 661.4L587.5 657.4L588.0 653.3L588.3 651.8L588.5 651.9L589.0 651.8L589.5 650.6L589.8 650.3L590.0 647.6L590.5 642.3L591.0 636.4L591.3 632.3L591.5 630.8L592.0 628.9L592.5 628.0L593.0 624.7L593.5 622.6L594.0 625.7L594.5 629.2L595.0 632.3L595.5 632.7L596.0 632.6L596.5 633.8L597.0 631.2L597.5 629.4L598.0 627.8L598.5 631.4L599.0 633.4L599.5 635.3L600.0 636.3L600.5 636.6L601.0 638.4L601.5 637.8L601.8 638.3L602.0 637.9L602.5 636.8L603.0 634.0L603.5 631.7L604.0 628.3L604.5 627.0L604.8 626.3L605.0 625.5L605.5 623.1L606.0 622.2L606.5 620.6L606.7 620.3L607.0 624.9L607.5 633.1L607.8 638.3L608.0 641.0L608.5 643.3L609.0 647.4L609.3 650.3L609.5 654.0L610.0 660.4L610.3 664.6L640.0 664.6L640.5 661.8L641.0 658.6L641.5 657.8L642.0 656.5L642.5 653.7L643.0 650.9L643.5 650.5L643.8 648.8L644.0 645.7L644.5 637.9L645.0 631.1L645.3 627.8L647.5 613.8L648.0 616.3L648.5 616.4L649.0 619.8L649.5 620.4L650.0 621.7L650.5 622.8L651.0 619.7L651.5 618.2L652.0 618.3L652.5 619.9L653.0 621.9L653.5 623.7L654.0 623.8L654.2 624.3L654.5 622.0L655.0 616.6L655.5 611.3L655.8 609.3L656.0 608.0L656.5 604.2L657.0 599.4L657.2 597.3L657.5 598.7L658.0 602.0L658.3 603.3L658.5 599.5L659.0 590.5L659.5 582.3L660.0 573.4L660.5 564.4L661.0 555.3L661.5 552.6L662.0 548.8L662.5 545.7L663.0 540.8L663.3 538.8L663.5 537.7L664.0 534.3L664.5 533.9L664.8 532.8L664.8 531.9L666.3 531.9L666.5 533.0L667.0 535.4L667.5 536.2L667.8 536.5L668.8 550.8L669.0 551.5L669.5 553.5L670.0 555.0L670.5 557.9L670.8 559.1L671.0 556.1L671.5 549.4L672.0 542.7L672.3 540.3L672.3 556.8L672.5 555.4L673.0 549.9L673.5 545.0L673.8 543.3L674.0 541.5L674.5 536.2L674.8 532.8L675.0 534.1L675.5 540.6L676.0 544.8L676.5 550.3L676.8 554.4L677.5 552.3L678.0 549.1L678.5 549.1L679.0 549.0L679.5 548.7L679.8 547.8L680.0 546.0L680.5 543.4L681.0 539.8L681.3 539.5L681.5 542.0L682.0 543.6L682.5 547.7L682.8 549.3L683.0 550.2L683.5 552.7L684.0 554.3L684.3 555.3L684.5 553.6L685.0 550.3L685.5 546.0L686.0 541.8L686.5 538.7L687.0 535.7L687.3 534.3L687.5 535.6L688.0 537.3L688.5 540.0L689.0 540.6L689.5 544.8L690.0 543.5L690.5 541.2L691.0 539.8L691.5 538.3L691.8 537.3L692.0 536.8L692.5 536.0L693.0 534.5L693.5 534.5L694.0 532.8L694.0 539.0L694.3 532.8L700.0 531.9L700.5 533.6L701.0 534.1L701.5 535.8L702.0 534.9L702.5 534.9L703.0 531.9L703.5 531.9L704.0 531.9L704.5 533.7L704.8 533.5L705.0 535.0L705.5 540.4L706.0 546.0L706.5 550.2L706.8 553.1L707.0 551.2L707.5 545.6L708.0 542.5L708.3 540.3L708.5 540.9L709.0 541.9L709.5 542.0L709.8 541.8L710.0 539.6L710.5 536.8L711.0 534.7L711.3 532.8L714.3 532.8L714.5 534.2L715.0 537.1L715.5 541.6L715.8 543.3L716.0 541.9L716.5 541.3L717.0 537.8L717.3 536.5L717.5 537.1L718.0 539.2L718.5 539.4L718.8 540.3L719.0 540.5L719.5 539.2L720.0 535.8L720.5 535.1L721.0 533.5L721.5 534.0L722.0 533.0L722.5 531.9L723.0 531.9L723.5 531.9L724.0 532.8L724.5 534.5L725.0 535.3L725.5 536.0L725.8 535.8L726.0 536.8L726.5 540.5L727.0 543.5L727.3 545.6L727.5 544.3L728.0 540.0L728.5 537.1L729.0 535.3L729.3 533.5L729.5 533.4L730.0 531.9L730.5 531.9L731.0 532.9L731.5 531.9L734.5 532.8L735.0 537.9L735.5 543.2L736.0 550.1L736.5 550.1L736.8 550.8L737.5 552.3L738.0 559.8L738.5 567.4L738.7 571.1L739.0 570.0L739.5 567.2L740.0 564.8L740.5 563.2L741.0 560.6L741.3 559.8L741.5 558.9L742.0 555.9L742.5 554.3L742.8 552.3L742.8 552.3L743.0 555.9L743.5 564.4L743.8 569.6L744.3 569.6L745.0 571.8L745.5 572.4L746.0 572.5L746.5 570.5L747.0 570.4L747.3 570.3L747.5 567.9L748.0 562.7L748.5 556.4L748.8 552.3L749.0 549.9L749.5 545.5L750.0 541.5L750.3 538.8L750.5 539.1L751.0 540.9L751.5 542.2L751.8 543.3L752.0 541.9L752.5 537.8L753.0 535.3L753.3 532.8L753.3 540.0L753.5 538.4L753.7 537.3L754.0 539.9L754.5 544.8L755.0 548.2L755.5 553.1L756.0 550.4L756.5 548.5L757.0 544.8L757.5 540.2L758.0 536.0L758.5 532.8L758.5 531.9L759.3 531.9L759.5 533.6L760.0 536.8L760.5 538.5L760.8 539.5L761.0 538.6L761.5 536.7L762.0 534.8L762.3 534.3L762.5 534.6L763.0 533.7L763.5 534.1L764.0 536.1L764.5 536.5L765.0 534.6L765.5 534.4L766.0 532.8L766.5 535.3L767.0 536.3L767.5 540.3L768.0 538.1L768.5 537.6L769.0 534.9L769.3 534.3L769.5 534.3L770.0 535.1L770.5 534.0L771.0 534.1L771.5 534.7L772.0 533.5L772.5 533.0L773.0 533.2L773.5 533.0L774.0 533.1L774.5 532.8L775.0 531.9L775.5 533.2L775.8 532.8L776.0 533.4L776.5 535.2L777.0 538.2L777.3 538.8L777.5 539.2L778.0 542.0L778.5 543.0L779.0 544.3L779.5 544.8L780.0 544.7L780.3 546.7L781.0 537.3L781.5 538.3L782.0 539.4L782.5 539.6L782.8 540.3L783.0 542.1L783.5 546.9L784.0 551.8L784.5 556.2L784.8 560.6L785.0 560.0L785.5 557.8L785.5 557.6L786.3 561.3L786.5 563.0L787.0 567.5L787.5 572.7L788.0 576.0L788.2 578.6L788.5 576.3L789.0 572.2L789.5 566.5L790.0 561.3L790.0 561.3L790.5 554.1L791.0 547.0L791.5 540.3L792.0 537.0L792.5 534.7L792.7 531.9L792.7 531.9L805.0 531.9L805.5 538.5L806.0 544.4L806.2 547.8L806.5 549.3L807.0 550.7L807.3 552.0L807.7 553.8L808.0 557.9L808.5 567.5L809.0 576.6L809.2 580.8L809.5 579.6L810.0 577.0L810.5 573.6L811.0 570.3L811.5 571.3L812.0 571.8L812.5 572.6L813.0 572.7L813.3 571.8L813.5 569.0L814.0 564.5L814.5 559.0L815.0 554.1L815.2 551.6L815.5 552.0L816.0 554.6L816.5 554.5L817.0 555.3L817.5 556.0L818.0 553.8L818.5 552.3L819.0 548.2L819.5 543.3L820.0 537.3L820.5 538.4L821.0 541.8L821.5 544.0L822.0 544.6L822.3 545.6L822.5 544.1L823.0 540.7L823.5 536.5L823.8 534.3L824.0 534.4L824.5 533.3L824.9 532.8L824.9 532.8L825.0 531.9L825.5 531.9L826.0 533.5L826.5 539.5L827.0 544.8L827.5 552.2L827.5 552.8L827.9 555.3L828.0 554.4L828.5 552.7L829.0 550.5L829.4 547.8L829.5 546.7L830.0 542.2L830.5 537.7L831.0 535.4L831.3 534.3L831.3 543.0L831.5 541.8L832.0 539.7L832.5 538.2L833.0 537.4L833.5 535.4L833.8 533.5L834.0 531.9L834.5 531.9L835.0 531.9L835.5 531.9L836.0 531.9L838.7 532.8L839.0 538.3L839.5 549.5L839.8 553.8L840.0 553.7L840.5 554.2L840.5 554.2L841.2 553.1L841.5 551.8L842.0 549.4L842.5 548.6L843.0 545.9L843.5 543.3L844.0 545.1L844.5 547.7L845.0 551.6L845.5 548.0L846.0 543.8L846.2 541.8L846.5 545.3L847.0 550.1L847.5 557.5L847.7 559.8L848.0 561.4L848.5 565.7L848.8 566.7L849.2 555.3L849.5 563.7L850.0 576.4L850.3 582.3L851.0 596.6L863.0 596.6L863.5 588.5L864.0 580.9L864.2 577.8L864.5 577.7L865.0 577.0L865.5 575.9L866.0 574.7L866.5 573.3L866.8 573.3L867.0 573.2L867.5 573.1L868.0 571.7L868.5 571.4L869.0 569.3L869.3 568.1L869.5 568.6L870.0 571.8L870.5 574.9L871.0 578.4L871.3 579.3L871.5 581.4L872.0 585.8L872.5 591.5L872.8 594.3L892.3 594.3L892.5 594.6L893.0 594.0L893.5 595.3L893.8 595.8L894.0 595.2L894.5 593.0L895.0 592.2L895.5 589.8L896.0 588.3L896.5 586.5L897.0 583.0L897.5 580.2L898.0 576.4L898.3 574.1L898.5 572.7L899.0 573.5L899.5 572.8L899.8 571.8L900.0 572.4L900.5 575.7L901.0 578.0L901.5 580.0L902.0 583.1L902.5 582.2L903.0 578.1L903.5 573.3L904.0 570.3L904.5 567.1L905.0 563.2L905.5 561.3L905.8 561.3L906.0 563.3L906.5 563.9L907.0 564.3L907.5 564.0L907.7 564.3L908.0 563.2L908.5 559.9L909.0 559.3L909.5 557.6L910.0 554.8L910.5 552.0L911.0 548.4L911.5 545.0L911.8 543.3L912.0 542.0L912.5 541.3L913.0 539.5L913.5 538.0L914.0 535.8L914.5 535.5L915.0 536.2L915.5 536.6L916.0 534.9L916.3 534.3L916.3 531.9L918.5 531.9L919.0 534.7L919.5 537.8L919.7 539.5L920.0 537.8L920.5 535.4L920.8 534.3L921.0 539.4L921.5 548.8L921.5 549.3L921.8 556.1L922.0 556.1L922.5 554.8L923.0 554.9L923.5 553.6L923.8 552.3L924.0 548.9L924.5 543.3L925.0 537.1L925.3 534.3L925.5 535.3L926.0 534.8L926.5 534.3L926.8 535.8L927.0 538.2L927.5 539.8L928.0 543.3L928.3 544.8L928.5 543.6L929.0 542.5L929.5 540.5L930.0 538.0L930.2 537.3L930.5 537.4L931.0 536.8L931.5 535.8L932.0 535.7L932.5 535.0L933.0 532.8L933.5 532.8L933.5 547.8L934.0 547.4L934.5 546.4L935.0 544.8L935.5 541.7L936.0 537.0L936.5 532.8L937.0 534.8L937.5 536.8L938.0 539.5L938.3 540.3L938.5 540.4L939.0 541.1L939.5 541.9L939.5 542.0L940.3 543.3L940.5 544.8L941.0 550.0L941.5 552.0L941.8 554.6L942.0 553.6L942.5 550.7L943.0 548.3L943.5 543.9L943.7 543.3L944.0 543.0L944.5 541.5L945.0 538.6L945.5 535.8L946.0 536.3L946.5 538.0L947.0 538.4L947.5 539.3L947.8 539.5L948.0 538.2L948.5 536.4L949.0 533.8L949.5 533.6L949.7 532.8L949.7 532.8L950.0 532.8L950.8 534.3L951.5 570.3L952.0 561.8L952.5 551.1L953.0 540.3L957.5 540.3L958.0 538.1L958.5 535.7L958.7 534.3L959.0 535.3L959.5 536.3L960.0 535.7L960.5 537.3L961.0 538.5L961.5 540.2L962.0 542.0L962.3 542.5L963.2 567.3L971.0 567.3L971.5 571.1L972.0 574.7L972.2 577.1L981.5 577.1L982.0 576.2L982.5 578.6L983.0 576.1L983.5 574.4L984.0 574.5L984.5 576.3L985.0 576.0L985.5 576.6L986.0 576.4L986.5 577.5L987.0 577.0L987.5 577.8L991.3 577.8L991.5 575.7L992.0 572.2L992.5 568.9L992.8 567.3L993.0 566.1L993.5 560.7L994.0 559.9L994.3 557.6L994.5 557.5L995.0 559.4L995.5 559.4L996.0 558.2L996.5 559.8L997.0 561.2L997.5 564.2L998.0 567.3L998.5 565.2L999.0 565.2L999.5 564.3L1000.0 560.7L1000.5 555.6L1001.0 552.3L1001.5 550.2L1002.0 545.8L1002.5 544.2L1003.0 541.5L1003.3 540.3L1003.5 539.8L1004.0 538.0L1004.5 537.4L1005.0 537.0L1005.2 535.8L1005.5 534.7L1006.0 533.4L1006.3 532.8L1006.3 533.6L1006.5 533.8L1007.0 535.0L1007.5 535.4L1008.0 535.8L1008.5 534.4L1009.0 533.5L1009.3 532.8L1009.5 532.9L1010.0 533.5L1010.5 534.2L1011.0 533.7L1011.5 534.3L1012.0 537.2L1012.3 540.1L1013.0 544.0L1013.5 544.4L1014.0 541.2L1014.5 539.7L1015.0 538.3L1015.3 537.3L1015.5 536.5L1016.0 534.4L1016.5 533.8L1016.8 532.8L1016.8 537.3L1017.0 536.6L1017.5 536.8L1018.0 533.8L1018.5 534.8L1019.0 532.8L1020.0 532.8L1020.5 535.8L1021.0 538.7L1021.5 541.9L1021.8 544.0L1022.0 544.3L1022.5 545.5L1023.0 545.6L1023.5 545.2L1023.8 545.6L1024.0 544.0L1024.5 540.4L1025.0 536.1L1025.2 534.3L1025.5 534.0L1026.0 533.5L1026.5 533.1L1027.0 533.3L1027.2 533.5L1027.5 536.5L1028.0 541.1L1028.5 543.2L1028.7 544.8L1029.0 545.7L1029.5 546.8L1030.0 548.1L1030.2 549.3L1030.5 548.4L1031.0 547.1L1031.5 545.4L1032.0 543.3L1032.5 540.3L1033.0 536.7L1033.5 535.0L1034.0 533.7L1034.5 533.7L1035.0 531.9L1038.8 532.8L1039.0 533.9L1039.5 537.2L1040.0 540.3L1040.3 541.0L1040.5 540.1L1041.0 537.4L1041.5 536.0L1041.8 535.8L1042.0 536.8L1042.5 539.1L1043.0 540.1L1043.3 540.3L1043.5 539.9L1044.0 540.1L1044.5 540.4L1044.8 541.8L1045.0 542.2L1045.5 540.5L1046.0 538.0L1046.5 536.3L1046.7 535.8L1047.0 539.0L1047.5 544.4L1048.0 550.7L1048.2 553.1L1048.5 552.2L1049.0 549.7L1049.5 545.4L1050.0 543.3L1050.5 538.7L1051.0 536.7L1051.5 532.8L1052.0 540.8L1052.3 544.7L1053.0 554.5L1053.8 554.6L1054.0 554.6L1054.5 553.8L1055.0 553.2L1055.3 552.3L1055.5 551.6L1056.0 549.3L1056.5 547.8L1057.0 546.4L1057.5 546.3L1058.0 544.3L1058.5 542.3L1059.0 539.3L1059.5 536.5L1059.8 535.8L1060.0 535.7L1060.5 534.1L1061.0 534.2L1061.5 533.4L1062.0 532.8L1066.5 531.9L1067.0 533.6L1067.5 534.3L1068.0 536.5L1068.0 538.0L1068.5 536.1L1069.0 537.0L1069.5 534.5L1070.0 533.0L1070.3 532.8L1070.3 532.8L1070.5 533.8L1071.0 536.1L1071.5 537.8L1071.8 538.8L1072.0 540.6L1072.5 543.5L1072.5 543.6L1073.3 540.3L1073.5 541.0L1074.0 541.3L1074.5 541.9L1075.0 543.6L1075.5 544.8L1076.0 544.0L1076.5 542.1L1077.0 540.3L1077.5 539.2L1078.0 538.4L1078.5 537.0L1079.0 535.5L1079.3 534.3L1079.5 533.2L1080.0 535.3L1080.5 533.9L1081.0 532.9L1081.5 532.8L1082.0 534.9L1082.5 538.3L1083.0 540.3L1083.5 541.3L1084.0 541.0L1084.5 542.9L1084.8 544.8L1085.0 543.4L1085.5 537.8L1086.0 534.3L1086.0 544.8L1086.5 541.9L1087.0 537.8L1087.5 533.5L1088.0 533.9L1088.5 533.4L1088.7 532.8L1089.0 537.6L1089.5 547.5L1089.8 553.1L1090.0 552.3L1090.5 552.6L1091.0 551.3L1091.5 551.3L1091.7 550.1L1092.0 546.3L1092.5 542.0L1092.8 539.5L1093.0 539.2L1093.5 536.2L1094.0 534.5L1094.3 532.8L1094.5 534.0L1095.0 536.5L1095.3 538.8L1095.5 541.0L1095.8 544.1L1096.5 543.3L1097.0 545.3L1097.3 546.6L1098.0 559.8L1098.5 564.8L1099.0 568.6L1099.2 570.3L1099.5 574.2L1100.0 581.8L1100.5 588.4L1100.7 591.3L1106.3 591.3L1107.0 580.8L1107.5 578.7L1108.0 574.2L1108.5 570.3L1109.0 572.6L1109.5 574.2L1110.0 574.8L1110.5 577.6L1111.0 580.5L1111.5 584.6L1112.0 581.3L1112.5 578.6L1113.0 576.9L1113.3 574.8L1113.5 572.7L1114.0 567.2L1114.5 562.6L1115.0 557.8L1115.3 555.3L1115.5 554.6L1116.0 551.8L1116.5 550.6L1117.0 548.5L1117.2 547.8L1117.5 549.0L1118.0 551.3L1118.3 552.3L1118.5 554.9L1119.0 560.4L1119.5 566.7L1119.8 570.3L1120.0 569.2L1120.5 566.3L1121.0 563.5L1121.5 560.4L1122.0 556.8L1122.5 554.5L1123.0 554.4L1123.5 554.4L1124.0 554.6L1124.3 553.8L1124.5 553.8L1125.0 555.0L1125.5 556.9L1126.0 556.1L1126.5 556.8L1127.0 559.9L1127.5 561.4L1128.0 562.8L1128.9 580.1L1129.0 579.0L1129.5 571.5L1130.0 566.5L1130.3 562.8L1130.5 561.9L1131.0 558.3L1131.5 556.5L1131.8 555.3L1132.0 554.6L1132.5 553.1L1133.0 549.9L1133.3 547.8L1133.3 545.3L1133.5 543.8L1133.7 543.3L1134.0 541.9L1134.5 539.1L1135.0 536.1L1135.2 534.3L1135.5 534.3L1136.0 533.7L1136.5 533.8L1137.0 532.8L1137.5 533.5L1138.0 534.8L1138.5 535.4L1139.0 534.1L1139.3 534.3L1139.5 534.0L1140.0 533.2L1140.5 533.9L1140.8 532.8L1141.0 531.9L1141.5 533.3L1142.0 533.9L1142.3 534.3L1142.5 535.7L1143.0 539.3L1143.5 542.6L1143.8 544.8L1144.0 543.7L1144.5 542.8L1145.0 538.7L1145.5 535.8L1146.0 532.8L1146.5 534.0L1147.0 535.5L1147.5 534.3L1148.0 540.3L1148.3 544.4L1148.7 550.8L1149.0 552.5L1149.5 556.1L1150.0 559.6L1150.2 561.3L1150.5 561.3L1151.0 559.7L1151.5 560.1L1151.7 559.8L1152.0 556.9L1152.5 554.6L1153.0 550.0L1153.2 547.8L1153.5 545.3L1154.0 541.3L1154.5 536.7L1154.7 534.3L1154.7 538.5L1155.0 535.5L1155.3 532.8L1155.5 533.9L1156.0 537.8L1156.5 540.7L1156.8 543.3L1157.0 544.5L1157.5 547.2L1158.0 548.6L1158.5 545.0L1159.0 543.0L1159.5 540.3L1159.8 538.8L1160.0 539.1L1160.5 540.1L1161.0 540.0L1161.5 541.0L1161.8 541.8L1162.0 541.9L1162.5 540.7L1162.5 540.7L1163.3 544.8L1163.5 546.6L1164.0 551.1L1164.3 553.8L1164.5 551.8L1165.0 547.6L1165.5 541.8L1165.5 539.0L1166.0 537.2L1166.5 535.5L1166.7 533.5L1167.0 535.1L1167.5 537.2L1168.0 541.0L1168.5 544.8L1169.0 548.3L1169.3 549.9L1170.0 541.8L1170.5 538.9L1171.0 538.0L1171.5 537.0L1171.8 534.3L1172.0 533.8L1172.5 533.1L1173.0 533.4L1173.3 532.8L1173.5 534.5L1174.0 538.4L1174.5 544.8L1175.0 550.7L1175.5 560.1L1176.0 568.8L1176.5 568.3L1177.0 567.4L1177.5 565.8L1178.0 559.7L1178.5 555.8L1179.0 549.3L1180.0 531.9L1180.5 536.3L1181.0 541.8L1181.2 543.3L1181.5 544.5L1182.0 548.9L1182.5 552.6L1182.6 554.1L1183.0 557.1L1183.5 557.7L1184.0 558.0L1184.2 558.9L1184.5 558.9L1185.0 556.6L1185.5 557.0L1185.8 556.5L1186.0 555.0L1186.5 550.4L1187.0 546.9L1187.2 545.7L1187.5 543.8L1188.0 541.3L1188.5 538.2L1188.6 537.3L1189.0 535.6L1189.5 535.8L1190.0 534.0L1190.2 533.1L1190.5 534.3L1191.0 536.9L1191.4 540.9L1191.5 540.7L1192.0 536.4L1192.5 533.7L1192.6 533.1L1193.0 533.5L1193.5 531.9L1194.0 533.0L1194.2 533.7L1194.5 537.8L1195.0 541.1L1195.4 543.3L1195.5 544.3L1196.0 548.8L1196.5 552.9L1196.8 555.3L1197.0 555.7L1197.5 557.3L1198.0 560.1L1198.5 561.1L1199.0 561.2L1199.2 561.3L1199.8 572.7L1243.0 572.7L1243.5 570.3L1244.0 567.1L1244.2 566.1L1244.5 565.9L1245.0 566.7L1245.4 564.9L1245.5 564.2L1246.0 561.3L1246.5 558.6L1246.6 557.7L1247.0 557.4L1247.5 557.7L1247.8 556.5L1248.0 556.7L1248.5 559.9L1249.0 561.3L1249.5 558.8L1250.0 556.5L1250.2 555.3L1250.5 551.8L1251.0 546.8L1251.4 542.1L1251.5 541.7L1252.0 539.2L1252.5 537.9L1252.6 537.3L1253.0 539.5L1253.5 542.1L1253.8 543.3L1254.0 543.7L1254.5 543.8L1255.0 545.1L1255.5 548.9L1256.0 552.0L1256.2 553.5L1256.5 551.5L1257.0 549.1L1257.5 546.3L1258.0 540.9L1258.5 540.7L1259.0 539.6L1259.5 539.7L1260.0 536.7L1260.5 535.1L1260.7 534.9L1261.0 536.5L1261.5 537.5L1261.9 538.5L1262.0 538.4L1262.5 536.8L1263.0 535.8L1263.4 534.9L1263.5 534.7L1264.0 534.9L1264.5 533.7L1265.0 533.1L1265.2 533.1L1265.5 532.9L1266.0 535.2L1266.5 534.8L1267.0 533.7L1267.5 535.6L1268.0 539.0L1268.5 542.9L1268.6 543.3L1269.0 544.5L1269.5 543.0L1269.8 544.5L1270.0 545.3L1270.5 546.8L1271.0 549.3L1271.5 552.7L1272.0 555.4L1272.2 556.5L1272.5 558.3L1273.0 559.2L1273.4 560.1L1273.5 559.5L1274.0 557.7L1274.5 555.3L1274.6 555.3L1275.0 549.8L1275.5 541.2L1276.0 533.7L1276.5 536.2L1277.0 539.5L1277.2 540.9L1277.5 543.3L1278.0 547.6L1278.5 549.5L1278.7 550.5L1279.0 548.3L1279.5 546.5L1280.0 542.8L1280.2 540.9L1280.5 540.2L1281.0 540.6L1281.5 537.9L1282.0 536.1L1282.5 536.1L1283.0 535.0L1283.5 533.7L1284.0 531.9L1284.5 531.9L1285.0 533.1L1285.5 533.7L1286.0 531.9L1286.5 533.4L1286.6 533.7L1287.0 536.4L1287.5 536.7L1287.8 538.5L1288.6 545.7L1289.2 555.3L1289.5 555.0L1290.0 556.0L1290.4 557.7L1290.5 557.9L1291.0 557.2L1291.5 556.8L1292.0 557.9L1292.2 557.1L1292.5 557.8L1293.0 558.1L1293.4 560.1L1293.5 560.4L1294.0 562.0L1294.5 563.4L1294.6 563.7L1295.0 563.9L1295.5 563.0L1296.0 562.2L1296.5 562.8L1297.0 564.3L1297.5 565.3L1298.0 565.3L1298.2 566.1L1298.5 567.6L1299.0 569.0L1299.5 569.5L1300.0 569.7L1324.0 569.9" stroke="#61D04F" stroke-width="1.50"/>
<path d="M75.7 531.9L76.0 533.4L76.5 535.7L77.0 536.9L77.5 538.0L78.0 538.3L78.2 538.8L78.5 541.2L79.0 542.4L79.5 548.1L79.8 551.6L80.0 555.8L80.5 561.2L80.8 565.5L81.0 564.2L81.5 561.1L82.0 557.3L82.3 555.3L82.5 554.8L83.0 554.3L83.5 553.7L84.0 552.5L84.2 551.6L84.2 551.6L84.5 549.0L85.0 544.5L85.5 539.8L85.8 536.5L86.0 536.1L86.5 536.1L87.0 537.5L87.2 538.0L87.5 537.1L88.0 536.0L88.5 533.6L88.8 532.8L89.0 533.3L89.5 534.0L90.0 533.8L90.3 534.3L90.5 537.4L91.0 543.4L91.5 551.1L92.0 557.2L92.2 559.8L92.5 558.8L93.0 555.7L93.5 555.1L94.0 552.3L94.5 548.4L95.0 545.1L95.5 542.4L96.0 537.8L96.5 534.7L97.0 534.3L97.5 536.5L98.0 539.6L98.5 540.4L99.0 543.1L99.3 544.8L99.5 543.0L100.0 539.5L100.5 534.0L100.8 532.8L101.0 535.3L101.5 539.6L102.0 542.8L102.3 544.8L102.5 543.4L103.0 541.1L103.5 538.0L103.8 535.8L104.0 539.5L104.5 548.4L104.8 554.5L104.8 554.6L104.8 579.3L127.0 579.3L127.5 583.5L128.0 588.3L128.5 594.3L129.0 589.7L129.5 586.4L130.0 582.3L130.5 579.6L131.0 578.5L131.5 577.7L132.0 576.9L132.3 576.3L132.5 575.2L133.0 573.5L133.5 572.0L134.0 571.3L134.5 570.3L135.0 571.9L135.5 572.7L136.0 573.3L136.5 570.4L137.0 567.4L137.5 565.1L138.0 563.2L138.3 562.1L138.5 564.4L139.0 570.1L139.5 574.8L140.0 578.3L140.2 580.8L140.5 580.1L141.0 576.4L141.5 574.5L142.0 573.7L142.5 570.5L143.0 568.7L143.5 565.8L144.0 562.6L144.5 561.8L145.0 561.3L145.5 559.8L146.0 557.3L146.5 555.6L147.0 553.6L147.3 552.3L147.5 552.4L148.0 551.9L148.5 552.9L149.0 552.8L149.5 554.6L150.0 553.3L150.5 550.9L151.0 549.9L151.5 549.0L151.8 547.8L152.0 546.8L152.5 546.5L153.0 545.3L153.5 546.5L154.0 544.8L154.5 542.4L155.0 541.7L155.5 539.7L156.0 539.9L156.5 538.4L157.0 534.3L157.5 534.5L158.0 533.6L158.5 532.8L158.5 532.8L159.0 536.4L159.5 537.7L160.0 541.8L160.5 542.2L161.0 543.5L161.5 543.8L162.0 545.3L162.3 545.6L162.5 546.2L163.0 548.4L163.5 551.1L163.8 552.3L164.0 551.7L164.5 549.2L165.0 548.8L165.5 547.9L166.0 547.8L166.5 549.6L167.0 550.8L167.5 553.8L168.0 556.1L168.5 558.8L169.0 560.5L169.3 561.3L169.5 558.7L169.8 556.1L170.5 534.3L171.0 536.6L171.5 538.5L172.0 540.3L172.5 541.8L173.0 543.8L173.5 546.3L173.5 551.7L174.0 550.3L174.3 549.3L175.0 565.1L177.3 565.1L178.8 567.3L178.8 565.1L179.0 561.5L179.5 554.2L180.0 544.6L180.3 540.3L180.5 539.2L181.0 537.7L181.5 534.6L181.8 532.8L182.0 533.7L182.5 536.5L183.0 538.4L183.5 540.4L184.0 543.3L184.5 546.6L185.0 549.0L185.5 551.6L186.0 548.2L186.5 543.1L187.0 541.3L187.5 536.9L187.8 534.3L188.0 534.0L188.5 533.8L189.0 533.6L189.5 531.9L190.0 533.5L190.5 543.7L191.0 555.8L191.2 560.6L191.5 555.3L192.0 545.3L192.3 538.8L192.5 537.5L193.0 536.4L193.5 535.9L194.0 534.2L194.5 532.8L195.0 534.6L195.5 536.3L196.0 539.2L196.5 540.7L196.8 540.3L197.0 538.1L197.5 537.7L198.0 534.7L198.3 532.8L198.5 531.9L199.0 533.5L199.5 535.5L200.0 536.5L200.5 536.5L201.0 538.1L201.5 541.7L202.0 544.8L202.0 544.8L202.0 544.8L202.5 549.0L203.0 553.6L203.5 558.9L204.0 561.3L204.5 571.5L205.0 580.5L205.5 590.6L223.0 590.6L223.5 586.0L224.0 583.1L224.5 576.3L225.0 574.9L225.5 573.8L226.0 572.2L226.5 571.7L226.8 570.3L227.0 569.0L227.5 567.3L228.0 565.7L228.5 563.6L229.0 561.3L229.5 561.7L230.0 563.4L230.5 564.0L231.0 565.4L231.3 565.8L231.5 565.0L232.0 564.3L232.5 561.4L233.0 560.2L233.5 557.6L234.0 555.4L234.5 554.7L235.0 552.4L235.5 550.1L235.8 549.3L236.0 551.8L236.5 555.4L237.0 560.0L237.3 561.3L237.5 557.9L238.0 552.2L238.5 547.9L239.0 542.7L239.2 540.3L239.5 539.6L240.0 537.3L240.5 535.6L241.0 534.3L241.0 534.3L241.5 534.0L242.0 533.8L242.5 534.3L243.0 541.0L243.5 548.1L244.0 553.5L244.5 560.4L244.8 564.3L245.0 562.7L245.5 556.8L246.0 553.7L246.5 548.7L247.0 544.8L247.5 548.6L248.0 550.7L248.5 553.3L248.5 553.4L249.3 534.3L249.5 535.6L250.0 538.7L250.5 541.4L250.8 543.3L251.0 541.9L251.5 538.5L252.0 534.6L252.3 532.8L252.3 544.1L252.5 545.3L253.0 547.8L253.5 551.8L253.8 553.8L254.0 552.2L254.5 549.4L255.0 545.7L255.5 541.8L256.1 536.5L256.5 535.6L257.0 535.0L257.5 535.0L258.0 534.3L258.5 533.2L259.1 532.8L260.0 532.8L260.5 533.7L261.0 534.2L261.5 534.9L262.0 533.8L262.5 533.3L263.0 534.3L263.5 535.8L264.0 537.1L264.5 539.8L265.0 541.6L265.5 542.7L266.0 544.8L266.5 542.6L267.0 542.4L267.5 540.2L267.5 540.2L268.2 547.8L268.5 548.5L269.0 550.3L269.5 552.0L269.8 553.8L270.0 552.0L270.5 547.3L270.8 544.8L270.8 537.4L271.0 536.0L271.5 534.9L272.0 533.5L272.5 534.8L273.0 534.7L273.5 536.2L274.0 536.5L274.2 536.5L274.5 540.5L275.0 546.4L275.5 556.1L275.8 559.1L276.0 555.3L276.5 550.6L277.0 544.0L277.5 539.6L277.7 536.5L278.0 536.2L278.5 539.3L279.0 540.0L279.5 540.3L280.0 547.5L280.5 553.5L281.0 559.1L281.5 559.0L282.0 557.3L282.5 554.6L283.0 552.6L283.3 552.3L283.5 551.0L284.0 545.3L284.5 543.3L285.0 539.3L285.5 535.8L286.0 534.6L286.5 533.0L287.0 531.9L287.5 532.8L287.8 532.8L288.0 533.6L288.5 536.4L289.0 537.0L289.3 538.0L289.5 538.1L290.0 537.3L290.5 536.9L291.0 536.6L291.5 536.5L292.0 537.5L292.5 537.1L293.0 540.4L293.5 541.4L293.8 542.5L293.8 540.3L294.0 543.4L294.5 548.8L295.0 553.5L295.5 558.9L295.7 561.0L303.5 561.0L304.0 564.7L304.5 569.5L305.0 573.3L305.5 571.3L306.0 567.1L306.5 562.8L307.0 554.8L307.5 546.0L308.0 537.3L308.0 533.7L308.5 532.8L309.0 531.9L309.5 532.8L310.0 539.5L310.5 545.8L311.0 553.5L311.3 557.6L311.5 557.1L312.0 555.0L312.5 551.3L313.0 550.0L313.3 549.3L313.5 547.6L314.0 544.7L314.5 539.5L315.0 536.3L315.5 533.5L316.0 535.0L316.5 535.9L317.0 535.0L317.5 534.0L317.8 534.3L318.0 535.5L318.5 539.2L319.0 541.0L319.5 543.5L320.0 545.6L320.5 546.7L321.0 547.3L321.5 551.0L321.5 551.0L322.3 547.8L322.5 548.8L323.0 550.2L323.5 551.6L324.0 552.1L324.5 553.9L325.0 555.2L325.5 557.0L325.7 557.6L326.0 556.5L326.5 554.3L327.0 553.7L327.5 553.3L328.0 552.9L328.3 552.3L328.3 553.1L328.5 551.0L329.0 547.1L329.5 543.7L329.8 541.8L330.0 540.6L330.5 538.0L331.0 535.0L331.3 532.8L335.0 532.8L335.5 533.5L336.0 535.7L336.5 538.0L337.0 536.9L337.5 534.5L338.0 532.8L338.5 531.9L339.0 531.9L339.5 533.1L340.0 533.3L340.5 534.6L341.0 534.7L341.5 533.4L341.8 533.5L342.0 533.8L342.5 533.7L343.0 534.9L343.5 536.9L344.0 537.3L344.5 536.8L345.0 535.2L345.5 534.3L346.0 534.6L346.3 532.8L346.5 531.9L347.0 531.9L347.5 534.8L348.0 535.2L348.5 535.0L349.0 537.3L349.5 539.0L350.0 540.3L350.5 539.5L351.0 537.5L351.5 537.4L351.8 536.5L352.0 538.0L352.5 541.8L353.0 543.0L353.5 546.2L353.8 547.8L353.8 547.8L353.8 547.8L354.5 576.3L375.5 576.3L376.0 573.6L376.5 571.5L377.0 569.0L377.5 567.2L377.8 565.8L378.0 565.4L378.5 565.1L379.0 562.9L379.5 561.3L380.0 560.3L380.3 559.8L380.5 560.6L381.0 563.5L381.5 566.2L382.0 567.6L382.3 568.8L382.5 568.3L383.0 566.3L383.5 566.8L383.8 566.6L384.0 568.2L384.5 569.6L385.0 572.3L385.5 574.4L386.0 577.8L386.5 580.4L387.0 582.3L387.5 584.1L415.3 584.1L416.0 578.6L416.5 583.3L417.0 585.4L417.5 588.3L418.0 591.3L418.5 594.1L419.0 598.1L419.5 598.0L420.0 598.6L420.5 598.5L421.0 599.2L421.5 600.5L422.0 599.6L422.5 594.0L423.0 591.2L423.5 587.1L424.0 582.5L424.5 578.2L424.6 577.8L425.0 583.4L425.5 587.6L426.0 591.4L426.5 595.8L427.0 597.8L427.5 600.1L428.0 604.1L428.5 604.9L429.0 605.3L429.5 602.7L430.0 602.9L430.5 605.1L431.0 604.8L431.5 608.1L432.0 612.9L432.2 615.0L449.9 615.0L450.0 615.0L460.5 615.0L461.0 607.9L461.5 603.4L462.0 596.5L462.3 592.8L462.5 594.3L463.0 596.8L463.5 600.3L464.0 600.8L464.5 601.7L465.0 601.8L465.5 605.2L466.0 605.5L466.2 605.6L466.5 603.3L467.0 599.5L467.5 597.3L467.7 595.8L468.0 596.5L468.5 598.6L469.0 599.7L469.2 600.3L469.5 599.6L470.0 598.1L470.5 597.2L470.7 596.6L471.0 599.0L471.5 603.4L472.0 607.8L472.2 611.1L487.5 611.1L488.0 607.9L488.5 605.6L489.0 604.7L489.3 604.1L489.5 605.5L490.0 608.1L490.5 610.5L490.8 612.3L491.0 612.6L491.5 613.4L492.0 613.0L492.5 613.3L492.8 613.8L493.0 615.0L493.5 618.9L494.0 620.8L494.3 621.3L494.5 620.8L495.0 622.2L495.5 622.7L495.8 622.8L496.0 623.6L496.5 626.8L497.0 628.8L497.5 630.0L497.7 630.3L513.8 630.3L514.0 628.1L514.5 625.3L515.0 622.6L515.3 622.1L515.5 623.9L516.0 626.5L516.5 629.5L516.8 630.3L517.0 631.0L517.5 633.3L518.0 634.9L518.3 636.0L519.9 636.0L520.0 636.1L534.2 636.1L535.0 633.8L535.5 641.3L536.0 647.4L536.2 650.3L537.2 676.3L538.0 681.6L538.5 680.3L539.0 679.5L539.5 678.3L540.0 676.1L540.3 675.6L540.5 675.2L541.0 673.7L541.5 672.5L542.0 672.1L542.5 670.3L543.0 677.3L543.5 684.0L544.0 689.4L544.3 692.1L544.5 689.6L545.0 684.9L545.5 680.2L546.0 674.9L546.5 669.8L546.7 667.3L547.0 668.8L547.5 671.2L548.0 672.4L548.5 674.8L549.0 669.3L549.5 663.0L550.0 655.3L550.5 656.0L551.0 657.9L551.5 658.6L552.0 660.0L552.3 659.8L552.5 659.2L553.0 658.0L553.5 656.5L553.8 656.8L554.0 655.4L554.5 651.3L555.0 646.3L555.3 644.8L555.5 649.2L556.0 657.4L556.5 665.6L556.8 670.3L557.5 673.6L586.0 673.6L586.5 671.8L587.0 668.3L587.5 665.8L588.0 661.6L588.5 658.6L589.0 655.3L589.5 652.8L590.0 650.8L590.5 649.3L591.7 635.3L592.0 634.1L592.5 633.0L593.0 629.4L593.5 627.1L594.0 630.2L594.5 633.7L595.0 636.8L595.5 637.2L596.0 637.1L596.5 638.3L597.0 635.7L597.5 633.9L598.0 632.3L598.5 636.4L599.0 638.9L599.5 641.3L600.0 643.2L600.5 644.6L601.0 647.3L601.5 647.8L601.8 648.8L602.0 648.1L602.5 646.3L603.0 642.6L603.5 639.6L604.0 635.5L604.5 633.4L604.8 632.3L605.0 631.4L605.5 628.8L606.0 627.7L606.5 625.9L606.7 625.6L607.0 631.1L607.5 640.9L607.8 647.0L632.5 647.0L633.0 652.0L633.5 656.1L633.7 657.8L634.0 657.9L634.5 658.2L635.0 658.4L635.5 660.1L636.0 661.4L636.3 662.3L636.5 661.5L637.0 658.2L637.5 655.0L638.0 652.8L638.5 648.8L639.0 642.2L639.5 634.2L640.0 627.8L640.8 615.3L641.0 613.3L641.5 611.7L642.0 609.6L642.2 607.8L642.5 607.2L643.0 605.9L643.5 607.0L643.8 606.3L644.0 602.2L644.5 593.5L645.0 585.7L645.2 582.3L645.5 580.8L646.0 577.6L646.5 572.9L647.0 567.8L647.2 566.6L647.5 568.0L648.0 570.3L648.5 570.1L649.0 573.3L649.5 574.4L650.0 576.2L650.5 577.8L651.0 574.7L651.5 573.2L652.0 573.3L652.5 575.1L653.0 577.3L653.5 579.3L654.0 572.4L654.5 566.5L655.0 559.8L655.5 556.1L656.0 553.9L656.5 550.4L656.8 547.8L657.0 548.3L657.5 550.1L658.0 552.3L658.5 547.5L659.0 543.1L659.5 539.5L660.0 537.3L660.5 535.1L661.0 532.8L661.0 532.8L661.5 533.2L662.0 531.9L662.5 531.9L666.3 531.9L666.5 533.0L667.0 535.4L667.5 536.2L667.8 536.5L668.8 550.8L669.0 551.5L669.5 553.5L670.0 555.0L670.5 557.9L670.8 559.1L671.0 556.1L671.5 549.4L672.0 542.7L672.3 540.3L672.3 556.8L672.5 555.4L673.0 549.9L673.5 545.0L673.8 543.3L674.0 541.5L674.5 536.2L674.8 532.8L675.0 534.1L675.5 540.6L676.0 544.8L676.5 550.3L676.8 554.4L677.5 552.3L678.0 549.1L678.5 549.1L679.0 549.0L679.5 548.7L679.8 547.8L680.0 546.0L680.5 543.4L681.0 539.8L681.3 539.5L681.5 542.0L682.0 543.6L682.5 547.7L682.8 549.3L683.0 550.2L683.5 552.7L684.0 554.3L684.3 555.3L684.5 553.6L685.0 550.3L685.5 546.0L686.0 541.8L686.5 538.7L687.0 535.7L687.3 534.3L687.5 535.6L688.0 537.3L688.5 540.0L689.0 540.6L689.5 544.8L690.0 543.5L690.5 541.2L691.0 539.8L691.5 538.3L691.8 537.3L692.0 536.8L692.5 536.0L693.0 534.5L693.5 534.5L694.0 532.8L694.0 539.0L694.3 532.8L700.0 531.9L700.5 533.6L701.0 534.1L701.5 535.8L702.0 534.9L702.5 534.9L703.0 531.9L703.5 531.9L704.0 531.9L704.5 533.7L704.8 533.5L705.0 535.0L705.5 540.4L706.0 546.0L706.5 550.2L706.8 553.1L707.0 551.2L707.5 545.6L708.0 542.5L708.3 540.3L708.5 540.9L709.0 541.9L709.5 542.0L709.8 541.8L710.0 539.6L710.5 536.8L711.0 534.7L711.3 532.8L714.3 532.8L714.5 534.2L715.0 537.1L715.5 541.6L715.8 543.3L716.0 541.9L716.5 541.3L717.0 537.8L717.3 536.5L717.5 537.1L718.0 539.2L718.5 539.4L718.8 540.3L719.0 540.5L719.5 539.2L720.0 535.8L720.5 535.1L721.0 533.5L721.5 534.0L722.0 533.0L722.5 531.9L723.0 531.9L723.5 531.9L724.0 532.8L724.5 534.5L725.0 535.3L725.5 536.0L725.8 535.8L726.0 536.8L726.5 540.5L727.0 543.5L727.3 545.6L727.5 544.3L728.0 540.0L728.5 537.1L729.0 535.3L729.3 533.5L729.5 533.4L730.0 531.9L730.5 531.9L731.0 532.9L731.5 531.9L734.5 532.8L735.0 537.9L735.5 543.2L736.0 550.1L736.5 550.1L736.8 550.8L737.5 552.3L738.0 559.8L738.5 567.4L738.7 571.1L739.0 570.0L739.5 567.2L740.0 564.8L740.5 563.2L741.0 560.6L741.3 559.8L741.5 558.9L742.0 555.9L742.5 554.3L742.8 552.3L742.8 552.3L743.0 555.9L743.5 564.4L743.8 569.6L747.3 569.6L747.5 568.4L748.0 565.9L748.5 562.3L748.8 559.8L749.0 558.0L749.5 555.1L750.0 552.7L750.3 550.8L750.5 551.2L751.0 553.2L751.0 553.3L751.8 547.8L752.0 546.8L752.5 543.6L753.0 542.0L753.5 538.4L753.7 537.3L754.0 539.9L754.5 544.8L755.0 548.2L755.5 553.1L756.0 550.4L756.5 548.5L757.0 544.8L757.5 540.2L758.0 536.0L758.5 532.8L758.5 531.9L759.3 531.9L759.5 533.6L760.0 536.8L760.5 538.5L760.8 539.5L761.0 538.6L761.5 536.7L762.0 534.8L762.3 534.3L762.5 534.6L763.0 533.7L763.5 534.1L764.0 536.1L764.5 536.5L765.0 534.6L765.5 534.4L766.0 532.8L766.5 535.3L767.0 536.3L767.5 540.3L768.0 538.1L768.5 537.6L769.0 534.9L769.3 534.3L769.5 534.3L770.0 535.1L770.5 534.0L771.0 534.1L771.5 534.7L772.0 533.5L772.5 533.0L773.0 533.2L773.5 533.0L774.0 533.1L774.5 532.8L775.0 531.9L775.5 533.2L775.8 532.8L776.0 533.4L776.5 535.2L777.0 538.2L777.3 538.8L777.5 539.2L778.0 542.0L778.5 543.0L779.0 544.3L779.5 544.8L780.0 544.7L780.3 546.7L781.0 537.3L781.5 538.3L782.0 539.4L782.5 539.6L782.8 540.3L783.0 542.1L783.5 546.9L784.0 551.8L784.5 556.2L784.8 560.6L785.0 560.0L785.5 557.8L786.0 554.3L786.3 552.3L786.5 553.3L787.0 556.5L787.5 560.3L787.8 561.3L790.0 561.3L790.5 554.1L791.0 547.0L791.5 540.3L792.0 537.0L792.5 534.7L792.7 531.9L792.7 531.9L805.0 531.9L805.5 538.5L806.0 544.4L806.2 547.8L806.5 549.3L807.0 550.7L807.3 552.0L807.7 553.8L808.0 557.9L808.5 567.5L809.0 576.6L809.2 580.8L809.5 579.6L810.0 577.0L810.5 573.6L811.0 570.3L811.5 571.3L812.0 571.8L812.5 572.6L813.0 572.7L813.3 571.8L813.5 569.0L814.0 564.5L814.5 559.0L815.0 554.1L815.2 551.6L815.5 552.0L816.0 554.6L816.5 554.5L817.0 555.3L817.5 556.0L818.0 553.8L818.5 552.3L819.0 548.2L819.5 543.3L820.0 537.3L820.5 538.4L821.0 541.8L821.5 544.0L822.0 544.6L822.3 545.6L822.5 544.1L823.0 540.7L823.5 536.5L823.8 534.3L824.0 534.4L824.5 533.3L824.9 532.8L824.9 532.8L825.0 531.9L825.5 531.9L826.0 533.5L826.5 539.5L827.0 544.8L827.5 552.2L827.5 552.8L827.9 555.3L828.0 554.4L828.5 552.7L829.0 550.5L829.4 547.8L829.5 546.7L830.0 542.2L830.5 537.7L831.0 535.4L831.3 534.3L831.3 543.0L831.5 541.8L832.0 539.7L832.5 538.2L833.0 537.4L833.5 535.4L833.8 533.5L834.0 531.9L834.5 531.9L835.0 531.9L835.5 531.9L836.0 531.9L838.7 532.8L839.0 538.3L839.5 549.5L839.8 553.8L840.0 553.7L840.5 554.2L840.5 554.2L841.2 553.1L841.5 551.8L842.0 549.4L842.5 548.6L843.0 545.9L843.5 543.3L844.0 545.1L844.5 547.7L845.0 551.6L845.5 548.0L846.0 543.8L846.2 541.8L846.5 545.3L847.0 550.1L847.5 557.5L847.7 559.8L848.0 561.4L848.5 565.7L849.0 567.6L849.2 569.1L861.8 569.1L862.0 567.9L862.5 560.0L863.0 555.3L863.5 552.0L864.0 549.3L864.5 546.8L864.8 544.8L865.0 544.7L865.5 544.0L866.0 543.3L866.5 542.4L866.8 542.5L867.0 542.2L867.5 541.7L868.0 539.8L868.5 539.1L868.7 538.0L869.0 538.9L869.5 540.4L870.0 543.5L870.2 544.8L870.5 546.9L871.0 550.9L871.5 553.0L872.0 555.3L872.5 560.4L873.0 565.4L873.5 568.8L874.0 575.0L874.5 578.2L875.0 578.1L891.2 578.1L891.5 579.9L892.0 581.3L892.5 584.7L893.0 586.8L893.5 585.3L894.0 583.3L894.5 580.7L895.0 579.4L895.3 577.8L895.5 576.1L896.0 573.2L896.5 570.4L896.8 568.1L897.0 566.5L897.5 563.6L898.0 559.9L898.3 557.6L898.5 557.2L899.0 560.2L899.5 561.8L900.0 562.0L900.5 564.3L901.0 560.8L901.5 556.8L902.0 553.7L902.3 552.3L902.5 553.8L903.0 554.8L903.5 555.3L904.0 552.6L904.5 549.7L905.0 546.2L905.5 544.6L905.8 544.8L906.0 547.5L906.5 549.6L907.0 551.6L907.5 552.8L907.7 553.8L908.0 552.1L908.5 547.8L909.0 546.1L909.5 543.3L910.0 542.0L910.5 540.7L911.0 538.6L911.5 536.7L911.8 535.8L912.0 534.9L912.5 535.1L913.0 534.2L913.5 533.7L914.0 531.9L914.0 531.9L918.5 531.9L919.0 534.7L919.5 537.8L919.7 539.5L920.0 537.8L920.5 535.4L920.8 534.3L921.0 539.4L921.5 548.8L921.5 549.3L921.8 556.1L922.0 556.1L922.5 554.8L923.0 554.9L923.5 553.6L923.8 552.3L924.0 548.9L924.5 543.3L925.0 537.1L925.3 534.3L925.5 535.3L926.0 534.8L926.5 534.3L926.8 535.8L927.0 538.2L927.5 539.8L928.0 543.3L928.3 544.8L928.5 543.6L929.0 542.5L929.5 540.5L930.0 538.0L930.2 537.3L930.5 537.4L931.0 536.8L931.5 535.8L932.0 535.7L932.5 535.0L933.0 532.8L933.5 532.8L933.5 547.8L934.0 547.4L934.5 546.4L935.0 544.8L935.5 541.7L936.0 537.0L936.5 532.8L937.0 534.8L937.5 536.8L938.0 539.5L938.3 540.3L938.5 540.4L939.0 541.1L939.5 541.9L939.5 542.0L940.3 543.3L940.5 544.8L941.0 550.0L941.5 552.0L941.8 554.6L942.0 553.6L942.5 550.7L943.0 548.3L943.5 543.9L943.7 543.3L944.0 543.0L944.5 541.5L945.0 538.6L945.5 535.8L946.0 536.3L946.5 538.0L947.0 538.4L947.5 539.3L947.8 539.5L948.0 538.2L948.5 536.4L949.0 533.8L949.5 533.6L949.7 532.8L949.7 532.8L950.8 532.8L951.5 556.1L952.0 557.1L952.5 556.5L953.0 556.4L953.5 557.3L954.0 557.8L954.5 557.6L955.0 557.2L955.5 557.9L956.0 557.7L956.5 558.3L956.8 559.1L956.8 559.1L957.2 559.1L957.5 557.7L958.0 554.8L958.5 551.7L958.7 550.1L959.0 551.6L959.5 553.6L960.0 554.1L960.5 556.8L961.0 558.0L961.5 559.8L962.0 561.6L962.3 562.2L977.8 562.2L978.0 563.8L978.5 568.1L978.8 571.5L984.5 571.8L985.0 570.8L985.5 570.7L986.0 569.8L986.5 570.2L986.8 569.6L987.0 567.7L987.5 564.4L988.0 560.5L988.3 558.3L988.5 558.2L989.0 558.3L989.5 556.8L990.0 556.4L990.5 555.3L991.0 553.9L991.5 551.0L992.0 549.5L992.5 548.3L992.8 547.8L993.0 546.9L993.5 542.3L994.0 542.2L994.3 540.3L994.5 540.5L995.0 543.0L995.5 543.7L995.8 543.3L996.0 542.8L996.5 544.4L997.0 543.6L997.5 544.2L998.0 544.8L998.5 542.2L999.0 541.8L999.5 540.3L1000.0 538.0L1000.5 534.5L1001.0 532.8L1001.0 532.8L1004.8 531.9L1005.0 533.2L1005.5 532.9L1006.0 533.2L1006.5 533.8L1007.0 535.0L1007.5 535.4L1008.0 535.8L1008.5 534.4L1009.0 533.5L1009.3 532.8L1009.5 532.9L1010.0 533.5L1010.5 534.2L1011.0 533.7L1011.5 534.3L1012.0 537.2L1012.3 540.1L1013.0 544.0L1013.5 544.4L1014.0 541.2L1014.5 539.7L1015.0 538.3L1015.3 537.3L1015.5 536.5L1016.0 534.4L1016.5 533.8L1016.8 532.8L1016.8 537.3L1017.0 536.6L1017.5 536.8L1018.0 533.8L1018.5 534.8L1019.0 532.8L1020.0 532.8L1020.5 535.8L1021.0 538.7L1021.5 541.9L1021.8 544.0L1022.0 544.3L1022.5 545.5L1023.0 545.6L1023.5 545.2L1023.8 545.6L1024.0 544.0L1024.5 540.4L1025.0 536.1L1025.2 534.3L1025.5 534.0L1026.0 533.5L1026.5 533.1L1027.0 533.3L1027.2 533.5L1027.5 536.5L1028.0 541.1L1028.5 543.2L1028.7 544.8L1029.0 545.7L1029.5 546.8L1030.0 548.1L1030.2 549.3L1030.5 548.4L1031.0 547.1L1031.5 545.4L1032.0 543.3L1032.5 540.3L1033.0 536.7L1033.5 535.0L1034.0 533.7L1034.5 533.7L1035.0 531.9L1038.8 532.8L1039.0 533.9L1039.5 537.2L1040.0 540.3L1040.3 541.0L1040.5 540.1L1041.0 537.4L1041.5 536.0L1041.8 535.8L1042.0 536.8L1042.5 539.1L1043.0 540.1L1043.3 540.3L1043.5 539.9L1044.0 540.1L1044.5 540.4L1044.8 541.8L1045.0 542.2L1045.5 540.5L1046.0 538.0L1046.5 536.3L1046.7 535.8L1047.0 539.0L1047.5 544.4L1048.0 550.7L1048.2 553.1L1048.5 552.2L1049.0 549.7L1049.5 545.4L1050.0 543.3L1050.5 538.7L1051.0 536.7L1051.5 532.8L1052.0 540.8L1052.3 544.7L1053.0 554.6L1053.5 554.8L1054.0 557.4L1054.5 558.9L1055.0 560.7L1055.5 561.3L1056.0 561.3L1056.5 558.8L1057.0 556.5L1057.5 555.3L1058.0 552.7L1058.5 549.9L1059.0 546.3L1059.5 542.8L1059.8 541.8L1060.0 541.9L1060.5 540.6L1061.0 541.0L1061.5 540.5L1062.0 540.3L1062.5 539.6L1063.0 541.0L1063.5 539.8L1064.0 540.8L1064.5 540.3L1065.0 538.8L1065.5 538.3L1066.0 538.6L1066.5 539.7L1067.0 538.9L1067.5 537.8L1068.0 538.0L1068.5 536.1L1069.0 537.0L1069.5 534.5L1070.0 533.0L1070.3 532.8L1070.3 532.8L1070.5 533.8L1071.0 536.1L1071.5 537.8L1071.8 538.8L1072.0 540.6L1072.5 543.5L1072.5 543.6L1073.3 540.3L1073.5 541.0L1074.0 541.3L1074.5 541.9L1075.0 543.6L1075.5 544.8L1076.0 544.0L1076.5 542.1L1077.0 540.3L1077.5 539.2L1078.0 538.4L1078.5 537.0L1079.0 535.5L1079.3 534.3L1079.5 533.2L1080.0 535.3L1080.5 533.9L1081.0 532.9L1081.5 532.8L1082.0 534.9L1082.5 538.3L1083.0 540.3L1083.5 541.3L1084.0 541.0L1084.5 542.9L1084.8 544.8L1085.0 543.4L1085.5 537.8L1086.0 534.3L1086.0 544.8L1086.5 541.9L1087.0 537.8L1087.5 533.5L1088.0 533.9L1088.5 533.4L1088.7 532.8L1089.0 537.6L1089.5 547.5L1089.8 553.1L1090.0 552.3L1090.5 552.6L1091.0 551.3L1091.5 551.3L1091.7 550.1L1092.0 546.3L1092.5 542.0L1092.8 539.5L1093.0 539.2L1093.5 536.2L1094.0 534.5L1094.3 532.8L1094.5 534.0L1095.0 536.5L1095.3 538.8L1095.5 541.0L1095.8 544.1L1096.5 543.3L1097.0 545.3L1097.5 547.6L1098.0 550.1L1098.5 555.6L1099.0 560.1L1099.2 562.1L1106.7 562.1L1107.0 559.5L1107.5 556.8L1108.0 551.9L1108.2 550.1L1108.5 551.5L1109.0 553.7L1109.5 555.2L1109.7 555.3L1110.0 556.4L1110.5 560.3L1111.0 564.4L1111.5 569.6L1112.0 569.1L1112.5 569.2L1113.0 570.3L1113.5 565.7L1114.0 561.2L1114.5 557.6L1114.8 555.3L1115.0 554.1L1115.5 550.7L1116.0 546.2L1116.5 543.1L1116.8 541.0L1117.0 541.6L1117.5 543.4L1118.0 545.4L1118.3 546.3L1118.5 548.0L1119.0 551.5L1119.5 555.8L1119.8 558.3L1120.0 557.6L1120.5 555.7L1121.0 553.9L1121.5 551.8L1122.0 549.3L1122.5 547.0L1123.0 546.9L1123.5 546.9L1124.0 547.1L1124.3 546.3L1124.5 546.2L1125.0 547.1L1125.5 548.6L1126.0 547.4L1126.5 547.8L1127.0 551.4L1127.5 553.4L1128.0 555.3L1130.3 555.3L1130.5 555.0L1131.0 553.0L1131.5 552.6L1131.8 552.3L1131.8 552.3L1132.0 551.6L1132.5 550.4L1133.0 547.3L1133.5 543.8L1133.7 543.3L1134.0 541.9L1134.5 539.1L1135.0 536.1L1135.2 534.3L1135.5 534.3L1136.0 533.7L1136.5 533.8L1137.0 532.8L1137.5 533.5L1138.0 534.8L1138.5 535.4L1139.0 534.1L1139.3 534.3L1139.5 534.0L1140.0 533.2L1140.5 533.9L1140.8 532.8L1141.0 531.9L1141.5 533.3L1142.0 533.9L1142.3 534.3L1142.5 535.7L1143.0 539.3L1143.5 542.6L1143.8 544.8L1144.0 543.7L1144.5 542.8L1145.0 538.7L1145.5 535.8L1146.0 532.8L1146.5 534.0L1147.0 535.5L1147.5 534.3L1148.0 540.3L1148.3 544.4L1148.7 550.8L1149.0 552.5L1149.5 556.1L1150.0 559.6L1150.2 561.3L1150.5 561.3L1151.0 559.7L1151.5 560.1L1151.7 559.8L1152.0 556.9L1152.5 554.6L1153.0 550.0L1153.2 547.8L1153.5 545.3L1154.0 541.3L1154.5 536.7L1154.7 534.3L1154.7 538.5L1155.0 535.5L1155.3 532.8L1155.5 533.9L1156.0 537.8L1156.5 540.7L1156.8 543.3L1157.0 544.5L1157.5 547.2L1158.0 548.6L1158.5 545.0L1159.0 543.0L1159.5 540.3L1159.8 538.8L1160.0 539.1L1160.5 540.1L1161.0 540.0L1161.5 541.0L1161.8 541.8L1162.0 541.9L1162.5 540.7L1162.5 540.7L1163.3 544.8L1163.5 546.6L1164.0 551.1L1164.3 553.8L1164.5 551.8L1165.0 547.6L1165.5 541.8L1165.5 539.0L1166.0 537.2L1166.5 535.5L1166.7 533.5L1167.0 535.1L1167.5 537.2L1168.0 541.0L1168.5 544.8L1169.0 548.3L1169.3 549.9L1170.0 546.3L1170.5 543.6L1171.0 542.9L1171.5 541.8L1172.0 541.8L1172.5 542.8L1173.0 544.8L1173.5 549.3L1174.0 552.7L1174.5 558.4L1175.0 561.8L1175.3 565.5L1175.5 566.1L1176.0 566.1L1176.5 566.2L1177.0 565.9L1177.5 565.0L1178.0 564.0L1178.3 565.1L1178.5 563.8L1179.0 558.7L1179.5 554.4L1179.8 552.3L1180.0 558.9L1180.5 561.2L1181.0 565.2L1181.2 566.1L1181.5 566.9L1182.0 570.4L1182.4 572.7L1187.8 572.7L1188.0 571.0L1188.5 566.3L1189.0 561.3L1189.5 560.0L1190.0 556.7L1190.2 555.3L1191.0 558.9L1192.0 563.7L1192.5 560.6L1193.0 557.3L1193.2 555.3L1194.2 557.7L1194.5 561.8L1195.0 565.1L1195.4 567.3L1195.5 568.1L1196.0 571.7L1196.5 575.0L1196.8 576.9L1197.0 576.7L1197.5 576.8L1198.0 578.0L1198.5 578.3L1199.0 577.7L1199.2 577.5L1199.8 588.0L1228.0 588.0L1228.0 594.2L1228.5 594.7L1229.0 593.1L1229.8 581.7L1230.0 585.4L1230.5 593.4L1231.0 600.9L1231.8 599.7L1232.6 588.9L1232.8 585.3L1233.0 584.9L1233.5 584.5L1234.0 581.0L1234.5 579.6L1234.6 579.3L1235.0 578.3L1235.5 575.8L1236.0 574.1L1236.4 573.3L1236.5 574.1L1237.0 579.1L1237.5 583.5L1237.6 584.1L1238.0 587.5L1238.5 593.6L1238.8 597.3L1239.0 597.9L1239.5 600.4L1240.0 602.1L1240.5 601.9L1240.6 602.1L1241.0 603.7L1241.5 603.8L1241.8 605.1L1242.0 604.1L1242.5 603.1L1243.0 600.3L1243.5 596.4L1244.0 591.8L1244.2 590.1L1244.5 588.5L1245.0 586.8L1245.4 582.9L1245.5 582.8L1246.0 583.9L1246.5 585.3L1246.6 585.3L1247.0 582.3L1247.5 579.1L1247.8 575.7L1248.0 575.6L1248.5 577.7L1249.0 578.1L1249.5 576.1L1250.0 574.2L1250.2 573.3L1250.5 570.0L1251.0 565.6L1251.4 561.3L1251.5 560.9L1252.0 558.4L1252.5 557.1L1252.6 556.5L1253.0 558.7L1253.5 561.3L1253.8 562.5L1254.0 563.0L1254.5 563.3L1255.0 564.9L1255.9 574.5L1256.0 573.0L1256.5 567.8L1257.0 563.8L1257.4 560.1L1257.5 560.0L1258.0 557.2L1258.5 556.8L1258.6 556.5L1259.0 555.0L1259.5 554.1L1259.8 552.3L1260.0 552.5L1260.5 554.3L1261.0 557.1L1261.5 556.0L1262.0 555.1L1262.5 553.1L1262.6 552.9L1263.0 551.9L1263.5 550.6L1263.8 550.5L1264.0 549.9L1264.5 547.3L1265.0 545.2L1265.2 544.5L1265.5 544.2L1266.0 546.2L1266.5 545.5L1266.7 545.1L1267.0 546.5L1267.5 548.2L1268.0 551.3L1268.2 552.9L1268.5 554.3L1269.0 555.6L1269.4 554.1L1269.5 553.9L1270.0 556.8L1270.5 559.3L1270.6 560.1L1271.0 562.0L1271.5 563.9L1271.8 564.9L1272.0 565.6L1272.5 567.7L1273.0 567.9L1276.0 567.9L1277.0 562.5L1277.5 568.5L1278.0 574.1L1278.4 576.9L1278.5 576.5L1279.0 575.5L1279.5 576.0L1279.6 575.7L1280.0 575.1L1280.5 573.8L1281.0 574.3L1281.4 572.1L1281.5 571.7L1282.0 569.3L1282.5 569.7L1283.0 569.0L1283.2 568.5L1283.5 567.6L1284.0 566.5L1284.4 564.9L1284.5 564.6L1285.0 566.2L1285.5 564.6L1285.9 561.9L1286.0 561.8L1286.5 563.7L1287.0 566.2L1287.1 566.1L1288.0 575.7L1288.6 585.1L1295.8 585.1L1296.0 584.6L1296.5 584.8L1297.0 585.9L1297.5 586.7L1298.0 586.4L1298.2 587.1L1322.2 587.1L1322.8 583.5L1323.7 592.5" stroke="#DF536B" stroke-width="1.50"/>
<path d="M75.7 531.9L76.0 533.4L76.5 535.7L77.0 536.9L77.5 538.0L78.0 538.3L78.2 538.8L78.5 540.6L79.0 540.6L79.5 545.0L80.0 550.6L80.2 551.6L84.2 551.6L84.5 549.0L85.0 544.5L85.5 539.8L85.8 536.5L86.0 536.1L86.5 536.1L87.0 537.5L87.2 538.0L87.5 537.1L88.0 536.0L88.5 533.6L88.8 532.8L89.0 533.3L89.5 534.0L90.0 533.8L90.3 534.3L90.5 537.4L91.0 543.4L91.5 551.1L92.0 557.2L92.2 559.8L92.5 558.8L93.0 555.7L93.5 555.1L94.0 552.3L94.5 548.4L95.0 545.1L95.5 542.4L96.0 537.8L96.5 534.7L97.0 534.3L97.5 536.5L98.0 539.6L98.5 540.4L99.0 543.1L99.3 544.8L99.5 543.0L100.0 539.5L100.5 534.0L100.8 532.8L101.0 535.3L101.5 539.6L102.0 542.8L102.3 544.8L102.5 543.4L103.0 541.1L103.5 538.0L103.8 535.8L104.0 539.5L104.5 548.4L104.8 554.6L120.3 554.6L121.0 534.3L121.5 535.1L122.0 533.8L122.5 532.8L123.0 534.1L123.5 536.4L124.0 538.3L124.5 541.1L124.8 541.0L125.0 543.7L125.5 550.8L126.0 557.8L126.3 561.3L126.5 561.8L127.0 563.5L127.5 563.8L127.8 564.3L128.5 578.6L129.0 574.6L129.5 572.1L130.0 568.8L130.5 566.1L131.0 565.1L131.5 564.3L132.0 562.5L132.5 560.3L133.0 558.9L133.5 557.8L133.8 557.6L134.0 558.7L134.5 561.0L135.0 563.0L135.3 563.6L135.5 560.6L136.0 554.0L136.5 548.0L136.8 544.8L137.0 544.3L137.5 544.0L138.0 544.1L138.3 544.0L138.5 546.0L139.0 550.8L139.5 554.6L140.0 557.1L140.5 562.1L142.8 562.1L143.0 560.9L143.5 557.3L144.0 552.4L144.5 550.0L145.0 547.8L145.5 548.4L146.0 548.1L146.5 548.6L147.0 546.3L147.5 543.7L148.0 540.3L148.5 541.5L149.0 541.7L149.5 543.6L150.0 544.8L150.3 544.8L150.5 542.6L151.0 539.3L151.5 536.0L151.8 533.5L152.0 533.2L152.5 534.4L153.0 534.8L153.5 537.4L154.0 537.3L154.5 535.0L155.0 534.4L155.5 531.9L156.0 532.8L156.3 531.9L156.5 531.9L157.0 531.9L157.5 531.9L158.0 531.9L158.5 532.8L159.0 536.4L159.5 537.7L160.0 541.8L160.5 542.2L161.0 543.5L161.5 543.8L162.0 545.3L162.3 545.6L162.5 546.2L163.0 548.4L163.5 551.1L163.8 552.3L164.0 551.7L164.5 549.2L165.0 548.8L165.5 547.9L166.0 547.8L166.5 549.6L167.0 550.8L167.5 553.8L168.0 556.1L168.5 558.8L169.0 560.5L169.3 561.3L169.5 558.7L170.0 554.0L170.5 548.4L170.8 544.8L171.0 546.1L171.5 549.4L172.0 552.6L172.5 554.2L172.8 555.3L173.0 554.1L173.5 551.8L174.0 550.3L174.3 549.3L175.0 565.1L178.8 565.1L179.0 561.5L179.5 554.2L180.0 544.6L180.3 540.3L180.5 539.2L181.0 537.7L181.5 534.6L181.8 532.8L182.0 533.7L182.5 536.5L183.0 538.4L183.5 540.4L184.0 543.3L184.5 546.6L185.0 549.0L185.5 551.6L186.0 548.2L186.5 543.1L187.0 541.3L187.5 536.9L187.8 534.3L188.0 534.0L188.5 533.8L189.0 533.6L189.5 531.9L190.0 533.5L190.5 543.7L191.0 555.8L191.2 560.6L191.5 555.3L192.0 545.3L192.3 538.8L192.5 537.5L193.0 536.4L193.5 535.9L194.0 534.2L194.5 532.8L195.0 534.6L195.5 536.3L196.0 539.2L196.5 540.7L196.8 540.3L197.0 538.1L197.5 537.7L198.0 534.7L198.3 532.8L198.5 531.9L199.0 533.5L199.5 535.5L200.0 536.5L200.5 536.5L201.0 538.1L201.5 541.7L202.0 544.8L202.5 547.1L203.0 549.6L203.2 551.1L211.0 551.1L211.5 554.8L212.0 558.9L212.5 564.3L213.0 560.5L213.5 557.9L214.0 554.9L214.3 552.3L214.5 553.9L215.0 559.8L215.5 566.6L216.0 567.1L216.5 569.6L217.0 570.8L217.5 572.9L217.8 574.1L223.0 574.1L223.5 564.3L224.0 555.8L224.2 550.1L224.5 549.0L225.0 547.9L225.5 547.2L226.0 546.0L226.5 546.0L226.8 544.8L227.0 543.3L227.5 541.3L228.0 539.5L228.3 538.0L228.5 538.3L229.0 538.8L229.5 538.8L229.8 539.5L230.0 539.0L230.5 536.5L231.0 534.9L231.3 533.5L231.5 534.0L232.0 536.3L232.5 536.4L233.0 538.2L233.5 538.8L234.0 536.4L234.5 535.6L235.0 532.8L237.3 532.8L237.5 533.5L238.0 537.9L238.5 543.5L238.8 546.3L239.0 544.5L239.5 540.4L240.0 535.4L240.3 532.8L240.5 533.1L241.0 534.3L241.5 534.0L242.0 533.8L242.5 534.3L243.0 541.0L243.5 548.1L244.0 553.5L244.5 560.4L244.8 564.3L245.0 562.7L245.5 556.8L246.0 553.7L246.5 548.7L247.0 544.8L247.5 548.6L248.0 550.7L248.5 553.3L249.0 555.3L249.3 556.8L249.5 555.3L250.0 551.7L250.5 547.6L251.0 544.0L251.6 540.3L252.0 542.3L252.5 545.3L253.0 547.8L253.5 551.8L253.8 553.8L254.0 552.2L254.5 549.4L255.0 545.7L255.5 541.8L256.1 536.5L256.5 535.6L257.0 535.0L257.5 535.0L258.0 534.3L258.5 533.2L259.1 532.8L260.0 532.8L260.5 533.7L261.0 534.2L261.5 534.9L262.0 533.8L262.5 533.3L263.0 534.3L263.5 535.8L264.0 537.1L264.5 539.8L265.0 541.6L265.5 542.7L266.0 544.8L266.5 542.6L267.0 542.4L267.5 540.2L268.0 540.2L268.2 538.8L268.5 539.5L269.0 541.3L269.5 543.0L269.8 544.8L270.0 543.4L270.5 539.4L271.0 536.0L271.5 534.9L272.0 533.5L272.5 534.8L273.0 534.7L273.5 536.2L274.0 536.5L274.2 536.5L274.5 540.5L275.0 546.4L275.5 556.1L275.8 559.1L276.0 555.3L276.5 550.6L277.0 544.0L277.5 539.6L277.7 536.5L278.0 536.2L278.5 539.3L279.0 540.0L279.5 540.3L280.0 547.5L280.5 553.5L281.0 559.1L281.5 559.0L282.0 557.3L282.5 554.6L283.0 552.6L283.3 552.3L283.5 551.0L284.0 545.3L284.5 543.3L285.0 539.3L285.5 535.8L286.0 534.6L286.5 533.0L287.0 531.9L287.5 532.8L287.8 532.8L288.0 533.6L288.5 536.4L289.0 537.0L289.3 538.0L289.5 538.1L290.0 537.3L290.5 536.9L291.0 536.6L291.5 536.5L292.0 537.5L292.5 537.1L293.0 540.4L293.5 541.4L293.8 542.5L294.0 544.4L294.5 547.2L295.0 549.2L295.5 552.0L295.7 553.1L301.3 553.1L301.5 553.5L302.0 555.3L302.5 557.4L302.8 557.6L303.0 555.4L303.5 552.3L304.0 549.0L304.3 547.8L304.5 546.6L305.0 542.8L305.5 541.9L305.8 540.3L306.0 539.0L306.5 536.3L307.0 534.7L307.3 533.5L307.5 533.5L308.0 533.7L308.5 532.8L309.0 531.9L309.5 532.8L310.0 539.5L310.5 545.8L311.0 553.5L311.3 557.6L311.5 557.1L312.0 555.0L312.5 551.3L313.0 550.0L313.3 549.3L313.5 547.6L314.0 544.7L314.5 539.5L315.0 536.3L315.5 533.5L316.0 535.0L316.5 535.9L317.0 535.0L317.5 534.0L317.8 534.3L318.0 535.5L318.5 539.2L319.0 541.0L319.5 543.5L320.0 545.6L320.5 546.7L321.0 547.3L321.5 551.0L322.0 552.5L322.3 553.1L322.5 553.1L323.0 552.5L323.5 551.8L324.0 550.3L324.5 550.1L325.0 550.8L325.5 552.2L326.0 553.1L328.3 553.1L328.5 551.0L329.0 547.1L329.5 543.7L329.8 541.8L330.0 540.6L330.5 538.0L331.0 535.0L331.3 532.8L335.0 532.8L335.5 533.5L336.0 535.7L336.5 538.0L337.0 536.9L337.5 534.5L338.0 532.8L338.5 531.9L339.0 531.9L339.5 533.1L340.0 533.3L340.5 534.6L341.0 534.7L341.5 533.4L341.8 533.5L342.0 533.8L342.5 533.7L343.0 534.9L343.5 536.9L344.0 537.3L344.5 536.8L345.0 535.2L345.5 534.3L346.0 534.6L346.3 532.8L346.5 531.9L347.0 531.9L347.5 534.8L348.0 535.2L348.5 535.0L349.0 537.3L349.5 539.0L350.0 540.3L350.5 539.5L351.0 537.5L351.5 537.4L351.8 536.5L352.0 538.0L352.5 541.8L353.0 543.0L353.5 546.2L353.8 547.8L354.5 552.3L363.5 552.3L364.0 556.1L364.5 558.9L364.7 559.8L373.3 559.8L373.5 559.1L374.0 557.7L374.5 557.2L375.0 556.1L375.2 555.3L375.5 552.6L376.0 546.9L376.5 542.1L377.0 536.5L377.5 535.7L378.0 534.0L378.5 532.8L379.0 531.9L379.5 531.9L380.0 533.5L380.5 535.1L381.0 537.4L381.5 539.5L382.0 539.6L382.5 540.3L383.0 540.3L383.5 542.8L384.0 544.7L384.5 544.2L384.8 544.8L407.8 544.8L408.0 547.0L408.5 552.9L409.0 557.6L409.3 559.5L411.2 559.5L411.5 557.1L412.0 553.3L412.5 547.2L412.7 544.0L413.0 544.9L413.5 548.0L414.0 547.6L414.2 549.3L414.5 547.9L415.0 543.0L415.5 539.3L416.0 534.6L416.3 533.5L416.5 535.4L417.0 538.2L417.5 541.8L418.0 546.8L418.5 551.8L418.7 554.6L422.8 554.6L423.0 553.8L423.5 550.5L424.0 546.8L424.3 544.8L424.5 546.1L425.0 551.3L425.5 554.0L425.8 555.3L426.0 557.2L426.5 562.0L426.8 564.6L445.3 564.6L445.5 563.9L446.0 562.2L446.4 562.1L446.5 562.9L447.0 563.8L447.6 565.5L450.0 565.8L450.5 566.8L451.0 566.2L451.5 565.3L452.0 565.6L452.5 565.0L453.0 565.1L453.5 566.2L454.0 569.0L454.2 570.3L454.5 570.9L455.0 570.6L455.5 570.6L456.0 571.1L456.5 573.0L457.0 577.7L457.5 580.1L460.5 580.1L461.0 572.2L461.5 567.0L462.0 559.4L462.3 555.3L462.5 557.0L463.0 560.1L463.5 564.3L464.0 564.8L464.5 565.6L465.0 565.8L465.5 569.1L466.0 569.5L466.2 569.6L466.5 567.0L467.0 562.7L467.5 560.0L467.7 558.3L468.0 559.1L468.5 561.5L469.0 562.8L469.2 563.6L469.5 562.8L470.0 561.4L470.5 560.5L470.7 559.8L471.0 562.7L471.5 567.9L471.8 570.6L483.8 570.6L484.0 570.0L484.5 570.9L485.0 569.6L485.3 568.8L485.5 565.2L486.0 559.9L486.5 554.6L486.8 550.8L487.0 550.5L487.5 552.1L488.0 550.5L488.3 550.1L488.5 548.1L489.0 545.6L489.5 543.0L489.8 541.0L490.0 543.5L490.5 548.2L490.8 551.6L491.0 551.8L491.5 552.4L492.0 551.8L492.5 551.9L492.8 552.3L493.0 553.3L493.5 557.0L493.8 558.0L512.3 558.0L512.5 559.9L513.0 563.5L513.5 565.8L514.0 567.5L514.1 568.1L514.5 561.7L515.0 554.4L515.5 548.8L515.6 547.8L516.0 551.2L516.5 555.4L517.0 558.3L517.5 562.1L518.0 563.6L518.5 565.5L519.0 566.6L520.0 573.5L527.5 573.5L528.0 580.4L528.5 588.1L533.5 588.1L534.0 586.6L534.5 586.6L535.0 585.8L535.5 592.0L536.0 596.9L536.2 599.3L536.8 618.8L537.7 641.3L538.0 640.1L538.5 637.3L539.0 634.9L539.2 633.8L546.7 634.1L547.0 637.5L547.5 643.4L547.8 645.8L548.0 643.3L548.5 639.0L549.0 636.8L549.3 635.3L549.5 633.2L550.0 627.4L550.5 622.8L550.8 621.1L551.0 622.6L551.5 624.7L552.0 627.3L552.3 627.8L552.5 625.5L553.0 620.7L553.5 615.6L554.0 612.4L554.2 610.6L554.5 612.3L555.0 614.4L555.5 618.6L556.0 621.8L556.8 629.3L567.3 629.3L567.5 630.1L568.0 632.1L568.5 633.4L568.8 633.8L569.0 634.4L569.5 635.4L570.0 636.4L570.3 636.8L570.5 636.9L571.0 638.3L571.5 639.9L572.0 639.2L572.2 639.8L573.0 647.0L585.3 647.0L585.5 643.3L586.0 634.5L586.5 627.3L586.8 622.6L587.0 621.2L587.5 619.4L588.0 617.5L588.3 617.3L589.0 608.3L589.5 608.2L590.0 608.7L590.5 609.8L591.0 600.3L591.5 588.8L591.7 584.3L592.0 583.0L592.5 581.6L593.0 577.8L593.5 575.3L594.0 579.2L594.5 583.4L595.0 587.3L595.5 587.0L596.0 586.2L596.5 586.6L597.0 584.1L597.5 582.6L598.0 581.3L598.8 594.5L601.8 594.8L602.0 595.6L602.5 597.2L603.0 596.9L603.3 597.1L603.5 596.0L604.0 592.8L604.5 591.7L604.8 591.1L605.0 590.0L605.5 587.0L606.0 585.5L606.5 583.3L606.7 582.8L607.0 589.4L607.5 601.2L607.8 608.3L621.3 608.3L621.5 605.9L622.0 603.3L622.5 599.9L622.8 597.8L623.0 595.4L623.5 588.5L624.0 584.0L624.3 580.6L624.5 581.4L625.0 585.0L625.5 587.8L626.0 589.8L626.2 591.1L626.5 589.6L627.0 584.9L627.5 582.6L628.0 581.3L628.3 579.0L628.5 580.6L629.0 584.7L629.5 590.3L630.0 592.1L630.5 595.0L630.7 596.3L631.0 593.6L631.5 588.1L632.0 581.4L632.2 579.0L632.5 581.5L633.0 586.5L633.5 590.3L633.7 591.8L634.0 593.1L634.5 595.7L634.8 597.1L637.8 597.1L638.0 594.3L638.5 586.4L639.0 579.6L639.3 575.3L641.2 544.8L641.5 544.3L642.0 542.9L642.5 540.1L643.0 537.3L643.5 537.6L644.0 535.4L644.5 531.9L646.8 532.8L647.0 533.0L647.5 535.6L648.0 538.0L648.2 538.0L648.5 537.1L649.0 538.6L649.5 539.0L649.8 539.5L650.0 540.9L650.5 543.3L650.8 544.0L651.0 542.8L651.5 541.3L652.0 541.3L652.5 540.0L652.8 539.5L653.0 540.8L653.5 543.3L654.0 543.9L654.2 544.8L654.5 543.6L655.0 540.4L655.5 537.4L655.8 536.5L656.0 536.6L656.5 535.5L657.0 533.5L657.2 532.8L657.5 534.0L658.0 536.7L658.5 538.4L658.8 539.5L659.0 538.3L659.5 536.7L660.0 534.7L660.3 533.5L660.5 533.3L661.0 532.8L661.5 533.2L662.0 531.9L662.5 531.9L666.3 531.9L666.5 533.0L667.0 535.4L667.5 536.2L667.8 536.5L668.0 541.4L668.5 550.2L668.8 556.8L672.3 556.8L672.5 555.4L673.0 549.9L673.5 545.0L673.8 543.3L674.0 541.5L674.5 536.2L674.8 532.8L675.0 534.1L675.5 540.6L676.0 544.8L676.5 550.3L677.0 558.3L677.5 565.1L678.0 561.7L678.5 561.5L679.0 561.3L679.5 560.8L679.8 559.8L680.0 558.6L680.5 557.3L681.0 554.9L681.3 555.3L681.5 557.3L682.0 557.9L682.5 561.0L682.8 562.1L685.0 562.1L685.5 559.2L686.0 556.4L686.5 554.8L686.8 553.8L687.0 554.9L687.5 557.9L688.0 560.1L688.3 562.1L688.5 562.5L689.0 561.7L689.5 564.5L690.0 565.2L690.3 565.1L690.5 564.2L691.0 563.2L691.5 562.1L691.8 561.3L692.0 560.7L692.5 559.6L693.0 557.8L693.3 557.6L693.5 552.1L694.0 539.2L694.3 532.8L700.0 531.9L700.5 533.6L701.0 534.1L701.5 535.8L702.0 534.9L702.5 534.9L703.0 531.9L703.5 531.9L704.0 531.9L704.5 533.7L704.8 533.5L705.0 535.0L705.5 540.4L706.0 546.0L706.5 550.2L706.8 553.1L707.0 551.2L707.5 545.6L708.0 542.5L708.3 540.3L708.5 540.9L709.0 541.9L709.5 542.0L709.8 541.8L710.0 539.6L710.5 536.8L711.0 534.7L711.3 532.8L714.3 532.8L714.5 534.2L715.0 537.1L715.5 541.6L715.8 543.3L716.0 541.9L716.5 541.3L717.0 537.8L717.3 536.5L717.5 537.1L718.0 539.2L718.5 539.4L718.8 540.3L719.0 540.5L719.5 539.2L720.0 535.8L720.5 535.1L721.0 533.5L721.5 534.0L722.0 533.0L722.5 531.9L723.0 531.9L723.5 531.9L724.0 532.8L724.5 534.5L725.0 535.3L725.5 536.0L725.8 535.8L726.0 536.8L726.5 540.5L727.0 543.5L727.3 545.6L727.5 544.3L728.0 540.0L728.5 537.1L729.0 535.3L729.3 533.5L729.5 533.4L730.0 531.9L730.5 531.9L731.0 532.9L731.5 531.9L734.5 532.8L735.0 537.9L735.5 543.2L736.0 550.1L736.5 550.1L737.0 551.3L737.5 552.3L742.8 552.3L743.0 555.9L743.5 564.4L743.8 569.6L747.3 569.6L747.5 568.4L748.0 565.9L748.5 562.3L748.8 559.8L749.0 558.0L749.5 555.1L750.0 552.7L750.3 550.8L750.5 551.2L751.0 553.2L751.5 554.8L751.8 556.1L752.0 554.4L752.5 549.9L753.0 546.9L753.5 542.0L753.7 540.3L754.0 542.6L754.5 546.9L754.8 548.6L755.0 546.4L755.5 542.7L756.0 538.4L756.5 535.1L756.7 532.8L759.3 531.9L759.5 533.6L760.0 536.8L760.5 538.5L760.8 539.5L761.0 538.6L761.5 536.7L762.0 534.8L762.3 534.3L762.5 534.6L763.0 533.7L763.5 534.1L764.0 536.1L764.5 536.5L765.0 534.6L765.5 534.4L766.0 532.8L766.5 535.3L767.0 536.3L767.5 540.3L768.0 538.1L768.5 537.6L769.0 534.9L769.3 534.3L769.5 534.3L770.0 535.1L770.5 534.0L771.0 534.1L771.5 534.7L772.0 533.5L772.5 533.0L773.0 533.2L773.5 533.0L774.0 533.1L774.5 532.8L775.0 531.9L775.5 533.2L775.8 532.8L776.0 533.4L776.5 535.2L777.0 538.2L777.3 538.8L777.5 539.2L778.0 542.0L778.5 543.0L779.0 544.3L779.5 544.8L780.0 544.7L780.5 548.2L781.0 547.8L781.5 548.7L782.0 549.7L782.5 549.8L783.0 550.8L783.3 550.8L790.0 550.8L790.5 545.0L791.0 539.5L791.2 537.3L791.5 536.8L792.0 534.7L792.5 533.9L792.7 531.9L805.0 531.9L805.5 538.5L806.0 544.4L806.2 547.8L806.5 549.3L807.0 550.7L807.5 552.8L807.7 553.8L808.0 556.2L808.5 562.7L808.8 566.1L814.8 566.1L815.0 564.3L815.5 559.6L815.8 557.6L816.0 558.7L816.5 559.6L817.0 561.3L817.5 567.8L818.0 571.8L818.5 577.1L819.0 574.1L819.5 570.4L820.0 565.8L820.5 564.0L821.0 564.1L821.5 562.8L822.0 559.0L822.5 555.7L823.0 552.3L823.5 547.6L824.0 542.8L824.5 536.8L824.9 532.8L825.0 531.9L825.5 531.9L826.0 533.5L826.5 539.5L827.0 544.8L827.5 552.2L827.9 556.8L828.0 556.5L828.5 556.8L829.0 556.6L829.4 555.3L830.0 553.8L830.5 548.2L831.0 544.7L831.5 541.8L832.0 539.7L832.5 538.2L833.0 537.4L833.5 535.4L833.8 533.5L834.0 531.9L834.5 531.9L835.0 531.9L835.5 531.9L836.0 531.9L838.7 532.8L839.0 538.3L839.5 549.5L839.8 553.8L840.0 553.7L840.5 554.2L841.0 555.0L841.5 554.3L842.0 553.9L842.5 555.0L842.8 554.6L843.0 555.1L843.5 556.4L844.0 557.9L844.2 559.1L844.5 559.3L845.0 561.2L845.5 562.9L846.0 563.9L846.5 564.0L846.8 563.6L857.0 563.6L857.5 562.7L858.0 559.3L858.2 558.3L858.5 559.0L859.0 560.6L859.5 561.5L859.7 562.1L860.0 563.3L860.5 564.8L861.0 567.7L861.5 568.1L862.0 563.2L862.5 553.5L862.7 550.8L863.0 547.7L863.5 541.8L864.0 536.5L864.2 534.3L864.5 534.4L865.0 534.1L865.5 533.3L866.0 531.9L868.7 532.8L869.0 533.6L869.5 535.2L870.0 538.2L870.2 539.5L870.5 541.3L871.0 544.8L871.3 545.6L871.5 546.4L872.0 548.2L872.5 551.2L872.8 552.6L882.5 552.6L883.3 547.8L883.5 549.1L884.0 551.3L884.3 553.1L884.5 553.8L885.0 555.1L885.5 557.5L886.0 559.4L886.3 560.6L886.5 560.2L887.0 560.8L887.5 561.8L888.0 562.0L888.5 561.9L889.0 559.6L889.5 560.5L890.0 561.0L890.5 558.6L891.0 557.0L891.2 556.1L891.5 557.6L892.0 558.7L892.5 561.8L893.0 563.6L893.5 561.7L894.0 559.4L894.5 556.4L894.8 555.3L895.0 554.7L895.5 551.4L896.0 549.1L896.5 546.9L896.8 544.8L897.0 543.1L897.5 540.0L898.0 536.0L898.3 533.5L898.5 531.9L899.0 533.8L899.5 533.6L900.0 531.9L900.5 532.8L901.0 534.8L901.5 536.8L902.0 539.5L902.3 541.8L902.5 541.7L903.0 538.4L903.5 534.3L904.0 533.5L904.5 531.9L905.0 531.9L905.5 531.9L905.8 531.9L906.0 534.9L906.5 536.4L907.0 537.7L907.3 538.0L907.5 537.0L908.0 535.8L908.5 533.3L909.0 533.4L909.5 531.9L918.5 531.9L919.0 534.7L919.5 537.8L919.7 539.5L920.0 537.8L920.5 535.4L920.8 534.3L921.0 539.4L921.5 548.8L921.8 556.1L922.0 556.5L922.5 556.2L923.0 557.4L923.5 557.0L924.0 555.7L924.5 556.2L925.0 556.0L925.3 556.5L925.5 556.6L926.0 554.2L926.5 551.8L926.8 552.3L927.0 555.2L927.5 557.9L928.0 562.6L928.3 564.6L928.5 564.1L929.0 564.4L929.5 563.9L930.0 562.9L930.2 562.8L930.5 562.2L931.0 560.0L931.5 557.6L931.7 556.8L932.0 555.8L932.5 553.5L933.0 549.6L933.5 547.8L934.0 547.4L934.5 546.4L935.0 544.8L935.5 541.7L936.0 537.0L936.5 532.8L937.0 534.8L937.5 536.8L938.0 539.5L938.3 540.3L938.5 540.4L939.0 541.1L939.5 541.9L940.0 542.5L940.3 543.3L940.5 544.3L941.0 548.6L941.5 549.5L941.8 551.6L942.0 551.5L942.5 550.5L943.0 550.0L943.5 547.6L943.7 547.8L944.0 547.5L944.5 546.0L945.0 543.1L945.5 540.3L946.0 540.3L946.5 541.5L947.0 541.5L947.5 541.9L947.8 541.8L948.0 540.2L948.5 537.8L949.0 534.6L949.5 533.8L949.7 532.8L950.8 532.8L951.5 556.1L952.0 557.1L952.5 556.5L953.0 556.4L953.5 557.3L954.0 557.8L954.5 557.6L955.0 557.2L955.5 557.9L956.0 557.7L956.5 558.3L956.8 559.1L957.0 559.2L957.5 560.7L958.0 561.7L958.5 562.5L959.0 562.8L959.5 563.1L960.0 561.9L960.5 562.8L960.8 563.6L961.0 563.8L961.5 565.0L962.0 566.3L962.3 566.6L971.0 566.6L971.5 569.2L972.0 571.5L972.2 573.3L972.5 573.7L973.0 572.0L973.3 571.8L973.5 572.6L974.0 574.8L974.5 576.5L974.8 577.8L975.0 577.5L975.5 576.6L976.0 575.4L976.3 574.8L976.5 575.4L977.0 578.6L977.5 581.0L977.8 581.6L984.5 581.6L985.0 578.6L985.5 576.4L986.0 573.3L986.5 573.4L987.0 572.0L987.5 571.8L988.0 569.4L988.5 566.8L989.0 564.3L989.5 563.5L990.0 563.8L990.5 563.5L991.0 563.1L991.3 562.1L991.5 560.0L992.0 556.4L992.5 553.1L993.0 550.2L993.5 544.8L994.0 545.8L994.5 543.6L995.0 543.3L995.5 544.5L996.0 544.5L996.5 547.5L996.8 547.8L997.0 548.0L997.5 550.1L998.0 552.1L998.3 553.1L998.5 551.4L999.0 548.7L999.5 544.8L1000.0 541.2L1000.5 536.1L1001.0 532.8L1004.8 531.9L1005.0 533.2L1005.5 532.9L1006.0 533.2L1006.5 533.8L1007.0 535.0L1007.5 535.4L1008.0 535.8L1008.5 534.4L1009.0 533.5L1009.3 532.8L1009.5 532.9L1010.0 533.5L1010.5 534.2L1011.0 533.7L1011.5 534.3L1012.0 537.2L1012.5 542.1L1013.0 544.0L1013.5 546.1L1014.0 544.8L1014.5 545.2L1014.9 545.6L1015.0 544.9L1015.5 542.4L1016.0 539.8L1016.5 538.6L1016.8 537.3L1017.0 536.6L1017.5 536.8L1018.0 533.8L1018.5 534.8L1019.0 532.8L1020.0 532.8L1020.5 535.8L1021.0 538.7L1021.5 541.9L1021.8 544.0L1022.0 544.3L1022.5 545.5L1023.0 545.6L1023.5 545.2L1023.8 545.6L1024.0 544.0L1024.5 540.4L1025.0 536.1L1025.2 534.3L1025.5 534.0L1026.0 533.5L1026.5 533.1L1027.0 533.3L1027.2 533.5L1027.5 536.5L1028.0 541.1L1028.5 543.2L1028.7 544.8L1029.0 545.7L1029.5 546.8L1030.0 548.1L1030.2 549.3L1030.5 548.4L1031.0 547.1L1031.5 545.4L1032.0 543.3L1032.5 540.3L1033.0 536.7L1033.5 535.0L1034.0 533.7L1034.5 533.7L1035.0 531.9L1038.8 532.8L1039.0 533.9L1039.5 537.2L1040.0 540.3L1040.3 541.0L1040.5 540.1L1041.0 537.4L1041.5 536.0L1041.8 535.8L1042.0 536.8L1042.5 539.1L1043.0 540.1L1043.3 540.3L1043.5 539.9L1044.0 540.1L1044.5 540.4L1044.8 541.8L1045.0 542.2L1045.5 540.5L1046.0 538.0L1046.5 536.3L1046.7 535.8L1047.0 539.0L1047.5 544.4L1048.0 550.7L1048.2 553.1L1048.5 552.2L1049.0 549.7L1049.5 545.4L1050.0 543.3L1050.5 538.7L1051.0 536.7L1051.5 532.8L1052.0 540.8L1052.5 548.3L1053.0 554.6L1053.5 553.9L1054.0 555.5L1054.5 556.1L1055.0 556.8L1055.5 556.5L1056.0 555.5L1056.5 555.3L1056.8 555.3L1057.0 555.2L1057.5 556.2L1058.0 555.1L1058.5 553.9L1058.7 553.1L1059.0 550.3L1059.5 545.6L1059.8 544.0L1060.0 544.1L1060.5 542.6L1061.0 542.8L1061.5 542.2L1062.0 541.8L1062.5 542.5L1063.0 545.3L1063.5 545.6L1064.0 545.1L1064.5 543.3L1065.0 540.3L1065.5 540.0L1066.0 540.7L1066.5 542.0L1067.0 541.5L1067.3 541.0L1067.5 539.6L1068.0 538.0L1068.5 535.6L1068.8 535.8L1069.0 536.4L1069.5 534.1L1070.0 532.8L1070.3 532.8L1070.5 533.8L1071.0 536.1L1071.5 537.8L1071.8 538.8L1072.0 540.6L1072.5 543.5L1073.0 545.8L1073.3 547.8L1073.5 548.7L1074.0 549.4L1074.5 550.4L1074.8 551.6L1075.0 552.7L1075.5 554.6L1076.0 556.2L1076.3 556.5L1076.5 555.7L1077.0 554.3L1077.5 553.4L1077.8 553.1L1078.0 553.9L1078.5 555.0L1079.0 556.0L1079.3 556.1L1079.5 554.5L1080.0 555.7L1080.5 553.3L1080.8 552.3L1081.0 552.8L1081.5 554.8L1082.0 555.2L1082.3 556.1L1082.5 558.4L1083.0 562.0L1083.3 564.6L1084.8 564.6L1085.0 561.8L1085.5 552.4L1086.0 544.8L1086.5 541.9L1087.0 537.8L1087.5 533.5L1088.0 533.9L1088.5 533.4L1088.7 532.8L1089.0 537.6L1089.5 547.5L1089.8 553.1L1090.0 552.3L1090.5 552.6L1091.0 551.3L1091.5 551.3L1091.7 550.1L1092.0 546.3L1092.5 542.0L1092.8 539.5L1093.0 539.2L1093.5 536.2L1094.0 534.5L1094.3 532.8L1094.5 534.0L1095.0 536.5L1095.3 538.8L1095.5 541.0L1096.0 546.9L1096.5 550.8L1097.0 552.8L1097.5 555.1L1098.0 557.6L1107.0 557.6L1107.5 555.7L1108.0 551.6L1108.2 550.1L1108.5 550.9L1109.0 552.1L1109.5 552.6L1109.7 552.3L1110.0 553.8L1110.5 558.5L1111.0 563.3L1111.2 565.8L1111.5 565.6L1112.0 563.3L1112.5 561.6L1112.7 561.3L1113.0 559.6L1113.5 554.9L1114.0 550.8L1114.2 549.3L1114.5 546.9L1115.0 542.7L1115.5 538.4L1116.0 532.8L1116.5 533.6L1117.0 533.7L1117.5 534.3L1118.0 537.0L1118.5 539.4L1119.0 541.8L1119.5 545.3L1120.0 549.3L1120.5 552.9L1120.8 555.3L1121.0 555.3L1121.5 555.2L1122.0 554.8L1122.5 552.9L1122.8 553.1L1123.0 553.0L1123.5 553.0L1124.0 553.2L1124.5 551.7L1124.7 551.6L1125.0 552.4L1125.5 554.6L1126.0 554.1L1126.2 554.6L1126.5 555.3L1127.0 556.9L1127.3 556.8L1127.5 559.6L1128.0 565.6L1128.5 573.6L1128.8 577.8L1129.0 574.8L1129.5 567.8L1130.0 563.2L1130.3 559.8L1130.5 558.9L1131.0 555.3L1131.5 553.5L1131.8 552.3L1132.0 551.6L1132.5 550.4L1133.0 547.3L1133.5 543.8L1133.7 543.3L1134.0 541.9L1134.5 539.1L1135.0 536.1L1135.2 534.3L1135.5 534.3L1136.0 533.7L1136.5 533.8L1137.0 532.8L1137.5 533.5L1138.0 534.8L1138.5 535.4L1139.0 534.1L1139.3 534.3L1139.5 534.0L1140.0 533.2L1140.5 533.9L1140.8 532.8L1141.0 531.9L1141.5 533.3L1142.0 533.9L1142.3 534.3L1142.5 535.7L1143.0 539.3L1143.5 542.6L1143.8 544.8L1144.0 543.7L1144.5 542.8L1145.0 538.7L1145.5 535.8L1146.0 532.8L1146.5 534.0L1147.0 535.5L1147.5 534.3L1148.0 540.3L1148.5 547.6L1148.7 550.8L1149.0 554.1L1149.5 560.7L1149.8 564.3L1150.0 565.1L1150.5 567.1L1151.0 567.5L1151.3 568.8L1151.5 568.6L1152.0 567.0L1152.5 568.5L1152.8 568.1L1153.0 564.4L1153.5 555.9L1154.0 548.0L1154.3 543.3L1154.5 541.1L1155.0 535.5L1155.3 532.8L1155.5 533.9L1156.0 537.8L1156.5 540.7L1156.8 543.3L1157.0 544.5L1157.5 547.2L1158.0 548.6L1158.5 545.0L1159.0 543.0L1159.5 540.3L1159.8 538.8L1160.0 539.1L1160.5 540.1L1161.0 540.0L1161.5 541.0L1161.8 541.8L1162.0 541.9L1162.5 540.7L1163.0 540.3L1163.3 539.5L1163.5 539.7L1164.0 540.4L1164.5 540.6L1164.8 541.8L1165.0 541.4L1165.5 539.2L1166.0 537.2L1166.5 535.5L1166.7 533.5L1167.0 535.1L1167.5 537.2L1168.0 541.0L1168.5 544.8L1169.0 548.3L1169.5 551.1L1170.0 557.6L1170.5 554.4L1171.0 553.2L1171.5 551.6L1172.0 552.5L1172.5 554.5L1173.0 557.6L1173.5 559.4L1174.0 560.0L1174.5 562.8L1175.0 563.5L1175.3 565.5L1175.5 566.1L1176.0 566.1L1176.5 566.2L1177.0 565.9L1177.5 565.0L1178.0 564.0L1178.3 565.1L1178.5 563.8L1179.0 558.7L1179.5 554.4L1179.8 552.3L1180.0 549.3L1180.5 553.6L1181.0 559.6L1181.2 561.3L1181.5 562.7L1182.0 567.2L1182.4 570.3L1187.2 570.3L1187.5 567.6L1188.0 563.6L1188.4 560.1L1188.5 559.5L1189.0 556.0L1189.5 555.0L1189.8 552.9L1190.8 544.5L1191.0 545.8L1191.5 551.7L1192.0 554.1L1192.5 552.2L1193.0 550.2L1193.2 548.7L1194.2 545.7L1194.5 550.5L1195.0 554.6L1195.4 557.5L1209.4 557.5L1210.0 569.7L1210.5 570.4L1211.0 570.8L1211.2 571.5L1211.8 588.0L1225.0 588.0L1225.6 575.7L1226.0 577.3L1226.5 580.6L1226.8 581.7L1227.8 594.3L1228.0 594.2L1228.5 594.7L1229.0 593.1L1229.8 581.7L1230.0 585.4L1230.5 593.4L1231.0 600.9L1231.8 599.7L1232.8 585.3L1233.0 584.7L1233.5 583.6L1234.0 579.4L1234.5 577.3L1234.6 576.9L1235.0 575.2L1235.5 571.9L1236.0 569.3L1236.4 567.9L1236.5 569.1L1237.0 576.3L1237.5 583.0L1237.6 584.1L1238.0 583.4L1238.5 584.3L1238.8 584.7L1239.4 593.7L1243.0 593.7L1243.5 589.6L1244.0 584.7L1244.2 582.9L1244.5 582.4L1245.0 582.7L1245.4 580.5L1245.5 580.6L1246.0 582.7L1246.5 585.0L1246.6 585.3L1247.0 581.6L1247.5 577.3L1247.8 573.3L1248.0 573.2L1248.5 575.3L1249.0 575.7L1249.5 573.9L1250.0 572.3L1250.2 571.5L1250.5 568.4L1251.0 564.1L1251.4 560.1L1251.5 559.6L1252.0 556.3L1252.5 554.3L1252.6 553.5L1253.0 555.9L1253.5 558.7L1253.8 560.1L1254.0 560.4L1254.5 560.3L1255.0 561.3L1255.9 573.9L1256.0 573.6L1256.5 572.6L1257.0 572.9L1257.4 572.7L1257.5 572.8L1258.0 570.7L1258.5 571.0L1258.6 570.9L1259.0 568.4L1259.5 566.3L1259.8 563.7L1260.0 564.2L1260.5 567.1L1261.0 570.9L1261.5 569.2L1262.0 567.8L1262.5 565.2L1262.6 564.9L1263.0 565.6L1263.5 566.2L1263.8 567.3L1264.0 566.1L1264.5 562.0L1265.0 558.4L1265.2 557.1L1265.5 556.8L1266.0 558.8L1266.5 558.1L1266.7 557.7L1267.6 565.5L1276.0 565.9L1277.0 561.9L1277.5 568.1L1278.0 574.0L1278.4 576.9L1278.5 576.5L1279.0 575.5L1279.5 576.0L1279.6 575.7L1280.0 573.6L1280.5 570.3L1281.0 568.9L1281.4 564.9L1281.5 564.5L1282.0 562.1L1282.5 562.5L1283.0 561.8L1283.2 561.3L1283.5 560.5L1284.0 559.6L1284.4 558.3L1284.5 558.0L1285.0 559.4L1285.5 557.5L1285.9 554.7L1286.0 554.8L1286.5 557.8L1287.0 561.2L1287.1 561.3L1288.0 564.7L1296.4 564.9L1296.5 564.7L1297.0 564.1L1297.5 563.5L1297.6 563.1L1298.0 563.2L1298.5 565.2L1299.0 565.7L1299.4 565.5L1299.5 565.8L1300.0 567.7L1300.5 569.8L1300.6 569.9L1317.4 569.9L1317.5 569.9L1318.0 569.7L1318.5 568.5L1318.6 568.5L1319.0 570.8L1319.5 573.0L1319.8 573.9L1320.0 573.8L1320.5 575.2L1321.0 576.3L1322.0 561.3L1322.8 559.5L1323.7 570.9L1324.0 578.1" stroke="#000000" stroke-width="1.65"/>
</g>
<line x1="75.5" y1="428.5" x2="1324.4" y2="428.5" stroke="#aaaaaa" stroke-width="1.1"/>
<line x1="75.5" y1="531.4" x2="1324.4" y2="531.4" stroke="#aaaaaa" stroke-width="1.1"/>
<g stroke-width="0.8">
<line x1="85" y1="88.5" x2="105" y2="88.5" stroke="#000000"/>
<line x1="85" y1="101.5" x2="105" y2="101.5" stroke="#DF536B"/>
<line x1="85" y1="114.5" x2="105" y2="114.5" stroke="#61D04F"/>
<line x1="85" y1="127.5" x2="105" y2="127.5" stroke="#2297E6"/>
<line x1="85" y1="140.5" x2="105" y2="140.5" stroke="#28E2E5"/>
</g>
<g font-size="11.5" fill="#333333">
<text x="114.9" y="91.6" textLength="41.5" lengthAdjust="spacingAndGlyphs">SMA_20</text>
<text x="114.9" y="104.6" textLength="41.5" lengthAdjust="spacingAndGlyphs">SMA_50</text>
<text x="114.9" y="117.6" textLength="48.5" lengthAdjust="spacingAndGlyphs">SMA_100</text>
<text x="114.9" y="130.6" textLength="48.5" lengthAdjust="spacingAndGlyphs">SMA_200</text>
<text x="114.9" y="143.6" textLength="33.0" lengthAdjust="spacingAndGlyphs">INDEX</text>
</g>
<text x="523.4" y="33.6" font-size="14.6" font-weight="bold" fill="#000" textLength="381" lengthAdjust="spacingAndGlyphs">Consumer Electronics (EQUAL_WT) SMA Profile</text>
<text x="677.6" y="47.6" font-size="11" fill="#111">long-only</text>
<g font-size="12.6" fill="#000">
<text x="299.4" y="69.0" textLength="70.6" lengthAdjust="spacingAndGlyphs">cumulative:</text>
<text x="374.6" y="69.0" textLength="62.0" lengthAdjust="spacingAndGlyphs">2590.32%</text>
<text x="442.8" y="69.0" text-anchor="middle">/</text>
<text x="449.4" y="69.0" textLength="62.0" lengthAdjust="spacingAndGlyphs">3526.77%</text>
<text x="517.6" y="69.0" text-anchor="middle">/</text>
<text x="524.2" y="69.0" textLength="62.0" lengthAdjust="spacingAndGlyphs">3281.29%</text>
<text x="592.4" y="69.0" text-anchor="middle">/</text>
<text x="599.0" y="69.0" textLength="62.0" lengthAdjust="spacingAndGlyphs">2833.69%</text>
<text x="667.2" y="69.0" text-anchor="middle">/</text>
<text x="673.8" y="69.0" textLength="65.0" lengthAdjust="spacingAndGlyphs">3668.08%;</text>
<text x="746.0" y="69.0" textLength="67.0" lengthAdjust="spacingAndGlyphs">annualized:</text>
<text x="818.6" y="69.0" textLength="46.0" lengthAdjust="spacingAndGlyphs">38.90%</text>
<text x="871.2" y="69.0" text-anchor="middle">/</text>
<text x="877.8" y="69.0" textLength="46.0" lengthAdjust="spacingAndGlyphs">43.10%</text>
<text x="930.4" y="69.0" text-anchor="middle">/</text>
<text x="936.9" y="69.0" textLength="46.0" lengthAdjust="spacingAndGlyphs">42.10%</text>
<text x="989.5" y="69.0" text-anchor="middle">/</text>
<text x="996.0" y="69.0" textLength="46.0" lengthAdjust="spacingAndGlyphs">40.10%</text>
<text x="1048.7" y="69.0" text-anchor="middle">/</text>
<text x="1055.2" y="69.0" textLength="46.0" lengthAdjust="spacingAndGlyphs">43.65%</text>
</g>
<text x="1180.4" y="49.3" font-size="11.5" fill="#333333" textLength="137.2" lengthAdjust="spacingAndGlyphs">2015-10-20 / 2026-01-09</text>
<text x="1180.4" y="516.1" font-size="11.5" fill="#333333" textLength="137.2" lengthAdjust="spacingAndGlyphs">2015-10-20 / 2026-01-09</text>
<text transform="translate(1383.6,653.0) rotate(-90)" font-size="12.6" fill="#c9c9c9" textLength="62" lengthAdjust="spacingAndGlyphs">@StockViz</text>
</svg></body></html>
